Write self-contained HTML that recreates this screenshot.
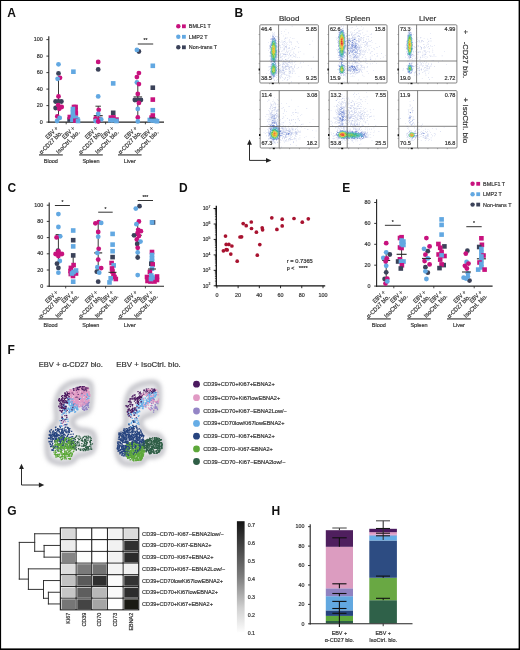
<!DOCTYPE html><html><head><meta charset="utf-8"><title>Figure</title><style>html,body{margin:0;padding:0;background:#fff;}svg{display:block;will-change:transform;} text{font-family:"Liberation Sans",sans-serif;stroke:#333;stroke-width:0.2px;} text.pl{stroke:none;}</style></head><body>
<svg width="520" height="650" viewBox="0 0 520 650" font-family="Liberation Sans, sans-serif">
<defs><filter id="blur4" x="-30%" y="-30%" width="160%" height="160%"><feGaussianBlur stdDeviation="3.6"/></filter><filter id="blur3" x="-30%" y="-30%" width="160%" height="160%"><feGaussianBlur stdDeviation="2.6"/></filter><filter id="blur2" x="-30%" y="-30%" width="160%" height="160%"><feGaussianBlur stdDeviation="2.1"/></filter></defs>
<rect x="0" y="0" width="520" height="650" fill="#ffffff"/>
<text x="7.3" y="16.9" font-size="12" font-weight="bold" fill="#111" class="pl">A</text>
<line x1="48.8" y1="36.3" x2="48.8" y2="122.7" stroke="#222" stroke-width="1.1"/>
<line x1="46.4" y1="122.1" x2="48.8" y2="122.1" stroke="#222" stroke-width="0.9"/>
<text x="42.8" y="123.6" font-size="5.4" text-anchor="end" fill="#3a3a3a">0</text>
<line x1="46.4" y1="105.6" x2="48.8" y2="105.6" stroke="#222" stroke-width="0.9"/>
<text x="42.8" y="107.1" font-size="5.4" text-anchor="end" fill="#3a3a3a">20</text>
<line x1="46.4" y1="89.1" x2="48.8" y2="89.1" stroke="#222" stroke-width="0.9"/>
<text x="42.8" y="90.6" font-size="5.4" text-anchor="end" fill="#3a3a3a">40</text>
<line x1="46.4" y1="72.6" x2="48.8" y2="72.6" stroke="#222" stroke-width="0.9"/>
<text x="42.8" y="74.1" font-size="5.4" text-anchor="end" fill="#3a3a3a">60</text>
<line x1="46.4" y1="56.1" x2="48.8" y2="56.1" stroke="#222" stroke-width="0.9"/>
<text x="42.8" y="57.6" font-size="5.4" text-anchor="end" fill="#3a3a3a">80</text>
<line x1="46.4" y1="39.6" x2="48.8" y2="39.6" stroke="#222" stroke-width="0.9"/>
<text x="42.8" y="41.1" font-size="5.4" text-anchor="end" fill="#3a3a3a">100</text>
<line x1="48.3" y1="122.1" x2="164" y2="122.1" stroke="#222" stroke-width="1.1"/>
<line x1="66.2" y1="122.1" x2="66.2" y2="124.3" stroke="#222" stroke-width="0.8"/>
<line x1="105.6" y1="122.1" x2="105.6" y2="124.3" stroke="#222" stroke-width="0.8"/>
<line x1="145.4" y1="122.1" x2="145.4" y2="124.3" stroke="#222" stroke-width="0.8"/>
<g transform="translate(58.3 128.8) rotate(-45)">
<text x="0" y="0" font-size="6" text-anchor="end" fill="#3a3a3a" textLength="15" lengthAdjust="spacingAndGlyphs">EBV +</text>
<text x="-0.2" y="6.3" font-size="6" text-anchor="end" fill="#3a3a3a" textLength="30" lengthAdjust="spacingAndGlyphs">α-CD27 blo.</text>
</g>
<g transform="translate(75.1 128.8) rotate(-45)">
<text x="0" y="0" font-size="6" text-anchor="end" fill="#3a3a3a" textLength="15" lengthAdjust="spacingAndGlyphs">EBV +</text>
<text x="0.8" y="6.3" font-size="6" text-anchor="end" fill="#3a3a3a" textLength="30.5" lengthAdjust="spacingAndGlyphs">IsoCtrl. blo.</text>
</g>
<g transform="translate(97.9 128.8) rotate(-45)">
<text x="0" y="0" font-size="6" text-anchor="end" fill="#3a3a3a" textLength="15" lengthAdjust="spacingAndGlyphs">EBV +</text>
<text x="-0.2" y="6.3" font-size="6" text-anchor="end" fill="#3a3a3a" textLength="30" lengthAdjust="spacingAndGlyphs">α-CD27 blo.</text>
</g>
<g transform="translate(114.1 128.8) rotate(-45)">
<text x="0" y="0" font-size="6" text-anchor="end" fill="#3a3a3a" textLength="15" lengthAdjust="spacingAndGlyphs">EBV +</text>
<text x="0.8" y="6.3" font-size="6" text-anchor="end" fill="#3a3a3a" textLength="30.5" lengthAdjust="spacingAndGlyphs">IsoCtrl. blo.</text>
</g>
<g transform="translate(137.4 128.8) rotate(-45)">
<text x="0" y="0" font-size="6" text-anchor="end" fill="#3a3a3a" textLength="15" lengthAdjust="spacingAndGlyphs">EBV +</text>
<text x="-0.2" y="6.3" font-size="6" text-anchor="end" fill="#3a3a3a" textLength="30" lengthAdjust="spacingAndGlyphs">α-CD27 blo.</text>
</g>
<g transform="translate(153.9 128.8) rotate(-45)">
<text x="0" y="0" font-size="6" text-anchor="end" fill="#3a3a3a" textLength="15" lengthAdjust="spacingAndGlyphs">EBV +</text>
<text x="0.8" y="6.3" font-size="6" text-anchor="end" fill="#3a3a3a" textLength="30.5" lengthAdjust="spacingAndGlyphs">IsoCtrl. blo.</text>
</g>
<line x1="39" y1="154.9" x2="62.8" y2="154.9" stroke="#5c5c5c" stroke-width="1.4"/>
<text x="50.9" y="162.9" font-size="5.5" text-anchor="middle" fill="#3a3a3a">Blood</text>
<line x1="79.2" y1="154.9" x2="102.8" y2="154.9" stroke="#5c5c5c" stroke-width="1.4"/>
<text x="91" y="162.9" font-size="5.5" text-anchor="middle" fill="#3a3a3a">Spleen</text>
<line x1="118" y1="154.9" x2="141.6" y2="154.9" stroke="#5c5c5c" stroke-width="1.4"/>
<text x="129.8" y="162.9" font-size="5.5" text-anchor="middle" fill="#3a3a3a">Liver</text>
<line x1="58.5" y1="79" x2="58.5" y2="116" stroke="#222" stroke-width="0.9"/>
<circle cx="58.5" cy="64.3" r="2.4" fill="#62a8e2"/>
<circle cx="58.5" cy="73.4" r="2.4" fill="#3b4259"/>
<circle cx="60" cy="77.8" r="2.4" fill="#c8127e"/>
<circle cx="57.6" cy="78.8" r="2.4" fill="#62a8e2"/>
<circle cx="58.5" cy="96.4" r="2.4" fill="#c8127e"/>
<circle cx="55.6" cy="101.5" r="2.4" fill="#3b4259"/>
<circle cx="58.5" cy="101.5" r="2.4" fill="#3b4259"/>
<circle cx="61.4" cy="101.5" r="2.4" fill="#3b4259"/>
<circle cx="55.6" cy="108" r="2.4" fill="#3b4259"/>
<circle cx="58.2" cy="105.2" r="2.4" fill="#c8127e"/>
<circle cx="61.7" cy="107" r="2.4" fill="#c8127e"/>
<circle cx="59.2" cy="108.8" r="2.4" fill="#c8127e"/>
<circle cx="57.3" cy="116.4" r="2.4" fill="#c8127e"/>
<circle cx="59.7" cy="117.9" r="2.4" fill="#62a8e2"/>
<circle cx="57.1" cy="121" r="2.4" fill="#62a8e2"/>
<rect x="71.1" y="69.4" width="4.6" height="4.6" fill="#62a8e2"/>
<rect x="71.7" y="104.7" width="4.6" height="4.6" fill="#c8127e"/>
<rect x="73.3" y="104.7" width="4.6" height="4.6" fill="#c8127e"/>
<rect x="73.3" y="107.7" width="4.6" height="4.6" fill="#c8127e"/>
<rect x="73.5" y="111.2" width="4.6" height="4.6" fill="#c8127e"/>
<rect x="70.6" y="106.7" width="4.6" height="4.6" fill="#62a8e2"/>
<rect x="70.6" y="110.5" width="4.6" height="4.6" fill="#62a8e2"/>
<rect x="67.3" y="117.3" width="4.6" height="4.6" fill="#3b4259"/>
<rect x="67.5" y="114.7" width="4.6" height="4.6" fill="#c8127e"/>
<rect x="73.6" y="115.6" width="4.6" height="4.6" fill="#62a8e2"/>
<rect x="75.1" y="117.1" width="4.6" height="4.6" fill="#62a8e2"/>
<rect x="70.1" y="117.5" width="4.6" height="4.6" fill="#62a8e2"/>
<rect x="73.1" y="118.3" width="4.6" height="4.6" fill="#c8127e"/>
<rect x="70.7" y="113.7" width="4.6" height="4.6" fill="#62a8e2"/>
<rect x="75.7" y="118.7" width="4.6" height="4.6" fill="#62a8e2"/>
<line x1="98.2" y1="106.2" x2="98.2" y2="121" stroke="#222" stroke-width="0.9"/>
<line x1="95.45" y1="106.2" x2="100.95" y2="106.2" stroke="#222" stroke-width="0.9"/>
<line x1="93.7" y1="115.7" x2="102.7" y2="115.7" stroke="#222" stroke-width="1.1"/>
<circle cx="98.2" cy="61.9" r="2.4" fill="#c8127e"/>
<circle cx="98.2" cy="69.4" r="2.4" fill="#3b4259"/>
<circle cx="98.2" cy="96.4" r="2.4" fill="#62a8e2"/>
<circle cx="98.7" cy="109.8" r="2.4" fill="#c8127e"/>
<circle cx="98.2" cy="113.8" r="2.4" fill="#62a8e2"/>
<circle cx="95.6" cy="118.4" r="2.4" fill="#c8127e"/>
<circle cx="99.7" cy="118.9" r="2.4" fill="#c8127e"/>
<circle cx="101.2" cy="119.4" r="2.4" fill="#62a8e2"/>
<circle cx="95.6" cy="121" r="2.4" fill="#62a8e2"/>
<circle cx="98.2" cy="121.5" r="2.4" fill="#c8127e"/>
<rect x="110.9" y="81.1" width="4.6" height="4.6" fill="#62a8e2"/>
<rect x="110.9" y="110.5" width="4.6" height="4.6" fill="#3b4259"/>
<rect x="108.6" y="115.3" width="4.6" height="4.6" fill="#c8127e"/>
<rect x="111.2" y="115.1" width="4.6" height="4.6" fill="#c8127e"/>
<rect x="114.2" y="117.3" width="4.6" height="4.6" fill="#c8127e"/>
<rect x="108.1" y="117.9" width="4.6" height="4.6" fill="#62a8e2"/>
<rect x="110.9" y="117.9" width="4.6" height="4.6" fill="#62a8e2"/>
<rect x="114.2" y="118.7" width="4.6" height="4.6" fill="#62a8e2"/>
<line x1="137.8" y1="84" x2="137.8" y2="117" stroke="#222" stroke-width="0.9"/>
<line x1="132.8" y1="98.9" x2="142.8" y2="98.9" stroke="#222" stroke-width="1.1"/>
<line x1="133.5" y1="96.9" x2="142.1" y2="96.9" stroke="#222" stroke-width="0.9"/>
<circle cx="138.9" cy="51.5" r="2.4" fill="#3b4259"/>
<circle cx="136.9" cy="49.9" r="2.4" fill="#62a8e2"/>
<circle cx="138.9" cy="73.1" r="2.4" fill="#c8127e"/>
<circle cx="136.9" cy="77.1" r="2.4" fill="#c8127e"/>
<circle cx="136.9" cy="82.4" r="2.4" fill="#62a8e2"/>
<circle cx="138.9" cy="84.1" r="2.4" fill="#c8127e"/>
<circle cx="137.8" cy="93.9" r="2.4" fill="#c8127e"/>
<circle cx="134.9" cy="100" r="2.4" fill="#3b4259"/>
<circle cx="137.8" cy="100" r="2.4" fill="#3b4259"/>
<circle cx="140.9" cy="100" r="2.4" fill="#3b4259"/>
<circle cx="138.9" cy="102.9" r="2.4" fill="#c8127e"/>
<circle cx="137.8" cy="108.9" r="2.4" fill="#62a8e2"/>
<circle cx="137.8" cy="117.5" r="2.4" fill="#c8127e"/>
<circle cx="137.8" cy="121.4" r="2.4" fill="#62a8e2"/>
<rect x="150.5" y="63.5" width="4.6" height="4.6" fill="#62a8e2"/>
<rect x="150.5" y="85.4" width="4.6" height="4.6" fill="#3b4259"/>
<rect x="150.5" y="97.3" width="4.6" height="4.6" fill="#c8127e"/>
<rect x="150.5" y="107.9" width="4.6" height="4.6" fill="#62a8e2"/>
<rect x="150.5" y="113.2" width="4.6" height="4.6" fill="#c8127e"/>
<rect x="149.3" y="115.3" width="4.6" height="4.6" fill="#c8127e"/>
<rect x="147.5" y="117.7" width="4.6" height="4.6" fill="#62a8e2"/>
<rect x="150.5" y="118.2" width="4.6" height="4.6" fill="#62a8e2"/>
<rect x="153.3" y="118.5" width="4.6" height="4.6" fill="#62a8e2"/>
<rect x="154.7" y="118.9" width="4.6" height="4.6" fill="#62a8e2"/>
<line x1="149.5" y1="118" x2="156.1" y2="118" stroke="#222" stroke-width="0.9"/>
<line x1="137.8" y1="44" x2="153.2" y2="44" stroke="#333" stroke-width="1"/>
<text x="145.5" y="42.4" font-size="5" text-anchor="middle" fill="#333">**</text>
<circle cx="178.3" cy="26.3" r="2.2" fill="#c8127e"/>
<rect x="182" y="24.4" width="3.8" height="3.8" fill="#c8127e"/>
<text x="188.8" y="28.2" font-size="5.4" fill="#3a3a3a">BMLF1 T</text>
<circle cx="178.3" cy="36.8" r="2.2" fill="#62a8e2"/>
<rect x="182" y="34.9" width="3.8" height="3.8" fill="#62a8e2"/>
<text x="188.8" y="38.7" font-size="5.4" fill="#3a3a3a">LMP2 T</text>
<circle cx="178.3" cy="47.3" r="2.2" fill="#3b4259"/>
<rect x="182" y="45.4" width="3.8" height="3.8" fill="#3b4259"/>
<text x="188.8" y="49.2" font-size="5.4" fill="#3a3a3a">Non-trans T</text>
<text x="234.5" y="16.9" font-size="12" font-weight="bold" fill="#111" class="pl">B</text>
<text x="289.2" y="20.9" font-size="8" text-anchor="middle" fill="#333">Blood</text>
<text x="357.8" y="20.9" font-size="8" text-anchor="middle" fill="#333">Spleen</text>
<text x="427.6" y="20.9" font-size="8" text-anchor="middle" fill="#333">Liver</text>
<rect x="259.8" y="24.8" width="58.6" height="58.2" fill="#ffffff"/>
<path d="M291.8 25.8h.62v.62h-.62zM285.6 28.9h.62v.62h-.62zM281.3 31.4h.62v.62h-.62zM284.4 31.4h.62v.62h-.62zM272.0 32.6h.62v.62h-.62zM274.4 32.6h.62v.62h-.62zM288.1 32.6h.62v.62h-.62zM273.2 33.2h.62v.62h-.62zM281.3 33.2h.62v.62h-.62zM273.2 33.9h.62v.62h-.62zM274.4 33.9h.62v.62h-.62zM285.6 33.9h.62v.62h-.62zM272.0 34.5h.62v.62h-.62zM278.8 34.5h.62v.62h-.62zM272.0 35.1h.62v.62h-.62zM273.8 35.1h.62v.62h-.62zM270.1 35.7h.62v.62h-.62zM272.0 35.7h.62v.62h-.62zM273.2 35.7h.62v.62h-.62zM283.1 35.7h.62v.62h-.62zM272.0 36.3h.62v.62h-.62zM275.1 36.3h.62v.62h-.62zM275.7 36.3h.62v.62h-.62zM276.9 36.3h.62v.62h-.62zM272.0 37.0h.62v.62h-.62zM279.4 37.0h.62v.62h-.62zM285.0 37.0h.62v.62h-.62zM289.9 37.0h.62v.62h-.62zM277.5 37.6h.62v.62h-.62zM286.8 37.6h.62v.62h-.62zM270.7 38.2h.62v.62h-.62zM285.0 38.2h.62v.62h-.62zM285.6 38.2h.62v.62h-.62zM292.4 38.2h.62v.62h-.62zM293.7 38.2h.62v.62h-.62zM270.7 38.8h.62v.62h-.62zM275.7 38.8h.62v.62h-.62zM279.4 38.8h.62v.62h-.62zM284.4 38.8h.62v.62h-.62zM270.1 39.4h.62v.62h-.62zM270.7 39.4h.62v.62h-.62zM279.4 39.4h.62v.62h-.62zM289.3 39.4h.62v.62h-.62zM281.3 40.7h.62v.62h-.62zM282.5 40.7h.62v.62h-.62zM285.0 40.7h.62v.62h-.62zM288.7 40.7h.62v.62h-.62zM289.3 40.7h.62v.62h-.62zM312.3 40.7h.62v.62h-.62zM276.9 41.3h.62v.62h-.62zM279.4 41.3h.62v.62h-.62zM283.7 41.3h.62v.62h-.62zM284.4 41.3h.62v.62h-.62zM290.6 41.3h.62v.62h-.62zM296.8 41.3h.62v.62h-.62zM280.6 41.9h.62v.62h-.62zM282.5 41.9h.62v.62h-.62zM285.0 41.9h.62v.62h-.62zM289.3 41.9h.62v.62h-.62zM290.6 41.9h.62v.62h-.62zM291.2 41.9h.62v.62h-.62zM268.2 42.5h.62v.62h-.62zM278.2 42.5h.62v.62h-.62zM283.1 42.5h.62v.62h-.62zM286.8 42.5h.62v.62h-.62zM297.4 42.5h.62v.62h-.62zM276.9 43.2h.62v.62h-.62zM284.4 43.2h.62v.62h-.62zM286.2 43.2h.62v.62h-.62zM298.0 43.2h.62v.62h-.62zM276.3 43.8h.62v.62h-.62zM277.5 43.8h.62v.62h-.62zM278.2 43.8h.62v.62h-.62zM281.9 43.8h.62v.62h-.62zM283.7 43.8h.62v.62h-.62zM291.2 43.8h.62v.62h-.62zM270.1 44.4h.62v.62h-.62zM278.8 44.4h.62v.62h-.62zM281.9 44.4h.62v.62h-.62zM285.6 44.4h.62v.62h-.62zM287.5 44.4h.62v.62h-.62zM309.2 44.4h.62v.62h-.62zM309.8 44.4h.62v.62h-.62zM269.5 45.0h.62v.62h-.62zM278.8 45.0h.62v.62h-.62zM286.2 45.0h.62v.62h-.62zM289.3 45.0h.62v.62h-.62zM269.5 45.6h.62v.62h-.62zM276.9 45.6h.62v.62h-.62zM279.4 45.6h.62v.62h-.62zM280.0 45.6h.62v.62h-.62zM283.1 45.6h.62v.62h-.62zM284.4 45.6h.62v.62h-.62zM269.5 46.3h.62v.62h-.62zM277.5 46.3h.62v.62h-.62zM278.2 46.3h.62v.62h-.62zM285.0 46.3h.62v.62h-.62zM285.6 46.3h.62v.62h-.62zM286.2 46.3h.62v.62h-.62zM295.5 46.3h.62v.62h-.62zM269.5 46.9h.62v.62h-.62zM276.9 46.9h.62v.62h-.62zM277.5 46.9h.62v.62h-.62zM278.2 46.9h.62v.62h-.62zM280.6 46.9h.62v.62h-.62zM282.5 46.9h.62v.62h-.62zM286.2 46.9h.62v.62h-.62zM288.7 46.9h.62v.62h-.62zM292.4 46.9h.62v.62h-.62zM298.0 46.9h.62v.62h-.62zM298.6 46.9h.62v.62h-.62zM280.0 47.5h.62v.62h-.62zM284.4 47.5h.62v.62h-.62zM285.0 47.5h.62v.62h-.62zM286.2 47.5h.62v.62h-.62zM289.3 47.5h.62v.62h-.62zM268.9 48.1h.62v.62h-.62zM278.2 48.1h.62v.62h-.62zM284.4 48.1h.62v.62h-.62zM288.1 48.1h.62v.62h-.62zM289.3 48.1h.62v.62h-.62zM294.3 48.1h.62v.62h-.62zM269.5 48.7h.62v.62h-.62zM276.9 48.7h.62v.62h-.62zM280.0 48.7h.62v.62h-.62zM283.1 48.7h.62v.62h-.62zM283.7 48.7h.62v.62h-.62zM286.2 48.7h.62v.62h-.62zM286.8 48.7h.62v.62h-.62zM291.8 48.7h.62v.62h-.62zM293.7 48.7h.62v.62h-.62zM277.5 49.4h.62v.62h-.62zM278.2 49.4h.62v.62h-.62zM278.8 49.4h.62v.62h-.62zM283.7 49.4h.62v.62h-.62zM284.4 49.4h.62v.62h-.62zM291.8 49.4h.62v.62h-.62zM268.2 50.0h.62v.62h-.62zM277.5 50.0h.62v.62h-.62zM286.2 50.0h.62v.62h-.62zM288.7 50.0h.62v.62h-.62zM276.9 50.6h.62v.62h-.62zM278.2 50.6h.62v.62h-.62zM278.8 50.6h.62v.62h-.62zM281.9 50.6h.62v.62h-.62zM283.7 50.6h.62v.62h-.62zM290.6 50.6h.62v.62h-.62zM276.9 51.2h.62v.62h-.62zM278.2 51.2h.62v.62h-.62zM278.8 51.2h.62v.62h-.62zM279.4 51.2h.62v.62h-.62zM281.3 51.2h.62v.62h-.62zM286.2 51.2h.62v.62h-.62zM286.8 51.2h.62v.62h-.62zM288.1 51.2h.62v.62h-.62zM299.9 51.2h.62v.62h-.62zM279.4 51.8h.62v.62h-.62zM293.0 51.8h.62v.62h-.62zM298.0 51.8h.62v.62h-.62zM269.5 52.5h.62v.62h-.62zM276.9 52.5h.62v.62h-.62zM277.5 52.5h.62v.62h-.62zM285.0 52.5h.62v.62h-.62zM286.8 52.5h.62v.62h-.62zM287.5 52.5h.62v.62h-.62zM289.9 52.5h.62v.62h-.62zM276.9 53.1h.62v.62h-.62zM280.6 53.1h.62v.62h-.62zM282.5 53.1h.62v.62h-.62zM283.7 53.1h.62v.62h-.62zM289.3 53.1h.62v.62h-.62zM293.7 53.1h.62v.62h-.62zM278.2 53.7h.62v.62h-.62zM285.6 53.7h.62v.62h-.62zM287.5 53.7h.62v.62h-.62zM303.6 53.7h.62v.62h-.62zM276.9 54.3h.62v.62h-.62zM277.5 54.3h.62v.62h-.62zM280.0 54.3h.62v.62h-.62zM283.1 54.3h.62v.62h-.62zM283.7 54.3h.62v.62h-.62zM284.4 54.3h.62v.62h-.62zM285.0 54.3h.62v.62h-.62zM285.6 54.3h.62v.62h-.62zM286.8 54.3h.62v.62h-.62zM289.3 54.3h.62v.62h-.62zM291.8 54.3h.62v.62h-.62zM295.5 54.3h.62v.62h-.62zM269.5 54.9h.62v.62h-.62zM276.9 54.9h.62v.62h-.62zM278.2 54.9h.62v.62h-.62zM278.8 54.9h.62v.62h-.62zM288.1 54.9h.62v.62h-.62zM290.6 54.9h.62v.62h-.62zM278.2 55.6h.62v.62h-.62zM280.0 55.6h.62v.62h-.62zM282.5 55.6h.62v.62h-.62zM285.6 55.6h.62v.62h-.62zM289.9 55.6h.62v.62h-.62zM290.6 55.6h.62v.62h-.62zM293.0 55.6h.62v.62h-.62zM295.5 55.6h.62v.62h-.62zM269.5 56.2h.62v.62h-.62zM270.1 56.2h.62v.62h-.62zM277.5 56.2h.62v.62h-.62zM281.3 56.2h.62v.62h-.62zM282.5 56.2h.62v.62h-.62zM285.6 56.2h.62v.62h-.62zM293.7 56.2h.62v.62h-.62zM294.3 56.2h.62v.62h-.62zM276.3 56.8h.62v.62h-.62zM276.9 56.8h.62v.62h-.62zM280.0 56.8h.62v.62h-.62zM284.4 56.8h.62v.62h-.62zM288.7 56.8h.62v.62h-.62zM295.5 56.8h.62v.62h-.62zM312.9 56.8h.62v.62h-.62zM276.3 57.4h.62v.62h-.62zM277.5 57.4h.62v.62h-.62zM278.2 57.4h.62v.62h-.62zM280.0 57.4h.62v.62h-.62zM281.3 57.4h.62v.62h-.62zM291.8 57.4h.62v.62h-.62zM297.4 57.4h.62v.62h-.62zM299.2 57.4h.62v.62h-.62zM276.3 58.0h.62v.62h-.62zM282.5 58.0h.62v.62h-.62zM288.1 58.0h.62v.62h-.62zM270.1 58.7h.62v.62h-.62zM280.6 58.7h.62v.62h-.62zM286.8 58.7h.62v.62h-.62zM277.5 59.3h.62v.62h-.62zM281.9 59.3h.62v.62h-.62zM285.0 59.3h.62v.62h-.62zM285.6 59.3h.62v.62h-.62zM290.6 59.3h.62v.62h-.62zM269.5 59.9h.62v.62h-.62zM270.1 59.9h.62v.62h-.62zM276.3 59.9h.62v.62h-.62zM279.4 59.9h.62v.62h-.62zM280.6 59.9h.62v.62h-.62zM291.8 59.9h.62v.62h-.62zM276.9 60.5h.62v.62h-.62zM278.8 60.5h.62v.62h-.62zM279.4 60.5h.62v.62h-.62zM280.6 60.5h.62v.62h-.62zM281.3 60.5h.62v.62h-.62zM283.1 60.5h.62v.62h-.62zM286.2 60.5h.62v.62h-.62zM287.5 60.5h.62v.62h-.62zM289.3 60.5h.62v.62h-.62zM278.2 61.1h.62v.62h-.62zM283.1 61.1h.62v.62h-.62zM284.4 61.1h.62v.62h-.62zM285.6 61.1h.62v.62h-.62zM289.3 61.1h.62v.62h-.62zM295.5 61.1h.62v.62h-.62zM270.1 61.8h.62v.62h-.62zM270.7 61.8h.62v.62h-.62zM286.8 61.8h.62v.62h-.62zM288.7 61.8h.62v.62h-.62zM291.2 61.8h.62v.62h-.62zM292.4 61.8h.62v.62h-.62zM294.3 61.8h.62v.62h-.62zM275.7 62.4h.62v.62h-.62zM276.9 62.4h.62v.62h-.62zM278.2 62.4h.62v.62h-.62zM282.5 62.4h.62v.62h-.62zM283.1 62.4h.62v.62h-.62zM284.4 62.4h.62v.62h-.62zM285.0 62.4h.62v.62h-.62zM285.6 62.4h.62v.62h-.62zM288.1 62.4h.62v.62h-.62zM288.7 62.4h.62v.62h-.62zM289.3 62.4h.62v.62h-.62zM289.9 62.4h.62v.62h-.62zM300.5 62.4h.62v.62h-.62zM303.0 62.4h.62v.62h-.62zM279.4 63.0h.62v.62h-.62zM281.9 63.0h.62v.62h-.62zM283.1 63.0h.62v.62h-.62zM285.0 63.0h.62v.62h-.62zM286.8 63.0h.62v.62h-.62zM289.9 63.0h.62v.62h-.62zM291.8 63.0h.62v.62h-.62zM299.9 63.0h.62v.62h-.62zM277.5 63.6h.62v.62h-.62zM278.2 63.6h.62v.62h-.62zM283.1 63.6h.62v.62h-.62zM283.7 63.6h.62v.62h-.62zM286.2 63.6h.62v.62h-.62zM286.8 63.6h.62v.62h-.62zM276.3 64.2h.62v.62h-.62zM280.0 64.2h.62v.62h-.62zM281.9 64.2h.62v.62h-.62zM282.5 64.2h.62v.62h-.62zM283.7 64.2h.62v.62h-.62zM284.4 64.2h.62v.62h-.62zM286.8 64.2h.62v.62h-.62zM287.5 64.2h.62v.62h-.62zM288.1 64.2h.62v.62h-.62zM291.8 64.2h.62v.62h-.62zM295.5 64.2h.62v.62h-.62zM278.8 64.9h.62v.62h-.62zM279.4 64.9h.62v.62h-.62zM282.5 64.9h.62v.62h-.62zM285.6 64.9h.62v.62h-.62zM288.7 64.9h.62v.62h-.62zM276.3 65.5h.62v.62h-.62zM278.2 65.5h.62v.62h-.62zM278.8 65.5h.62v.62h-.62zM280.0 65.5h.62v.62h-.62zM285.0 65.5h.62v.62h-.62zM286.8 65.5h.62v.62h-.62zM287.5 65.5h.62v.62h-.62zM294.3 65.5h.62v.62h-.62zM307.9 65.5h.62v.62h-.62zM268.9 66.1h.62v.62h-.62zM270.1 66.1h.62v.62h-.62zM276.9 66.1h.62v.62h-.62zM277.5 66.1h.62v.62h-.62zM281.9 66.1h.62v.62h-.62zM282.5 66.1h.62v.62h-.62zM283.7 66.1h.62v.62h-.62zM285.0 66.1h.62v.62h-.62zM285.6 66.1h.62v.62h-.62zM286.2 66.1h.62v.62h-.62zM286.8 66.1h.62v.62h-.62zM287.5 66.1h.62v.62h-.62zM288.1 66.1h.62v.62h-.62zM289.9 66.1h.62v.62h-.62zM291.2 66.1h.62v.62h-.62zM294.3 66.1h.62v.62h-.62zM268.2 66.7h.62v.62h-.62zM269.5 66.7h.62v.62h-.62zM280.6 66.7h.62v.62h-.62zM282.5 66.7h.62v.62h-.62zM285.6 66.7h.62v.62h-.62zM288.7 66.7h.62v.62h-.62zM291.2 66.7h.62v.62h-.62zM291.8 66.7h.62v.62h-.62zM301.1 66.7h.62v.62h-.62zM281.9 67.3h.62v.62h-.62zM283.1 67.3h.62v.62h-.62zM284.4 67.3h.62v.62h-.62zM285.0 67.3h.62v.62h-.62zM288.7 67.3h.62v.62h-.62zM289.3 67.3h.62v.62h-.62zM290.6 67.3h.62v.62h-.62zM294.3 67.3h.62v.62h-.62zM298.0 67.3h.62v.62h-.62zM277.5 68.0h.62v.62h-.62zM278.2 68.0h.62v.62h-.62zM281.9 68.0h.62v.62h-.62zM288.1 68.0h.62v.62h-.62zM288.7 68.0h.62v.62h-.62zM292.4 68.0h.62v.62h-.62zM293.0 68.0h.62v.62h-.62zM296.8 68.0h.62v.62h-.62zM270.1 68.6h.62v.62h-.62zM277.5 68.6h.62v.62h-.62zM280.0 68.6h.62v.62h-.62zM283.1 68.6h.62v.62h-.62zM285.0 68.6h.62v.62h-.62zM286.2 68.6h.62v.62h-.62zM289.3 68.6h.62v.62h-.62zM291.8 68.6h.62v.62h-.62zM311.0 68.6h.62v.62h-.62zM269.5 69.2h.62v.62h-.62zM276.9 69.2h.62v.62h-.62zM278.8 69.2h.62v.62h-.62zM279.4 69.2h.62v.62h-.62zM281.9 69.2h.62v.62h-.62zM285.0 69.2h.62v.62h-.62zM285.6 69.2h.62v.62h-.62zM286.2 69.2h.62v.62h-.62zM287.5 69.2h.62v.62h-.62zM289.3 69.2h.62v.62h-.62zM293.0 69.2h.62v.62h-.62zM278.2 69.8h.62v.62h-.62zM278.8 69.8h.62v.62h-.62zM279.4 69.8h.62v.62h-.62zM280.6 69.8h.62v.62h-.62zM281.9 69.8h.62v.62h-.62zM282.5 69.8h.62v.62h-.62zM288.7 69.8h.62v.62h-.62zM292.4 69.8h.62v.62h-.62zM268.2 70.4h.62v.62h-.62zM280.0 70.4h.62v.62h-.62zM280.6 70.4h.62v.62h-.62zM281.9 70.4h.62v.62h-.62zM283.1 70.4h.62v.62h-.62zM283.7 70.4h.62v.62h-.62zM290.6 70.4h.62v.62h-.62zM293.7 70.4h.62v.62h-.62zM270.1 71.1h.62v.62h-.62zM276.9 71.1h.62v.62h-.62zM278.8 71.1h.62v.62h-.62zM279.4 71.1h.62v.62h-.62zM280.0 71.1h.62v.62h-.62zM281.3 71.1h.62v.62h-.62zM285.6 71.1h.62v.62h-.62zM289.3 71.1h.62v.62h-.62zM289.9 71.1h.62v.62h-.62zM293.7 71.1h.62v.62h-.62zM282.5 71.7h.62v.62h-.62zM283.1 71.7h.62v.62h-.62zM283.7 71.7h.62v.62h-.62zM284.4 71.7h.62v.62h-.62zM288.1 71.7h.62v.62h-.62zM289.3 71.7h.62v.62h-.62zM289.9 71.7h.62v.62h-.62zM291.8 71.7h.62v.62h-.62zM292.4 71.7h.62v.62h-.62zM276.9 72.3h.62v.62h-.62zM279.4 72.3h.62v.62h-.62zM280.0 72.3h.62v.62h-.62zM281.3 72.3h.62v.62h-.62zM282.5 72.3h.62v.62h-.62zM284.4 72.3h.62v.62h-.62zM289.9 72.3h.62v.62h-.62zM269.5 72.9h.62v.62h-.62zM278.2 72.9h.62v.62h-.62zM278.8 72.9h.62v.62h-.62zM283.1 72.9h.62v.62h-.62zM284.4 72.9h.62v.62h-.62zM288.7 72.9h.62v.62h-.62zM266.4 73.5h.62v.62h-.62zM276.3 73.5h.62v.62h-.62zM276.9 73.5h.62v.62h-.62zM278.2 73.5h.62v.62h-.62zM280.6 73.5h.62v.62h-.62zM282.5 73.5h.62v.62h-.62zM283.7 73.5h.62v.62h-.62zM289.3 73.5h.62v.62h-.62zM289.9 73.5h.62v.62h-.62zM291.8 73.5h.62v.62h-.62zM292.4 73.5h.62v.62h-.62zM294.9 73.5h.62v.62h-.62zM278.2 74.2h.62v.62h-.62zM281.3 74.2h.62v.62h-.62zM281.9 74.2h.62v.62h-.62zM283.7 74.2h.62v.62h-.62zM284.4 74.2h.62v.62h-.62zM285.0 74.2h.62v.62h-.62zM270.7 74.8h.62v.62h-.62zM275.7 74.8h.62v.62h-.62zM276.3 74.8h.62v.62h-.62zM276.9 74.8h.62v.62h-.62zM281.3 74.8h.62v.62h-.62zM286.2 74.8h.62v.62h-.62zM286.8 74.8h.62v.62h-.62zM288.7 74.8h.62v.62h-.62zM270.7 75.4h.62v.62h-.62zM280.0 75.4h.62v.62h-.62zM288.7 75.4h.62v.62h-.62zM270.7 76.0h.62v.62h-.62zM275.1 76.0h.62v.62h-.62zM280.6 76.0h.62v.62h-.62zM281.3 76.0h.62v.62h-.62zM288.7 76.0h.62v.62h-.62zM298.6 76.0h.62v.62h-.62zM270.1 76.6h.62v.62h-.62zM274.4 76.6h.62v.62h-.62zM279.4 76.6h.62v.62h-.62zM289.3 76.6h.62v.62h-.62zM290.6 76.6h.62v.62h-.62zM270.7 77.3h.62v.62h-.62zM272.0 77.3h.62v.62h-.62zM273.2 77.3h.62v.62h-.62zM276.3 77.3h.62v.62h-.62zM280.0 77.3h.62v.62h-.62zM281.9 77.3h.62v.62h-.62zM285.0 77.3h.62v.62h-.62zM287.5 77.3h.62v.62h-.62zM267.0 77.9h.62v.62h-.62zM271.3 77.9h.62v.62h-.62zM272.6 77.9h.62v.62h-.62zM280.0 77.9h.62v.62h-.62zM283.7 77.9h.62v.62h-.62zM272.0 78.5h.62v.62h-.62zM273.2 78.5h.62v.62h-.62zM285.0 78.5h.62v.62h-.62zM289.3 78.5h.62v.62h-.62zM273.8 79.1h.62v.62h-.62zM277.5 79.1h.62v.62h-.62zM284.4 79.1h.62v.62h-.62zM287.5 79.1h.62v.62h-.62zM287.5 79.7h.62v.62h-.62zM273.8 80.4h.62v.62h-.62zM274.4 80.4h.62v.62h-.62zM276.3 80.4h.62v.62h-.62zM282.5 80.4h.62v.62h-.62zM286.8 80.4h.62v.62h-.62zM270.7 81.0h.62v.62h-.62zM291.2 81.6h.62v.62h-.62z" fill="#8090d0" fill-opacity="0.55"/>
<path d="M272.6 36.3h.62v.62h-.62zM273.2 36.3h.62v.62h-.62zM273.2 37.0h.62v.62h-.62zM272.6 37.6h.62v.62h-.62zM273.8 37.6h.62v.62h-.62zM274.4 37.6h.62v.62h-.62zM271.3 38.2h.62v.62h-.62zM272.0 38.2h.62v.62h-.62zM272.6 38.2h.62v.62h-.62zM273.2 38.2h.62v.62h-.62zM273.8 38.2h.62v.62h-.62zM274.4 38.2h.62v.62h-.62zM272.0 38.8h.62v.62h-.62zM273.8 38.8h.62v.62h-.62zM274.4 38.8h.62v.62h-.62zM275.1 38.8h.62v.62h-.62zM271.3 39.4h.62v.62h-.62zM272.0 39.4h.62v.62h-.62zM272.6 39.4h.62v.62h-.62zM275.1 39.4h.62v.62h-.62zM272.0 40.1h.62v.62h-.62zM274.4 40.1h.62v.62h-.62zM275.1 40.1h.62v.62h-.62zM275.7 40.1h.62v.62h-.62zM271.3 40.7h.62v.62h-.62zM275.1 40.7h.62v.62h-.62zM275.7 40.7h.62v.62h-.62zM270.7 41.3h.62v.62h-.62zM275.7 41.9h.62v.62h-.62zM270.7 42.5h.62v.62h-.62zM275.7 42.5h.62v.62h-.62zM270.7 43.2h.62v.62h-.62zM275.7 43.2h.62v.62h-.62zM276.3 43.2h.62v.62h-.62zM270.7 43.8h.62v.62h-.62zM275.7 43.8h.62v.62h-.62zM270.7 44.4h.62v.62h-.62zM275.7 45.0h.62v.62h-.62zM276.3 45.0h.62v.62h-.62zM270.1 45.6h.62v.62h-.62zM270.1 46.3h.62v.62h-.62zM270.7 46.3h.62v.62h-.62zM276.3 46.3h.62v.62h-.62zM270.1 46.9h.62v.62h-.62zM270.1 47.5h.62v.62h-.62zM276.3 47.5h.62v.62h-.62zM270.1 48.7h.62v.62h-.62zM276.3 48.7h.62v.62h-.62zM276.3 50.0h.62v.62h-.62zM276.3 50.6h.62v.62h-.62zM270.1 51.2h.62v.62h-.62zM276.3 51.2h.62v.62h-.62zM270.1 51.8h.62v.62h-.62zM276.3 51.8h.62v.62h-.62zM270.1 52.5h.62v.62h-.62zM276.3 52.5h.62v.62h-.62zM270.1 53.1h.62v.62h-.62zM276.3 53.1h.62v.62h-.62zM270.7 53.7h.62v.62h-.62zM270.7 54.3h.62v.62h-.62zM276.3 54.3h.62v.62h-.62zM270.7 54.9h.62v.62h-.62zM275.7 54.9h.62v.62h-.62zM270.1 55.6h.62v.62h-.62zM275.7 55.6h.62v.62h-.62zM276.3 55.6h.62v.62h-.62zM270.7 56.2h.62v.62h-.62zM275.7 56.8h.62v.62h-.62zM270.7 57.4h.62v.62h-.62zM275.7 57.4h.62v.62h-.62zM270.7 58.0h.62v.62h-.62zM275.1 58.0h.62v.62h-.62zM275.7 58.0h.62v.62h-.62zM270.7 58.7h.62v.62h-.62zM271.3 58.7h.62v.62h-.62zM275.7 58.7h.62v.62h-.62zM270.7 59.3h.62v.62h-.62zM275.7 59.3h.62v.62h-.62zM271.3 59.9h.62v.62h-.62zM272.0 59.9h.62v.62h-.62zM275.1 59.9h.62v.62h-.62zM271.3 60.5h.62v.62h-.62zM272.0 60.5h.62v.62h-.62zM274.4 60.5h.62v.62h-.62zM275.1 60.5h.62v.62h-.62zM275.7 60.5h.62v.62h-.62zM271.3 61.1h.62v.62h-.62zM275.1 61.1h.62v.62h-.62zM271.3 61.8h.62v.62h-.62zM274.4 62.4h.62v.62h-.62zM275.1 62.4h.62v.62h-.62zM275.1 63.0h.62v.62h-.62zM275.7 63.0h.62v.62h-.62zM271.3 63.6h.62v.62h-.62zM275.1 63.6h.62v.62h-.62zM270.7 64.2h.62v.62h-.62zM271.3 64.2h.62v.62h-.62zM276.3 64.9h.62v.62h-.62zM270.7 65.5h.62v.62h-.62zM275.1 65.5h.62v.62h-.62zM270.7 66.1h.62v.62h-.62zM275.7 66.1h.62v.62h-.62zM270.7 67.3h.62v.62h-.62zM275.7 67.3h.62v.62h-.62zM276.3 67.3h.62v.62h-.62zM283.7 68.0h.62v.62h-.62zM270.7 68.6h.62v.62h-.62zM275.7 69.8h.62v.62h-.62zM276.3 69.8h.62v.62h-.62zM283.1 69.8h.62v.62h-.62zM270.7 70.4h.62v.62h-.62zM276.3 70.4h.62v.62h-.62zM275.7 71.1h.62v.62h-.62zM270.1 71.7h.62v.62h-.62zM270.7 71.7h.62v.62h-.62zM275.7 71.7h.62v.62h-.62zM276.3 71.7h.62v.62h-.62zM270.7 72.3h.62v.62h-.62zM275.7 72.3h.62v.62h-.62zM270.7 72.9h.62v.62h-.62zM275.1 72.9h.62v.62h-.62zM275.7 72.9h.62v.62h-.62zM270.7 73.5h.62v.62h-.62zM271.3 73.5h.62v.62h-.62zM275.7 73.5h.62v.62h-.62zM270.7 74.2h.62v.62h-.62zM271.3 74.2h.62v.62h-.62zM275.1 74.2h.62v.62h-.62zM271.3 74.8h.62v.62h-.62zM272.0 74.8h.62v.62h-.62zM273.8 74.8h.62v.62h-.62zM272.6 75.4h.62v.62h-.62zM273.2 75.4h.62v.62h-.62zM273.8 75.4h.62v.62h-.62zM274.4 75.4h.62v.62h-.62zM272.6 76.0h.62v.62h-.62zM273.2 76.0h.62v.62h-.62zM273.8 76.0h.62v.62h-.62zM274.4 76.0h.62v.62h-.62zM273.2 76.6h.62v.62h-.62z" fill="#5570c8" fill-opacity="0.8"/>
<path d="M273.2 38.8h.7v.7h-.7zM273.2 39.4h.7v.7h-.7zM273.8 39.4h.7v.7h-.7zM273.8 40.1h.7v.7h-.7zM272.0 40.7h.7v.7h-.7zM272.6 40.7h.7v.7h-.7zM274.4 40.7h.7v.7h-.7zM272.0 41.3h.7v.7h-.7zM275.1 41.3h.7v.7h-.7zM271.3 41.9h.7v.7h-.7zM274.4 41.9h.7v.7h-.7zM275.1 41.9h.7v.7h-.7zM275.1 42.5h.7v.7h-.7zM271.3 43.2h.7v.7h-.7zM271.3 43.8h.7v.7h-.7zM271.3 44.4h.7v.7h-.7zM275.1 44.4h.7v.7h-.7zM270.7 45.0h.7v.7h-.7zM271.3 45.0h.7v.7h-.7zM275.1 45.0h.7v.7h-.7zM275.7 45.6h.7v.7h-.7zM275.7 46.3h.7v.7h-.7zM270.7 46.9h.7v.7h-.7zM270.7 47.5h.7v.7h-.7zM275.7 47.5h.7v.7h-.7zM270.7 48.1h.7v.7h-.7zM275.7 48.1h.7v.7h-.7zM270.7 48.7h.7v.7h-.7zM275.7 48.7h.7v.7h-.7zM275.7 49.4h.7v.7h-.7zM270.7 50.0h.7v.7h-.7zM275.7 50.0h.7v.7h-.7zM270.7 50.6h.7v.7h-.7zM270.7 51.2h.7v.7h-.7zM270.7 51.8h.7v.7h-.7zM275.7 51.8h.7v.7h-.7zM270.7 52.5h.7v.7h-.7zM275.7 52.5h.7v.7h-.7zM270.7 53.1h.7v.7h-.7zM275.7 53.7h.7v.7h-.7zM271.3 54.3h.7v.7h-.7zM275.7 54.3h.7v.7h-.7zM275.7 56.2h.7v.7h-.7zM271.3 56.8h.7v.7h-.7zM275.1 56.8h.7v.7h-.7zM271.3 57.4h.7v.7h-.7zM272.0 57.4h.7v.7h-.7zM275.1 57.4h.7v.7h-.7zM271.3 58.0h.7v.7h-.7zM272.0 58.7h.7v.7h-.7zM274.4 58.7h.7v.7h-.7zM271.3 59.3h.7v.7h-.7zM272.0 59.3h.7v.7h-.7zM275.1 59.3h.7v.7h-.7zM273.2 59.9h.7v.7h-.7zM274.4 59.9h.7v.7h-.7zM272.6 60.5h.7v.7h-.7zM272.6 61.1h.7v.7h-.7zM273.2 61.1h.7v.7h-.7zM273.8 61.1h.7v.7h-.7zM274.4 61.1h.7v.7h-.7zM272.6 61.8h.7v.7h-.7zM273.8 61.8h.7v.7h-.7zM274.4 61.8h.7v.7h-.7zM273.8 62.4h.7v.7h-.7zM272.0 63.0h.7v.7h-.7zM272.6 63.0h.7v.7h-.7zM273.2 63.0h.7v.7h-.7zM272.0 63.6h.7v.7h-.7zM273.8 63.6h.7v.7h-.7zM272.0 64.2h.7v.7h-.7zM273.8 64.2h.7v.7h-.7zM274.4 64.2h.7v.7h-.7zM275.1 64.2h.7v.7h-.7zM272.0 64.9h.7v.7h-.7zM274.4 64.9h.7v.7h-.7zM275.1 64.9h.7v.7h-.7zM271.3 65.5h.7v.7h-.7zM271.3 66.1h.7v.7h-.7zM275.1 66.7h.7v.7h-.7zM275.7 66.7h.7v.7h-.7zM270.7 68.0h.7v.7h-.7zM275.7 68.0h.7v.7h-.7zM275.7 68.6h.7v.7h-.7zM275.7 69.2h.7v.7h-.7zM270.7 69.8h.7v.7h-.7zM275.7 70.4h.7v.7h-.7zM270.7 71.1h.7v.7h-.7zM271.3 72.3h.7v.7h-.7zM275.1 72.3h.7v.7h-.7zM271.3 72.9h.7v.7h-.7zM272.0 72.9h.7v.7h-.7zM274.4 73.5h.7v.7h-.7zM272.0 74.2h.7v.7h-.7zM272.6 74.2h.7v.7h-.7zM273.2 74.2h.7v.7h-.7zM272.6 74.8h.7v.7h-.7zM273.2 74.8h.7v.7h-.7z" fill="#3f95c8" fill-opacity="0.9"/>
<path d="M272.6 40.1h.7v.7h-.7zM273.2 40.7h.7v.7h-.7zM273.8 40.7h.7v.7h-.7zM272.6 41.3h.7v.7h-.7zM273.2 41.3h.7v.7h-.7zM274.4 41.3h.7v.7h-.7zM272.0 41.9h.7v.7h-.7zM272.6 41.9h.7v.7h-.7zM273.8 41.9h.7v.7h-.7zM272.0 42.5h.7v.7h-.7zM272.6 42.5h.7v.7h-.7zM273.8 42.5h.7v.7h-.7zM274.4 42.5h.7v.7h-.7zM272.0 43.2h.7v.7h-.7zM273.8 43.2h.7v.7h-.7zM275.1 43.2h.7v.7h-.7zM272.0 43.8h.7v.7h-.7zM272.6 43.8h.7v.7h-.7zM274.4 43.8h.7v.7h-.7zM275.1 43.8h.7v.7h-.7zM272.0 44.4h.7v.7h-.7zM273.8 44.4h.7v.7h-.7zM274.4 44.4h.7v.7h-.7zM274.4 45.0h.7v.7h-.7zM271.3 45.6h.7v.7h-.7zM275.1 45.6h.7v.7h-.7zM275.1 46.3h.7v.7h-.7zM271.3 46.9h.7v.7h-.7zM275.7 46.9h.7v.7h-.7zM275.1 47.5h.7v.7h-.7zM271.3 48.1h.7v.7h-.7zM275.1 48.1h.7v.7h-.7zM275.1 48.7h.7v.7h-.7zM270.7 49.4h.7v.7h-.7zM275.1 49.4h.7v.7h-.7zM271.3 50.0h.7v.7h-.7zM275.1 50.0h.7v.7h-.7zM271.3 50.6h.7v.7h-.7zM275.1 50.6h.7v.7h-.7zM275.7 50.6h.7v.7h-.7zM275.7 51.2h.7v.7h-.7zM271.3 51.8h.7v.7h-.7zM275.1 51.8h.7v.7h-.7zM275.1 52.5h.7v.7h-.7zM271.3 53.1h.7v.7h-.7zM275.1 53.1h.7v.7h-.7zM271.3 53.7h.7v.7h-.7zM275.1 53.7h.7v.7h-.7zM274.4 54.3h.7v.7h-.7zM275.1 54.3h.7v.7h-.7zM271.3 54.9h.7v.7h-.7zM272.0 54.9h.7v.7h-.7zM275.1 54.9h.7v.7h-.7zM271.3 55.6h.7v.7h-.7zM272.0 55.6h.7v.7h-.7zM274.4 55.6h.7v.7h-.7zM275.1 55.6h.7v.7h-.7zM271.3 56.2h.7v.7h-.7zM272.0 56.2h.7v.7h-.7zM273.8 56.2h.7v.7h-.7zM275.1 56.2h.7v.7h-.7zM272.0 56.8h.7v.7h-.7zM274.4 56.8h.7v.7h-.7zM272.6 57.4h.7v.7h-.7zM274.4 57.4h.7v.7h-.7zM272.0 58.0h.7v.7h-.7zM272.6 58.0h.7v.7h-.7zM273.2 58.0h.7v.7h-.7zM273.8 58.0h.7v.7h-.7zM274.4 58.0h.7v.7h-.7zM272.6 58.7h.7v.7h-.7zM273.2 58.7h.7v.7h-.7zM273.8 58.7h.7v.7h-.7zM272.6 59.3h.7v.7h-.7zM273.2 59.3h.7v.7h-.7zM273.8 59.3h.7v.7h-.7zM274.4 59.3h.7v.7h-.7zM272.6 59.9h.7v.7h-.7zM273.8 59.9h.7v.7h-.7zM273.2 60.5h.7v.7h-.7zM273.8 60.5h.7v.7h-.7zM273.2 63.6h.7v.7h-.7zM272.6 64.2h.7v.7h-.7zM273.2 64.2h.7v.7h-.7zM272.6 64.9h.7v.7h-.7zM273.2 64.9h.7v.7h-.7zM273.8 64.9h.7v.7h-.7zM272.0 65.5h.7v.7h-.7zM272.6 65.5h.7v.7h-.7zM273.2 65.5h.7v.7h-.7zM274.4 65.5h.7v.7h-.7zM272.0 66.1h.7v.7h-.7zM273.8 66.1h.7v.7h-.7zM274.4 66.1h.7v.7h-.7zM275.1 66.1h.7v.7h-.7zM271.3 66.7h.7v.7h-.7zM272.6 66.7h.7v.7h-.7zM274.4 66.7h.7v.7h-.7zM271.3 67.3h.7v.7h-.7zM272.6 67.3h.7v.7h-.7zM275.1 67.3h.7v.7h-.7zM271.3 68.0h.7v.7h-.7zM272.0 68.0h.7v.7h-.7zM274.4 68.0h.7v.7h-.7zM275.1 68.0h.7v.7h-.7zM271.3 68.6h.7v.7h-.7zM272.0 68.6h.7v.7h-.7zM275.1 68.6h.7v.7h-.7zM271.3 69.2h.7v.7h-.7zM274.4 69.2h.7v.7h-.7zM275.1 69.2h.7v.7h-.7zM271.3 69.8h.7v.7h-.7zM275.1 69.8h.7v.7h-.7zM271.3 70.4h.7v.7h-.7zM272.0 70.4h.7v.7h-.7zM275.1 70.4h.7v.7h-.7zM271.3 71.1h.7v.7h-.7zM275.1 71.1h.7v.7h-.7zM271.3 71.7h.7v.7h-.7zM274.4 71.7h.7v.7h-.7zM275.1 71.7h.7v.7h-.7zM272.0 72.3h.7v.7h-.7zM272.6 72.3h.7v.7h-.7zM273.2 72.3h.7v.7h-.7zM273.8 72.3h.7v.7h-.7zM274.4 72.3h.7v.7h-.7zM272.6 72.9h.7v.7h-.7zM273.2 72.9h.7v.7h-.7zM274.4 72.9h.7v.7h-.7zM272.0 73.5h.7v.7h-.7zM272.6 73.5h.7v.7h-.7zM273.2 73.5h.7v.7h-.7zM273.8 73.5h.7v.7h-.7zM273.8 74.2h.7v.7h-.7z" fill="#3fb59a" fill-opacity="1"/>
<path d="M273.2 42.5h.7v.7h-.7zM272.6 43.2h.7v.7h-.7zM273.2 43.2h.7v.7h-.7zM274.4 43.2h.7v.7h-.7zM273.2 43.8h.7v.7h-.7zM273.8 43.8h.7v.7h-.7zM272.6 44.4h.7v.7h-.7zM273.2 44.4h.7v.7h-.7zM272.0 45.0h.7v.7h-.7zM273.8 45.0h.7v.7h-.7zM272.0 45.6h.7v.7h-.7zM272.6 45.6h.7v.7h-.7zM273.2 45.6h.7v.7h-.7zM274.4 45.6h.7v.7h-.7zM274.4 46.3h.7v.7h-.7zM272.0 46.9h.7v.7h-.7zM274.4 46.9h.7v.7h-.7zM275.1 46.9h.7v.7h-.7zM271.3 47.5h.7v.7h-.7zM272.0 47.5h.7v.7h-.7zM274.4 47.5h.7v.7h-.7zM272.0 48.1h.7v.7h-.7zM271.3 48.7h.7v.7h-.7zM272.0 48.7h.7v.7h-.7zM271.3 49.4h.7v.7h-.7zM272.0 49.4h.7v.7h-.7zM272.0 50.0h.7v.7h-.7zM274.4 50.6h.7v.7h-.7zM271.3 51.2h.7v.7h-.7zM275.1 51.2h.7v.7h-.7zM272.0 51.8h.7v.7h-.7zM271.3 52.5h.7v.7h-.7zM272.0 52.5h.7v.7h-.7zM274.4 52.5h.7v.7h-.7zM272.0 53.1h.7v.7h-.7zM273.8 53.1h.7v.7h-.7zM272.0 53.7h.7v.7h-.7zM272.6 53.7h.7v.7h-.7zM273.8 53.7h.7v.7h-.7zM274.4 53.7h.7v.7h-.7zM272.0 54.3h.7v.7h-.7zM272.6 54.3h.7v.7h-.7zM273.8 54.3h.7v.7h-.7zM272.6 54.9h.7v.7h-.7zM273.2 54.9h.7v.7h-.7zM274.4 54.9h.7v.7h-.7zM272.6 55.6h.7v.7h-.7zM273.2 55.6h.7v.7h-.7zM272.6 56.2h.7v.7h-.7zM273.2 56.2h.7v.7h-.7zM272.6 56.8h.7v.7h-.7zM273.2 56.8h.7v.7h-.7zM273.8 56.8h.7v.7h-.7zM273.2 57.4h.7v.7h-.7zM273.8 57.4h.7v.7h-.7zM273.8 65.5h.7v.7h-.7zM272.6 66.1h.7v.7h-.7zM273.2 66.1h.7v.7h-.7zM272.0 66.7h.7v.7h-.7zM273.2 66.7h.7v.7h-.7zM273.8 66.7h.7v.7h-.7zM272.0 67.3h.7v.7h-.7zM273.2 67.3h.7v.7h-.7zM273.8 67.3h.7v.7h-.7zM274.4 67.3h.7v.7h-.7zM272.6 68.0h.7v.7h-.7zM273.2 68.0h.7v.7h-.7zM273.8 68.6h.7v.7h-.7zM274.4 68.6h.7v.7h-.7zM272.0 69.2h.7v.7h-.7zM272.0 69.8h.7v.7h-.7zM273.8 69.8h.7v.7h-.7zM274.4 69.8h.7v.7h-.7zM272.6 70.4h.7v.7h-.7zM273.2 70.4h.7v.7h-.7zM274.4 70.4h.7v.7h-.7zM272.0 71.1h.7v.7h-.7zM272.6 71.1h.7v.7h-.7zM274.4 71.1h.7v.7h-.7zM272.0 71.7h.7v.7h-.7zM272.6 71.7h.7v.7h-.7zM273.2 71.7h.7v.7h-.7zM273.8 71.7h.7v.7h-.7zM273.8 72.9h.7v.7h-.7z" fill="#6cc040" fill-opacity="1"/>
<path d="M272.6 45.0h.7v.7h-.7zM273.2 45.0h.7v.7h-.7zM273.8 45.6h.7v.7h-.7zM272.0 46.3h.7v.7h-.7zM272.6 46.3h.7v.7h-.7zM273.2 46.3h.7v.7h-.7zM273.8 46.3h.7v.7h-.7zM272.6 46.9h.7v.7h-.7zM273.2 46.9h.7v.7h-.7zM273.8 46.9h.7v.7h-.7zM272.6 47.5h.7v.7h-.7zM273.8 47.5h.7v.7h-.7zM274.4 48.1h.7v.7h-.7zM274.4 48.7h.7v.7h-.7zM272.6 49.4h.7v.7h-.7zM273.8 49.4h.7v.7h-.7zM274.4 49.4h.7v.7h-.7zM273.2 50.0h.7v.7h-.7zM274.4 50.0h.7v.7h-.7zM272.0 50.6h.7v.7h-.7zM272.6 50.6h.7v.7h-.7zM272.0 51.2h.7v.7h-.7zM272.6 51.2h.7v.7h-.7zM273.8 51.2h.7v.7h-.7zM274.4 51.2h.7v.7h-.7zM272.6 51.8h.7v.7h-.7zM274.4 51.8h.7v.7h-.7zM272.6 53.1h.7v.7h-.7zM273.2 53.1h.7v.7h-.7zM274.4 53.1h.7v.7h-.7zM273.2 53.7h.7v.7h-.7zM273.2 54.3h.7v.7h-.7zM273.8 54.9h.7v.7h-.7zM273.8 55.6h.7v.7h-.7zM273.8 68.0h.7v.7h-.7zM272.6 68.6h.7v.7h-.7zM273.2 68.6h.7v.7h-.7zM272.6 69.2h.7v.7h-.7zM273.8 69.2h.7v.7h-.7zM272.6 69.8h.7v.7h-.7zM273.2 69.8h.7v.7h-.7zM273.8 70.4h.7v.7h-.7zM273.2 71.1h.7v.7h-.7zM273.8 71.1h.7v.7h-.7z" fill="#c0d028" fill-opacity="1"/>
<path d="M273.2 47.5h.7v.7h-.7zM272.6 48.1h.7v.7h-.7zM273.2 48.1h.7v.7h-.7zM273.8 48.1h.7v.7h-.7zM272.6 48.7h.7v.7h-.7zM273.2 48.7h.7v.7h-.7zM273.8 48.7h.7v.7h-.7zM273.2 49.4h.7v.7h-.7zM272.6 50.0h.7v.7h-.7zM273.8 50.0h.7v.7h-.7zM273.2 50.6h.7v.7h-.7zM273.8 50.6h.7v.7h-.7zM273.2 51.2h.7v.7h-.7zM273.2 51.8h.7v.7h-.7zM273.8 51.8h.7v.7h-.7zM272.6 52.5h.7v.7h-.7zM273.2 52.5h.7v.7h-.7zM273.8 52.5h.7v.7h-.7zM273.2 69.2h.7v.7h-.7z" fill="#f2b41e" fill-opacity="1"/>
<line x1="278.6" y1="24.8" x2="278.6" y2="83" stroke="#555" stroke-width="0.75"/>
<line x1="259.8" y1="61.2" x2="318.4" y2="61.2" stroke="#555" stroke-width="0.75"/>
<rect x="259.8" y="24.8" width="58.6" height="58.2" rx="1" fill="none" stroke="#666" stroke-width="0.8"/>
<line x1="258.6" y1="34.5" x2="259.8" y2="34.5" stroke="#666" stroke-width="0.5"/>
<line x1="269.57" y1="83" x2="269.57" y2="84.2" stroke="#666" stroke-width="0.5"/>
<line x1="258.6" y1="44.2" x2="259.8" y2="44.2" stroke="#666" stroke-width="0.5"/>
<line x1="279.33" y1="83" x2="279.33" y2="84.2" stroke="#666" stroke-width="0.5"/>
<line x1="258.6" y1="53.9" x2="259.8" y2="53.9" stroke="#666" stroke-width="0.5"/>
<line x1="289.1" y1="83" x2="289.1" y2="84.2" stroke="#666" stroke-width="0.5"/>
<line x1="258.6" y1="63.6" x2="259.8" y2="63.6" stroke="#666" stroke-width="0.5"/>
<line x1="298.87" y1="83" x2="298.87" y2="84.2" stroke="#666" stroke-width="0.5"/>
<line x1="258.6" y1="73.3" x2="259.8" y2="73.3" stroke="#666" stroke-width="0.5"/>
<line x1="308.63" y1="83" x2="308.63" y2="84.2" stroke="#666" stroke-width="0.5"/>
<rect x="258.6" y="68.5" width="1.4" height="2" fill="#111"/>
<rect x="271.8" y="82.8" width="2" height="1.4" fill="#111"/>
<text x="261.1" y="31.2" font-size="5.5" fill="#333">46.4</text>
<text x="316.8" y="31.2" font-size="5.5" text-anchor="end" fill="#333">5.85</text>
<text x="261.1" y="80.4" font-size="5.5" fill="#333">38.5</text>
<text x="316.8" y="80.4" font-size="5.5" text-anchor="end" fill="#333">9.25</text>
<rect x="328.6" y="24.8" width="58.4" height="58.2" fill="#ffffff"/>
<path d="M340.8 25.8h.62v.62h-.62zM343.2 25.8h.62v.62h-.62zM356.3 25.8h.62v.62h-.62zM341.4 26.4h.62v.62h-.62zM361.2 26.4h.62v.62h-.62zM351.9 27.0h.62v.62h-.62zM343.2 27.7h.62v.62h-.62zM345.7 27.7h.62v.62h-.62zM350.7 27.7h.62v.62h-.62zM363.1 27.7h.62v.62h-.62zM342.0 28.3h.62v.62h-.62zM342.6 28.3h.62v.62h-.62zM357.5 28.3h.62v.62h-.62zM348.2 28.9h.62v.62h-.62zM362.5 28.9h.62v.62h-.62zM339.5 29.5h.62v.62h-.62zM355.6 29.5h.62v.62h-.62zM339.5 30.1h.62v.62h-.62zM354.4 30.1h.62v.62h-.62zM358.7 30.1h.62v.62h-.62zM360.6 30.1h.62v.62h-.62zM338.3 30.8h.62v.62h-.62zM347.6 30.8h.62v.62h-.62zM359.4 30.8h.62v.62h-.62zM366.8 30.8h.62v.62h-.62zM347.0 31.4h.62v.62h-.62zM350.7 31.4h.62v.62h-.62zM358.1 31.4h.62v.62h-.62zM338.3 32.0h.62v.62h-.62zM350.1 32.0h.62v.62h-.62zM351.9 32.0h.62v.62h-.62zM353.8 32.0h.62v.62h-.62zM357.5 32.0h.62v.62h-.62zM356.3 32.6h.62v.62h-.62zM356.9 32.6h.62v.62h-.62zM362.5 32.6h.62v.62h-.62zM337.7 33.2h.62v.62h-.62zM345.1 33.2h.62v.62h-.62zM346.3 33.2h.62v.62h-.62zM351.3 33.2h.62v.62h-.62zM351.9 33.2h.62v.62h-.62zM355.6 33.2h.62v.62h-.62zM358.1 33.2h.62v.62h-.62zM359.4 33.2h.62v.62h-.62zM360.0 33.2h.62v.62h-.62zM371.1 33.2h.62v.62h-.62zM338.3 33.9h.62v.62h-.62zM348.8 33.9h.62v.62h-.62zM351.3 33.9h.62v.62h-.62zM353.8 33.9h.62v.62h-.62zM355.6 33.9h.62v.62h-.62zM351.3 34.5h.62v.62h-.62zM351.9 34.5h.62v.62h-.62zM354.4 34.5h.62v.62h-.62zM355.0 34.5h.62v.62h-.62zM360.0 34.5h.62v.62h-.62zM365.6 34.5h.62v.62h-.62zM369.9 34.5h.62v.62h-.62zM371.1 34.5h.62v.62h-.62zM344.5 35.1h.62v.62h-.62zM346.3 35.1h.62v.62h-.62zM348.2 35.1h.62v.62h-.62zM348.8 35.1h.62v.62h-.62zM349.4 35.1h.62v.62h-.62zM351.3 35.1h.62v.62h-.62zM353.2 35.1h.62v.62h-.62zM358.1 35.1h.62v.62h-.62zM363.7 35.1h.62v.62h-.62zM347.0 35.7h.62v.62h-.62zM351.9 35.7h.62v.62h-.62zM353.8 35.7h.62v.62h-.62zM354.4 35.7h.62v.62h-.62zM355.6 35.7h.62v.62h-.62zM356.9 35.7h.62v.62h-.62zM358.1 35.7h.62v.62h-.62zM359.4 35.7h.62v.62h-.62zM345.7 36.3h.62v.62h-.62zM346.3 36.3h.62v.62h-.62zM352.5 36.3h.62v.62h-.62zM357.5 36.3h.62v.62h-.62zM358.7 36.3h.62v.62h-.62zM359.4 36.3h.62v.62h-.62zM366.8 36.3h.62v.62h-.62zM368.0 36.3h.62v.62h-.62zM335.8 37.0h.62v.62h-.62zM348.8 37.0h.62v.62h-.62zM352.5 37.0h.62v.62h-.62zM353.2 37.0h.62v.62h-.62zM353.8 37.0h.62v.62h-.62zM355.0 37.0h.62v.62h-.62zM355.6 37.0h.62v.62h-.62zM361.2 37.0h.62v.62h-.62zM363.7 37.0h.62v.62h-.62zM371.1 37.0h.62v.62h-.62zM337.7 37.6h.62v.62h-.62zM345.1 37.6h.62v.62h-.62zM351.9 37.6h.62v.62h-.62zM352.5 37.6h.62v.62h-.62zM354.4 37.6h.62v.62h-.62zM360.0 37.6h.62v.62h-.62zM361.2 37.6h.62v.62h-.62zM363.1 37.6h.62v.62h-.62zM337.0 38.2h.62v.62h-.62zM346.3 38.2h.62v.62h-.62zM347.6 38.2h.62v.62h-.62zM348.2 38.2h.62v.62h-.62zM348.8 38.2h.62v.62h-.62zM350.7 38.2h.62v.62h-.62zM355.6 38.2h.62v.62h-.62zM358.1 38.2h.62v.62h-.62zM358.7 38.2h.62v.62h-.62zM362.5 38.2h.62v.62h-.62zM336.4 38.8h.62v.62h-.62zM345.1 38.8h.62v.62h-.62zM348.2 38.8h.62v.62h-.62zM349.4 38.8h.62v.62h-.62zM350.1 38.8h.62v.62h-.62zM353.2 38.8h.62v.62h-.62zM358.1 38.8h.62v.62h-.62zM359.4 38.8h.62v.62h-.62zM360.6 38.8h.62v.62h-.62zM366.2 38.8h.62v.62h-.62zM368.0 38.8h.62v.62h-.62zM347.6 39.4h.62v.62h-.62zM348.2 39.4h.62v.62h-.62zM348.8 39.4h.62v.62h-.62zM349.4 39.4h.62v.62h-.62zM355.0 39.4h.62v.62h-.62zM358.7 39.4h.62v.62h-.62zM360.6 39.4h.62v.62h-.62zM363.1 39.4h.62v.62h-.62zM337.7 40.1h.62v.62h-.62zM346.3 40.1h.62v.62h-.62zM347.0 40.1h.62v.62h-.62zM347.6 40.1h.62v.62h-.62zM350.7 40.1h.62v.62h-.62zM353.2 40.1h.62v.62h-.62zM357.5 40.1h.62v.62h-.62zM358.7 40.1h.62v.62h-.62zM360.0 40.1h.62v.62h-.62zM363.1 40.1h.62v.62h-.62zM371.1 40.1h.62v.62h-.62zM337.0 40.7h.62v.62h-.62zM347.6 40.7h.62v.62h-.62zM348.2 40.7h.62v.62h-.62zM348.8 40.7h.62v.62h-.62zM352.5 40.7h.62v.62h-.62zM358.1 40.7h.62v.62h-.62zM361.2 40.7h.62v.62h-.62zM368.7 40.7h.62v.62h-.62zM346.3 41.3h.62v.62h-.62zM351.9 41.3h.62v.62h-.62zM356.3 41.3h.62v.62h-.62zM358.1 41.3h.62v.62h-.62zM358.7 41.3h.62v.62h-.62zM359.4 41.3h.62v.62h-.62zM364.9 41.3h.62v.62h-.62zM365.6 41.3h.62v.62h-.62zM368.7 41.3h.62v.62h-.62zM369.9 41.3h.62v.62h-.62zM337.0 41.9h.62v.62h-.62zM337.7 41.9h.62v.62h-.62zM345.1 41.9h.62v.62h-.62zM355.6 41.9h.62v.62h-.62zM358.7 41.9h.62v.62h-.62zM361.8 41.9h.62v.62h-.62zM363.1 41.9h.62v.62h-.62zM365.6 41.9h.62v.62h-.62zM366.8 41.9h.62v.62h-.62zM367.4 41.9h.62v.62h-.62zM348.2 42.5h.62v.62h-.62zM358.7 42.5h.62v.62h-.62zM363.1 42.5h.62v.62h-.62zM364.3 42.5h.62v.62h-.62zM371.8 42.5h.62v.62h-.62zM345.1 43.2h.62v.62h-.62zM348.2 43.2h.62v.62h-.62zM357.5 43.2h.62v.62h-.62zM366.2 43.2h.62v.62h-.62zM366.8 43.2h.62v.62h-.62zM375.5 43.2h.62v.62h-.62zM345.7 43.8h.62v.62h-.62zM347.0 43.8h.62v.62h-.62zM348.8 43.8h.62v.62h-.62zM349.4 43.8h.62v.62h-.62zM350.1 43.8h.62v.62h-.62zM356.3 43.8h.62v.62h-.62zM360.6 43.8h.62v.62h-.62zM366.2 43.8h.62v.62h-.62zM367.4 43.8h.62v.62h-.62zM347.0 44.4h.62v.62h-.62zM348.2 44.4h.62v.62h-.62zM358.1 44.4h.62v.62h-.62zM361.8 44.4h.62v.62h-.62zM364.3 44.4h.62v.62h-.62zM365.6 44.4h.62v.62h-.62zM347.6 45.0h.62v.62h-.62zM360.0 45.0h.62v.62h-.62zM364.9 45.0h.62v.62h-.62zM365.6 45.0h.62v.62h-.62zM366.8 45.0h.62v.62h-.62zM370.5 45.0h.62v.62h-.62zM347.6 45.6h.62v.62h-.62zM359.4 45.6h.62v.62h-.62zM368.7 45.6h.62v.62h-.62zM345.1 46.3h.62v.62h-.62zM347.6 46.3h.62v.62h-.62zM348.8 46.3h.62v.62h-.62zM358.7 46.3h.62v.62h-.62zM360.6 46.3h.62v.62h-.62zM364.3 46.3h.62v.62h-.62zM367.4 46.3h.62v.62h-.62zM379.2 46.3h.62v.62h-.62zM346.3 46.9h.62v.62h-.62zM358.7 46.9h.62v.62h-.62zM359.4 46.9h.62v.62h-.62zM360.0 46.9h.62v.62h-.62zM361.2 46.9h.62v.62h-.62zM377.3 46.9h.62v.62h-.62zM358.1 47.5h.62v.62h-.62zM361.2 47.5h.62v.62h-.62zM365.6 47.5h.62v.62h-.62zM371.1 47.5h.62v.62h-.62zM376.1 47.5h.62v.62h-.62zM345.7 48.1h.62v.62h-.62zM347.0 48.1h.62v.62h-.62zM373.6 48.1h.62v.62h-.62zM337.7 48.7h.62v.62h-.62zM346.3 48.7h.62v.62h-.62zM347.6 48.7h.62v.62h-.62zM358.7 48.7h.62v.62h-.62zM359.4 48.7h.62v.62h-.62zM360.0 48.7h.62v.62h-.62zM363.7 48.7h.62v.62h-.62zM366.2 48.7h.62v.62h-.62zM368.0 48.7h.62v.62h-.62zM336.4 49.4h.62v.62h-.62zM337.7 49.4h.62v.62h-.62zM345.7 49.4h.62v.62h-.62zM358.1 49.4h.62v.62h-.62zM358.7 49.4h.62v.62h-.62zM361.2 49.4h.62v.62h-.62zM369.3 49.4h.62v.62h-.62zM374.2 49.4h.62v.62h-.62zM360.6 50.0h.62v.62h-.62zM364.9 50.0h.62v.62h-.62zM368.7 50.0h.62v.62h-.62zM337.0 50.6h.62v.62h-.62zM337.7 50.6h.62v.62h-.62zM360.0 50.6h.62v.62h-.62zM360.6 50.6h.62v.62h-.62zM362.5 50.6h.62v.62h-.62zM363.1 50.6h.62v.62h-.62zM365.6 50.6h.62v.62h-.62zM356.9 51.2h.62v.62h-.62zM361.8 51.2h.62v.62h-.62zM364.3 51.2h.62v.62h-.62zM371.1 51.2h.62v.62h-.62zM372.4 51.2h.62v.62h-.62zM338.3 51.8h.62v.62h-.62zM360.0 51.8h.62v.62h-.62zM363.7 51.8h.62v.62h-.62zM364.9 51.8h.62v.62h-.62zM337.7 52.5h.62v.62h-.62zM338.3 52.5h.62v.62h-.62zM345.1 52.5h.62v.62h-.62zM346.3 52.5h.62v.62h-.62zM360.0 52.5h.62v.62h-.62zM361.8 52.5h.62v.62h-.62zM367.4 52.5h.62v.62h-.62zM370.5 52.5h.62v.62h-.62zM346.3 53.1h.62v.62h-.62zM356.9 53.1h.62v.62h-.62zM358.7 53.1h.62v.62h-.62zM359.4 53.1h.62v.62h-.62zM360.6 53.1h.62v.62h-.62zM369.9 53.1h.62v.62h-.62zM376.7 53.1h.62v.62h-.62zM381.1 53.1h.62v.62h-.62zM337.0 53.7h.62v.62h-.62zM345.1 53.7h.62v.62h-.62zM345.7 53.7h.62v.62h-.62zM350.1 53.7h.62v.62h-.62zM351.3 53.7h.62v.62h-.62zM358.7 53.7h.62v.62h-.62zM360.6 53.7h.62v.62h-.62zM364.3 53.7h.62v.62h-.62zM346.3 54.3h.62v.62h-.62zM348.2 54.3h.62v.62h-.62zM351.9 54.3h.62v.62h-.62zM356.3 54.3h.62v.62h-.62zM359.4 54.3h.62v.62h-.62zM360.6 54.3h.62v.62h-.62zM362.5 54.3h.62v.62h-.62zM363.7 54.3h.62v.62h-.62zM374.2 54.3h.62v.62h-.62zM338.3 54.9h.62v.62h-.62zM353.2 54.9h.62v.62h-.62zM355.0 54.9h.62v.62h-.62zM355.6 54.9h.62v.62h-.62zM360.0 54.9h.62v.62h-.62zM363.1 54.9h.62v.62h-.62zM385.4 54.9h.62v.62h-.62zM338.3 55.6h.62v.62h-.62zM346.3 55.6h.62v.62h-.62zM347.0 55.6h.62v.62h-.62zM350.7 55.6h.62v.62h-.62zM352.5 55.6h.62v.62h-.62zM354.4 55.6h.62v.62h-.62zM356.9 55.6h.62v.62h-.62zM357.5 55.6h.62v.62h-.62zM358.7 55.6h.62v.62h-.62zM359.4 55.6h.62v.62h-.62zM371.8 55.6h.62v.62h-.62zM377.3 55.6h.62v.62h-.62zM345.1 56.2h.62v.62h-.62zM347.0 56.2h.62v.62h-.62zM348.8 56.2h.62v.62h-.62zM351.3 56.2h.62v.62h-.62zM355.6 56.2h.62v.62h-.62zM357.5 56.2h.62v.62h-.62zM358.1 56.2h.62v.62h-.62zM364.9 56.2h.62v.62h-.62zM376.7 56.2h.62v.62h-.62zM349.4 56.8h.62v.62h-.62zM356.9 56.8h.62v.62h-.62zM361.8 56.8h.62v.62h-.62zM362.5 56.8h.62v.62h-.62zM369.9 56.8h.62v.62h-.62zM382.9 56.8h.62v.62h-.62zM337.7 57.4h.62v.62h-.62zM338.3 57.4h.62v.62h-.62zM338.9 57.4h.62v.62h-.62zM343.9 57.4h.62v.62h-.62zM347.6 57.4h.62v.62h-.62zM350.1 57.4h.62v.62h-.62zM350.7 57.4h.62v.62h-.62zM352.5 57.4h.62v.62h-.62zM353.2 57.4h.62v.62h-.62zM355.6 57.4h.62v.62h-.62zM356.3 57.4h.62v.62h-.62zM356.9 57.4h.62v.62h-.62zM357.5 57.4h.62v.62h-.62zM358.1 57.4h.62v.62h-.62zM358.7 57.4h.62v.62h-.62zM345.7 58.0h.62v.62h-.62zM350.7 58.0h.62v.62h-.62zM351.3 58.0h.62v.62h-.62zM353.2 58.0h.62v.62h-.62zM353.8 58.0h.62v.62h-.62zM355.0 58.0h.62v.62h-.62zM356.3 58.0h.62v.62h-.62zM356.9 58.0h.62v.62h-.62zM358.7 58.0h.62v.62h-.62zM360.6 58.0h.62v.62h-.62zM364.9 58.0h.62v.62h-.62zM370.5 58.0h.62v.62h-.62zM380.4 58.0h.62v.62h-.62zM339.5 58.7h.62v.62h-.62zM347.0 58.7h.62v.62h-.62zM352.5 58.7h.62v.62h-.62zM353.8 58.7h.62v.62h-.62zM356.9 58.7h.62v.62h-.62zM364.9 58.7h.62v.62h-.62zM366.2 58.7h.62v.62h-.62zM375.5 58.7h.62v.62h-.62zM338.9 59.3h.62v.62h-.62zM346.3 59.3h.62v.62h-.62zM349.4 59.3h.62v.62h-.62zM350.7 59.3h.62v.62h-.62zM353.2 59.3h.62v.62h-.62zM356.3 59.3h.62v.62h-.62zM358.1 59.3h.62v.62h-.62zM358.7 59.3h.62v.62h-.62zM369.9 59.3h.62v.62h-.62zM370.5 59.3h.62v.62h-.62zM349.4 59.9h.62v.62h-.62zM350.7 59.9h.62v.62h-.62zM351.3 59.9h.62v.62h-.62zM353.2 59.9h.62v.62h-.62zM353.8 59.9h.62v.62h-.62zM355.6 59.9h.62v.62h-.62zM359.4 59.9h.62v.62h-.62zM366.2 59.9h.62v.62h-.62zM343.9 60.5h.62v.62h-.62zM344.5 60.5h.62v.62h-.62zM348.8 60.5h.62v.62h-.62zM350.1 60.5h.62v.62h-.62zM351.3 60.5h.62v.62h-.62zM352.5 60.5h.62v.62h-.62zM353.8 60.5h.62v.62h-.62zM354.4 60.5h.62v.62h-.62zM355.0 60.5h.62v.62h-.62zM358.1 60.5h.62v.62h-.62zM359.4 60.5h.62v.62h-.62zM363.1 60.5h.62v.62h-.62zM364.9 60.5h.62v.62h-.62zM340.1 61.1h.62v.62h-.62zM340.8 61.1h.62v.62h-.62zM346.3 61.1h.62v.62h-.62zM353.2 61.1h.62v.62h-.62zM354.4 61.1h.62v.62h-.62zM355.0 61.1h.62v.62h-.62zM360.6 61.1h.62v.62h-.62zM374.2 61.1h.62v.62h-.62zM342.0 61.8h.62v.62h-.62zM348.2 61.8h.62v.62h-.62zM355.0 61.8h.62v.62h-.62zM355.6 61.8h.62v.62h-.62zM356.3 61.8h.62v.62h-.62zM364.9 61.8h.62v.62h-.62zM338.9 62.4h.62v.62h-.62zM339.5 62.4h.62v.62h-.62zM342.6 62.4h.62v.62h-.62zM347.0 62.4h.62v.62h-.62zM348.8 62.4h.62v.62h-.62zM349.4 62.4h.62v.62h-.62zM352.5 62.4h.62v.62h-.62zM354.4 62.4h.62v.62h-.62zM355.0 62.4h.62v.62h-.62zM356.9 62.4h.62v.62h-.62zM357.5 62.4h.62v.62h-.62zM360.6 62.4h.62v.62h-.62zM345.7 63.0h.62v.62h-.62zM347.6 63.0h.62v.62h-.62zM349.4 63.0h.62v.62h-.62zM350.7 63.0h.62v.62h-.62zM354.4 63.0h.62v.62h-.62zM358.7 63.0h.62v.62h-.62zM366.2 63.0h.62v.62h-.62zM367.4 63.0h.62v.62h-.62zM372.4 63.0h.62v.62h-.62zM376.1 63.0h.62v.62h-.62zM339.5 63.6h.62v.62h-.62zM343.2 63.6h.62v.62h-.62zM343.9 63.6h.62v.62h-.62zM345.7 63.6h.62v.62h-.62zM348.8 63.6h.62v.62h-.62zM351.9 63.6h.62v.62h-.62zM352.5 63.6h.62v.62h-.62zM355.0 63.6h.62v.62h-.62zM356.3 63.6h.62v.62h-.62zM357.5 63.6h.62v.62h-.62zM358.7 63.6h.62v.62h-.62zM369.9 63.6h.62v.62h-.62zM338.3 64.2h.62v.62h-.62zM345.7 64.2h.62v.62h-.62zM353.2 64.2h.62v.62h-.62zM360.6 64.2h.62v.62h-.62zM337.7 64.9h.62v.62h-.62zM338.3 64.9h.62v.62h-.62zM347.6 64.9h.62v.62h-.62zM348.2 64.9h.62v.62h-.62zM350.7 64.9h.62v.62h-.62zM354.4 64.9h.62v.62h-.62zM356.9 64.9h.62v.62h-.62zM357.5 64.9h.62v.62h-.62zM360.6 64.9h.62v.62h-.62zM362.5 64.9h.62v.62h-.62zM344.5 65.5h.62v.62h-.62zM349.4 65.5h.62v.62h-.62zM350.7 65.5h.62v.62h-.62zM357.5 65.5h.62v.62h-.62zM358.1 65.5h.62v.62h-.62zM360.6 65.5h.62v.62h-.62zM361.2 65.5h.62v.62h-.62zM345.7 66.1h.62v.62h-.62zM348.8 66.1h.62v.62h-.62zM356.9 66.1h.62v.62h-.62zM361.2 66.1h.62v.62h-.62zM367.4 66.1h.62v.62h-.62zM345.1 66.7h.62v.62h-.62zM345.7 66.7h.62v.62h-.62zM347.0 66.7h.62v.62h-.62zM348.8 66.7h.62v.62h-.62zM355.6 66.7h.62v.62h-.62zM357.5 66.7h.62v.62h-.62zM361.2 66.7h.62v.62h-.62zM363.7 66.7h.62v.62h-.62zM364.3 66.7h.62v.62h-.62zM347.6 67.3h.62v.62h-.62zM360.6 67.3h.62v.62h-.62zM362.5 67.3h.62v.62h-.62zM363.7 67.3h.62v.62h-.62zM366.8 67.3h.62v.62h-.62zM348.2 68.0h.62v.62h-.62zM358.1 68.0h.62v.62h-.62zM345.7 68.6h.62v.62h-.62zM359.4 68.6h.62v.62h-.62zM360.6 68.6h.62v.62h-.62zM364.3 68.6h.62v.62h-.62zM337.0 69.2h.62v.62h-.62zM337.7 69.2h.62v.62h-.62zM338.3 69.2h.62v.62h-.62zM345.1 69.2h.62v.62h-.62zM357.5 69.2h.62v.62h-.62zM359.4 69.2h.62v.62h-.62zM360.0 69.2h.62v.62h-.62zM362.5 69.2h.62v.62h-.62zM346.3 69.8h.62v.62h-.62zM359.4 69.8h.62v.62h-.62zM360.0 69.8h.62v.62h-.62zM361.2 69.8h.62v.62h-.62zM347.0 70.4h.62v.62h-.62zM348.8 70.4h.62v.62h-.62zM356.3 70.4h.62v.62h-.62zM357.5 70.4h.62v.62h-.62zM358.7 70.4h.62v.62h-.62zM373.0 70.4h.62v.62h-.62zM348.8 71.1h.62v.62h-.62zM354.4 71.1h.62v.62h-.62zM358.7 71.1h.62v.62h-.62zM359.4 71.1h.62v.62h-.62zM361.2 71.1h.62v.62h-.62zM366.8 71.1h.62v.62h-.62zM344.5 71.7h.62v.62h-.62zM345.1 71.7h.62v.62h-.62zM355.0 71.7h.62v.62h-.62zM358.1 71.7h.62v.62h-.62zM358.7 71.7h.62v.62h-.62zM338.9 72.3h.62v.62h-.62zM351.9 72.3h.62v.62h-.62zM353.8 72.3h.62v.62h-.62zM354.4 72.3h.62v.62h-.62zM356.3 72.3h.62v.62h-.62zM356.9 72.3h.62v.62h-.62zM357.5 72.3h.62v.62h-.62zM358.7 72.3h.62v.62h-.62zM361.8 72.3h.62v.62h-.62zM346.3 72.9h.62v.62h-.62zM347.0 72.9h.62v.62h-.62zM348.2 72.9h.62v.62h-.62zM348.8 72.9h.62v.62h-.62zM351.9 72.9h.62v.62h-.62zM353.2 72.9h.62v.62h-.62zM353.8 72.9h.62v.62h-.62zM355.6 72.9h.62v.62h-.62zM356.3 72.9h.62v.62h-.62zM368.0 72.9h.62v.62h-.62zM338.3 73.5h.62v.62h-.62zM345.1 73.5h.62v.62h-.62zM345.7 73.5h.62v.62h-.62zM350.1 73.5h.62v.62h-.62zM350.7 73.5h.62v.62h-.62zM351.3 73.5h.62v.62h-.62zM353.2 73.5h.62v.62h-.62zM357.5 73.5h.62v.62h-.62zM339.5 74.2h.62v.62h-.62zM343.2 74.2h.62v.62h-.62zM343.9 74.2h.62v.62h-.62zM344.5 74.2h.62v.62h-.62zM350.1 74.2h.62v.62h-.62zM355.0 74.2h.62v.62h-.62zM340.1 74.8h.62v.62h-.62zM343.2 74.8h.62v.62h-.62zM345.1 74.8h.62v.62h-.62zM362.5 74.8h.62v.62h-.62zM343.2 75.4h.62v.62h-.62zM343.9 75.4h.62v.62h-.62zM352.5 75.4h.62v.62h-.62zM338.9 76.0h.62v.62h-.62zM350.7 76.0h.62v.62h-.62zM352.5 76.0h.62v.62h-.62zM353.8 76.0h.62v.62h-.62zM363.7 76.0h.62v.62h-.62zM345.7 76.6h.62v.62h-.62zM343.2 78.5h.62v.62h-.62zM347.0 78.5h.62v.62h-.62zM358.1 79.7h.62v.62h-.62zM342.6 81.0h.62v.62h-.62zM344.5 81.0h.62v.62h-.62zM348.8 81.0h.62v.62h-.62z" fill="#8090d0" fill-opacity="0.55"/>
<path d="M340.8 28.9h.62v.62h-.62zM340.8 29.5h.62v.62h-.62zM341.4 29.5h.62v.62h-.62zM342.6 29.5h.62v.62h-.62zM341.4 30.1h.62v.62h-.62zM342.0 30.1h.62v.62h-.62zM342.6 30.1h.62v.62h-.62zM343.2 30.1h.62v.62h-.62zM340.1 30.8h.62v.62h-.62zM342.6 30.8h.62v.62h-.62zM339.5 31.4h.62v.62h-.62zM340.1 31.4h.62v.62h-.62zM343.2 31.4h.62v.62h-.62zM339.5 32.0h.62v.62h-.62zM343.2 32.0h.62v.62h-.62zM343.9 32.0h.62v.62h-.62zM338.9 32.6h.62v.62h-.62zM339.5 32.6h.62v.62h-.62zM343.2 32.6h.62v.62h-.62zM343.2 33.2h.62v.62h-.62zM343.9 33.2h.62v.62h-.62zM338.9 33.9h.62v.62h-.62zM343.9 33.9h.62v.62h-.62zM338.9 34.5h.62v.62h-.62zM343.9 34.5h.62v.62h-.62zM338.9 35.1h.62v.62h-.62zM343.9 35.1h.62v.62h-.62zM338.3 35.7h.62v.62h-.62zM344.5 35.7h.62v.62h-.62zM338.3 36.3h.62v.62h-.62zM338.3 37.0h.62v.62h-.62zM344.5 37.0h.62v.62h-.62zM338.3 37.6h.62v.62h-.62zM344.5 37.6h.62v.62h-.62zM349.4 38.2h.62v.62h-.62zM351.3 38.2h.62v.62h-.62zM344.5 38.8h.62v.62h-.62zM352.5 38.8h.62v.62h-.62zM353.8 38.8h.62v.62h-.62zM354.4 38.8h.62v.62h-.62zM355.0 38.8h.62v.62h-.62zM338.3 39.4h.62v.62h-.62zM353.8 39.4h.62v.62h-.62zM354.4 39.4h.62v.62h-.62zM344.5 40.1h.62v.62h-.62zM348.2 40.1h.62v.62h-.62zM348.8 40.1h.62v.62h-.62zM349.4 40.1h.62v.62h-.62zM351.9 40.1h.62v.62h-.62zM352.5 40.1h.62v.62h-.62zM356.3 40.1h.62v.62h-.62zM338.3 40.7h.62v.62h-.62zM344.5 40.7h.62v.62h-.62zM345.1 40.7h.62v.62h-.62zM349.4 40.7h.62v.62h-.62zM350.1 40.7h.62v.62h-.62zM350.7 40.7h.62v.62h-.62zM353.2 40.7h.62v.62h-.62zM355.0 40.7h.62v.62h-.62zM338.3 41.3h.62v.62h-.62zM344.5 41.3h.62v.62h-.62zM345.1 41.3h.62v.62h-.62zM348.2 41.3h.62v.62h-.62zM350.1 41.3h.62v.62h-.62zM353.8 41.3h.62v.62h-.62zM338.3 41.9h.62v.62h-.62zM344.5 41.9h.62v.62h-.62zM348.2 41.9h.62v.62h-.62zM348.8 41.9h.62v.62h-.62zM351.9 41.9h.62v.62h-.62zM352.5 41.9h.62v.62h-.62zM347.0 42.5h.62v.62h-.62zM347.6 42.5h.62v.62h-.62zM348.8 42.5h.62v.62h-.62zM351.3 42.5h.62v.62h-.62zM351.9 42.5h.62v.62h-.62zM352.5 42.5h.62v.62h-.62zM354.4 42.5h.62v.62h-.62zM355.0 42.5h.62v.62h-.62zM338.3 43.2h.62v.62h-.62zM344.5 43.2h.62v.62h-.62zM348.8 43.2h.62v.62h-.62zM349.4 43.2h.62v.62h-.62zM351.9 43.2h.62v.62h-.62zM353.2 43.2h.62v.62h-.62zM353.8 43.2h.62v.62h-.62zM355.0 43.2h.62v.62h-.62zM355.6 43.2h.62v.62h-.62zM356.3 43.2h.62v.62h-.62zM338.3 43.8h.62v.62h-.62zM345.1 43.8h.62v.62h-.62zM351.3 43.8h.62v.62h-.62zM351.9 43.8h.62v.62h-.62zM353.2 43.8h.62v.62h-.62zM355.0 43.8h.62v.62h-.62zM357.5 43.8h.62v.62h-.62zM349.4 44.4h.62v.62h-.62zM350.7 44.4h.62v.62h-.62zM351.9 44.4h.62v.62h-.62zM352.5 44.4h.62v.62h-.62zM354.4 44.4h.62v.62h-.62zM355.6 44.4h.62v.62h-.62zM338.3 45.0h.62v.62h-.62zM345.1 45.0h.62v.62h-.62zM346.3 45.0h.62v.62h-.62zM348.2 45.0h.62v.62h-.62zM348.8 45.0h.62v.62h-.62zM349.4 45.0h.62v.62h-.62zM351.3 45.0h.62v.62h-.62zM351.9 45.0h.62v.62h-.62zM352.5 45.0h.62v.62h-.62zM353.2 45.0h.62v.62h-.62zM353.8 45.0h.62v.62h-.62zM355.0 45.0h.62v.62h-.62zM356.3 45.0h.62v.62h-.62zM358.1 45.0h.62v.62h-.62zM338.3 45.6h.62v.62h-.62zM344.5 45.6h.62v.62h-.62zM345.1 45.6h.62v.62h-.62zM348.2 45.6h.62v.62h-.62zM351.3 45.6h.62v.62h-.62zM351.9 45.6h.62v.62h-.62zM353.2 45.6h.62v.62h-.62zM354.4 45.6h.62v.62h-.62zM355.0 45.6h.62v.62h-.62zM355.6 45.6h.62v.62h-.62zM356.3 45.6h.62v.62h-.62zM338.3 46.3h.62v.62h-.62zM344.5 46.3h.62v.62h-.62zM345.7 46.3h.62v.62h-.62zM350.7 46.3h.62v.62h-.62zM351.9 46.3h.62v.62h-.62zM352.5 46.3h.62v.62h-.62zM354.4 46.3h.62v.62h-.62zM355.0 46.3h.62v.62h-.62zM355.6 46.3h.62v.62h-.62zM357.5 46.3h.62v.62h-.62zM344.5 46.9h.62v.62h-.62zM345.1 46.9h.62v.62h-.62zM348.2 46.9h.62v.62h-.62zM351.3 46.9h.62v.62h-.62zM353.8 46.9h.62v.62h-.62zM354.4 46.9h.62v.62h-.62zM355.0 46.9h.62v.62h-.62zM355.6 46.9h.62v.62h-.62zM356.3 46.9h.62v.62h-.62zM357.5 46.9h.62v.62h-.62zM338.9 47.5h.62v.62h-.62zM344.5 47.5h.62v.62h-.62zM347.0 47.5h.62v.62h-.62zM348.8 47.5h.62v.62h-.62zM350.1 47.5h.62v.62h-.62zM350.7 47.5h.62v.62h-.62zM351.9 47.5h.62v.62h-.62zM352.5 47.5h.62v.62h-.62zM353.2 47.5h.62v.62h-.62zM354.4 47.5h.62v.62h-.62zM355.6 47.5h.62v.62h-.62zM357.5 47.5h.62v.62h-.62zM359.4 47.5h.62v.62h-.62zM344.5 48.1h.62v.62h-.62zM348.2 48.1h.62v.62h-.62zM348.8 48.1h.62v.62h-.62zM350.1 48.1h.62v.62h-.62zM351.3 48.1h.62v.62h-.62zM351.9 48.1h.62v.62h-.62zM353.8 48.1h.62v.62h-.62zM355.0 48.1h.62v.62h-.62zM356.3 48.1h.62v.62h-.62zM358.7 48.1h.62v.62h-.62zM338.3 48.7h.62v.62h-.62zM344.5 48.7h.62v.62h-.62zM347.0 48.7h.62v.62h-.62zM348.8 48.7h.62v.62h-.62zM349.4 48.7h.62v.62h-.62zM351.3 48.7h.62v.62h-.62zM351.9 48.7h.62v.62h-.62zM355.0 48.7h.62v.62h-.62zM356.3 48.7h.62v.62h-.62zM357.5 48.7h.62v.62h-.62zM338.3 49.4h.62v.62h-.62zM344.5 49.4h.62v.62h-.62zM347.0 49.4h.62v.62h-.62zM347.6 49.4h.62v.62h-.62zM350.1 49.4h.62v.62h-.62zM352.5 49.4h.62v.62h-.62zM353.2 49.4h.62v.62h-.62zM353.8 49.4h.62v.62h-.62zM354.4 49.4h.62v.62h-.62zM356.3 49.4h.62v.62h-.62zM357.5 49.4h.62v.62h-.62zM343.9 50.0h.62v.62h-.62zM344.5 50.0h.62v.62h-.62zM348.2 50.0h.62v.62h-.62zM350.1 50.0h.62v.62h-.62zM350.7 50.0h.62v.62h-.62zM351.9 50.0h.62v.62h-.62zM353.2 50.0h.62v.62h-.62zM354.4 50.0h.62v.62h-.62zM356.9 50.0h.62v.62h-.62zM359.4 50.0h.62v.62h-.62zM347.0 50.6h.62v.62h-.62zM348.2 50.6h.62v.62h-.62zM348.8 50.6h.62v.62h-.62zM350.7 50.6h.62v.62h-.62zM351.9 50.6h.62v.62h-.62zM353.2 50.6h.62v.62h-.62zM353.8 50.6h.62v.62h-.62zM355.0 50.6h.62v.62h-.62zM357.5 50.6h.62v.62h-.62zM338.9 51.2h.62v.62h-.62zM343.9 51.2h.62v.62h-.62zM344.5 51.2h.62v.62h-.62zM350.1 51.2h.62v.62h-.62zM350.7 51.2h.62v.62h-.62zM351.9 51.2h.62v.62h-.62zM352.5 51.2h.62v.62h-.62zM355.0 51.2h.62v.62h-.62zM356.3 51.2h.62v.62h-.62zM359.4 51.2h.62v.62h-.62zM338.9 51.8h.62v.62h-.62zM344.5 51.8h.62v.62h-.62zM345.1 51.8h.62v.62h-.62zM348.2 51.8h.62v.62h-.62zM349.4 51.8h.62v.62h-.62zM350.7 51.8h.62v.62h-.62zM351.9 51.8h.62v.62h-.62zM355.6 51.8h.62v.62h-.62zM356.9 51.8h.62v.62h-.62zM338.9 52.5h.62v.62h-.62zM339.5 52.5h.62v.62h-.62zM343.9 52.5h.62v.62h-.62zM344.5 52.5h.62v.62h-.62zM349.4 52.5h.62v.62h-.62zM351.3 52.5h.62v.62h-.62zM352.5 52.5h.62v.62h-.62zM353.8 52.5h.62v.62h-.62zM354.4 52.5h.62v.62h-.62zM355.0 52.5h.62v.62h-.62zM355.6 52.5h.62v.62h-.62zM356.3 52.5h.62v.62h-.62zM344.5 53.1h.62v.62h-.62zM348.8 53.1h.62v.62h-.62zM349.4 53.1h.62v.62h-.62zM353.2 53.1h.62v.62h-.62zM357.5 53.1h.62v.62h-.62zM338.9 53.7h.62v.62h-.62zM343.2 53.7h.62v.62h-.62zM348.2 53.7h.62v.62h-.62zM351.9 53.7h.62v.62h-.62zM355.0 53.7h.62v.62h-.62zM356.3 53.7h.62v.62h-.62zM339.5 54.3h.62v.62h-.62zM343.2 54.3h.62v.62h-.62zM353.2 54.3h.62v.62h-.62zM354.4 54.3h.62v.62h-.62zM338.9 54.9h.62v.62h-.62zM343.9 54.9h.62v.62h-.62zM349.4 54.9h.62v.62h-.62zM338.9 55.6h.62v.62h-.62zM339.5 55.6h.62v.62h-.62zM343.9 55.6h.62v.62h-.62zM350.1 55.6h.62v.62h-.62zM355.0 55.6h.62v.62h-.62zM355.6 55.6h.62v.62h-.62zM340.1 56.2h.62v.62h-.62zM342.6 56.2h.62v.62h-.62zM343.9 56.2h.62v.62h-.62zM354.4 56.2h.62v.62h-.62zM340.1 56.8h.62v.62h-.62zM342.6 56.8h.62v.62h-.62zM343.2 56.8h.62v.62h-.62zM353.2 56.8h.62v.62h-.62zM353.8 56.8h.62v.62h-.62zM354.4 56.8h.62v.62h-.62zM355.6 56.8h.62v.62h-.62zM356.3 56.8h.62v.62h-.62zM339.5 57.4h.62v.62h-.62zM340.8 57.4h.62v.62h-.62zM342.6 57.4h.62v.62h-.62zM340.1 58.0h.62v.62h-.62zM340.8 58.0h.62v.62h-.62zM343.9 58.0h.62v.62h-.62zM340.1 58.7h.62v.62h-.62zM340.8 58.7h.62v.62h-.62zM342.0 58.7h.62v.62h-.62zM342.6 58.7h.62v.62h-.62zM339.5 59.3h.62v.62h-.62zM340.8 59.3h.62v.62h-.62zM341.4 59.3h.62v.62h-.62zM342.0 59.3h.62v.62h-.62zM341.4 59.9h.62v.62h-.62zM342.0 59.9h.62v.62h-.62zM342.6 59.9h.62v.62h-.62zM341.4 61.8h.62v.62h-.62zM340.8 62.4h.62v.62h-.62zM341.4 62.4h.62v.62h-.62zM342.0 62.4h.62v.62h-.62zM341.4 63.0h.62v.62h-.62zM340.8 63.6h.62v.62h-.62zM341.4 63.6h.62v.62h-.62zM340.8 64.2h.62v.62h-.62zM342.6 64.2h.62v.62h-.62zM340.8 64.9h.62v.62h-.62zM342.6 64.9h.62v.62h-.62zM343.2 64.9h.62v.62h-.62zM343.9 64.9h.62v.62h-.62zM351.3 64.9h.62v.62h-.62zM352.5 64.9h.62v.62h-.62zM338.9 65.5h.62v.62h-.62zM339.5 65.5h.62v.62h-.62zM342.6 65.5h.62v.62h-.62zM343.2 65.5h.62v.62h-.62zM343.9 65.5h.62v.62h-.62zM348.2 65.5h.62v.62h-.62zM351.9 65.5h.62v.62h-.62zM356.3 65.5h.62v.62h-.62zM338.9 66.1h.62v.62h-.62zM339.5 66.1h.62v.62h-.62zM344.5 66.1h.62v.62h-.62zM350.7 66.1h.62v.62h-.62zM351.3 66.1h.62v.62h-.62zM351.9 66.1h.62v.62h-.62zM352.5 66.1h.62v.62h-.62zM353.2 66.1h.62v.62h-.62zM353.8 66.1h.62v.62h-.62zM354.4 66.1h.62v.62h-.62zM356.3 66.1h.62v.62h-.62zM338.9 66.7h.62v.62h-.62zM339.5 66.7h.62v.62h-.62zM343.2 66.7h.62v.62h-.62zM343.9 66.7h.62v.62h-.62zM347.6 66.7h.62v.62h-.62zM349.4 66.7h.62v.62h-.62zM350.1 66.7h.62v.62h-.62zM350.7 66.7h.62v.62h-.62zM351.3 66.7h.62v.62h-.62zM351.9 66.7h.62v.62h-.62zM352.5 66.7h.62v.62h-.62zM354.4 66.7h.62v.62h-.62zM355.0 66.7h.62v.62h-.62zM343.9 67.3h.62v.62h-.62zM348.8 67.3h.62v.62h-.62zM349.4 67.3h.62v.62h-.62zM350.1 67.3h.62v.62h-.62zM351.9 67.3h.62v.62h-.62zM352.5 67.3h.62v.62h-.62zM353.8 67.3h.62v.62h-.62zM354.4 67.3h.62v.62h-.62zM355.6 67.3h.62v.62h-.62zM357.5 67.3h.62v.62h-.62zM345.1 68.0h.62v.62h-.62zM348.8 68.0h.62v.62h-.62zM351.3 68.0h.62v.62h-.62zM352.5 68.0h.62v.62h-.62zM353.2 68.0h.62v.62h-.62zM355.0 68.0h.62v.62h-.62zM355.6 68.0h.62v.62h-.62zM356.9 68.0h.62v.62h-.62zM338.9 68.6h.62v.62h-.62zM347.0 68.6h.62v.62h-.62zM347.6 68.6h.62v.62h-.62zM350.1 68.6h.62v.62h-.62zM350.7 68.6h.62v.62h-.62zM353.2 68.6h.62v.62h-.62zM354.4 68.6h.62v.62h-.62zM355.0 68.6h.62v.62h-.62zM355.6 68.6h.62v.62h-.62zM338.9 69.2h.62v.62h-.62zM344.5 69.2h.62v.62h-.62zM348.8 69.2h.62v.62h-.62zM349.4 69.2h.62v.62h-.62zM350.7 69.2h.62v.62h-.62zM351.9 69.2h.62v.62h-.62zM352.5 69.2h.62v.62h-.62zM353.2 69.2h.62v.62h-.62zM353.8 69.2h.62v.62h-.62zM354.4 69.2h.62v.62h-.62zM355.6 69.2h.62v.62h-.62zM356.3 69.2h.62v.62h-.62zM358.1 69.2h.62v.62h-.62zM343.9 69.8h.62v.62h-.62zM344.5 69.8h.62v.62h-.62zM347.6 69.8h.62v.62h-.62zM348.2 69.8h.62v.62h-.62zM348.8 69.8h.62v.62h-.62zM350.7 69.8h.62v.62h-.62zM353.2 69.8h.62v.62h-.62zM353.8 69.8h.62v.62h-.62zM354.4 69.8h.62v.62h-.62zM355.6 69.8h.62v.62h-.62zM356.3 69.8h.62v.62h-.62zM356.9 69.8h.62v.62h-.62zM338.9 70.4h.62v.62h-.62zM343.9 70.4h.62v.62h-.62zM347.6 70.4h.62v.62h-.62zM349.4 70.4h.62v.62h-.62zM350.1 70.4h.62v.62h-.62zM350.7 70.4h.62v.62h-.62zM353.2 70.4h.62v.62h-.62zM355.6 70.4h.62v.62h-.62zM356.9 70.4h.62v.62h-.62zM350.1 71.1h.62v.62h-.62zM351.9 71.1h.62v.62h-.62zM353.8 71.1h.62v.62h-.62zM343.2 71.7h.62v.62h-.62zM343.9 71.7h.62v.62h-.62zM355.6 71.7h.62v.62h-.62zM339.5 72.3h.62v.62h-.62zM343.9 72.3h.62v.62h-.62zM340.1 72.9h.62v.62h-.62zM340.1 73.5h.62v.62h-.62zM340.8 73.5h.62v.62h-.62zM341.4 73.5h.62v.62h-.62zM342.6 73.5h.62v.62h-.62zM343.2 73.5h.62v.62h-.62zM341.4 74.8h.62v.62h-.62z" fill="#5570c8" fill-opacity="0.8"/>
<path d="M340.8 30.8h.7v.7h-.7zM341.4 30.8h.7v.7h-.7zM342.0 30.8h.7v.7h-.7zM340.8 31.4h.7v.7h-.7zM341.4 31.4h.7v.7h-.7zM342.0 31.4h.7v.7h-.7zM342.6 31.4h.7v.7h-.7zM340.1 32.0h.7v.7h-.7zM340.8 32.0h.7v.7h-.7zM342.6 32.0h.7v.7h-.7zM340.1 32.6h.7v.7h-.7zM342.6 32.6h.7v.7h-.7zM339.5 33.2h.7v.7h-.7zM340.1 33.2h.7v.7h-.7zM339.5 33.9h.7v.7h-.7zM343.2 33.9h.7v.7h-.7zM339.5 34.5h.7v.7h-.7zM343.2 34.5h.7v.7h-.7zM343.9 35.7h.7v.7h-.7zM338.9 36.3h.7v.7h-.7zM343.9 36.3h.7v.7h-.7zM338.9 37.0h.7v.7h-.7zM338.9 37.6h.7v.7h-.7zM338.9 38.2h.7v.7h-.7zM338.9 39.4h.7v.7h-.7zM343.9 40.7h.7v.7h-.7zM343.9 41.9h.7v.7h-.7zM344.5 42.5h.7v.7h-.7zM344.5 43.8h.7v.7h-.7zM343.9 44.4h.7v.7h-.7zM338.9 45.0h.7v.7h-.7zM344.5 45.0h.7v.7h-.7zM338.9 48.1h.7v.7h-.7zM343.9 48.1h.7v.7h-.7zM338.9 49.4h.7v.7h-.7zM343.9 49.4h.7v.7h-.7zM343.2 50.0h.7v.7h-.7zM343.2 50.6h.7v.7h-.7zM339.5 51.8h.7v.7h-.7zM343.2 51.8h.7v.7h-.7zM343.2 52.5h.7v.7h-.7zM339.5 53.1h.7v.7h-.7zM342.6 53.1h.7v.7h-.7zM343.2 53.1h.7v.7h-.7zM339.5 53.7h.7v.7h-.7zM340.1 53.7h.7v.7h-.7zM342.6 53.7h.7v.7h-.7zM340.1 54.3h.7v.7h-.7zM340.1 54.9h.7v.7h-.7zM340.8 54.9h.7v.7h-.7zM341.4 54.9h.7v.7h-.7zM342.0 54.9h.7v.7h-.7zM342.6 54.9h.7v.7h-.7zM343.2 54.9h.7v.7h-.7zM340.1 55.6h.7v.7h-.7zM340.8 55.6h.7v.7h-.7zM340.8 56.2h.7v.7h-.7zM341.4 56.2h.7v.7h-.7zM342.0 56.2h.7v.7h-.7zM341.4 57.4h.7v.7h-.7zM342.0 57.4h.7v.7h-.7zM341.4 58.0h.7v.7h-.7zM341.4 64.2h.7v.7h-.7zM342.0 64.2h.7v.7h-.7zM341.4 64.9h.7v.7h-.7zM342.0 64.9h.7v.7h-.7zM340.8 65.5h.7v.7h-.7zM342.0 65.5h.7v.7h-.7zM340.1 66.1h.7v.7h-.7zM339.5 68.0h.7v.7h-.7zM343.2 68.0h.7v.7h-.7zM343.9 68.6h.7v.7h-.7zM339.5 69.2h.7v.7h-.7zM339.5 70.4h.7v.7h-.7zM339.5 71.1h.7v.7h-.7zM343.2 71.1h.7v.7h-.7zM339.5 71.7h.7v.7h-.7zM342.0 72.9h.7v.7h-.7z" fill="#3f95c8" fill-opacity="0.9"/>
<path d="M341.4 32.0h.7v.7h-.7zM342.0 32.0h.7v.7h-.7zM340.8 32.6h.7v.7h-.7zM341.4 32.6h.7v.7h-.7zM342.0 32.6h.7v.7h-.7zM340.8 33.2h.7v.7h-.7zM342.6 33.2h.7v.7h-.7zM340.8 33.9h.7v.7h-.7zM341.4 33.9h.7v.7h-.7zM342.0 33.9h.7v.7h-.7zM342.6 33.9h.7v.7h-.7zM340.1 34.5h.7v.7h-.7zM342.6 34.5h.7v.7h-.7zM339.5 35.1h.7v.7h-.7zM342.6 35.1h.7v.7h-.7zM343.2 35.1h.7v.7h-.7zM339.5 35.7h.7v.7h-.7zM340.1 35.7h.7v.7h-.7zM343.2 35.7h.7v.7h-.7zM339.5 36.3h.7v.7h-.7zM343.2 36.3h.7v.7h-.7zM343.9 37.0h.7v.7h-.7zM343.9 37.6h.7v.7h-.7zM339.5 38.2h.7v.7h-.7zM343.9 38.2h.7v.7h-.7zM339.5 38.8h.7v.7h-.7zM343.9 38.8h.7v.7h-.7zM343.9 39.4h.7v.7h-.7zM338.9 40.1h.7v.7h-.7zM343.2 40.1h.7v.7h-.7zM343.9 40.1h.7v.7h-.7zM338.9 40.7h.7v.7h-.7zM338.9 41.3h.7v.7h-.7zM343.9 41.3h.7v.7h-.7zM338.9 41.9h.7v.7h-.7zM338.9 42.5h.7v.7h-.7zM343.9 42.5h.7v.7h-.7zM338.9 43.2h.7v.7h-.7zM343.9 43.2h.7v.7h-.7zM338.9 43.8h.7v.7h-.7zM343.9 45.6h.7v.7h-.7zM343.2 46.3h.7v.7h-.7zM343.9 46.3h.7v.7h-.7zM339.5 46.9h.7v.7h-.7zM343.2 46.9h.7v.7h-.7zM343.9 46.9h.7v.7h-.7zM339.5 47.5h.7v.7h-.7zM343.2 47.5h.7v.7h-.7zM343.9 47.5h.7v.7h-.7zM339.5 48.1h.7v.7h-.7zM340.1 48.1h.7v.7h-.7zM339.5 48.7h.7v.7h-.7zM340.1 48.7h.7v.7h-.7zM343.2 48.7h.7v.7h-.7zM343.2 49.4h.7v.7h-.7zM339.5 50.0h.7v.7h-.7zM340.1 50.0h.7v.7h-.7zM339.5 50.6h.7v.7h-.7zM340.8 50.6h.7v.7h-.7zM342.0 50.6h.7v.7h-.7zM339.5 51.2h.7v.7h-.7zM340.1 51.2h.7v.7h-.7zM340.8 51.2h.7v.7h-.7zM342.0 51.2h.7v.7h-.7zM342.6 51.2h.7v.7h-.7zM343.2 51.2h.7v.7h-.7zM340.1 51.8h.7v.7h-.7zM342.6 51.8h.7v.7h-.7zM340.1 52.5h.7v.7h-.7zM340.8 52.5h.7v.7h-.7zM341.4 52.5h.7v.7h-.7zM342.6 52.5h.7v.7h-.7zM340.1 53.1h.7v.7h-.7zM341.4 53.1h.7v.7h-.7zM342.0 53.1h.7v.7h-.7zM340.8 53.7h.7v.7h-.7zM341.4 53.7h.7v.7h-.7zM342.0 53.7h.7v.7h-.7zM340.8 54.3h.7v.7h-.7zM341.4 54.3h.7v.7h-.7zM342.0 54.3h.7v.7h-.7zM342.6 54.3h.7v.7h-.7zM341.4 55.6h.7v.7h-.7zM342.0 55.6h.7v.7h-.7zM341.4 65.5h.7v.7h-.7zM340.8 66.1h.7v.7h-.7zM341.4 66.1h.7v.7h-.7zM342.6 66.1h.7v.7h-.7zM340.1 66.7h.7v.7h-.7zM340.8 66.7h.7v.7h-.7zM342.0 66.7h.7v.7h-.7zM342.6 66.7h.7v.7h-.7zM340.1 67.3h.7v.7h-.7zM342.6 67.3h.7v.7h-.7zM340.1 68.0h.7v.7h-.7zM339.5 68.6h.7v.7h-.7zM340.1 68.6h.7v.7h-.7zM343.2 68.6h.7v.7h-.7zM343.2 69.2h.7v.7h-.7zM339.5 69.8h.7v.7h-.7zM343.2 69.8h.7v.7h-.7zM340.1 70.4h.7v.7h-.7zM342.6 70.4h.7v.7h-.7zM343.2 70.4h.7v.7h-.7zM340.1 71.1h.7v.7h-.7zM340.8 71.1h.7v.7h-.7zM342.6 71.1h.7v.7h-.7zM340.1 71.7h.7v.7h-.7zM340.8 71.7h.7v.7h-.7zM342.0 71.7h.7v.7h-.7zM342.6 71.7h.7v.7h-.7zM340.8 72.3h.7v.7h-.7zM341.4 72.3h.7v.7h-.7zM342.0 72.3h.7v.7h-.7zM342.6 72.3h.7v.7h-.7z" fill="#3fb59a" fill-opacity="1"/>
<path d="M342.0 33.2h.7v.7h-.7zM340.8 34.5h.7v.7h-.7zM342.0 34.5h.7v.7h-.7zM340.1 35.1h.7v.7h-.7zM342.0 35.1h.7v.7h-.7zM340.8 35.7h.7v.7h-.7zM342.6 35.7h.7v.7h-.7zM340.1 36.3h.7v.7h-.7zM342.6 36.3h.7v.7h-.7zM339.5 37.0h.7v.7h-.7zM340.1 37.0h.7v.7h-.7zM343.2 37.0h.7v.7h-.7zM339.5 37.6h.7v.7h-.7zM343.2 37.6h.7v.7h-.7zM343.2 38.2h.7v.7h-.7zM343.2 38.8h.7v.7h-.7zM339.5 39.4h.7v.7h-.7zM339.5 41.9h.7v.7h-.7zM343.2 41.9h.7v.7h-.7zM343.2 42.5h.7v.7h-.7zM339.5 43.2h.7v.7h-.7zM343.2 43.2h.7v.7h-.7zM339.5 43.8h.7v.7h-.7zM339.5 44.4h.7v.7h-.7zM343.2 44.4h.7v.7h-.7zM339.5 45.0h.7v.7h-.7zM339.5 45.6h.7v.7h-.7zM340.1 45.6h.7v.7h-.7zM343.2 45.6h.7v.7h-.7zM339.5 46.3h.7v.7h-.7zM340.1 47.5h.7v.7h-.7zM342.6 47.5h.7v.7h-.7zM340.8 48.1h.7v.7h-.7zM342.6 48.1h.7v.7h-.7zM343.2 48.1h.7v.7h-.7zM341.4 48.7h.7v.7h-.7zM340.1 49.4h.7v.7h-.7zM342.6 49.4h.7v.7h-.7zM340.8 50.0h.7v.7h-.7zM341.4 50.0h.7v.7h-.7zM342.0 50.0h.7v.7h-.7zM342.6 50.0h.7v.7h-.7zM340.1 50.6h.7v.7h-.7zM342.6 50.6h.7v.7h-.7zM341.4 51.2h.7v.7h-.7zM340.8 51.8h.7v.7h-.7zM341.4 51.8h.7v.7h-.7zM342.0 51.8h.7v.7h-.7zM342.0 52.5h.7v.7h-.7zM342.0 66.1h.7v.7h-.7zM341.4 66.7h.7v.7h-.7zM340.8 67.3h.7v.7h-.7zM342.0 67.3h.7v.7h-.7zM340.8 68.0h.7v.7h-.7zM341.4 68.0h.7v.7h-.7zM342.0 68.0h.7v.7h-.7zM342.6 68.0h.7v.7h-.7zM342.0 68.6h.7v.7h-.7zM342.6 68.6h.7v.7h-.7zM340.1 69.2h.7v.7h-.7zM340.8 69.2h.7v.7h-.7zM342.6 69.2h.7v.7h-.7zM340.1 69.8h.7v.7h-.7zM340.8 69.8h.7v.7h-.7zM342.6 69.8h.7v.7h-.7zM342.0 70.4h.7v.7h-.7zM341.4 71.1h.7v.7h-.7zM342.0 71.1h.7v.7h-.7zM341.4 71.7h.7v.7h-.7z" fill="#6cc040" fill-opacity="1"/>
<path d="M341.4 34.5h.7v.7h-.7zM340.8 35.1h.7v.7h-.7zM341.4 35.1h.7v.7h-.7zM341.4 35.7h.7v.7h-.7zM342.0 35.7h.7v.7h-.7zM341.4 36.3h.7v.7h-.7zM342.0 36.3h.7v.7h-.7zM341.4 37.0h.7v.7h-.7zM342.0 37.0h.7v.7h-.7zM342.6 37.0h.7v.7h-.7zM340.1 37.6h.7v.7h-.7zM342.6 39.4h.7v.7h-.7zM343.2 39.4h.7v.7h-.7zM339.5 40.1h.7v.7h-.7zM342.6 40.1h.7v.7h-.7zM339.5 40.7h.7v.7h-.7zM340.1 40.7h.7v.7h-.7zM342.6 40.7h.7v.7h-.7zM343.2 40.7h.7v.7h-.7zM339.5 41.3h.7v.7h-.7zM340.1 41.3h.7v.7h-.7zM342.6 41.3h.7v.7h-.7zM343.2 41.3h.7v.7h-.7zM339.5 42.5h.7v.7h-.7zM342.6 43.2h.7v.7h-.7zM343.2 43.8h.7v.7h-.7zM340.1 44.4h.7v.7h-.7zM342.6 44.4h.7v.7h-.7zM340.1 45.0h.7v.7h-.7zM340.1 46.3h.7v.7h-.7zM340.8 46.3h.7v.7h-.7zM342.6 46.3h.7v.7h-.7zM340.1 46.9h.7v.7h-.7zM340.8 46.9h.7v.7h-.7zM342.6 46.9h.7v.7h-.7zM341.4 48.1h.7v.7h-.7zM342.0 48.1h.7v.7h-.7zM340.8 48.7h.7v.7h-.7zM342.0 48.7h.7v.7h-.7zM342.6 48.7h.7v.7h-.7zM340.8 49.4h.7v.7h-.7zM341.4 49.4h.7v.7h-.7zM342.0 49.4h.7v.7h-.7zM341.4 50.6h.7v.7h-.7zM341.4 67.3h.7v.7h-.7zM340.8 68.6h.7v.7h-.7zM342.0 69.2h.7v.7h-.7zM342.0 69.8h.7v.7h-.7zM340.8 70.4h.7v.7h-.7zM341.4 70.4h.7v.7h-.7z" fill="#c0d028" fill-opacity="1"/>
<path d="M340.8 36.3h.7v.7h-.7zM340.8 37.0h.7v.7h-.7zM340.8 37.6h.7v.7h-.7zM341.4 37.6h.7v.7h-.7zM342.6 37.6h.7v.7h-.7zM340.1 38.2h.7v.7h-.7zM341.4 38.2h.7v.7h-.7zM342.0 38.2h.7v.7h-.7zM342.6 38.2h.7v.7h-.7zM340.1 38.8h.7v.7h-.7zM342.6 38.8h.7v.7h-.7zM340.1 39.4h.7v.7h-.7zM340.1 40.1h.7v.7h-.7zM340.8 40.1h.7v.7h-.7zM342.0 40.1h.7v.7h-.7zM340.8 40.7h.7v.7h-.7zM340.1 41.9h.7v.7h-.7zM342.0 41.9h.7v.7h-.7zM342.6 41.9h.7v.7h-.7zM340.1 42.5h.7v.7h-.7zM340.1 43.2h.7v.7h-.7zM340.1 43.8h.7v.7h-.7zM340.8 45.0h.7v.7h-.7zM342.0 45.0h.7v.7h-.7zM342.6 45.0h.7v.7h-.7zM340.8 45.6h.7v.7h-.7zM342.6 45.6h.7v.7h-.7zM341.4 46.3h.7v.7h-.7zM342.0 46.3h.7v.7h-.7zM341.4 46.9h.7v.7h-.7zM342.0 46.9h.7v.7h-.7zM340.8 47.5h.7v.7h-.7zM341.4 47.5h.7v.7h-.7zM342.0 47.5h.7v.7h-.7zM341.4 68.6h.7v.7h-.7zM341.4 69.2h.7v.7h-.7zM341.4 69.8h.7v.7h-.7z" fill="#f2b41e" fill-opacity="1"/>
<path d="M342.0 37.6h.7v.7h-.7zM340.8 38.2h.7v.7h-.7zM340.8 38.8h.7v.7h-.7zM341.4 38.8h.7v.7h-.7zM342.0 38.8h.7v.7h-.7zM340.8 39.4h.7v.7h-.7zM341.4 39.4h.7v.7h-.7zM342.0 40.7h.7v.7h-.7zM342.0 41.3h.7v.7h-.7zM340.8 41.9h.7v.7h-.7zM340.8 42.5h.7v.7h-.7zM342.6 42.5h.7v.7h-.7zM341.4 43.8h.7v.7h-.7zM342.0 43.8h.7v.7h-.7zM342.6 43.8h.7v.7h-.7zM340.8 44.4h.7v.7h-.7zM341.4 44.4h.7v.7h-.7zM342.0 44.4h.7v.7h-.7zM341.4 45.0h.7v.7h-.7zM341.4 45.6h.7v.7h-.7zM342.0 45.6h.7v.7h-.7z" fill="#ee5a1c" fill-opacity="1"/>
<path d="M342.0 39.4h.7v.7h-.7zM341.4 40.1h.7v.7h-.7zM341.4 40.7h.7v.7h-.7zM340.8 41.3h.7v.7h-.7zM341.4 41.3h.7v.7h-.7zM341.4 41.9h.7v.7h-.7zM341.4 42.5h.7v.7h-.7zM342.0 42.5h.7v.7h-.7zM340.8 43.2h.7v.7h-.7zM341.4 43.2h.7v.7h-.7zM342.0 43.2h.7v.7h-.7zM340.8 43.8h.7v.7h-.7z" fill="#e0201c" fill-opacity="1"/>
<line x1="347.4" y1="24.8" x2="347.4" y2="83" stroke="#555" stroke-width="0.75"/>
<line x1="328.6" y1="61.2" x2="387" y2="61.2" stroke="#555" stroke-width="0.75"/>
<rect x="328.6" y="24.8" width="58.4" height="58.2" rx="1" fill="none" stroke="#666" stroke-width="0.8"/>
<line x1="327.4" y1="34.5" x2="328.6" y2="34.5" stroke="#666" stroke-width="0.5"/>
<line x1="338.33" y1="83" x2="338.33" y2="84.2" stroke="#666" stroke-width="0.5"/>
<line x1="327.4" y1="44.2" x2="328.6" y2="44.2" stroke="#666" stroke-width="0.5"/>
<line x1="348.07" y1="83" x2="348.07" y2="84.2" stroke="#666" stroke-width="0.5"/>
<line x1="327.4" y1="53.9" x2="328.6" y2="53.9" stroke="#666" stroke-width="0.5"/>
<line x1="357.8" y1="83" x2="357.8" y2="84.2" stroke="#666" stroke-width="0.5"/>
<line x1="327.4" y1="63.6" x2="328.6" y2="63.6" stroke="#666" stroke-width="0.5"/>
<line x1="367.53" y1="83" x2="367.53" y2="84.2" stroke="#666" stroke-width="0.5"/>
<line x1="327.4" y1="73.3" x2="328.6" y2="73.3" stroke="#666" stroke-width="0.5"/>
<line x1="377.27" y1="83" x2="377.27" y2="84.2" stroke="#666" stroke-width="0.5"/>
<rect x="327.4" y="68.5" width="1.4" height="2" fill="#111"/>
<rect x="340.8" y="82.8" width="2" height="1.4" fill="#111"/>
<text x="329.9" y="31.2" font-size="5.5" fill="#333">62.6</text>
<text x="385.4" y="31.2" font-size="5.5" text-anchor="end" fill="#333">15.8</text>
<text x="329.9" y="80.4" font-size="5.5" fill="#333">15.9</text>
<text x="385.4" y="80.4" font-size="5.5" text-anchor="end" fill="#333">5.63</text>
<rect x="398.6" y="24.8" width="58.3" height="58.2" fill="#ffffff"/>
<path d="M411.4 28.3h.62v.62h-.62zM416.3 28.3h.62v.62h-.62zM408.9 30.1h.62v.62h-.62zM408.3 31.4h.62v.62h-.62zM407.7 32.0h.62v.62h-.62zM410.1 32.0h.62v.62h-.62zM407.7 33.2h.62v.62h-.62zM411.4 33.2h.62v.62h-.62zM430.0 33.2h.62v.62h-.62zM413.2 34.5h.62v.62h-.62zM417.6 37.0h.62v.62h-.62zM420.7 37.0h.62v.62h-.62zM420.1 37.6h.62v.62h-.62zM423.8 38.2h.62v.62h-.62zM430.0 38.2h.62v.62h-.62zM430.6 38.2h.62v.62h-.62zM417.0 38.8h.62v.62h-.62zM427.5 38.8h.62v.62h-.62zM412.6 39.4h.62v.62h-.62zM418.8 40.1h.62v.62h-.62zM421.3 40.1h.62v.62h-.62zM421.9 40.1h.62v.62h-.62zM406.4 40.7h.62v.62h-.62zM418.2 40.7h.62v.62h-.62zM422.5 40.7h.62v.62h-.62zM428.7 40.7h.62v.62h-.62zM430.0 40.7h.62v.62h-.62zM431.2 40.7h.62v.62h-.62zM406.4 41.3h.62v.62h-.62zM417.0 41.3h.62v.62h-.62zM419.4 41.3h.62v.62h-.62zM421.3 41.3h.62v.62h-.62zM423.2 41.3h.62v.62h-.62zM428.1 41.3h.62v.62h-.62zM406.4 41.9h.62v.62h-.62zM412.6 41.9h.62v.62h-.62zM415.1 41.9h.62v.62h-.62zM418.8 42.5h.62v.62h-.62zM420.7 42.5h.62v.62h-.62zM426.9 42.5h.62v.62h-.62zM406.4 43.2h.62v.62h-.62zM412.6 43.2h.62v.62h-.62zM406.4 43.8h.62v.62h-.62zM426.9 43.8h.62v.62h-.62zM428.1 43.8h.62v.62h-.62zM423.2 44.4h.62v.62h-.62zM423.8 44.4h.62v.62h-.62zM418.2 45.0h.62v.62h-.62zM434.3 45.0h.62v.62h-.62zM405.8 45.6h.62v.62h-.62zM417.6 45.6h.62v.62h-.62zM426.3 45.6h.62v.62h-.62zM430.0 45.6h.62v.62h-.62zM412.6 46.3h.62v.62h-.62zM413.9 46.3h.62v.62h-.62zM416.3 46.3h.62v.62h-.62zM418.2 46.3h.62v.62h-.62zM420.1 46.3h.62v.62h-.62zM424.4 46.3h.62v.62h-.62zM428.1 46.3h.62v.62h-.62zM431.8 46.3h.62v.62h-.62zM406.4 46.9h.62v.62h-.62zM415.1 46.9h.62v.62h-.62zM420.7 46.9h.62v.62h-.62zM421.3 46.9h.62v.62h-.62zM424.4 46.9h.62v.62h-.62zM425.0 46.9h.62v.62h-.62zM404.6 47.5h.62v.62h-.62zM406.4 47.5h.62v.62h-.62zM414.5 47.5h.62v.62h-.62zM421.3 47.5h.62v.62h-.62zM423.2 47.5h.62v.62h-.62zM427.5 47.5h.62v.62h-.62zM412.6 48.1h.62v.62h-.62zM421.3 48.1h.62v.62h-.62zM423.8 48.1h.62v.62h-.62zM429.4 48.1h.62v.62h-.62zM406.4 48.7h.62v.62h-.62zM413.9 48.7h.62v.62h-.62zM421.3 48.7h.62v.62h-.62zM428.7 48.7h.62v.62h-.62zM432.5 48.7h.62v.62h-.62zM405.8 49.4h.62v.62h-.62zM417.0 49.4h.62v.62h-.62zM420.7 49.4h.62v.62h-.62zM412.6 50.0h.62v.62h-.62zM416.3 50.0h.62v.62h-.62zM423.8 50.0h.62v.62h-.62zM425.0 50.0h.62v.62h-.62zM423.8 50.6h.62v.62h-.62zM432.5 50.6h.62v.62h-.62zM406.4 51.2h.62v.62h-.62zM413.2 51.2h.62v.62h-.62zM415.1 51.2h.62v.62h-.62zM418.8 51.2h.62v.62h-.62zM420.1 51.2h.62v.62h-.62zM424.4 51.2h.62v.62h-.62zM425.0 51.2h.62v.62h-.62zM426.9 51.2h.62v.62h-.62zM428.7 51.2h.62v.62h-.62zM444.2 51.2h.62v.62h-.62zM406.4 51.8h.62v.62h-.62zM413.2 51.8h.62v.62h-.62zM417.0 51.8h.62v.62h-.62zM418.2 51.8h.62v.62h-.62zM418.8 51.8h.62v.62h-.62zM422.5 51.8h.62v.62h-.62zM429.4 51.8h.62v.62h-.62zM416.3 52.5h.62v.62h-.62zM418.2 52.5h.62v.62h-.62zM420.1 52.5h.62v.62h-.62zM425.0 52.5h.62v.62h-.62zM426.3 52.5h.62v.62h-.62zM432.5 52.5h.62v.62h-.62zM407.0 53.1h.62v.62h-.62zM405.2 53.7h.62v.62h-.62zM412.6 53.7h.62v.62h-.62zM416.3 53.7h.62v.62h-.62zM417.6 53.7h.62v.62h-.62zM422.5 53.7h.62v.62h-.62zM423.8 53.7h.62v.62h-.62zM425.0 53.7h.62v.62h-.62zM425.6 53.7h.62v.62h-.62zM412.0 54.3h.62v.62h-.62zM412.6 54.3h.62v.62h-.62zM417.6 54.3h.62v.62h-.62zM423.8 54.3h.62v.62h-.62zM425.0 54.3h.62v.62h-.62zM433.7 54.3h.62v.62h-.62zM407.0 54.9h.62v.62h-.62zM412.6 54.9h.62v.62h-.62zM421.9 54.9h.62v.62h-.62zM423.8 54.9h.62v.62h-.62zM429.4 54.9h.62v.62h-.62zM433.7 54.9h.62v.62h-.62zM413.2 55.6h.62v.62h-.62zM414.5 55.6h.62v.62h-.62zM422.5 55.6h.62v.62h-.62zM430.6 55.6h.62v.62h-.62zM441.8 55.6h.62v.62h-.62zM412.0 56.2h.62v.62h-.62zM416.3 56.2h.62v.62h-.62zM425.6 56.2h.62v.62h-.62zM430.0 56.2h.62v.62h-.62zM431.8 56.2h.62v.62h-.62zM433.7 56.2h.62v.62h-.62zM435.6 56.2h.62v.62h-.62zM405.2 56.8h.62v.62h-.62zM408.3 56.8h.62v.62h-.62zM417.6 56.8h.62v.62h-.62zM420.1 56.8h.62v.62h-.62zM421.9 56.8h.62v.62h-.62zM423.8 56.8h.62v.62h-.62zM426.9 56.8h.62v.62h-.62zM407.7 57.4h.62v.62h-.62zM415.7 57.4h.62v.62h-.62zM420.1 57.4h.62v.62h-.62zM407.7 58.0h.62v.62h-.62zM408.9 58.0h.62v.62h-.62zM412.0 58.0h.62v.62h-.62zM415.1 58.0h.62v.62h-.62zM417.0 58.0h.62v.62h-.62zM425.6 58.0h.62v.62h-.62zM412.0 58.7h.62v.62h-.62zM414.5 58.7h.62v.62h-.62zM420.1 58.7h.62v.62h-.62zM409.5 59.3h.62v.62h-.62zM410.8 59.3h.62v.62h-.62zM419.4 59.3h.62v.62h-.62zM412.6 59.9h.62v.62h-.62zM431.8 59.9h.62v.62h-.62zM407.7 60.5h.62v.62h-.62zM433.1 60.5h.62v.62h-.62zM442.4 60.5h.62v.62h-.62zM407.7 61.1h.62v.62h-.62zM424.4 61.1h.62v.62h-.62zM409.5 61.8h.62v.62h-.62zM412.6 61.8h.62v.62h-.62zM420.1 61.8h.62v.62h-.62zM426.3 61.8h.62v.62h-.62zM438.0 61.8h.62v.62h-.62zM411.4 62.4h.62v.62h-.62zM418.8 62.4h.62v.62h-.62zM422.5 62.4h.62v.62h-.62zM409.5 63.0h.62v.62h-.62zM410.8 63.0h.62v.62h-.62zM411.4 63.0h.62v.62h-.62zM412.0 63.0h.62v.62h-.62zM423.2 63.0h.62v.62h-.62zM428.1 63.0h.62v.62h-.62zM417.6 63.6h.62v.62h-.62zM420.7 63.6h.62v.62h-.62zM421.3 63.6h.62v.62h-.62zM425.6 63.6h.62v.62h-.62zM431.2 63.6h.62v.62h-.62zM407.7 64.2h.62v.62h-.62zM417.0 64.2h.62v.62h-.62zM417.6 64.2h.62v.62h-.62zM420.7 64.2h.62v.62h-.62zM428.1 64.2h.62v.62h-.62zM431.2 64.2h.62v.62h-.62zM446.1 64.2h.62v.62h-.62zM406.4 64.9h.62v.62h-.62zM412.0 64.9h.62v.62h-.62zM415.1 64.9h.62v.62h-.62zM419.4 64.9h.62v.62h-.62zM423.2 64.9h.62v.62h-.62zM425.0 64.9h.62v.62h-.62zM426.9 64.9h.62v.62h-.62zM430.6 64.9h.62v.62h-.62zM407.0 65.5h.62v.62h-.62zM412.0 65.5h.62v.62h-.62zM412.6 65.5h.62v.62h-.62zM415.7 65.5h.62v.62h-.62zM420.7 65.5h.62v.62h-.62zM421.9 65.5h.62v.62h-.62zM426.3 65.5h.62v.62h-.62zM426.9 65.5h.62v.62h-.62zM412.6 66.1h.62v.62h-.62zM413.2 66.1h.62v.62h-.62zM413.9 66.1h.62v.62h-.62zM417.0 66.1h.62v.62h-.62zM422.5 66.1h.62v.62h-.62zM426.9 66.1h.62v.62h-.62zM428.7 66.1h.62v.62h-.62zM430.6 66.1h.62v.62h-.62zM434.3 66.1h.62v.62h-.62zM413.2 66.7h.62v.62h-.62zM415.1 66.7h.62v.62h-.62zM418.2 66.7h.62v.62h-.62zM419.4 66.7h.62v.62h-.62zM426.3 66.7h.62v.62h-.62zM426.9 66.7h.62v.62h-.62zM419.4 67.3h.62v.62h-.62zM424.4 67.3h.62v.62h-.62zM425.0 67.3h.62v.62h-.62zM429.4 67.3h.62v.62h-.62zM406.4 68.0h.62v.62h-.62zM413.2 68.0h.62v.62h-.62zM417.0 68.0h.62v.62h-.62zM417.6 68.0h.62v.62h-.62zM418.2 68.0h.62v.62h-.62zM423.8 68.0h.62v.62h-.62zM427.5 68.0h.62v.62h-.62zM429.4 68.0h.62v.62h-.62zM403.3 68.6h.62v.62h-.62zM406.4 68.6h.62v.62h-.62zM417.6 68.6h.62v.62h-.62zM419.4 68.6h.62v.62h-.62zM421.3 68.6h.62v.62h-.62zM426.3 68.6h.62v.62h-.62zM427.5 68.6h.62v.62h-.62zM428.7 68.6h.62v.62h-.62zM416.3 69.2h.62v.62h-.62zM420.7 69.2h.62v.62h-.62zM421.3 69.2h.62v.62h-.62zM423.2 69.2h.62v.62h-.62zM402.7 69.8h.62v.62h-.62zM418.8 69.8h.62v.62h-.62zM421.3 69.8h.62v.62h-.62zM425.0 69.8h.62v.62h-.62zM412.0 70.4h.62v.62h-.62zM417.6 70.4h.62v.62h-.62zM418.8 70.4h.62v.62h-.62zM419.4 70.4h.62v.62h-.62zM424.4 70.4h.62v.62h-.62zM426.3 70.4h.62v.62h-.62zM427.5 70.4h.62v.62h-.62zM412.0 71.1h.62v.62h-.62zM415.1 71.1h.62v.62h-.62zM423.8 71.1h.62v.62h-.62zM407.0 71.7h.62v.62h-.62zM418.8 71.7h.62v.62h-.62zM425.0 71.7h.62v.62h-.62zM428.7 71.7h.62v.62h-.62zM407.7 72.3h.62v.62h-.62zM411.4 72.3h.62v.62h-.62zM413.9 72.3h.62v.62h-.62zM415.1 72.3h.62v.62h-.62zM422.5 72.3h.62v.62h-.62zM405.8 72.9h.62v.62h-.62zM416.3 72.9h.62v.62h-.62zM418.8 72.9h.62v.62h-.62zM419.4 72.9h.62v.62h-.62zM409.5 73.5h.62v.62h-.62zM410.1 73.5h.62v.62h-.62zM410.8 73.5h.62v.62h-.62zM411.4 73.5h.62v.62h-.62zM414.5 73.5h.62v.62h-.62zM418.8 73.5h.62v.62h-.62zM425.0 73.5h.62v.62h-.62zM428.1 73.5h.62v.62h-.62zM408.9 74.2h.62v.62h-.62zM417.0 74.2h.62v.62h-.62zM419.4 74.2h.62v.62h-.62zM414.5 74.8h.62v.62h-.62zM417.6 74.8h.62v.62h-.62zM425.6 74.8h.62v.62h-.62zM428.1 77.3h.62v.62h-.62zM431.8 77.3h.62v.62h-.62zM421.9 77.9h.62v.62h-.62zM429.4 79.1h.62v.62h-.62z" fill="#8090d0" fill-opacity="0.55"/>
<path d="M408.9 31.4h.62v.62h-.62zM409.5 31.4h.62v.62h-.62zM408.3 32.6h.62v.62h-.62zM408.9 32.6h.62v.62h-.62zM409.5 32.6h.62v.62h-.62zM410.1 32.6h.62v.62h-.62zM410.8 32.6h.62v.62h-.62zM408.9 33.2h.62v.62h-.62zM409.5 33.2h.62v.62h-.62zM408.3 33.9h.62v.62h-.62zM410.1 33.9h.62v.62h-.62zM410.8 33.9h.62v.62h-.62zM407.7 34.5h.62v.62h-.62zM410.1 34.5h.62v.62h-.62zM410.8 34.5h.62v.62h-.62zM411.4 34.5h.62v.62h-.62zM407.7 35.1h.62v.62h-.62zM408.3 35.1h.62v.62h-.62zM407.0 35.7h.62v.62h-.62zM407.7 35.7h.62v.62h-.62zM411.4 35.7h.62v.62h-.62zM407.7 36.3h.62v.62h-.62zM407.7 37.0h.62v.62h-.62zM411.4 37.0h.62v.62h-.62zM407.0 37.6h.62v.62h-.62zM411.4 37.6h.62v.62h-.62zM407.0 38.2h.62v.62h-.62zM412.0 38.2h.62v.62h-.62zM407.0 39.4h.62v.62h-.62zM407.0 40.1h.62v.62h-.62zM407.0 40.7h.62v.62h-.62zM412.0 40.7h.62v.62h-.62zM407.0 41.3h.62v.62h-.62zM407.0 41.9h.62v.62h-.62zM412.0 41.9h.62v.62h-.62zM412.0 42.5h.62v.62h-.62zM412.0 43.8h.62v.62h-.62zM406.4 44.4h.62v.62h-.62zM412.0 44.4h.62v.62h-.62zM412.0 45.0h.62v.62h-.62zM406.4 45.6h.62v.62h-.62zM407.0 45.6h.62v.62h-.62zM412.0 45.6h.62v.62h-.62zM407.0 46.9h.62v.62h-.62zM407.0 47.5h.62v.62h-.62zM412.0 47.5h.62v.62h-.62zM406.4 48.1h.62v.62h-.62zM407.0 48.1h.62v.62h-.62zM412.0 48.1h.62v.62h-.62zM407.0 48.7h.62v.62h-.62zM412.0 48.7h.62v.62h-.62zM407.0 49.4h.62v.62h-.62zM412.0 49.4h.62v.62h-.62zM411.4 50.6h.62v.62h-.62zM411.4 52.5h.62v.62h-.62zM407.7 53.1h.62v.62h-.62zM407.0 53.7h.62v.62h-.62zM407.7 53.7h.62v.62h-.62zM407.7 54.3h.62v.62h-.62zM411.4 54.3h.62v.62h-.62zM407.7 54.9h.62v.62h-.62zM411.4 54.9h.62v.62h-.62zM408.9 55.6h.62v.62h-.62zM409.5 55.6h.62v.62h-.62zM410.1 55.6h.62v.62h-.62zM410.8 55.6h.62v.62h-.62zM408.3 56.2h.62v.62h-.62zM410.1 56.2h.62v.62h-.62zM409.5 56.8h.62v.62h-.62zM410.1 56.8h.62v.62h-.62zM409.5 57.4h.62v.62h-.62zM410.1 57.4h.62v.62h-.62zM410.8 57.4h.62v.62h-.62zM409.5 58.0h.62v.62h-.62zM408.9 63.0h.62v.62h-.62zM408.9 63.6h.62v.62h-.62zM409.5 63.6h.62v.62h-.62zM410.8 63.6h.62v.62h-.62zM410.8 64.2h.62v.62h-.62zM410.8 64.9h.62v.62h-.62zM410.8 65.5h.62v.62h-.62zM411.4 65.5h.62v.62h-.62zM407.7 66.1h.62v.62h-.62zM411.4 66.1h.62v.62h-.62zM412.0 66.1h.62v.62h-.62zM407.7 67.3h.62v.62h-.62zM407.0 68.0h.62v.62h-.62zM407.0 68.6h.62v.62h-.62zM412.0 68.6h.62v.62h-.62zM407.0 69.2h.62v.62h-.62zM407.7 69.2h.62v.62h-.62zM412.0 69.2h.62v.62h-.62zM407.7 69.8h.62v.62h-.62zM411.4 69.8h.62v.62h-.62zM412.0 69.8h.62v.62h-.62zM407.7 70.4h.62v.62h-.62zM411.4 70.4h.62v.62h-.62zM407.7 71.1h.62v.62h-.62zM408.3 71.1h.62v.62h-.62zM408.3 71.7h.62v.62h-.62zM410.8 71.7h.62v.62h-.62zM411.4 71.7h.62v.62h-.62zM408.3 72.3h.62v.62h-.62zM409.5 72.3h.62v.62h-.62zM410.8 72.3h.62v.62h-.62zM408.9 72.9h.62v.62h-.62zM410.1 72.9h.62v.62h-.62z" fill="#5570c8" fill-opacity="0.8"/>
<path d="M409.5 33.9h.7v.7h-.7zM408.9 34.5h.7v.7h-.7zM410.1 35.1h.7v.7h-.7zM410.8 35.1h.7v.7h-.7zM408.3 35.7h.7v.7h-.7zM410.8 35.7h.7v.7h-.7zM408.3 36.3h.7v.7h-.7zM410.8 37.0h.7v.7h-.7zM411.4 38.2h.7v.7h-.7zM411.4 38.8h.7v.7h-.7zM411.4 39.4h.7v.7h-.7zM411.4 40.1h.7v.7h-.7zM411.4 40.7h.7v.7h-.7zM411.4 41.3h.7v.7h-.7zM411.4 41.9h.7v.7h-.7zM407.0 42.5h.7v.7h-.7zM407.0 43.2h.7v.7h-.7zM407.0 43.8h.7v.7h-.7zM407.0 45.0h.7v.7h-.7zM407.0 46.3h.7v.7h-.7zM411.4 46.9h.7v.7h-.7zM411.4 47.5h.7v.7h-.7zM411.4 50.0h.7v.7h-.7zM407.7 50.6h.7v.7h-.7zM407.7 51.2h.7v.7h-.7zM411.4 51.2h.7v.7h-.7zM407.7 51.8h.7v.7h-.7zM410.8 53.1h.7v.7h-.7zM408.3 53.7h.7v.7h-.7zM410.1 53.7h.7v.7h-.7zM408.3 54.3h.7v.7h-.7zM410.1 54.3h.7v.7h-.7zM409.5 54.9h.7v.7h-.7zM410.1 54.9h.7v.7h-.7zM409.5 64.2h.7v.7h-.7zM408.3 64.9h.7v.7h-.7zM408.9 64.9h.7v.7h-.7zM409.5 64.9h.7v.7h-.7zM410.1 64.9h.7v.7h-.7zM408.3 65.5h.7v.7h-.7zM410.1 65.5h.7v.7h-.7zM408.3 66.1h.7v.7h-.7zM410.8 66.1h.7v.7h-.7zM410.8 66.7h.7v.7h-.7zM410.8 67.3h.7v.7h-.7zM411.4 67.3h.7v.7h-.7zM411.4 68.0h.7v.7h-.7zM407.7 68.6h.7v.7h-.7zM411.4 68.6h.7v.7h-.7zM411.4 69.2h.7v.7h-.7zM410.1 70.4h.7v.7h-.7zM408.9 71.1h.7v.7h-.7zM409.5 71.1h.7v.7h-.7zM408.9 71.7h.7v.7h-.7zM409.5 71.7h.7v.7h-.7z" fill="#3f95c8" fill-opacity="0.9"/>
<path d="M409.5 34.5h.7v.7h-.7zM408.9 35.1h.7v.7h-.7zM408.9 35.7h.7v.7h-.7zM409.5 35.7h.7v.7h-.7zM410.1 35.7h.7v.7h-.7zM408.9 36.3h.7v.7h-.7zM410.1 36.3h.7v.7h-.7zM408.3 37.0h.7v.7h-.7zM410.1 37.0h.7v.7h-.7zM408.3 37.6h.7v.7h-.7zM410.8 37.6h.7v.7h-.7zM408.3 38.2h.7v.7h-.7zM410.8 38.2h.7v.7h-.7zM407.7 38.8h.7v.7h-.7zM410.8 38.8h.7v.7h-.7zM407.7 39.4h.7v.7h-.7zM410.8 39.4h.7v.7h-.7zM407.7 40.1h.7v.7h-.7zM408.3 40.1h.7v.7h-.7zM407.7 40.7h.7v.7h-.7zM410.8 40.7h.7v.7h-.7zM407.7 41.3h.7v.7h-.7zM407.7 41.9h.7v.7h-.7zM410.8 41.9h.7v.7h-.7zM407.7 42.5h.7v.7h-.7zM410.8 42.5h.7v.7h-.7zM411.4 42.5h.7v.7h-.7zM407.7 43.2h.7v.7h-.7zM411.4 43.2h.7v.7h-.7zM407.7 43.8h.7v.7h-.7zM411.4 43.8h.7v.7h-.7zM407.7 44.4h.7v.7h-.7zM411.4 44.4h.7v.7h-.7zM407.7 45.0h.7v.7h-.7zM411.4 45.0h.7v.7h-.7zM407.7 45.6h.7v.7h-.7zM411.4 45.6h.7v.7h-.7zM407.7 46.3h.7v.7h-.7zM411.4 46.3h.7v.7h-.7zM407.7 46.9h.7v.7h-.7zM410.8 46.9h.7v.7h-.7zM407.7 47.5h.7v.7h-.7zM407.7 48.1h.7v.7h-.7zM410.8 48.1h.7v.7h-.7zM411.4 48.1h.7v.7h-.7zM407.7 48.7h.7v.7h-.7zM410.8 48.7h.7v.7h-.7zM411.4 48.7h.7v.7h-.7zM407.7 49.4h.7v.7h-.7zM408.3 49.4h.7v.7h-.7zM410.8 49.4h.7v.7h-.7zM411.4 49.4h.7v.7h-.7zM407.7 50.0h.7v.7h-.7zM408.3 50.0h.7v.7h-.7zM410.8 50.0h.7v.7h-.7zM408.3 50.6h.7v.7h-.7zM410.8 50.6h.7v.7h-.7zM410.8 51.2h.7v.7h-.7zM408.3 51.8h.7v.7h-.7zM408.9 51.8h.7v.7h-.7zM410.1 51.8h.7v.7h-.7zM410.8 51.8h.7v.7h-.7zM408.3 52.5h.7v.7h-.7zM408.9 52.5h.7v.7h-.7zM409.5 52.5h.7v.7h-.7zM410.1 52.5h.7v.7h-.7zM408.3 53.1h.7v.7h-.7zM408.9 53.1h.7v.7h-.7zM409.5 53.1h.7v.7h-.7zM410.1 53.1h.7v.7h-.7zM408.9 53.7h.7v.7h-.7zM409.5 53.7h.7v.7h-.7zM408.9 54.3h.7v.7h-.7zM409.5 54.3h.7v.7h-.7zM408.9 65.5h.7v.7h-.7zM409.5 65.5h.7v.7h-.7zM408.9 66.1h.7v.7h-.7zM409.5 66.1h.7v.7h-.7zM410.1 66.1h.7v.7h-.7zM408.3 66.7h.7v.7h-.7zM409.5 66.7h.7v.7h-.7zM410.1 66.7h.7v.7h-.7zM408.3 67.3h.7v.7h-.7zM408.3 68.0h.7v.7h-.7zM410.8 68.0h.7v.7h-.7zM408.3 68.6h.7v.7h-.7zM410.8 68.6h.7v.7h-.7zM408.3 69.2h.7v.7h-.7zM408.9 69.2h.7v.7h-.7zM410.8 69.2h.7v.7h-.7zM408.3 69.8h.7v.7h-.7zM408.9 69.8h.7v.7h-.7zM409.5 69.8h.7v.7h-.7zM410.1 69.8h.7v.7h-.7zM410.8 69.8h.7v.7h-.7zM409.5 70.4h.7v.7h-.7z" fill="#3fb59a" fill-opacity="1"/>
<path d="M409.5 36.3h.7v.7h-.7zM408.9 37.0h.7v.7h-.7zM409.5 37.0h.7v.7h-.7zM408.9 37.6h.7v.7h-.7zM409.5 37.6h.7v.7h-.7zM410.1 37.6h.7v.7h-.7zM408.9 38.2h.7v.7h-.7zM409.5 38.2h.7v.7h-.7zM410.1 38.2h.7v.7h-.7zM408.3 38.8h.7v.7h-.7zM409.5 38.8h.7v.7h-.7zM410.1 38.8h.7v.7h-.7zM408.3 39.4h.7v.7h-.7zM408.9 39.4h.7v.7h-.7zM410.1 39.4h.7v.7h-.7zM410.8 40.1h.7v.7h-.7zM408.3 40.7h.7v.7h-.7zM410.1 41.3h.7v.7h-.7zM408.3 41.9h.7v.7h-.7zM408.3 42.5h.7v.7h-.7zM410.8 43.2h.7v.7h-.7zM408.3 43.8h.7v.7h-.7zM410.8 44.4h.7v.7h-.7zM410.8 45.0h.7v.7h-.7zM408.3 46.3h.7v.7h-.7zM410.8 46.3h.7v.7h-.7zM408.3 46.9h.7v.7h-.7zM408.3 47.5h.7v.7h-.7zM410.8 47.5h.7v.7h-.7zM410.1 48.1h.7v.7h-.7zM408.3 48.7h.7v.7h-.7zM408.9 49.4h.7v.7h-.7zM410.1 49.4h.7v.7h-.7zM408.9 50.6h.7v.7h-.7zM410.1 50.6h.7v.7h-.7zM408.3 51.2h.7v.7h-.7zM408.9 51.2h.7v.7h-.7zM410.1 51.2h.7v.7h-.7zM409.5 51.8h.7v.7h-.7zM408.9 66.7h.7v.7h-.7zM408.9 67.3h.7v.7h-.7zM410.1 67.3h.7v.7h-.7zM408.9 68.0h.7v.7h-.7zM409.5 68.0h.7v.7h-.7zM410.1 68.0h.7v.7h-.7zM408.9 68.6h.7v.7h-.7zM409.5 68.6h.7v.7h-.7zM410.1 68.6h.7v.7h-.7zM409.5 69.2h.7v.7h-.7zM410.1 69.2h.7v.7h-.7z" fill="#6cc040" fill-opacity="1"/>
<path d="M408.9 38.8h.7v.7h-.7zM409.5 39.4h.7v.7h-.7zM408.9 40.1h.7v.7h-.7zM410.1 40.1h.7v.7h-.7zM408.9 40.7h.7v.7h-.7zM410.1 40.7h.7v.7h-.7zM408.3 41.3h.7v.7h-.7zM408.9 41.3h.7v.7h-.7zM409.5 41.3h.7v.7h-.7zM409.5 41.9h.7v.7h-.7zM410.1 41.9h.7v.7h-.7zM409.5 42.5h.7v.7h-.7zM408.3 43.2h.7v.7h-.7zM410.8 43.8h.7v.7h-.7zM408.3 44.4h.7v.7h-.7zM410.1 44.4h.7v.7h-.7zM408.3 45.0h.7v.7h-.7zM408.3 45.6h.7v.7h-.7zM410.8 45.6h.7v.7h-.7zM409.5 46.3h.7v.7h-.7zM410.1 46.3h.7v.7h-.7zM409.5 46.9h.7v.7h-.7zM410.1 46.9h.7v.7h-.7zM410.1 47.5h.7v.7h-.7zM408.3 48.1h.7v.7h-.7zM408.9 48.1h.7v.7h-.7zM409.5 48.1h.7v.7h-.7zM408.9 48.7h.7v.7h-.7zM409.5 48.7h.7v.7h-.7zM408.9 50.0h.7v.7h-.7zM410.1 50.0h.7v.7h-.7zM409.5 50.6h.7v.7h-.7zM409.5 51.2h.7v.7h-.7zM409.5 67.3h.7v.7h-.7z" fill="#c0d028" fill-opacity="1"/>
<path d="M409.5 40.1h.7v.7h-.7zM409.5 40.7h.7v.7h-.7zM408.9 41.9h.7v.7h-.7zM408.9 42.5h.7v.7h-.7zM410.1 42.5h.7v.7h-.7zM408.9 43.2h.7v.7h-.7zM409.5 43.2h.7v.7h-.7zM410.1 43.2h.7v.7h-.7zM409.5 43.8h.7v.7h-.7zM410.1 43.8h.7v.7h-.7zM408.9 45.0h.7v.7h-.7zM409.5 45.0h.7v.7h-.7zM410.1 45.0h.7v.7h-.7zM408.9 45.6h.7v.7h-.7zM409.5 45.6h.7v.7h-.7zM410.1 45.6h.7v.7h-.7zM408.9 46.3h.7v.7h-.7zM408.9 47.5h.7v.7h-.7zM409.5 47.5h.7v.7h-.7zM410.1 48.7h.7v.7h-.7zM409.5 49.4h.7v.7h-.7zM409.5 50.0h.7v.7h-.7z" fill="#f2b41e" fill-opacity="1"/>
<path d="M408.9 43.8h.7v.7h-.7zM408.9 44.4h.7v.7h-.7zM409.5 44.4h.7v.7h-.7zM408.9 46.9h.7v.7h-.7z" fill="#ee5a1c" fill-opacity="1"/>
<line x1="416.6" y1="24.8" x2="416.6" y2="83" stroke="#555" stroke-width="0.75"/>
<line x1="398.6" y1="61" x2="456.9" y2="61" stroke="#555" stroke-width="0.75"/>
<rect x="398.6" y="24.8" width="58.3" height="58.2" rx="1" fill="none" stroke="#666" stroke-width="0.8"/>
<line x1="397.4" y1="34.5" x2="398.6" y2="34.5" stroke="#666" stroke-width="0.5"/>
<line x1="408.32" y1="83" x2="408.32" y2="84.2" stroke="#666" stroke-width="0.5"/>
<line x1="397.4" y1="44.2" x2="398.6" y2="44.2" stroke="#666" stroke-width="0.5"/>
<line x1="418.03" y1="83" x2="418.03" y2="84.2" stroke="#666" stroke-width="0.5"/>
<line x1="397.4" y1="53.9" x2="398.6" y2="53.9" stroke="#666" stroke-width="0.5"/>
<line x1="427.75" y1="83" x2="427.75" y2="84.2" stroke="#666" stroke-width="0.5"/>
<line x1="397.4" y1="63.6" x2="398.6" y2="63.6" stroke="#666" stroke-width="0.5"/>
<line x1="437.47" y1="83" x2="437.47" y2="84.2" stroke="#666" stroke-width="0.5"/>
<line x1="397.4" y1="73.3" x2="398.6" y2="73.3" stroke="#666" stroke-width="0.5"/>
<line x1="447.18" y1="83" x2="447.18" y2="84.2" stroke="#666" stroke-width="0.5"/>
<rect x="397.4" y="68.5" width="1.4" height="2" fill="#111"/>
<rect x="410.5" y="82.8" width="2" height="1.4" fill="#111"/>
<text x="399.9" y="31.2" font-size="5.5" fill="#333">73.3</text>
<text x="455.3" y="31.2" font-size="5.5" text-anchor="end" fill="#333">4.99</text>
<text x="399.9" y="80.4" font-size="5.5" fill="#333">19.0</text>
<text x="455.3" y="80.4" font-size="5.5" text-anchor="end" fill="#333">2.72</text>
<rect x="260.2" y="90.6" width="58.8" height="57.4" fill="#ffffff"/>
<path d="M271.1 93.5h.62v.62h-.62zM274.2 97.2h.62v.62h-.62zM268.6 99.0h.62v.62h-.62zM277.3 99.0h.62v.62h-.62zM273.0 99.7h.62v.62h-.62zM291.0 99.7h.62v.62h-.62zM268.6 100.3h.62v.62h-.62zM277.9 100.3h.62v.62h-.62zM267.4 100.9h.62v.62h-.62zM272.4 101.5h.62v.62h-.62zM273.6 101.5h.62v.62h-.62zM274.2 102.1h.62v.62h-.62zM270.5 102.8h.62v.62h-.62zM275.5 102.8h.62v.62h-.62zM273.6 103.4h.62v.62h-.62zM274.8 103.4h.62v.62h-.62zM281.0 103.4h.62v.62h-.62zM286.0 103.4h.62v.62h-.62zM275.5 104.0h.62v.62h-.62zM277.3 104.0h.62v.62h-.62zM278.6 104.0h.62v.62h-.62zM270.5 104.6h.62v.62h-.62zM271.1 104.6h.62v.62h-.62zM271.7 104.6h.62v.62h-.62zM273.0 104.6h.62v.62h-.62zM274.8 104.6h.62v.62h-.62zM271.1 105.2h.62v.62h-.62zM270.5 105.9h.62v.62h-.62zM275.5 105.9h.62v.62h-.62zM289.1 105.9h.62v.62h-.62zM270.5 106.5h.62v.62h-.62zM272.4 106.5h.62v.62h-.62zM278.6 106.5h.62v.62h-.62zM279.2 106.5h.62v.62h-.62zM288.5 106.5h.62v.62h-.62zM297.8 106.5h.62v.62h-.62zM270.5 107.1h.62v.62h-.62zM273.0 107.1h.62v.62h-.62zM274.2 107.1h.62v.62h-.62zM274.8 107.1h.62v.62h-.62zM275.5 107.1h.62v.62h-.62zM282.9 107.1h.62v.62h-.62zM272.4 107.7h.62v.62h-.62zM274.8 107.7h.62v.62h-.62zM269.3 108.3h.62v.62h-.62zM270.5 108.3h.62v.62h-.62zM272.4 108.3h.62v.62h-.62zM274.8 108.3h.62v.62h-.62zM281.7 108.3h.62v.62h-.62zM306.5 108.3h.62v.62h-.62zM270.5 109.0h.62v.62h-.62zM273.6 109.0h.62v.62h-.62zM274.2 109.0h.62v.62h-.62zM274.8 109.0h.62v.62h-.62zM277.3 109.0h.62v.62h-.62zM278.6 109.0h.62v.62h-.62zM274.8 109.6h.62v.62h-.62zM277.9 109.6h.62v.62h-.62zM284.1 109.6h.62v.62h-.62zM295.3 109.6h.62v.62h-.62zM268.0 110.2h.62v.62h-.62zM271.7 110.2h.62v.62h-.62zM272.4 110.2h.62v.62h-.62zM273.0 110.2h.62v.62h-.62zM274.2 110.2h.62v.62h-.62zM276.1 110.2h.62v.62h-.62zM277.3 110.2h.62v.62h-.62zM269.3 110.8h.62v.62h-.62zM271.1 110.8h.62v.62h-.62zM272.4 110.8h.62v.62h-.62zM276.1 110.8h.62v.62h-.62zM277.3 110.8h.62v.62h-.62zM277.9 110.8h.62v.62h-.62zM284.1 110.8h.62v.62h-.62zM274.8 111.4h.62v.62h-.62zM276.1 111.4h.62v.62h-.62zM286.0 111.4h.62v.62h-.62zM271.1 112.1h.62v.62h-.62zM271.7 112.1h.62v.62h-.62zM292.8 112.1h.62v.62h-.62zM295.3 112.1h.62v.62h-.62zM295.9 112.1h.62v.62h-.62zM269.3 112.7h.62v.62h-.62zM269.9 112.7h.62v.62h-.62zM270.5 112.7h.62v.62h-.62zM273.6 112.7h.62v.62h-.62zM274.2 112.7h.62v.62h-.62zM276.1 112.7h.62v.62h-.62zM292.2 112.7h.62v.62h-.62zM297.2 112.7h.62v.62h-.62zM298.4 112.7h.62v.62h-.62zM269.9 113.3h.62v.62h-.62zM271.1 113.3h.62v.62h-.62zM276.1 113.3h.62v.62h-.62zM276.7 113.3h.62v.62h-.62zM282.9 113.3h.62v.62h-.62zM266.2 113.9h.62v.62h-.62zM269.9 113.9h.62v.62h-.62zM272.4 113.9h.62v.62h-.62zM275.5 113.9h.62v.62h-.62zM278.6 113.9h.62v.62h-.62zM301.5 113.9h.62v.62h-.62zM267.4 114.5h.62v.62h-.62zM268.6 114.5h.62v.62h-.62zM269.9 114.5h.62v.62h-.62zM271.1 114.5h.62v.62h-.62zM272.4 114.5h.62v.62h-.62zM275.5 114.5h.62v.62h-.62zM277.3 114.5h.62v.62h-.62zM293.4 114.5h.62v.62h-.62zM270.5 115.2h.62v.62h-.62zM271.1 115.2h.62v.62h-.62zM272.4 115.2h.62v.62h-.62zM273.0 115.2h.62v.62h-.62zM276.1 115.2h.62v.62h-.62zM276.7 115.2h.62v.62h-.62zM285.4 115.2h.62v.62h-.62zM291.0 115.2h.62v.62h-.62zM300.3 115.2h.62v.62h-.62zM268.6 115.8h.62v.62h-.62zM269.9 115.8h.62v.62h-.62zM271.1 115.8h.62v.62h-.62zM276.1 115.8h.62v.62h-.62zM276.7 115.8h.62v.62h-.62zM277.3 115.8h.62v.62h-.62zM277.9 115.8h.62v.62h-.62zM278.6 115.8h.62v.62h-.62zM279.2 115.8h.62v.62h-.62zM265.5 116.4h.62v.62h-.62zM271.1 116.4h.62v.62h-.62zM282.9 116.4h.62v.62h-.62zM297.2 116.4h.62v.62h-.62zM269.3 117.0h.62v.62h-.62zM270.5 117.0h.62v.62h-.62zM271.1 117.0h.62v.62h-.62zM271.7 117.0h.62v.62h-.62zM272.4 117.0h.62v.62h-.62zM276.1 117.0h.62v.62h-.62zM270.5 117.6h.62v.62h-.62zM271.1 117.6h.62v.62h-.62zM273.6 117.6h.62v.62h-.62zM274.2 117.6h.62v.62h-.62zM276.1 117.6h.62v.62h-.62zM277.9 117.6h.62v.62h-.62zM278.6 117.6h.62v.62h-.62zM283.5 117.6h.62v.62h-.62zM268.6 118.3h.62v.62h-.62zM273.0 118.3h.62v.62h-.62zM282.3 118.3h.62v.62h-.62zM287.2 118.3h.62v.62h-.62zM297.8 118.3h.62v.62h-.62zM268.0 118.9h.62v.62h-.62zM268.6 118.9h.62v.62h-.62zM269.3 118.9h.62v.62h-.62zM269.9 118.9h.62v.62h-.62zM272.4 118.9h.62v.62h-.62zM274.8 118.9h.62v.62h-.62zM277.3 118.9h.62v.62h-.62zM280.4 118.9h.62v.62h-.62zM289.1 118.9h.62v.62h-.62zM293.4 118.9h.62v.62h-.62zM297.8 118.9h.62v.62h-.62zM312.7 118.9h.62v.62h-.62zM266.8 119.5h.62v.62h-.62zM269.9 119.5h.62v.62h-.62zM271.1 119.5h.62v.62h-.62zM274.8 119.5h.62v.62h-.62zM277.3 119.5h.62v.62h-.62zM291.0 119.5h.62v.62h-.62zM292.8 119.5h.62v.62h-.62zM295.3 119.5h.62v.62h-.62zM271.7 120.1h.62v.62h-.62zM274.2 120.1h.62v.62h-.62zM274.8 120.1h.62v.62h-.62zM276.7 120.1h.62v.62h-.62zM279.2 120.1h.62v.62h-.62zM289.1 120.1h.62v.62h-.62zM291.0 120.1h.62v.62h-.62zM299.0 120.1h.62v.62h-.62zM267.4 120.7h.62v.62h-.62zM268.6 120.7h.62v.62h-.62zM269.9 120.7h.62v.62h-.62zM271.7 120.7h.62v.62h-.62zM275.5 120.7h.62v.62h-.62zM277.9 120.7h.62v.62h-.62zM280.4 120.7h.62v.62h-.62zM284.8 120.7h.62v.62h-.62zM267.4 121.4h.62v.62h-.62zM269.3 121.4h.62v.62h-.62zM271.1 121.4h.62v.62h-.62zM273.0 121.4h.62v.62h-.62zM276.7 121.4h.62v.62h-.62zM277.3 121.4h.62v.62h-.62zM268.6 122.0h.62v.62h-.62zM279.2 122.0h.62v.62h-.62zM282.9 122.0h.62v.62h-.62zM289.1 122.0h.62v.62h-.62zM295.3 122.0h.62v.62h-.62zM309.6 122.0h.62v.62h-.62zM271.1 122.6h.62v.62h-.62zM276.7 122.6h.62v.62h-.62zM278.6 122.6h.62v.62h-.62zM281.7 122.6h.62v.62h-.62zM283.5 122.6h.62v.62h-.62zM295.3 122.6h.62v.62h-.62zM278.6 123.2h.62v.62h-.62zM279.8 123.2h.62v.62h-.62zM290.3 123.2h.62v.62h-.62zM268.6 123.8h.62v.62h-.62zM270.5 123.8h.62v.62h-.62zM277.3 123.8h.62v.62h-.62zM302.7 123.8h.62v.62h-.62zM268.6 124.5h.62v.62h-.62zM269.3 124.5h.62v.62h-.62zM270.5 124.5h.62v.62h-.62zM280.4 124.5h.62v.62h-.62zM281.7 124.5h.62v.62h-.62zM289.7 124.5h.62v.62h-.62zM300.9 124.5h.62v.62h-.62zM301.5 124.5h.62v.62h-.62zM266.8 125.1h.62v.62h-.62zM277.3 125.1h.62v.62h-.62zM279.2 125.1h.62v.62h-.62zM282.9 125.1h.62v.62h-.62zM292.8 125.1h.62v.62h-.62zM269.3 125.7h.62v.62h-.62zM278.6 125.7h.62v.62h-.62zM279.2 125.7h.62v.62h-.62zM279.8 125.7h.62v.62h-.62zM280.4 125.7h.62v.62h-.62zM285.4 125.7h.62v.62h-.62zM287.9 125.7h.62v.62h-.62zM294.7 125.7h.62v.62h-.62zM296.5 125.7h.62v.62h-.62zM297.8 125.7h.62v.62h-.62zM300.3 125.7h.62v.62h-.62zM269.9 126.3h.62v.62h-.62zM279.2 126.3h.62v.62h-.62zM282.3 126.3h.62v.62h-.62zM284.8 126.3h.62v.62h-.62zM288.5 126.3h.62v.62h-.62zM297.2 126.3h.62v.62h-.62zM306.5 126.3h.62v.62h-.62zM310.8 126.3h.62v.62h-.62zM269.9 126.9h.62v.62h-.62zM278.6 126.9h.62v.62h-.62zM281.0 126.9h.62v.62h-.62zM284.8 126.9h.62v.62h-.62zM287.9 126.9h.62v.62h-.62zM291.6 126.9h.62v.62h-.62zM297.2 126.9h.62v.62h-.62zM300.9 126.9h.62v.62h-.62zM268.6 127.6h.62v.62h-.62zM269.3 127.6h.62v.62h-.62zM269.9 127.6h.62v.62h-.62zM279.2 127.6h.62v.62h-.62zM281.7 127.6h.62v.62h-.62zM282.3 127.6h.62v.62h-.62zM282.9 127.6h.62v.62h-.62zM284.8 127.6h.62v.62h-.62zM280.4 128.2h.62v.62h-.62zM281.0 128.2h.62v.62h-.62zM281.7 128.2h.62v.62h-.62zM282.3 128.2h.62v.62h-.62zM283.5 128.2h.62v.62h-.62zM285.4 128.2h.62v.62h-.62zM286.6 128.2h.62v.62h-.62zM289.1 128.2h.62v.62h-.62zM291.6 128.2h.62v.62h-.62zM292.8 128.2h.62v.62h-.62zM295.9 128.2h.62v.62h-.62zM304.6 128.2h.62v.62h-.62zM268.0 128.8h.62v.62h-.62zM282.3 128.8h.62v.62h-.62zM282.9 128.8h.62v.62h-.62zM284.1 128.8h.62v.62h-.62zM286.0 128.8h.62v.62h-.62zM288.5 128.8h.62v.62h-.62zM289.7 128.8h.62v.62h-.62zM291.6 128.8h.62v.62h-.62zM292.2 128.8h.62v.62h-.62zM295.3 128.8h.62v.62h-.62zM267.4 129.4h.62v.62h-.62zM282.9 129.4h.62v.62h-.62zM285.4 129.4h.62v.62h-.62zM286.0 129.4h.62v.62h-.62zM289.1 129.4h.62v.62h-.62zM292.2 129.4h.62v.62h-.62zM293.4 129.4h.62v.62h-.62zM295.3 129.4h.62v.62h-.62zM297.2 129.4h.62v.62h-.62zM307.1 129.4h.62v.62h-.62zM307.7 129.4h.62v.62h-.62zM268.0 130.0h.62v.62h-.62zM268.6 130.0h.62v.62h-.62zM282.3 130.0h.62v.62h-.62zM282.9 130.0h.62v.62h-.62zM283.5 130.0h.62v.62h-.62zM285.4 130.0h.62v.62h-.62zM286.0 130.0h.62v.62h-.62zM286.6 130.0h.62v.62h-.62zM287.2 130.0h.62v.62h-.62zM287.9 130.0h.62v.62h-.62zM288.5 130.0h.62v.62h-.62zM289.7 130.0h.62v.62h-.62zM290.3 130.0h.62v.62h-.62zM292.8 130.0h.62v.62h-.62zM297.8 130.0h.62v.62h-.62zM312.0 130.0h.62v.62h-.62zM265.5 130.7h.62v.62h-.62zM284.1 130.7h.62v.62h-.62zM284.8 130.7h.62v.62h-.62zM286.0 130.7h.62v.62h-.62zM287.2 130.7h.62v.62h-.62zM289.1 130.7h.62v.62h-.62zM289.7 130.7h.62v.62h-.62zM291.6 130.7h.62v.62h-.62zM292.2 130.7h.62v.62h-.62zM294.7 130.7h.62v.62h-.62zM297.2 130.7h.62v.62h-.62zM300.3 130.7h.62v.62h-.62zM315.8 130.7h.62v.62h-.62zM284.8 131.3h.62v.62h-.62zM288.5 131.3h.62v.62h-.62zM290.3 131.3h.62v.62h-.62zM295.3 131.3h.62v.62h-.62zM295.9 131.3h.62v.62h-.62zM298.4 131.3h.62v.62h-.62zM299.6 131.3h.62v.62h-.62zM263.7 131.9h.62v.62h-.62zM268.0 131.9h.62v.62h-.62zM268.6 131.9h.62v.62h-.62zM282.3 131.9h.62v.62h-.62zM288.5 131.9h.62v.62h-.62zM289.7 131.9h.62v.62h-.62zM291.0 131.9h.62v.62h-.62zM291.6 131.9h.62v.62h-.62zM292.2 131.9h.62v.62h-.62zM293.4 131.9h.62v.62h-.62zM294.7 131.9h.62v.62h-.62zM295.3 131.9h.62v.62h-.62zM295.9 131.9h.62v.62h-.62zM296.5 131.9h.62v.62h-.62zM297.2 131.9h.62v.62h-.62zM300.3 131.9h.62v.62h-.62zM266.2 132.5h.62v.62h-.62zM267.4 132.5h.62v.62h-.62zM268.0 132.5h.62v.62h-.62zM282.9 132.5h.62v.62h-.62zM286.6 132.5h.62v.62h-.62zM287.2 132.5h.62v.62h-.62zM290.3 132.5h.62v.62h-.62zM291.6 132.5h.62v.62h-.62zM294.7 132.5h.62v.62h-.62zM295.9 132.5h.62v.62h-.62zM297.8 132.5h.62v.62h-.62zM299.0 132.5h.62v.62h-.62zM264.9 133.1h.62v.62h-.62zM281.7 133.1h.62v.62h-.62zM286.0 133.1h.62v.62h-.62zM289.7 133.1h.62v.62h-.62zM292.2 133.1h.62v.62h-.62zM294.7 133.1h.62v.62h-.62zM295.9 133.1h.62v.62h-.62zM296.5 133.1h.62v.62h-.62zM287.2 133.8h.62v.62h-.62zM291.6 133.8h.62v.62h-.62zM293.4 133.8h.62v.62h-.62zM295.3 133.8h.62v.62h-.62zM295.9 133.8h.62v.62h-.62zM297.2 133.8h.62v.62h-.62zM282.9 134.4h.62v.62h-.62zM284.1 134.4h.62v.62h-.62zM288.5 134.4h.62v.62h-.62zM289.1 134.4h.62v.62h-.62zM295.9 134.4h.62v.62h-.62zM288.5 135.0h.62v.62h-.62zM289.7 135.0h.62v.62h-.62zM291.0 135.0h.62v.62h-.62zM294.7 135.0h.62v.62h-.62zM295.3 135.0h.62v.62h-.62zM299.6 135.0h.62v.62h-.62zM266.2 135.6h.62v.62h-.62zM268.0 135.6h.62v.62h-.62zM268.6 135.6h.62v.62h-.62zM285.4 135.6h.62v.62h-.62zM286.0 135.6h.62v.62h-.62zM290.3 135.6h.62v.62h-.62zM268.6 136.2h.62v.62h-.62zM283.5 136.2h.62v.62h-.62zM284.8 136.2h.62v.62h-.62zM286.6 136.2h.62v.62h-.62zM287.9 136.2h.62v.62h-.62zM289.7 136.2h.62v.62h-.62zM292.2 136.2h.62v.62h-.62zM295.3 136.2h.62v.62h-.62zM295.9 136.2h.62v.62h-.62zM305.8 136.2h.62v.62h-.62zM280.4 136.9h.62v.62h-.62zM282.3 136.9h.62v.62h-.62zM282.9 136.9h.62v.62h-.62zM284.1 136.9h.62v.62h-.62zM284.8 136.9h.62v.62h-.62zM286.0 136.9h.62v.62h-.62zM291.0 136.9h.62v.62h-.62zM299.6 136.9h.62v.62h-.62zM313.9 136.9h.62v.62h-.62zM269.3 137.5h.62v.62h-.62zM284.8 137.5h.62v.62h-.62zM285.4 137.5h.62v.62h-.62zM286.6 137.5h.62v.62h-.62zM290.3 137.5h.62v.62h-.62zM294.1 137.5h.62v.62h-.62zM304.0 137.5h.62v.62h-.62zM268.0 138.1h.62v.62h-.62zM269.3 138.1h.62v.62h-.62zM282.3 138.1h.62v.62h-.62zM284.1 138.1h.62v.62h-.62zM289.1 138.1h.62v.62h-.62zM289.7 138.1h.62v.62h-.62zM294.7 138.1h.62v.62h-.62zM269.9 138.7h.62v.62h-.62zM271.1 138.7h.62v.62h-.62zM279.2 138.7h.62v.62h-.62zM282.3 138.7h.62v.62h-.62zM284.1 138.7h.62v.62h-.62zM287.9 138.7h.62v.62h-.62zM289.1 138.7h.62v.62h-.62zM290.3 138.7h.62v.62h-.62zM293.4 138.7h.62v.62h-.62zM294.1 138.7h.62v.62h-.62zM294.7 138.7h.62v.62h-.62zM295.9 138.7h.62v.62h-.62zM298.4 138.7h.62v.62h-.62zM299.6 138.7h.62v.62h-.62zM268.6 139.3h.62v.62h-.62zM271.7 139.3h.62v.62h-.62zM278.6 139.3h.62v.62h-.62zM280.4 139.3h.62v.62h-.62zM286.0 139.3h.62v.62h-.62zM288.5 139.3h.62v.62h-.62zM290.3 139.3h.62v.62h-.62zM291.0 139.3h.62v.62h-.62zM292.2 139.3h.62v.62h-.62zM270.5 140.0h.62v.62h-.62zM271.1 140.0h.62v.62h-.62zM271.7 140.0h.62v.62h-.62zM280.4 140.0h.62v.62h-.62zM281.0 140.0h.62v.62h-.62zM286.0 140.0h.62v.62h-.62zM289.7 140.0h.62v.62h-.62zM267.4 140.6h.62v.62h-.62zM272.4 140.6h.62v.62h-.62zM273.0 140.6h.62v.62h-.62zM273.6 140.6h.62v.62h-.62zM282.9 140.6h.62v.62h-.62zM284.8 140.6h.62v.62h-.62zM285.4 140.6h.62v.62h-.62zM287.9 140.6h.62v.62h-.62zM295.9 140.6h.62v.62h-.62zM272.4 141.2h.62v.62h-.62zM273.6 141.2h.62v.62h-.62zM286.6 141.2h.62v.62h-.62zM293.4 141.2h.62v.62h-.62zM270.5 141.8h.62v.62h-.62zM273.6 141.8h.62v.62h-.62zM274.2 141.8h.62v.62h-.62zM275.5 141.8h.62v.62h-.62zM277.3 141.8h.62v.62h-.62zM284.1 141.8h.62v.62h-.62zM293.4 141.8h.62v.62h-.62zM272.4 142.4h.62v.62h-.62zM274.2 142.4h.62v.62h-.62zM277.3 142.4h.62v.62h-.62zM279.8 142.4h.62v.62h-.62zM293.4 142.4h.62v.62h-.62zM272.4 143.1h.62v.62h-.62zM274.8 143.1h.62v.62h-.62zM273.0 143.7h.62v.62h-.62zM290.3 144.3h.62v.62h-.62zM295.9 144.9h.62v.62h-.62zM306.5 144.9h.62v.62h-.62zM271.7 146.2h.62v.62h-.62zM274.8 146.8h.62v.62h-.62zM281.0 146.8h.62v.62h-.62z" fill="#8090d0" fill-opacity="0.55"/>
<path d="M274.8 113.9h.62v.62h-.62zM271.7 114.5h.62v.62h-.62zM273.6 114.5h.62v.62h-.62zM273.6 115.2h.62v.62h-.62zM274.2 115.2h.62v.62h-.62zM274.8 115.2h.62v.62h-.62zM272.4 115.8h.62v.62h-.62zM273.6 115.8h.62v.62h-.62zM272.4 116.4h.62v.62h-.62zM273.6 116.4h.62v.62h-.62zM274.2 116.4h.62v.62h-.62zM273.6 117.0h.62v.62h-.62zM271.7 117.6h.62v.62h-.62zM274.8 117.6h.62v.62h-.62zM271.7 118.3h.62v.62h-.62zM273.6 118.3h.62v.62h-.62zM274.2 118.3h.62v.62h-.62zM275.5 118.3h.62v.62h-.62zM273.0 119.5h.62v.62h-.62zM274.2 119.5h.62v.62h-.62zM272.4 120.1h.62v.62h-.62zM273.0 120.1h.62v.62h-.62zM272.4 120.7h.62v.62h-.62zM274.8 120.7h.62v.62h-.62zM273.6 121.4h.62v.62h-.62zM274.2 121.4h.62v.62h-.62zM275.5 121.4h.62v.62h-.62zM271.7 122.0h.62v.62h-.62zM272.4 122.0h.62v.62h-.62zM273.0 122.0h.62v.62h-.62zM273.6 122.0h.62v.62h-.62zM274.2 122.0h.62v.62h-.62zM275.5 122.0h.62v.62h-.62zM276.1 122.0h.62v.62h-.62zM272.4 122.6h.62v.62h-.62zM273.6 122.6h.62v.62h-.62zM274.2 122.6h.62v.62h-.62zM275.5 122.6h.62v.62h-.62zM271.7 123.2h.62v.62h-.62zM272.4 123.2h.62v.62h-.62zM273.6 123.2h.62v.62h-.62zM274.2 123.2h.62v.62h-.62zM274.8 123.2h.62v.62h-.62zM276.1 123.2h.62v.62h-.62zM276.1 123.8h.62v.62h-.62zM271.1 124.5h.62v.62h-.62zM271.7 124.5h.62v.62h-.62zM273.0 124.5h.62v.62h-.62zM276.1 124.5h.62v.62h-.62zM269.9 125.1h.62v.62h-.62zM270.5 125.1h.62v.62h-.62zM271.7 125.1h.62v.62h-.62zM272.4 125.1h.62v.62h-.62zM273.0 125.1h.62v.62h-.62zM273.6 125.1h.62v.62h-.62zM274.2 125.1h.62v.62h-.62zM276.7 125.1h.62v.62h-.62zM277.9 125.1h.62v.62h-.62zM271.7 125.7h.62v.62h-.62zM272.4 125.7h.62v.62h-.62zM273.0 125.7h.62v.62h-.62zM273.6 125.7h.62v.62h-.62zM276.1 125.7h.62v.62h-.62zM276.7 125.7h.62v.62h-.62zM271.1 126.3h.62v.62h-.62zM271.7 126.3h.62v.62h-.62zM272.4 126.3h.62v.62h-.62zM273.0 126.3h.62v.62h-.62zM273.6 126.3h.62v.62h-.62zM274.2 126.3h.62v.62h-.62zM274.8 126.3h.62v.62h-.62zM276.1 126.3h.62v.62h-.62zM276.7 126.3h.62v.62h-.62zM272.4 126.9h.62v.62h-.62zM273.6 126.9h.62v.62h-.62zM274.2 126.9h.62v.62h-.62zM276.1 126.9h.62v.62h-.62zM276.7 126.9h.62v.62h-.62zM277.9 126.9h.62v.62h-.62zM270.5 127.6h.62v.62h-.62zM271.1 127.6h.62v.62h-.62zM273.0 127.6h.62v.62h-.62zM273.6 127.6h.62v.62h-.62zM275.5 127.6h.62v.62h-.62zM277.3 127.6h.62v.62h-.62zM277.9 127.6h.62v.62h-.62zM269.3 128.2h.62v.62h-.62zM270.5 128.2h.62v.62h-.62zM271.1 128.2h.62v.62h-.62zM275.5 128.2h.62v.62h-.62zM277.9 128.2h.62v.62h-.62zM278.6 128.2h.62v.62h-.62zM279.2 128.2h.62v.62h-.62zM269.9 128.8h.62v.62h-.62zM270.5 128.8h.62v.62h-.62zM277.9 128.8h.62v.62h-.62zM278.6 128.8h.62v.62h-.62zM279.2 128.8h.62v.62h-.62zM269.9 129.4h.62v.62h-.62zM270.5 129.4h.62v.62h-.62zM271.1 129.4h.62v.62h-.62zM278.6 129.4h.62v.62h-.62zM279.2 130.0h.62v.62h-.62zM280.4 130.0h.62v.62h-.62zM281.0 130.0h.62v.62h-.62zM269.9 130.7h.62v.62h-.62zM270.5 130.7h.62v.62h-.62zM279.2 130.7h.62v.62h-.62zM279.8 130.7h.62v.62h-.62zM280.4 130.7h.62v.62h-.62zM288.5 130.7h.62v.62h-.62zM268.6 131.3h.62v.62h-.62zM269.9 131.3h.62v.62h-.62zM279.8 131.3h.62v.62h-.62zM280.4 131.3h.62v.62h-.62zM281.7 131.3h.62v.62h-.62zM283.5 131.3h.62v.62h-.62zM289.1 131.3h.62v.62h-.62zM279.2 131.9h.62v.62h-.62zM279.8 131.9h.62v.62h-.62zM283.5 131.9h.62v.62h-.62zM284.1 131.9h.62v.62h-.62zM284.8 131.9h.62v.62h-.62zM286.6 131.9h.62v.62h-.62zM269.3 132.5h.62v.62h-.62zM281.0 132.5h.62v.62h-.62zM282.3 132.5h.62v.62h-.62zM285.4 132.5h.62v.62h-.62zM289.7 132.5h.62v.62h-.62zM268.6 133.1h.62v.62h-.62zM269.3 133.1h.62v.62h-.62zM279.8 133.1h.62v.62h-.62zM281.0 133.1h.62v.62h-.62zM282.3 133.1h.62v.62h-.62zM286.6 133.1h.62v.62h-.62zM287.9 133.1h.62v.62h-.62zM288.5 133.1h.62v.62h-.62zM289.1 133.1h.62v.62h-.62zM291.0 133.1h.62v.62h-.62zM268.6 133.8h.62v.62h-.62zM269.3 133.8h.62v.62h-.62zM269.9 133.8h.62v.62h-.62zM279.8 133.8h.62v.62h-.62zM281.7 133.8h.62v.62h-.62zM283.5 133.8h.62v.62h-.62zM284.8 133.8h.62v.62h-.62zM286.6 133.8h.62v.62h-.62zM287.9 133.8h.62v.62h-.62zM288.5 133.8h.62v.62h-.62zM269.3 134.4h.62v.62h-.62zM279.2 134.4h.62v.62h-.62zM286.0 134.4h.62v.62h-.62zM286.6 134.4h.62v.62h-.62zM287.9 134.4h.62v.62h-.62zM290.3 134.4h.62v.62h-.62zM291.0 134.4h.62v.62h-.62zM268.6 135.0h.62v.62h-.62zM269.3 135.0h.62v.62h-.62zM280.4 135.0h.62v.62h-.62zM281.0 135.0h.62v.62h-.62zM281.7 135.0h.62v.62h-.62zM285.4 135.0h.62v.62h-.62zM279.2 135.6h.62v.62h-.62zM279.8 135.6h.62v.62h-.62zM280.4 135.6h.62v.62h-.62zM281.7 135.6h.62v.62h-.62zM269.9 136.2h.62v.62h-.62zM270.5 136.2h.62v.62h-.62zM278.6 136.2h.62v.62h-.62zM279.2 136.2h.62v.62h-.62zM282.9 136.2h.62v.62h-.62zM285.4 136.2h.62v.62h-.62zM269.9 136.9h.62v.62h-.62zM270.5 136.9h.62v.62h-.62zM277.9 136.9h.62v.62h-.62zM270.5 137.5h.62v.62h-.62zM279.2 137.5h.62v.62h-.62zM269.9 138.1h.62v.62h-.62zM270.5 138.1h.62v.62h-.62zM271.1 138.1h.62v.62h-.62zM277.9 138.1h.62v.62h-.62zM278.6 138.1h.62v.62h-.62zM271.7 138.7h.62v.62h-.62zM272.4 138.7h.62v.62h-.62zM273.0 138.7h.62v.62h-.62zM274.8 138.7h.62v.62h-.62zM275.5 138.7h.62v.62h-.62zM276.1 138.7h.62v.62h-.62zM276.7 138.7h.62v.62h-.62zM277.3 138.7h.62v.62h-.62zM277.9 138.7h.62v.62h-.62zM272.4 139.3h.62v.62h-.62zM273.0 139.3h.62v.62h-.62zM273.6 139.3h.62v.62h-.62zM274.2 139.3h.62v.62h-.62zM274.8 139.3h.62v.62h-.62zM276.1 139.3h.62v.62h-.62zM276.7 139.3h.62v.62h-.62zM273.0 140.0h.62v.62h-.62zM276.1 140.0h.62v.62h-.62z" fill="#5570c8" fill-opacity="0.8"/>
<path d="M275.5 126.3h.7v.7h-.7zM273.0 126.9h.7v.7h-.7zM274.8 126.9h.7v.7h-.7zM275.5 126.9h.7v.7h-.7zM271.7 127.6h.7v.7h-.7zM274.2 127.6h.7v.7h-.7zM274.8 127.6h.7v.7h-.7zM276.1 127.6h.7v.7h-.7zM276.7 127.6h.7v.7h-.7zM271.7 128.2h.7v.7h-.7zM273.0 128.2h.7v.7h-.7zM273.6 128.2h.7v.7h-.7zM274.8 128.2h.7v.7h-.7zM276.1 128.2h.7v.7h-.7zM276.7 128.2h.7v.7h-.7zM271.7 128.8h.7v.7h-.7zM273.0 128.8h.7v.7h-.7zM277.3 128.8h.7v.7h-.7zM271.7 129.4h.7v.7h-.7zM277.3 129.4h.7v.7h-.7zM277.9 129.4h.7v.7h-.7zM270.5 130.0h.7v.7h-.7zM271.1 130.0h.7v.7h-.7zM277.3 130.0h.7v.7h-.7zM277.9 130.0h.7v.7h-.7zM277.9 130.7h.7v.7h-.7zM278.6 130.7h.7v.7h-.7zM270.5 131.3h.7v.7h-.7zM278.6 131.3h.7v.7h-.7zM279.2 131.3h.7v.7h-.7zM269.9 131.9h.7v.7h-.7zM278.6 131.9h.7v.7h-.7zM269.9 132.5h.7v.7h-.7zM278.6 132.5h.7v.7h-.7zM269.9 133.1h.7v.7h-.7zM278.6 133.1h.7v.7h-.7zM279.2 133.1h.7v.7h-.7zM279.2 133.8h.7v.7h-.7zM269.9 134.4h.7v.7h-.7zM278.6 134.4h.7v.7h-.7zM270.5 135.0h.7v.7h-.7zM277.9 135.0h.7v.7h-.7zM278.6 135.0h.7v.7h-.7zM277.9 135.6h.7v.7h-.7zM278.6 135.6h.7v.7h-.7zM271.1 136.9h.7v.7h-.7zM271.7 136.9h.7v.7h-.7zM277.3 136.9h.7v.7h-.7zM276.7 137.5h.7v.7h-.7zM277.3 137.5h.7v.7h-.7zM271.7 138.1h.7v.7h-.7zM273.0 138.1h.7v.7h-.7zM276.1 138.1h.7v.7h-.7zM277.3 138.1h.7v.7h-.7zM273.6 138.7h.7v.7h-.7z" fill="#3f95c8" fill-opacity="0.9"/>
<path d="M272.4 128.8h.7v.7h-.7zM273.6 128.8h.7v.7h-.7zM274.2 128.8h.7v.7h-.7zM274.8 128.8h.7v.7h-.7zM275.5 128.8h.7v.7h-.7zM272.4 129.4h.7v.7h-.7zM273.0 129.4h.7v.7h-.7zM273.6 129.4h.7v.7h-.7zM274.2 129.4h.7v.7h-.7zM274.8 129.4h.7v.7h-.7zM275.5 129.4h.7v.7h-.7zM276.1 129.4h.7v.7h-.7zM271.7 130.0h.7v.7h-.7zM272.4 130.0h.7v.7h-.7zM274.2 130.0h.7v.7h-.7zM274.8 130.0h.7v.7h-.7zM275.5 130.0h.7v.7h-.7zM276.1 130.0h.7v.7h-.7zM276.7 130.0h.7v.7h-.7zM271.7 130.7h.7v.7h-.7zM272.4 130.7h.7v.7h-.7zM275.5 130.7h.7v.7h-.7zM276.1 130.7h.7v.7h-.7zM276.7 130.7h.7v.7h-.7zM277.3 130.7h.7v.7h-.7zM271.7 131.3h.7v.7h-.7zM276.7 131.3h.7v.7h-.7zM277.3 131.3h.7v.7h-.7zM277.9 131.3h.7v.7h-.7zM270.5 131.9h.7v.7h-.7zM271.1 131.9h.7v.7h-.7zM276.7 131.9h.7v.7h-.7zM277.3 131.9h.7v.7h-.7zM277.9 131.9h.7v.7h-.7zM270.5 132.5h.7v.7h-.7zM277.9 132.5h.7v.7h-.7zM270.5 133.1h.7v.7h-.7zM271.1 133.1h.7v.7h-.7zM277.3 133.1h.7v.7h-.7zM277.9 133.1h.7v.7h-.7zM270.5 133.8h.7v.7h-.7zM277.9 133.8h.7v.7h-.7zM278.6 133.8h.7v.7h-.7zM270.5 134.4h.7v.7h-.7zM277.3 134.4h.7v.7h-.7zM277.9 134.4h.7v.7h-.7zM271.1 135.0h.7v.7h-.7zM277.3 135.0h.7v.7h-.7zM270.5 135.6h.7v.7h-.7zM271.1 135.6h.7v.7h-.7zM271.7 135.6h.7v.7h-.7zM277.3 135.6h.7v.7h-.7zM271.1 136.2h.7v.7h-.7zM277.3 136.2h.7v.7h-.7zM272.4 136.9h.7v.7h-.7zM273.0 136.9h.7v.7h-.7zM276.1 136.9h.7v.7h-.7zM276.7 136.9h.7v.7h-.7zM271.7 137.5h.7v.7h-.7zM272.4 137.5h.7v.7h-.7zM273.0 137.5h.7v.7h-.7zM273.6 137.5h.7v.7h-.7zM274.2 137.5h.7v.7h-.7zM275.5 137.5h.7v.7h-.7zM273.6 138.1h.7v.7h-.7zM274.2 138.1h.7v.7h-.7zM274.8 138.1h.7v.7h-.7zM275.5 138.1h.7v.7h-.7z" fill="#3fb59a" fill-opacity="1"/>
<path d="M273.0 130.0h.7v.7h-.7zM273.6 130.0h.7v.7h-.7zM273.0 130.7h.7v.7h-.7zM273.6 130.7h.7v.7h-.7zM274.2 130.7h.7v.7h-.7zM274.8 130.7h.7v.7h-.7zM276.1 131.3h.7v.7h-.7zM271.7 131.9h.7v.7h-.7zM272.4 131.9h.7v.7h-.7zM276.1 131.9h.7v.7h-.7zM271.1 132.5h.7v.7h-.7zM271.7 132.5h.7v.7h-.7zM272.4 132.5h.7v.7h-.7zM277.3 132.5h.7v.7h-.7zM271.7 133.1h.7v.7h-.7zM271.1 133.8h.7v.7h-.7zM277.3 133.8h.7v.7h-.7zM271.1 134.4h.7v.7h-.7zM276.7 134.4h.7v.7h-.7zM271.7 135.0h.7v.7h-.7zM276.7 135.0h.7v.7h-.7zM276.7 135.6h.7v.7h-.7zM271.7 136.2h.7v.7h-.7zM272.4 136.2h.7v.7h-.7zM274.8 136.2h.7v.7h-.7zM276.1 136.2h.7v.7h-.7zM276.7 136.2h.7v.7h-.7zM273.6 136.9h.7v.7h-.7zM274.8 136.9h.7v.7h-.7zM275.5 136.9h.7v.7h-.7zM274.8 137.5h.7v.7h-.7z" fill="#6cc040" fill-opacity="1"/>
<path d="M272.4 131.3h.7v.7h-.7zM273.0 131.3h.7v.7h-.7zM273.6 131.3h.7v.7h-.7zM275.5 131.3h.7v.7h-.7zM275.5 131.9h.7v.7h-.7zM273.0 132.5h.7v.7h-.7zM276.1 132.5h.7v.7h-.7zM276.7 132.5h.7v.7h-.7zM272.4 133.1h.7v.7h-.7zM273.0 133.1h.7v.7h-.7zM276.7 133.1h.7v.7h-.7zM271.7 133.8h.7v.7h-.7zM272.4 133.8h.7v.7h-.7zM276.7 133.8h.7v.7h-.7zM271.7 134.4h.7v.7h-.7zM272.4 134.4h.7v.7h-.7zM275.5 134.4h.7v.7h-.7zM273.0 135.0h.7v.7h-.7zM273.6 135.0h.7v.7h-.7zM275.5 135.0h.7v.7h-.7zM272.4 135.6h.7v.7h-.7zM273.0 135.6h.7v.7h-.7zM273.6 135.6h.7v.7h-.7zM275.5 135.6h.7v.7h-.7zM276.1 135.6h.7v.7h-.7zM273.0 136.2h.7v.7h-.7zM273.6 136.2h.7v.7h-.7zM274.2 136.2h.7v.7h-.7zM275.5 136.2h.7v.7h-.7zM274.2 136.9h.7v.7h-.7z" fill="#c0d028" fill-opacity="1"/>
<path d="M274.2 131.3h.7v.7h-.7zM274.8 131.3h.7v.7h-.7zM273.0 131.9h.7v.7h-.7zM273.6 131.9h.7v.7h-.7zM274.2 131.9h.7v.7h-.7zM274.8 131.9h.7v.7h-.7zM273.6 132.5h.7v.7h-.7zM274.8 132.5h.7v.7h-.7zM274.8 133.1h.7v.7h-.7zM275.5 133.1h.7v.7h-.7zM276.1 133.1h.7v.7h-.7zM273.0 133.8h.7v.7h-.7zM274.2 133.8h.7v.7h-.7zM275.5 133.8h.7v.7h-.7zM276.1 133.8h.7v.7h-.7zM273.0 134.4h.7v.7h-.7zM273.6 134.4h.7v.7h-.7zM274.2 134.4h.7v.7h-.7zM274.8 134.4h.7v.7h-.7zM276.1 134.4h.7v.7h-.7zM272.4 135.0h.7v.7h-.7zM276.1 135.0h.7v.7h-.7zM274.2 135.6h.7v.7h-.7zM274.8 135.6h.7v.7h-.7z" fill="#f2b41e" fill-opacity="1"/>
<path d="M274.2 132.5h.7v.7h-.7zM275.5 132.5h.7v.7h-.7zM273.6 133.1h.7v.7h-.7zM274.2 133.1h.7v.7h-.7zM273.6 133.8h.7v.7h-.7zM274.8 133.8h.7v.7h-.7zM274.2 135.0h.7v.7h-.7zM274.8 135.0h.7v.7h-.7z" fill="#ee5a1c" fill-opacity="1"/>
<line x1="279.2" y1="90.6" x2="279.2" y2="148" stroke="#555" stroke-width="0.75"/>
<line x1="260.2" y1="126.5" x2="319" y2="126.5" stroke="#555" stroke-width="0.75"/>
<rect x="260.2" y="90.6" width="58.8" height="57.4" rx="1" fill="none" stroke="#666" stroke-width="0.8"/>
<line x1="259" y1="100.17" x2="260.2" y2="100.17" stroke="#666" stroke-width="0.5"/>
<line x1="270" y1="148" x2="270" y2="149.2" stroke="#666" stroke-width="0.5"/>
<line x1="259" y1="109.73" x2="260.2" y2="109.73" stroke="#666" stroke-width="0.5"/>
<line x1="279.8" y1="148" x2="279.8" y2="149.2" stroke="#666" stroke-width="0.5"/>
<line x1="259" y1="119.3" x2="260.2" y2="119.3" stroke="#666" stroke-width="0.5"/>
<line x1="289.6" y1="148" x2="289.6" y2="149.2" stroke="#666" stroke-width="0.5"/>
<line x1="259" y1="128.87" x2="260.2" y2="128.87" stroke="#666" stroke-width="0.5"/>
<line x1="299.4" y1="148" x2="299.4" y2="149.2" stroke="#666" stroke-width="0.5"/>
<line x1="259" y1="138.43" x2="260.2" y2="138.43" stroke="#666" stroke-width="0.5"/>
<line x1="309.2" y1="148" x2="309.2" y2="149.2" stroke="#666" stroke-width="0.5"/>
<rect x="259" y="134" width="1.4" height="2" fill="#111"/>
<rect x="272.8" y="147.8" width="2" height="1.4" fill="#111"/>
<text x="261.5" y="97" font-size="5.5" fill="#333">11.4</text>
<text x="317.4" y="97" font-size="5.5" text-anchor="end" fill="#333">3.08</text>
<text x="261.5" y="145.4" font-size="5.5" fill="#333">67.3</text>
<text x="317.4" y="145.4" font-size="5.5" text-anchor="end" fill="#333">18.2</text>
<rect x="329.2" y="90.6" width="58.4" height="57.4" fill="#ffffff"/>
<path d="M366.2 92.2h.62v.62h-.62zM338.3 92.8h.62v.62h-.62zM354.4 92.8h.62v.62h-.62zM358.1 93.5h.62v.62h-.62zM341.4 94.1h.62v.62h-.62zM353.1 94.1h.62v.62h-.62zM356.2 94.1h.62v.62h-.62zM342.0 94.7h.62v.62h-.62zM343.8 95.9h.62v.62h-.62zM359.3 95.9h.62v.62h-.62zM354.4 96.6h.62v.62h-.62zM366.8 96.6h.62v.62h-.62zM338.9 97.2h.62v.62h-.62zM363.7 97.2h.62v.62h-.62zM337.6 97.8h.62v.62h-.62zM342.6 97.8h.62v.62h-.62zM346.3 97.8h.62v.62h-.62zM348.2 97.8h.62v.62h-.62zM358.7 97.8h.62v.62h-.62zM342.0 98.4h.62v.62h-.62zM342.6 98.4h.62v.62h-.62zM344.5 98.4h.62v.62h-.62zM337.0 99.0h.62v.62h-.62zM339.5 99.0h.62v.62h-.62zM341.4 99.0h.62v.62h-.62zM347.6 99.0h.62v.62h-.62zM356.9 99.0h.62v.62h-.62zM360.0 99.0h.62v.62h-.62zM361.2 99.0h.62v.62h-.62zM365.5 99.0h.62v.62h-.62zM344.5 99.7h.62v.62h-.62zM346.9 99.7h.62v.62h-.62zM349.4 99.7h.62v.62h-.62zM360.6 99.7h.62v.62h-.62zM335.8 100.3h.62v.62h-.62zM336.4 100.3h.62v.62h-.62zM344.5 100.3h.62v.62h-.62zM351.9 100.3h.62v.62h-.62zM341.4 100.9h.62v.62h-.62zM342.0 100.9h.62v.62h-.62zM342.6 100.9h.62v.62h-.62zM351.9 100.9h.62v.62h-.62zM355.6 100.9h.62v.62h-.62zM364.9 100.9h.62v.62h-.62zM338.9 101.5h.62v.62h-.62zM346.3 101.5h.62v.62h-.62zM348.8 101.5h.62v.62h-.62zM353.1 101.5h.62v.62h-.62zM362.4 101.5h.62v.62h-.62zM338.3 102.1h.62v.62h-.62zM342.0 102.1h.62v.62h-.62zM343.8 102.1h.62v.62h-.62zM345.7 102.1h.62v.62h-.62zM350.7 102.1h.62v.62h-.62zM351.3 102.1h.62v.62h-.62zM358.7 102.1h.62v.62h-.62zM339.5 102.8h.62v.62h-.62zM340.7 102.8h.62v.62h-.62zM341.4 102.8h.62v.62h-.62zM343.2 102.8h.62v.62h-.62zM345.1 102.8h.62v.62h-.62zM347.6 102.8h.62v.62h-.62zM348.2 102.8h.62v.62h-.62zM353.8 102.8h.62v.62h-.62zM356.9 102.8h.62v.62h-.62zM360.0 102.8h.62v.62h-.62zM340.7 103.4h.62v.62h-.62zM345.7 103.4h.62v.62h-.62zM349.4 103.4h.62v.62h-.62zM354.4 103.4h.62v.62h-.62zM356.2 103.4h.62v.62h-.62zM367.4 103.4h.62v.62h-.62zM337.0 104.0h.62v.62h-.62zM340.1 104.0h.62v.62h-.62zM341.4 104.0h.62v.62h-.62zM342.0 104.0h.62v.62h-.62zM354.4 104.0h.62v.62h-.62zM359.3 104.0h.62v.62h-.62zM361.2 104.0h.62v.62h-.62zM337.6 104.6h.62v.62h-.62zM340.7 104.6h.62v.62h-.62zM345.1 104.6h.62v.62h-.62zM346.3 104.6h.62v.62h-.62zM348.2 104.6h.62v.62h-.62zM354.4 104.6h.62v.62h-.62zM358.1 104.6h.62v.62h-.62zM336.4 105.2h.62v.62h-.62zM338.3 105.2h.62v.62h-.62zM339.5 105.2h.62v.62h-.62zM341.4 105.2h.62v.62h-.62zM345.1 105.2h.62v.62h-.62zM350.0 105.2h.62v.62h-.62zM350.7 105.2h.62v.62h-.62zM351.3 105.2h.62v.62h-.62zM351.9 105.2h.62v.62h-.62zM352.5 105.2h.62v.62h-.62zM353.8 105.2h.62v.62h-.62zM357.5 105.2h.62v.62h-.62zM333.9 105.9h.62v.62h-.62zM336.4 105.9h.62v.62h-.62zM337.0 105.9h.62v.62h-.62zM339.5 105.9h.62v.62h-.62zM341.4 105.9h.62v.62h-.62zM342.0 105.9h.62v.62h-.62zM345.1 105.9h.62v.62h-.62zM345.7 105.9h.62v.62h-.62zM351.3 105.9h.62v.62h-.62zM361.2 105.9h.62v.62h-.62zM336.4 106.5h.62v.62h-.62zM340.7 106.5h.62v.62h-.62zM343.2 106.5h.62v.62h-.62zM343.8 106.5h.62v.62h-.62zM351.9 106.5h.62v.62h-.62zM356.9 106.5h.62v.62h-.62zM357.5 106.5h.62v.62h-.62zM358.1 106.5h.62v.62h-.62zM360.0 106.5h.62v.62h-.62zM340.7 107.1h.62v.62h-.62zM341.4 107.1h.62v.62h-.62zM343.2 107.1h.62v.62h-.62zM344.5 107.1h.62v.62h-.62zM348.2 107.1h.62v.62h-.62zM348.8 107.1h.62v.62h-.62zM350.0 107.1h.62v.62h-.62zM353.1 107.1h.62v.62h-.62zM337.0 107.7h.62v.62h-.62zM337.6 107.7h.62v.62h-.62zM338.3 107.7h.62v.62h-.62zM342.6 107.7h.62v.62h-.62zM343.2 107.7h.62v.62h-.62zM343.8 107.7h.62v.62h-.62zM344.5 107.7h.62v.62h-.62zM345.7 107.7h.62v.62h-.62zM349.4 107.7h.62v.62h-.62zM350.7 107.7h.62v.62h-.62zM351.3 107.7h.62v.62h-.62zM353.1 107.7h.62v.62h-.62zM354.4 107.7h.62v.62h-.62zM355.0 107.7h.62v.62h-.62zM356.2 107.7h.62v.62h-.62zM363.1 107.7h.62v.62h-.62zM338.9 108.3h.62v.62h-.62zM339.5 108.3h.62v.62h-.62zM342.6 108.3h.62v.62h-.62zM350.0 108.3h.62v.62h-.62zM350.7 108.3h.62v.62h-.62zM354.4 108.3h.62v.62h-.62zM355.6 108.3h.62v.62h-.62zM357.5 108.3h.62v.62h-.62zM358.7 108.3h.62v.62h-.62zM359.3 108.3h.62v.62h-.62zM360.6 108.3h.62v.62h-.62zM365.5 108.3h.62v.62h-.62zM337.6 109.0h.62v.62h-.62zM338.9 109.0h.62v.62h-.62zM340.7 109.0h.62v.62h-.62zM343.2 109.0h.62v.62h-.62zM343.8 109.0h.62v.62h-.62zM348.2 109.0h.62v.62h-.62zM353.1 109.0h.62v.62h-.62zM356.9 109.0h.62v.62h-.62zM364.3 109.0h.62v.62h-.62zM373.0 109.0h.62v.62h-.62zM335.8 109.6h.62v.62h-.62zM337.6 109.6h.62v.62h-.62zM340.1 109.6h.62v.62h-.62zM343.8 109.6h.62v.62h-.62zM347.6 109.6h.62v.62h-.62zM354.4 109.6h.62v.62h-.62zM356.2 109.6h.62v.62h-.62zM369.9 109.6h.62v.62h-.62zM330.8 110.2h.62v.62h-.62zM337.0 110.2h.62v.62h-.62zM344.5 110.2h.62v.62h-.62zM345.1 110.2h.62v.62h-.62zM346.3 110.2h.62v.62h-.62zM348.2 110.2h.62v.62h-.62zM348.8 110.2h.62v.62h-.62zM351.3 110.2h.62v.62h-.62zM351.9 110.2h.62v.62h-.62zM355.0 110.2h.62v.62h-.62zM360.6 110.2h.62v.62h-.62zM363.1 110.2h.62v.62h-.62zM335.2 110.8h.62v.62h-.62zM337.0 110.8h.62v.62h-.62zM338.3 110.8h.62v.62h-.62zM344.5 110.8h.62v.62h-.62zM346.9 110.8h.62v.62h-.62zM348.2 110.8h.62v.62h-.62zM351.3 110.8h.62v.62h-.62zM354.4 110.8h.62v.62h-.62zM360.6 110.8h.62v.62h-.62zM361.8 110.8h.62v.62h-.62zM366.8 110.8h.62v.62h-.62zM338.3 111.4h.62v.62h-.62zM342.0 111.4h.62v.62h-.62zM345.7 111.4h.62v.62h-.62zM346.3 111.4h.62v.62h-.62zM349.4 111.4h.62v.62h-.62zM350.0 111.4h.62v.62h-.62zM351.3 111.4h.62v.62h-.62zM352.5 111.4h.62v.62h-.62zM354.4 111.4h.62v.62h-.62zM356.2 111.4h.62v.62h-.62zM358.1 111.4h.62v.62h-.62zM363.7 111.4h.62v.62h-.62zM336.4 112.1h.62v.62h-.62zM338.3 112.1h.62v.62h-.62zM343.8 112.1h.62v.62h-.62zM344.5 112.1h.62v.62h-.62zM348.8 112.1h.62v.62h-.62zM349.4 112.1h.62v.62h-.62zM352.5 112.1h.62v.62h-.62zM354.4 112.1h.62v.62h-.62zM355.0 112.1h.62v.62h-.62zM356.2 112.1h.62v.62h-.62zM358.7 112.1h.62v.62h-.62zM360.0 112.1h.62v.62h-.62zM363.7 112.1h.62v.62h-.62zM364.9 112.1h.62v.62h-.62zM370.5 112.1h.62v.62h-.62zM335.8 112.7h.62v.62h-.62zM337.0 112.7h.62v.62h-.62zM338.9 112.7h.62v.62h-.62zM345.7 112.7h.62v.62h-.62zM346.3 112.7h.62v.62h-.62zM346.9 112.7h.62v.62h-.62zM348.2 112.7h.62v.62h-.62zM354.4 112.7h.62v.62h-.62zM355.0 112.7h.62v.62h-.62zM358.7 112.7h.62v.62h-.62zM359.3 112.7h.62v.62h-.62zM360.0 112.7h.62v.62h-.62zM364.3 112.7h.62v.62h-.62zM337.6 113.3h.62v.62h-.62zM338.3 113.3h.62v.62h-.62zM343.8 113.3h.62v.62h-.62zM345.7 113.3h.62v.62h-.62zM349.4 113.3h.62v.62h-.62zM353.8 113.3h.62v.62h-.62zM357.5 113.3h.62v.62h-.62zM361.8 113.3h.62v.62h-.62zM362.4 113.3h.62v.62h-.62zM348.2 113.9h.62v.62h-.62zM350.7 113.9h.62v.62h-.62zM351.9 113.9h.62v.62h-.62zM353.1 113.9h.62v.62h-.62zM356.2 113.9h.62v.62h-.62zM357.5 113.9h.62v.62h-.62zM361.2 113.9h.62v.62h-.62zM361.8 113.9h.62v.62h-.62zM363.7 113.9h.62v.62h-.62zM366.2 113.9h.62v.62h-.62zM366.8 113.9h.62v.62h-.62zM368.0 113.9h.62v.62h-.62zM336.4 114.5h.62v.62h-.62zM337.6 114.5h.62v.62h-.62zM343.2 114.5h.62v.62h-.62zM344.5 114.5h.62v.62h-.62zM347.6 114.5h.62v.62h-.62zM348.2 114.5h.62v.62h-.62zM348.8 114.5h.62v.62h-.62zM350.0 114.5h.62v.62h-.62zM351.3 114.5h.62v.62h-.62zM352.5 114.5h.62v.62h-.62zM353.1 114.5h.62v.62h-.62zM358.1 114.5h.62v.62h-.62zM360.0 114.5h.62v.62h-.62zM361.2 114.5h.62v.62h-.62zM364.3 114.5h.62v.62h-.62zM345.7 115.2h.62v.62h-.62zM346.9 115.2h.62v.62h-.62zM347.6 115.2h.62v.62h-.62zM348.2 115.2h.62v.62h-.62zM351.3 115.2h.62v.62h-.62zM354.4 115.2h.62v.62h-.62zM355.0 115.2h.62v.62h-.62zM357.5 115.2h.62v.62h-.62zM358.1 115.2h.62v.62h-.62zM360.6 115.2h.62v.62h-.62zM361.8 115.2h.62v.62h-.62zM363.1 115.2h.62v.62h-.62zM367.4 115.2h.62v.62h-.62zM337.0 115.8h.62v.62h-.62zM343.8 115.8h.62v.62h-.62zM345.1 115.8h.62v.62h-.62zM346.3 115.8h.62v.62h-.62zM347.6 115.8h.62v.62h-.62zM348.2 115.8h.62v.62h-.62zM349.4 115.8h.62v.62h-.62zM350.0 115.8h.62v.62h-.62zM350.7 115.8h.62v.62h-.62zM351.3 115.8h.62v.62h-.62zM351.9 115.8h.62v.62h-.62zM352.5 115.8h.62v.62h-.62zM353.8 115.8h.62v.62h-.62zM355.0 115.8h.62v.62h-.62zM356.9 115.8h.62v.62h-.62zM358.7 115.8h.62v.62h-.62zM359.3 115.8h.62v.62h-.62zM360.6 115.8h.62v.62h-.62zM363.1 115.8h.62v.62h-.62zM371.1 115.8h.62v.62h-.62zM373.6 115.8h.62v.62h-.62zM337.6 116.4h.62v.62h-.62zM345.7 116.4h.62v.62h-.62zM346.3 116.4h.62v.62h-.62zM347.6 116.4h.62v.62h-.62zM350.7 116.4h.62v.62h-.62zM353.1 116.4h.62v.62h-.62zM354.4 116.4h.62v.62h-.62zM360.0 116.4h.62v.62h-.62zM360.6 116.4h.62v.62h-.62zM361.2 116.4h.62v.62h-.62zM363.7 116.4h.62v.62h-.62zM365.5 116.4h.62v.62h-.62zM366.8 116.4h.62v.62h-.62zM369.3 116.4h.62v.62h-.62zM369.9 116.4h.62v.62h-.62zM370.5 116.4h.62v.62h-.62zM335.2 117.0h.62v.62h-.62zM336.4 117.0h.62v.62h-.62zM337.6 117.0h.62v.62h-.62zM345.7 117.0h.62v.62h-.62zM347.6 117.0h.62v.62h-.62zM349.4 117.0h.62v.62h-.62zM350.0 117.0h.62v.62h-.62zM350.7 117.0h.62v.62h-.62zM351.3 117.0h.62v.62h-.62zM355.0 117.0h.62v.62h-.62zM357.5 117.0h.62v.62h-.62zM360.6 117.0h.62v.62h-.62zM369.3 117.0h.62v.62h-.62zM333.3 117.6h.62v.62h-.62zM334.5 117.6h.62v.62h-.62zM337.0 117.6h.62v.62h-.62zM338.3 117.6h.62v.62h-.62zM346.3 117.6h.62v.62h-.62zM346.9 117.6h.62v.62h-.62zM347.6 117.6h.62v.62h-.62zM348.2 117.6h.62v.62h-.62zM348.8 117.6h.62v.62h-.62zM349.4 117.6h.62v.62h-.62zM350.0 117.6h.62v.62h-.62zM350.7 117.6h.62v.62h-.62zM355.6 117.6h.62v.62h-.62zM356.2 117.6h.62v.62h-.62zM360.0 117.6h.62v.62h-.62zM361.2 117.6h.62v.62h-.62zM363.7 117.6h.62v.62h-.62zM334.5 118.3h.62v.62h-.62zM335.8 118.3h.62v.62h-.62zM344.5 118.3h.62v.62h-.62zM346.9 118.3h.62v.62h-.62zM348.8 118.3h.62v.62h-.62zM349.4 118.3h.62v.62h-.62zM350.0 118.3h.62v.62h-.62zM352.5 118.3h.62v.62h-.62zM353.1 118.3h.62v.62h-.62zM353.8 118.3h.62v.62h-.62zM356.9 118.3h.62v.62h-.62zM359.3 118.3h.62v.62h-.62zM360.0 118.3h.62v.62h-.62zM361.2 118.3h.62v.62h-.62zM361.8 118.3h.62v.62h-.62zM363.7 118.3h.62v.62h-.62zM367.4 118.3h.62v.62h-.62zM335.2 118.9h.62v.62h-.62zM336.4 118.9h.62v.62h-.62zM337.6 118.9h.62v.62h-.62zM345.7 118.9h.62v.62h-.62zM354.4 118.9h.62v.62h-.62zM355.6 118.9h.62v.62h-.62zM356.9 118.9h.62v.62h-.62zM357.5 118.9h.62v.62h-.62zM358.1 118.9h.62v.62h-.62zM362.4 118.9h.62v.62h-.62zM364.3 118.9h.62v.62h-.62zM337.6 119.5h.62v.62h-.62zM338.9 119.5h.62v.62h-.62zM344.5 119.5h.62v.62h-.62zM345.1 119.5h.62v.62h-.62zM345.7 119.5h.62v.62h-.62zM348.2 119.5h.62v.62h-.62zM348.8 119.5h.62v.62h-.62zM356.9 119.5h.62v.62h-.62zM360.0 119.5h.62v.62h-.62zM361.8 119.5h.62v.62h-.62zM374.2 119.5h.62v.62h-.62zM337.6 120.1h.62v.62h-.62zM338.3 120.1h.62v.62h-.62zM344.5 120.1h.62v.62h-.62zM345.7 120.1h.62v.62h-.62zM346.9 120.1h.62v.62h-.62zM348.2 120.1h.62v.62h-.62zM350.7 120.1h.62v.62h-.62zM351.9 120.1h.62v.62h-.62zM352.5 120.1h.62v.62h-.62zM355.6 120.1h.62v.62h-.62zM358.7 120.1h.62v.62h-.62zM366.8 120.1h.62v.62h-.62zM330.8 120.7h.62v.62h-.62zM337.6 120.7h.62v.62h-.62zM339.5 120.7h.62v.62h-.62zM345.7 120.7h.62v.62h-.62zM346.3 120.7h.62v.62h-.62zM346.9 120.7h.62v.62h-.62zM348.8 120.7h.62v.62h-.62zM349.4 120.7h.62v.62h-.62zM351.9 120.7h.62v.62h-.62zM353.8 120.7h.62v.62h-.62zM354.4 120.7h.62v.62h-.62zM355.6 120.7h.62v.62h-.62zM356.2 120.7h.62v.62h-.62zM357.5 120.7h.62v.62h-.62zM363.1 120.7h.62v.62h-.62zM363.7 120.7h.62v.62h-.62zM330.8 121.4h.62v.62h-.62zM335.2 121.4h.62v.62h-.62zM336.4 121.4h.62v.62h-.62zM338.9 121.4h.62v.62h-.62zM340.1 121.4h.62v.62h-.62zM342.6 121.4h.62v.62h-.62zM349.4 121.4h.62v.62h-.62zM351.3 121.4h.62v.62h-.62zM353.8 121.4h.62v.62h-.62zM355.6 121.4h.62v.62h-.62zM360.0 121.4h.62v.62h-.62zM364.9 121.4h.62v.62h-.62zM337.6 122.0h.62v.62h-.62zM338.3 122.0h.62v.62h-.62zM338.9 122.0h.62v.62h-.62zM348.2 122.0h.62v.62h-.62zM354.4 122.0h.62v.62h-.62zM357.5 122.0h.62v.62h-.62zM365.5 122.0h.62v.62h-.62zM332.1 122.6h.62v.62h-.62zM334.5 122.6h.62v.62h-.62zM335.2 122.6h.62v.62h-.62zM337.6 122.6h.62v.62h-.62zM339.5 122.6h.62v.62h-.62zM345.1 122.6h.62v.62h-.62zM348.8 122.6h.62v.62h-.62zM350.7 122.6h.62v.62h-.62zM351.3 122.6h.62v.62h-.62zM355.0 122.6h.62v.62h-.62zM359.3 122.6h.62v.62h-.62zM364.9 122.6h.62v.62h-.62zM336.4 123.2h.62v.62h-.62zM338.3 123.2h.62v.62h-.62zM339.5 123.2h.62v.62h-.62zM340.1 123.2h.62v.62h-.62zM342.0 123.2h.62v.62h-.62zM343.2 123.2h.62v.62h-.62zM345.7 123.2h.62v.62h-.62zM346.3 123.2h.62v.62h-.62zM346.9 123.2h.62v.62h-.62zM350.7 123.2h.62v.62h-.62zM351.3 123.2h.62v.62h-.62zM354.4 123.2h.62v.62h-.62zM356.9 123.2h.62v.62h-.62zM330.8 123.8h.62v.62h-.62zM342.0 123.8h.62v.62h-.62zM342.6 123.8h.62v.62h-.62zM347.6 123.8h.62v.62h-.62zM350.0 123.8h.62v.62h-.62zM351.9 123.8h.62v.62h-.62zM353.1 123.8h.62v.62h-.62zM353.8 123.8h.62v.62h-.62zM354.4 123.8h.62v.62h-.62zM356.2 123.8h.62v.62h-.62zM356.9 123.8h.62v.62h-.62zM357.5 123.8h.62v.62h-.62zM359.3 123.8h.62v.62h-.62zM361.8 123.8h.62v.62h-.62zM368.0 123.8h.62v.62h-.62zM340.1 124.5h.62v.62h-.62zM346.9 124.5h.62v.62h-.62zM347.6 124.5h.62v.62h-.62zM350.7 124.5h.62v.62h-.62zM351.3 124.5h.62v.62h-.62zM351.9 124.5h.62v.62h-.62zM354.4 124.5h.62v.62h-.62zM356.2 124.5h.62v.62h-.62zM356.9 124.5h.62v.62h-.62zM358.7 124.5h.62v.62h-.62zM332.1 125.1h.62v.62h-.62zM338.3 125.1h.62v.62h-.62zM338.9 125.1h.62v.62h-.62zM339.5 125.1h.62v.62h-.62zM340.1 125.1h.62v.62h-.62zM343.8 125.1h.62v.62h-.62zM345.7 125.1h.62v.62h-.62zM350.0 125.1h.62v.62h-.62zM352.5 125.1h.62v.62h-.62zM353.8 125.1h.62v.62h-.62zM354.4 125.1h.62v.62h-.62zM355.0 125.1h.62v.62h-.62zM355.6 125.1h.62v.62h-.62zM356.9 125.1h.62v.62h-.62zM358.7 125.1h.62v.62h-.62zM362.4 125.1h.62v.62h-.62zM363.1 125.1h.62v.62h-.62zM375.5 125.1h.62v.62h-.62zM338.9 125.7h.62v.62h-.62zM339.5 125.7h.62v.62h-.62zM340.7 125.7h.62v.62h-.62zM341.4 125.7h.62v.62h-.62zM344.5 125.7h.62v.62h-.62zM345.7 125.7h.62v.62h-.62zM346.9 125.7h.62v.62h-.62zM348.2 125.7h.62v.62h-.62zM350.7 125.7h.62v.62h-.62zM352.5 125.7h.62v.62h-.62zM353.1 125.7h.62v.62h-.62zM358.7 125.7h.62v.62h-.62zM361.2 125.7h.62v.62h-.62zM332.7 126.3h.62v.62h-.62zM335.8 126.3h.62v.62h-.62zM337.6 126.3h.62v.62h-.62zM340.1 126.3h.62v.62h-.62zM341.4 126.3h.62v.62h-.62zM342.0 126.3h.62v.62h-.62zM343.8 126.3h.62v.62h-.62zM348.8 126.3h.62v.62h-.62zM349.4 126.3h.62v.62h-.62zM351.3 126.3h.62v.62h-.62zM355.0 126.3h.62v.62h-.62zM355.6 126.3h.62v.62h-.62zM357.5 126.3h.62v.62h-.62zM361.8 126.3h.62v.62h-.62zM368.0 126.3h.62v.62h-.62zM381.0 126.3h.62v.62h-.62zM335.8 126.9h.62v.62h-.62zM340.7 126.9h.62v.62h-.62zM343.2 126.9h.62v.62h-.62zM344.5 126.9h.62v.62h-.62zM346.3 126.9h.62v.62h-.62zM351.9 126.9h.62v.62h-.62zM353.1 126.9h.62v.62h-.62zM358.7 126.9h.62v.62h-.62zM360.0 126.9h.62v.62h-.62zM360.6 126.9h.62v.62h-.62zM335.2 127.6h.62v.62h-.62zM337.6 127.6h.62v.62h-.62zM338.3 127.6h.62v.62h-.62zM340.7 127.6h.62v.62h-.62zM343.2 127.6h.62v.62h-.62zM343.8 127.6h.62v.62h-.62zM345.7 127.6h.62v.62h-.62zM353.8 127.6h.62v.62h-.62zM355.6 127.6h.62v.62h-.62zM364.9 127.6h.62v.62h-.62zM366.8 127.6h.62v.62h-.62zM373.6 127.6h.62v.62h-.62zM338.9 128.2h.62v.62h-.62zM341.4 128.2h.62v.62h-.62zM342.6 128.2h.62v.62h-.62zM343.8 128.2h.62v.62h-.62zM353.1 128.2h.62v.62h-.62zM353.8 128.2h.62v.62h-.62zM355.0 128.2h.62v.62h-.62zM357.5 128.2h.62v.62h-.62zM359.3 128.2h.62v.62h-.62zM338.9 128.8h.62v.62h-.62zM343.2 128.8h.62v.62h-.62zM346.3 128.8h.62v.62h-.62zM348.8 128.8h.62v.62h-.62zM350.0 128.8h.62v.62h-.62zM353.8 128.8h.62v.62h-.62zM355.6 128.8h.62v.62h-.62zM356.2 128.8h.62v.62h-.62zM358.7 128.8h.62v.62h-.62zM359.3 128.8h.62v.62h-.62zM369.3 128.8h.62v.62h-.62zM371.1 128.8h.62v.62h-.62zM337.0 129.4h.62v.62h-.62zM340.1 129.4h.62v.62h-.62zM343.8 129.4h.62v.62h-.62zM344.5 129.4h.62v.62h-.62zM346.9 129.4h.62v.62h-.62zM353.1 129.4h.62v.62h-.62zM355.0 129.4h.62v.62h-.62zM355.6 129.4h.62v.62h-.62zM357.5 129.4h.62v.62h-.62zM358.7 129.4h.62v.62h-.62zM361.2 129.4h.62v.62h-.62zM364.9 129.4h.62v.62h-.62zM367.4 129.4h.62v.62h-.62zM337.0 130.0h.62v.62h-.62zM337.6 130.0h.62v.62h-.62zM345.7 130.0h.62v.62h-.62zM346.9 130.0h.62v.62h-.62zM348.8 130.0h.62v.62h-.62zM350.0 130.0h.62v.62h-.62zM350.7 130.0h.62v.62h-.62zM355.6 130.0h.62v.62h-.62zM356.9 130.0h.62v.62h-.62zM358.1 130.0h.62v.62h-.62zM360.0 130.0h.62v.62h-.62zM346.3 130.7h.62v.62h-.62zM356.9 130.7h.62v.62h-.62zM358.7 130.7h.62v.62h-.62zM361.8 130.7h.62v.62h-.62zM367.4 130.7h.62v.62h-.62zM374.2 130.7h.62v.62h-.62zM336.4 131.3h.62v.62h-.62zM337.0 131.3h.62v.62h-.62zM361.2 131.3h.62v.62h-.62zM362.4 131.3h.62v.62h-.62zM363.7 131.3h.62v.62h-.62zM364.9 131.3h.62v.62h-.62zM378.6 131.3h.62v.62h-.62zM330.8 131.9h.62v.62h-.62zM361.8 131.9h.62v.62h-.62zM365.5 131.9h.62v.62h-.62zM367.4 131.9h.62v.62h-.62zM373.6 131.9h.62v.62h-.62zM363.7 132.5h.62v.62h-.62zM364.3 132.5h.62v.62h-.62zM364.9 132.5h.62v.62h-.62zM365.5 132.5h.62v.62h-.62zM367.4 132.5h.62v.62h-.62zM370.5 132.5h.62v.62h-.62zM333.3 133.1h.62v.62h-.62zM366.2 133.1h.62v.62h-.62zM366.8 133.1h.62v.62h-.62zM331.4 133.8h.62v.62h-.62zM335.8 133.8h.62v.62h-.62zM365.5 133.8h.62v.62h-.62zM367.4 134.4h.62v.62h-.62zM368.6 134.4h.62v.62h-.62zM369.9 134.4h.62v.62h-.62zM334.5 135.0h.62v.62h-.62zM335.2 135.0h.62v.62h-.62zM335.8 135.0h.62v.62h-.62zM373.0 135.0h.62v.62h-.62zM332.7 135.6h.62v.62h-.62zM334.5 135.6h.62v.62h-.62zM366.8 135.6h.62v.62h-.62zM368.0 135.6h.62v.62h-.62zM333.3 136.2h.62v.62h-.62zM337.0 136.2h.62v.62h-.62zM367.4 136.2h.62v.62h-.62zM335.8 136.9h.62v.62h-.62zM336.4 136.9h.62v.62h-.62zM365.5 136.9h.62v.62h-.62zM366.2 136.9h.62v.62h-.62zM366.8 136.9h.62v.62h-.62zM368.6 136.9h.62v.62h-.62zM338.3 137.5h.62v.62h-.62zM365.5 137.5h.62v.62h-.62zM366.2 137.5h.62v.62h-.62zM367.4 137.5h.62v.62h-.62zM370.5 137.5h.62v.62h-.62zM332.7 138.1h.62v.62h-.62zM333.9 138.1h.62v.62h-.62zM337.6 138.1h.62v.62h-.62zM338.3 138.1h.62v.62h-.62zM338.9 138.1h.62v.62h-.62zM339.5 138.1h.62v.62h-.62zM363.1 138.1h.62v.62h-.62zM363.7 138.1h.62v.62h-.62zM333.3 138.7h.62v.62h-.62zM335.8 138.7h.62v.62h-.62zM342.0 138.7h.62v.62h-.62zM342.6 138.7h.62v.62h-.62zM343.8 138.7h.62v.62h-.62zM345.7 138.7h.62v.62h-.62zM348.2 138.7h.62v.62h-.62zM350.0 138.7h.62v.62h-.62zM350.7 138.7h.62v.62h-.62zM351.3 138.7h.62v.62h-.62zM354.4 138.7h.62v.62h-.62zM355.6 138.7h.62v.62h-.62zM357.5 138.7h.62v.62h-.62zM361.8 138.7h.62v.62h-.62zM337.6 139.3h.62v.62h-.62zM343.8 139.3h.62v.62h-.62zM360.0 139.3h.62v.62h-.62zM361.2 139.3h.62v.62h-.62zM341.4 140.0h.62v.62h-.62zM342.0 140.0h.62v.62h-.62zM344.5 140.0h.62v.62h-.62zM345.1 140.0h.62v.62h-.62zM348.2 140.0h.62v.62h-.62zM351.3 140.0h.62v.62h-.62zM351.9 140.0h.62v.62h-.62zM352.5 140.0h.62v.62h-.62zM360.0 140.0h.62v.62h-.62zM371.7 140.0h.62v.62h-.62zM355.6 140.6h.62v.62h-.62zM357.5 140.6h.62v.62h-.62zM351.9 141.2h.62v.62h-.62zM339.5 141.8h.62v.62h-.62zM342.6 141.8h.62v.62h-.62zM353.1 142.4h.62v.62h-.62zM338.3 143.1h.62v.62h-.62zM347.6 143.1h.62v.62h-.62zM338.9 143.7h.62v.62h-.62zM348.8 143.7h.62v.62h-.62zM360.6 143.7h.62v.62h-.62zM359.3 144.3h.62v.62h-.62zM348.8 146.8h.62v.62h-.62z" fill="#8090d0" fill-opacity="0.55"/>
<path d="M340.1 107.1h.62v.62h-.62zM341.4 107.7h.62v.62h-.62zM342.0 107.7h.62v.62h-.62zM341.4 108.3h.62v.62h-.62zM342.0 108.3h.62v.62h-.62zM340.1 109.0h.62v.62h-.62zM341.4 109.0h.62v.62h-.62zM339.5 109.6h.62v.62h-.62zM340.7 109.6h.62v.62h-.62zM339.5 110.2h.62v.62h-.62zM343.2 110.2h.62v.62h-.62zM340.7 110.8h.62v.62h-.62zM342.6 110.8h.62v.62h-.62zM343.2 110.8h.62v.62h-.62zM338.9 111.4h.62v.62h-.62zM340.1 111.4h.62v.62h-.62zM340.7 111.4h.62v.62h-.62zM341.4 111.4h.62v.62h-.62zM342.6 111.4h.62v.62h-.62zM343.8 111.4h.62v.62h-.62zM338.9 112.1h.62v.62h-.62zM341.4 112.1h.62v.62h-.62zM342.0 112.1h.62v.62h-.62zM342.6 112.1h.62v.62h-.62zM343.2 112.1h.62v.62h-.62zM340.7 112.7h.62v.62h-.62zM341.4 112.7h.62v.62h-.62zM342.0 112.7h.62v.62h-.62zM342.6 112.7h.62v.62h-.62zM343.8 112.7h.62v.62h-.62zM339.5 113.3h.62v.62h-.62zM340.1 113.3h.62v.62h-.62zM340.7 113.3h.62v.62h-.62zM343.2 113.3h.62v.62h-.62zM344.5 113.3h.62v.62h-.62zM338.3 113.9h.62v.62h-.62zM338.9 113.9h.62v.62h-.62zM339.5 113.9h.62v.62h-.62zM340.7 113.9h.62v.62h-.62zM343.8 113.9h.62v.62h-.62zM338.9 114.5h.62v.62h-.62zM340.7 114.5h.62v.62h-.62zM341.4 114.5h.62v.62h-.62zM342.0 114.5h.62v.62h-.62zM342.6 114.5h.62v.62h-.62zM343.8 114.5h.62v.62h-.62zM339.5 115.2h.62v.62h-.62zM340.7 115.2h.62v.62h-.62zM341.4 115.2h.62v.62h-.62zM343.2 115.2h.62v.62h-.62zM343.8 115.2h.62v.62h-.62zM338.3 115.8h.62v.62h-.62zM341.4 115.8h.62v.62h-.62zM342.0 115.8h.62v.62h-.62zM342.6 115.8h.62v.62h-.62zM341.4 116.4h.62v.62h-.62zM342.0 116.4h.62v.62h-.62zM342.6 116.4h.62v.62h-.62zM343.2 116.4h.62v.62h-.62zM343.8 116.4h.62v.62h-.62zM344.5 116.4h.62v.62h-.62zM342.6 117.0h.62v.62h-.62zM343.2 117.0h.62v.62h-.62zM345.1 117.0h.62v.62h-.62zM338.9 117.6h.62v.62h-.62zM339.5 117.6h.62v.62h-.62zM340.1 117.6h.62v.62h-.62zM340.7 117.6h.62v.62h-.62zM342.0 117.6h.62v.62h-.62zM342.6 117.6h.62v.62h-.62zM343.2 117.6h.62v.62h-.62zM339.5 118.3h.62v.62h-.62zM340.1 118.3h.62v.62h-.62zM340.7 118.3h.62v.62h-.62zM342.0 118.3h.62v.62h-.62zM339.5 118.9h.62v.62h-.62zM340.1 118.9h.62v.62h-.62zM340.7 118.9h.62v.62h-.62zM341.4 118.9h.62v.62h-.62zM342.0 118.9h.62v.62h-.62zM342.6 118.9h.62v.62h-.62zM343.2 118.9h.62v.62h-.62zM345.1 118.9h.62v.62h-.62zM340.7 119.5h.62v.62h-.62zM342.0 119.5h.62v.62h-.62zM342.6 119.5h.62v.62h-.62zM343.2 119.5h.62v.62h-.62zM339.5 120.1h.62v.62h-.62zM341.4 120.1h.62v.62h-.62zM342.0 120.1h.62v.62h-.62zM342.6 120.1h.62v.62h-.62zM343.8 120.1h.62v.62h-.62zM340.1 120.7h.62v.62h-.62zM340.7 120.7h.62v.62h-.62zM341.4 120.7h.62v.62h-.62zM342.0 120.7h.62v.62h-.62zM342.6 120.7h.62v.62h-.62zM341.4 121.4h.62v.62h-.62zM339.5 122.0h.62v.62h-.62zM341.4 122.0h.62v.62h-.62zM342.0 122.6h.62v.62h-.62zM341.4 123.2h.62v.62h-.62zM342.6 123.2h.62v.62h-.62zM340.7 123.8h.62v.62h-.62zM341.4 124.5h.62v.62h-.62zM342.0 124.5h.62v.62h-.62zM342.6 124.5h.62v.62h-.62zM340.7 125.1h.62v.62h-.62zM342.0 125.1h.62v.62h-.62zM343.2 125.7h.62v.62h-.62zM340.1 130.0h.62v.62h-.62zM340.7 130.0h.62v.62h-.62zM341.4 130.0h.62v.62h-.62zM342.0 130.0h.62v.62h-.62zM342.6 130.0h.62v.62h-.62zM343.8 130.0h.62v.62h-.62zM339.5 130.7h.62v.62h-.62zM340.1 130.7h.62v.62h-.62zM342.0 130.7h.62v.62h-.62zM342.6 130.7h.62v.62h-.62zM344.5 130.7h.62v.62h-.62zM345.1 130.7h.62v.62h-.62zM345.7 130.7h.62v.62h-.62zM346.9 130.7h.62v.62h-.62zM347.6 130.7h.62v.62h-.62zM349.4 130.7h.62v.62h-.62zM352.5 130.7h.62v.62h-.62zM355.6 130.7h.62v.62h-.62zM356.2 130.7h.62v.62h-.62zM339.5 131.3h.62v.62h-.62zM345.7 131.3h.62v.62h-.62zM346.9 131.3h.62v.62h-.62zM347.6 131.3h.62v.62h-.62zM348.8 131.3h.62v.62h-.62zM350.0 131.3h.62v.62h-.62zM351.3 131.3h.62v.62h-.62zM351.9 131.3h.62v.62h-.62zM352.5 131.3h.62v.62h-.62zM353.8 131.3h.62v.62h-.62zM355.0 131.3h.62v.62h-.62zM355.6 131.3h.62v.62h-.62zM356.2 131.3h.62v.62h-.62zM356.9 131.3h.62v.62h-.62zM337.0 131.9h.62v.62h-.62zM337.6 131.9h.62v.62h-.62zM338.3 131.9h.62v.62h-.62zM347.6 131.9h.62v.62h-.62zM351.3 131.9h.62v.62h-.62zM353.1 131.9h.62v.62h-.62zM353.8 131.9h.62v.62h-.62zM354.4 131.9h.62v.62h-.62zM355.0 131.9h.62v.62h-.62zM358.1 131.9h.62v.62h-.62zM361.2 131.9h.62v.62h-.62zM337.0 132.5h.62v.62h-.62zM337.6 132.5h.62v.62h-.62zM355.0 132.5h.62v.62h-.62zM355.6 132.5h.62v.62h-.62zM356.9 132.5h.62v.62h-.62zM358.1 132.5h.62v.62h-.62zM358.7 132.5h.62v.62h-.62zM360.0 132.5h.62v.62h-.62zM360.6 132.5h.62v.62h-.62zM361.2 132.5h.62v.62h-.62zM361.8 132.5h.62v.62h-.62zM363.1 132.5h.62v.62h-.62zM336.4 133.1h.62v.62h-.62zM358.7 133.1h.62v.62h-.62zM360.6 133.1h.62v.62h-.62zM361.2 133.1h.62v.62h-.62zM362.4 133.1h.62v.62h-.62zM364.3 133.1h.62v.62h-.62zM364.9 133.1h.62v.62h-.62zM336.4 133.8h.62v.62h-.62zM362.4 133.8h.62v.62h-.62zM363.1 133.8h.62v.62h-.62zM363.7 133.8h.62v.62h-.62zM364.3 133.8h.62v.62h-.62zM335.8 134.4h.62v.62h-.62zM336.4 134.4h.62v.62h-.62zM337.0 134.4h.62v.62h-.62zM363.1 134.4h.62v.62h-.62zM363.7 134.4h.62v.62h-.62zM364.3 134.4h.62v.62h-.62zM366.2 134.4h.62v.62h-.62zM336.4 135.0h.62v.62h-.62zM337.0 135.0h.62v.62h-.62zM361.2 135.0h.62v.62h-.62zM361.8 135.0h.62v.62h-.62zM362.4 135.0h.62v.62h-.62zM363.7 135.0h.62v.62h-.62zM364.3 135.0h.62v.62h-.62zM364.9 135.0h.62v.62h-.62zM337.0 135.6h.62v.62h-.62zM337.6 135.6h.62v.62h-.62zM362.4 135.6h.62v.62h-.62zM363.1 135.6h.62v.62h-.62zM363.7 135.6h.62v.62h-.62zM365.5 135.6h.62v.62h-.62zM363.1 136.2h.62v.62h-.62zM363.7 136.2h.62v.62h-.62zM364.9 136.2h.62v.62h-.62zM365.5 136.2h.62v.62h-.62zM366.2 136.2h.62v.62h-.62zM337.6 136.9h.62v.62h-.62zM338.3 136.9h.62v.62h-.62zM338.9 136.9h.62v.62h-.62zM359.3 136.9h.62v.62h-.62zM361.2 136.9h.62v.62h-.62zM363.1 136.9h.62v.62h-.62zM364.9 136.9h.62v.62h-.62zM338.9 137.5h.62v.62h-.62zM346.3 137.5h.62v.62h-.62zM348.8 137.5h.62v.62h-.62zM355.6 137.5h.62v.62h-.62zM356.2 137.5h.62v.62h-.62zM360.6 137.5h.62v.62h-.62zM361.2 137.5h.62v.62h-.62zM363.1 137.5h.62v.62h-.62zM363.7 137.5h.62v.62h-.62zM340.7 138.1h.62v.62h-.62zM341.4 138.1h.62v.62h-.62zM342.6 138.1h.62v.62h-.62zM343.2 138.1h.62v.62h-.62zM343.8 138.1h.62v.62h-.62zM344.5 138.1h.62v.62h-.62zM345.7 138.1h.62v.62h-.62zM346.3 138.1h.62v.62h-.62zM348.2 138.1h.62v.62h-.62zM348.8 138.1h.62v.62h-.62zM349.4 138.1h.62v.62h-.62zM351.3 138.1h.62v.62h-.62zM352.5 138.1h.62v.62h-.62zM353.1 138.1h.62v.62h-.62zM353.8 138.1h.62v.62h-.62zM354.4 138.1h.62v.62h-.62zM356.9 138.1h.62v.62h-.62zM357.5 138.1h.62v.62h-.62zM358.7 138.1h.62v.62h-.62zM359.3 138.1h.62v.62h-.62zM360.0 138.1h.62v.62h-.62zM361.8 138.1h.62v.62h-.62zM362.4 138.1h.62v.62h-.62zM346.3 138.7h.62v.62h-.62zM346.9 138.7h.62v.62h-.62zM347.6 138.7h.62v.62h-.62zM352.5 138.7h.62v.62h-.62zM353.8 138.7h.62v.62h-.62zM355.0 138.7h.62v.62h-.62zM356.2 138.7h.62v.62h-.62z" fill="#5570c8" fill-opacity="0.8"/>
<path d="M340.7 130.7h.7v.7h-.7zM341.4 130.7h.7v.7h-.7zM343.2 130.7h.7v.7h-.7zM340.1 131.3h.7v.7h-.7zM340.7 131.3h.7v.7h-.7zM343.8 131.3h.7v.7h-.7zM344.5 131.3h.7v.7h-.7zM345.1 131.3h.7v.7h-.7zM338.9 131.9h.7v.7h-.7zM345.7 131.9h.7v.7h-.7zM346.3 131.9h.7v.7h-.7zM346.9 131.9h.7v.7h-.7zM348.2 131.9h.7v.7h-.7zM348.8 131.9h.7v.7h-.7zM349.4 131.9h.7v.7h-.7zM350.0 131.9h.7v.7h-.7zM350.7 131.9h.7v.7h-.7zM351.9 131.9h.7v.7h-.7zM352.5 131.9h.7v.7h-.7zM355.6 131.9h.7v.7h-.7zM338.3 132.5h.7v.7h-.7zM347.6 132.5h.7v.7h-.7zM348.2 132.5h.7v.7h-.7zM351.3 132.5h.7v.7h-.7zM351.9 132.5h.7v.7h-.7zM352.5 132.5h.7v.7h-.7zM353.8 132.5h.7v.7h-.7zM356.2 132.5h.7v.7h-.7zM354.4 133.1h.7v.7h-.7zM356.9 133.1h.7v.7h-.7zM357.5 133.1h.7v.7h-.7zM358.1 133.1h.7v.7h-.7zM359.3 133.1h.7v.7h-.7zM360.0 133.1h.7v.7h-.7zM337.6 133.8h.7v.7h-.7zM356.9 133.8h.7v.7h-.7zM359.3 133.8h.7v.7h-.7zM360.0 133.8h.7v.7h-.7zM360.6 133.8h.7v.7h-.7zM361.2 133.8h.7v.7h-.7zM361.8 133.8h.7v.7h-.7zM356.9 134.4h.7v.7h-.7zM358.1 134.4h.7v.7h-.7zM359.3 134.4h.7v.7h-.7zM360.0 134.4h.7v.7h-.7zM361.2 134.4h.7v.7h-.7zM361.8 134.4h.7v.7h-.7zM337.6 135.0h.7v.7h-.7zM360.0 135.0h.7v.7h-.7zM360.6 135.0h.7v.7h-.7zM358.1 135.6h.7v.7h-.7zM358.7 135.6h.7v.7h-.7zM360.6 135.6h.7v.7h-.7zM361.2 135.6h.7v.7h-.7zM361.8 135.6h.7v.7h-.7zM338.3 136.2h.7v.7h-.7zM355.6 136.2h.7v.7h-.7zM356.2 136.2h.7v.7h-.7zM356.9 136.2h.7v.7h-.7zM358.7 136.2h.7v.7h-.7zM359.3 136.2h.7v.7h-.7zM360.6 136.2h.7v.7h-.7zM361.2 136.2h.7v.7h-.7zM361.8 136.2h.7v.7h-.7zM362.4 136.2h.7v.7h-.7zM344.5 136.9h.7v.7h-.7zM345.7 136.9h.7v.7h-.7zM346.3 136.9h.7v.7h-.7zM346.9 136.9h.7v.7h-.7zM348.2 136.9h.7v.7h-.7zM350.7 136.9h.7v.7h-.7zM351.9 136.9h.7v.7h-.7zM352.5 136.9h.7v.7h-.7zM354.4 136.9h.7v.7h-.7zM355.0 136.9h.7v.7h-.7zM356.2 136.9h.7v.7h-.7zM357.5 136.9h.7v.7h-.7zM358.1 136.9h.7v.7h-.7zM358.7 136.9h.7v.7h-.7zM340.7 137.5h.7v.7h-.7zM343.8 137.5h.7v.7h-.7zM344.5 137.5h.7v.7h-.7zM345.1 137.5h.7v.7h-.7zM346.9 137.5h.7v.7h-.7zM347.6 137.5h.7v.7h-.7zM348.2 137.5h.7v.7h-.7zM349.4 137.5h.7v.7h-.7zM350.7 137.5h.7v.7h-.7zM351.3 137.5h.7v.7h-.7zM351.9 137.5h.7v.7h-.7zM352.5 137.5h.7v.7h-.7zM353.1 137.5h.7v.7h-.7zM353.8 137.5h.7v.7h-.7zM354.4 137.5h.7v.7h-.7zM355.0 137.5h.7v.7h-.7zM356.9 137.5h.7v.7h-.7z" fill="#3f95c8" fill-opacity="0.9"/>
<path d="M341.4 131.3h.7v.7h-.7zM342.0 131.3h.7v.7h-.7zM342.6 131.3h.7v.7h-.7zM343.2 131.3h.7v.7h-.7zM339.5 131.9h.7v.7h-.7zM340.1 131.9h.7v.7h-.7zM340.7 131.9h.7v.7h-.7zM344.5 131.9h.7v.7h-.7zM345.1 131.9h.7v.7h-.7zM338.9 132.5h.7v.7h-.7zM345.7 132.5h.7v.7h-.7zM346.3 132.5h.7v.7h-.7zM348.8 132.5h.7v.7h-.7zM350.0 132.5h.7v.7h-.7zM350.7 132.5h.7v.7h-.7zM353.1 132.5h.7v.7h-.7zM338.9 133.1h.7v.7h-.7zM346.3 133.1h.7v.7h-.7zM346.9 133.1h.7v.7h-.7zM347.6 133.1h.7v.7h-.7zM348.2 133.1h.7v.7h-.7zM348.8 133.1h.7v.7h-.7zM349.4 133.1h.7v.7h-.7zM350.0 133.1h.7v.7h-.7zM350.7 133.1h.7v.7h-.7zM351.3 133.1h.7v.7h-.7zM351.9 133.1h.7v.7h-.7zM352.5 133.1h.7v.7h-.7zM353.1 133.1h.7v.7h-.7zM353.8 133.1h.7v.7h-.7zM355.0 133.1h.7v.7h-.7zM355.6 133.1h.7v.7h-.7zM356.2 133.1h.7v.7h-.7zM338.3 133.8h.7v.7h-.7zM347.6 133.8h.7v.7h-.7zM348.8 133.8h.7v.7h-.7zM350.0 133.8h.7v.7h-.7zM352.5 133.8h.7v.7h-.7zM353.1 133.8h.7v.7h-.7zM353.8 133.8h.7v.7h-.7zM354.4 133.8h.7v.7h-.7zM355.0 133.8h.7v.7h-.7zM355.6 133.8h.7v.7h-.7zM356.2 133.8h.7v.7h-.7zM357.5 133.8h.7v.7h-.7zM358.1 133.8h.7v.7h-.7zM358.7 133.8h.7v.7h-.7zM337.6 134.4h.7v.7h-.7zM338.3 134.4h.7v.7h-.7zM348.2 134.4h.7v.7h-.7zM348.8 134.4h.7v.7h-.7zM351.3 134.4h.7v.7h-.7zM353.1 134.4h.7v.7h-.7zM353.8 134.4h.7v.7h-.7zM354.4 134.4h.7v.7h-.7zM355.0 134.4h.7v.7h-.7zM355.6 134.4h.7v.7h-.7zM356.2 134.4h.7v.7h-.7zM357.5 134.4h.7v.7h-.7zM358.7 134.4h.7v.7h-.7zM338.3 135.0h.7v.7h-.7zM346.9 135.0h.7v.7h-.7zM348.2 135.0h.7v.7h-.7zM348.8 135.0h.7v.7h-.7zM350.0 135.0h.7v.7h-.7zM350.7 135.0h.7v.7h-.7zM352.5 135.0h.7v.7h-.7zM353.8 135.0h.7v.7h-.7zM354.4 135.0h.7v.7h-.7zM355.6 135.0h.7v.7h-.7zM356.2 135.0h.7v.7h-.7zM356.9 135.0h.7v.7h-.7zM357.5 135.0h.7v.7h-.7zM358.1 135.0h.7v.7h-.7zM358.7 135.0h.7v.7h-.7zM359.3 135.0h.7v.7h-.7zM338.3 135.6h.7v.7h-.7zM338.9 135.6h.7v.7h-.7zM345.7 135.6h.7v.7h-.7zM346.3 135.6h.7v.7h-.7zM347.6 135.6h.7v.7h-.7zM349.4 135.6h.7v.7h-.7zM350.0 135.6h.7v.7h-.7zM351.9 135.6h.7v.7h-.7zM352.5 135.6h.7v.7h-.7zM353.1 135.6h.7v.7h-.7zM354.4 135.6h.7v.7h-.7zM355.6 135.6h.7v.7h-.7zM356.2 135.6h.7v.7h-.7zM356.9 135.6h.7v.7h-.7zM357.5 135.6h.7v.7h-.7zM338.9 136.2h.7v.7h-.7zM345.1 136.2h.7v.7h-.7zM345.7 136.2h.7v.7h-.7zM346.3 136.2h.7v.7h-.7zM346.9 136.2h.7v.7h-.7zM347.6 136.2h.7v.7h-.7zM348.2 136.2h.7v.7h-.7zM348.8 136.2h.7v.7h-.7zM350.0 136.2h.7v.7h-.7zM350.7 136.2h.7v.7h-.7zM351.3 136.2h.7v.7h-.7zM351.9 136.2h.7v.7h-.7zM352.5 136.2h.7v.7h-.7zM353.1 136.2h.7v.7h-.7zM353.8 136.2h.7v.7h-.7zM354.4 136.2h.7v.7h-.7zM355.0 136.2h.7v.7h-.7zM357.5 136.2h.7v.7h-.7zM358.1 136.2h.7v.7h-.7zM339.5 136.9h.7v.7h-.7zM340.1 136.9h.7v.7h-.7zM340.7 136.9h.7v.7h-.7zM342.0 136.9h.7v.7h-.7zM343.2 136.9h.7v.7h-.7zM345.1 136.9h.7v.7h-.7zM347.6 136.9h.7v.7h-.7zM348.8 136.9h.7v.7h-.7zM349.4 136.9h.7v.7h-.7zM350.0 136.9h.7v.7h-.7zM351.3 136.9h.7v.7h-.7zM353.8 136.9h.7v.7h-.7zM355.6 136.9h.7v.7h-.7zM356.9 136.9h.7v.7h-.7zM341.4 137.5h.7v.7h-.7zM342.0 137.5h.7v.7h-.7zM342.6 137.5h.7v.7h-.7zM343.2 137.5h.7v.7h-.7z" fill="#3fb59a" fill-opacity="1"/>
<path d="M341.4 131.9h.7v.7h-.7zM343.2 131.9h.7v.7h-.7zM343.8 131.9h.7v.7h-.7zM339.5 132.5h.7v.7h-.7zM344.5 132.5h.7v.7h-.7zM345.1 132.5h.7v.7h-.7zM345.1 133.1h.7v.7h-.7zM345.7 133.1h.7v.7h-.7zM338.9 133.8h.7v.7h-.7zM345.1 133.8h.7v.7h-.7zM345.7 133.8h.7v.7h-.7zM346.3 133.8h.7v.7h-.7zM346.9 133.8h.7v.7h-.7zM348.2 133.8h.7v.7h-.7zM349.4 133.8h.7v.7h-.7zM350.7 133.8h.7v.7h-.7zM351.3 133.8h.7v.7h-.7zM351.9 133.8h.7v.7h-.7zM338.9 134.4h.7v.7h-.7zM345.7 134.4h.7v.7h-.7zM346.3 134.4h.7v.7h-.7zM346.9 134.4h.7v.7h-.7zM347.6 134.4h.7v.7h-.7zM349.4 134.4h.7v.7h-.7zM350.0 134.4h.7v.7h-.7zM350.7 134.4h.7v.7h-.7zM351.9 134.4h.7v.7h-.7zM352.5 134.4h.7v.7h-.7zM338.9 135.0h.7v.7h-.7zM346.3 135.0h.7v.7h-.7zM347.6 135.0h.7v.7h-.7zM349.4 135.0h.7v.7h-.7zM351.3 135.0h.7v.7h-.7zM351.9 135.0h.7v.7h-.7zM353.1 135.0h.7v.7h-.7zM355.0 135.0h.7v.7h-.7zM339.5 135.6h.7v.7h-.7zM344.5 135.6h.7v.7h-.7zM345.1 135.6h.7v.7h-.7zM346.9 135.6h.7v.7h-.7zM348.2 135.6h.7v.7h-.7zM348.8 135.6h.7v.7h-.7zM350.7 135.6h.7v.7h-.7zM351.3 135.6h.7v.7h-.7zM353.8 135.6h.7v.7h-.7zM355.0 135.6h.7v.7h-.7zM339.5 136.2h.7v.7h-.7zM340.1 136.2h.7v.7h-.7zM340.7 136.2h.7v.7h-.7zM342.6 136.2h.7v.7h-.7zM343.8 136.2h.7v.7h-.7zM344.5 136.2h.7v.7h-.7zM349.4 136.2h.7v.7h-.7zM341.4 136.9h.7v.7h-.7zM342.6 136.9h.7v.7h-.7zM343.8 136.9h.7v.7h-.7z" fill="#6cc040" fill-opacity="1"/>
<path d="M342.0 131.9h.7v.7h-.7zM342.6 131.9h.7v.7h-.7zM340.1 132.5h.7v.7h-.7zM340.7 132.5h.7v.7h-.7zM341.4 132.5h.7v.7h-.7zM342.0 132.5h.7v.7h-.7zM343.2 132.5h.7v.7h-.7zM343.8 132.5h.7v.7h-.7zM339.5 133.1h.7v.7h-.7zM340.1 133.1h.7v.7h-.7zM343.8 133.1h.7v.7h-.7zM344.5 133.1h.7v.7h-.7zM344.5 133.8h.7v.7h-.7zM339.5 134.4h.7v.7h-.7zM345.1 134.4h.7v.7h-.7zM339.5 135.0h.7v.7h-.7zM340.1 135.0h.7v.7h-.7zM345.1 135.0h.7v.7h-.7zM345.7 135.0h.7v.7h-.7zM340.1 135.6h.7v.7h-.7zM343.8 135.6h.7v.7h-.7z" fill="#c0d028" fill-opacity="1"/>
<path d="M342.6 132.5h.7v.7h-.7zM340.7 133.1h.7v.7h-.7zM342.0 133.1h.7v.7h-.7zM343.2 133.1h.7v.7h-.7zM339.5 133.8h.7v.7h-.7zM344.5 134.4h.7v.7h-.7zM344.5 135.0h.7v.7h-.7zM340.7 135.6h.7v.7h-.7zM341.4 135.6h.7v.7h-.7zM342.0 135.6h.7v.7h-.7zM343.2 135.6h.7v.7h-.7zM341.4 136.2h.7v.7h-.7zM342.0 136.2h.7v.7h-.7zM343.2 136.2h.7v.7h-.7z" fill="#f2b41e" fill-opacity="1"/>
<path d="M342.6 133.1h.7v.7h-.7zM340.1 133.8h.7v.7h-.7zM340.7 133.8h.7v.7h-.7zM341.4 133.8h.7v.7h-.7zM342.0 133.8h.7v.7h-.7zM343.2 133.8h.7v.7h-.7zM343.8 133.8h.7v.7h-.7zM340.1 134.4h.7v.7h-.7zM340.7 134.4h.7v.7h-.7zM343.8 134.4h.7v.7h-.7zM340.7 135.0h.7v.7h-.7zM342.0 135.0h.7v.7h-.7zM343.8 135.0h.7v.7h-.7zM342.6 135.6h.7v.7h-.7z" fill="#ee5a1c" fill-opacity="1"/>
<path d="M341.4 133.1h.7v.7h-.7zM342.6 133.8h.7v.7h-.7zM341.4 134.4h.7v.7h-.7zM342.0 134.4h.7v.7h-.7zM342.6 134.4h.7v.7h-.7zM343.2 134.4h.7v.7h-.7zM341.4 135.0h.7v.7h-.7zM342.6 135.0h.7v.7h-.7zM343.2 135.0h.7v.7h-.7z" fill="#e0201c" fill-opacity="1"/>
<line x1="347.2" y1="90.6" x2="347.2" y2="148" stroke="#555" stroke-width="0.75"/>
<line x1="329.2" y1="126.5" x2="387.6" y2="126.5" stroke="#555" stroke-width="0.75"/>
<rect x="329.2" y="90.6" width="58.4" height="57.4" rx="1" fill="none" stroke="#666" stroke-width="0.8"/>
<line x1="328" y1="100.17" x2="329.2" y2="100.17" stroke="#666" stroke-width="0.5"/>
<line x1="338.93" y1="148" x2="338.93" y2="149.2" stroke="#666" stroke-width="0.5"/>
<line x1="328" y1="109.73" x2="329.2" y2="109.73" stroke="#666" stroke-width="0.5"/>
<line x1="348.67" y1="148" x2="348.67" y2="149.2" stroke="#666" stroke-width="0.5"/>
<line x1="328" y1="119.3" x2="329.2" y2="119.3" stroke="#666" stroke-width="0.5"/>
<line x1="358.4" y1="148" x2="358.4" y2="149.2" stroke="#666" stroke-width="0.5"/>
<line x1="328" y1="128.87" x2="329.2" y2="128.87" stroke="#666" stroke-width="0.5"/>
<line x1="368.13" y1="148" x2="368.13" y2="149.2" stroke="#666" stroke-width="0.5"/>
<line x1="328" y1="138.43" x2="329.2" y2="138.43" stroke="#666" stroke-width="0.5"/>
<line x1="377.87" y1="148" x2="377.87" y2="149.2" stroke="#666" stroke-width="0.5"/>
<rect x="328" y="134" width="1.4" height="2" fill="#111"/>
<rect x="341.2" y="147.8" width="2" height="1.4" fill="#111"/>
<text x="330.5" y="97" font-size="5.5" fill="#333">13.2</text>
<text x="386" y="97" font-size="5.5" text-anchor="end" fill="#333">7.55</text>
<text x="330.5" y="145.4" font-size="5.5" fill="#333">53.8</text>
<text x="386" y="145.4" font-size="5.5" text-anchor="end" fill="#333">25.5</text>
<rect x="398.8" y="90.6" width="58.2" height="57.4" fill="#ffffff"/>
<path d="M413.4 100.3h.62v.62h-.62zM409.7 101.5h.62v.62h-.62zM409.7 104.6h.62v.62h-.62zM410.3 105.2h.62v.62h-.62zM409.7 105.9h.62v.62h-.62zM412.2 107.1h.62v.62h-.62zM411.6 108.3h.62v.62h-.62zM409.7 109.0h.62v.62h-.62zM407.9 109.6h.62v.62h-.62zM411.6 109.6h.62v.62h-.62zM412.2 110.2h.62v.62h-.62zM413.4 110.2h.62v.62h-.62zM408.5 110.8h.62v.62h-.62zM412.2 110.8h.62v.62h-.62zM412.2 112.1h.62v.62h-.62zM407.9 112.7h.62v.62h-.62zM407.9 114.5h.62v.62h-.62zM412.8 116.4h.62v.62h-.62zM408.5 117.0h.62v.62h-.62zM412.8 117.6h.62v.62h-.62zM400.4 118.3h.62v.62h-.62zM408.5 118.3h.62v.62h-.62zM412.8 119.5h.62v.62h-.62zM414.1 119.5h.62v.62h-.62zM408.5 120.7h.62v.62h-.62zM412.2 120.7h.62v.62h-.62zM408.5 121.4h.62v.62h-.62zM417.8 122.0h.62v.62h-.62zM409.1 122.6h.62v.62h-.62zM412.8 122.6h.62v.62h-.62zM413.4 122.6h.62v.62h-.62zM405.4 123.2h.62v.62h-.62zM410.3 123.8h.62v.62h-.62zM414.1 123.8h.62v.62h-.62zM422.1 123.8h.62v.62h-.62zM411.6 124.5h.62v.62h-.62zM412.2 124.5h.62v.62h-.62zM411.0 125.1h.62v.62h-.62zM420.9 125.1h.62v.62h-.62zM412.8 125.7h.62v.62h-.62zM406.6 126.3h.62v.62h-.62zM407.2 126.3h.62v.62h-.62zM420.9 126.9h.62v.62h-.62zM443.8 126.9h.62v.62h-.62zM407.9 127.6h.62v.62h-.62zM414.1 127.6h.62v.62h-.62zM407.2 128.2h.62v.62h-.62zM432.0 128.2h.62v.62h-.62zM435.8 128.2h.62v.62h-.62zM416.5 128.8h.62v.62h-.62zM425.2 128.8h.62v.62h-.62zM408.5 129.4h.62v.62h-.62zM418.4 129.4h.62v.62h-.62zM419.0 129.4h.62v.62h-.62zM427.7 129.4h.62v.62h-.62zM436.4 129.4h.62v.62h-.62zM409.7 130.0h.62v.62h-.62zM415.3 130.0h.62v.62h-.62zM423.4 130.0h.62v.62h-.62zM415.3 130.7h.62v.62h-.62zM428.9 130.7h.62v.62h-.62zM420.9 131.3h.62v.62h-.62zM425.2 131.3h.62v.62h-.62zM427.1 131.3h.62v.62h-.62zM440.1 131.3h.62v.62h-.62zM420.3 131.9h.62v.62h-.62zM422.1 131.9h.62v.62h-.62zM426.5 131.9h.62v.62h-.62zM418.4 132.5h.62v.62h-.62zM425.8 132.5h.62v.62h-.62zM430.2 132.5h.62v.62h-.62zM406.6 133.1h.62v.62h-.62zM407.2 133.1h.62v.62h-.62zM433.9 133.1h.62v.62h-.62zM428.3 133.8h.62v.62h-.62zM435.1 133.8h.62v.62h-.62zM406.0 134.4h.62v.62h-.62zM431.4 134.4h.62v.62h-.62zM406.0 135.0h.62v.62h-.62zM423.4 135.0h.62v.62h-.62zM418.4 135.6h.62v.62h-.62zM423.4 135.6h.62v.62h-.62zM428.3 135.6h.62v.62h-.62zM432.0 135.6h.62v.62h-.62zM434.5 135.6h.62v.62h-.62zM420.3 136.2h.62v.62h-.62zM421.5 136.2h.62v.62h-.62zM424.6 136.2h.62v.62h-.62zM425.2 136.2h.62v.62h-.62zM427.7 136.2h.62v.62h-.62zM417.8 136.9h.62v.62h-.62zM423.4 136.9h.62v.62h-.62zM424.6 136.9h.62v.62h-.62zM426.5 136.9h.62v.62h-.62zM430.8 136.9h.62v.62h-.62zM406.6 137.5h.62v.62h-.62zM407.2 137.5h.62v.62h-.62zM408.5 137.5h.62v.62h-.62zM415.9 137.5h.62v.62h-.62zM419.0 137.5h.62v.62h-.62zM422.7 137.5h.62v.62h-.62zM425.2 137.5h.62v.62h-.62zM425.8 137.5h.62v.62h-.62zM409.1 138.1h.62v.62h-.62zM415.3 138.1h.62v.62h-.62zM424.6 138.1h.62v.62h-.62zM425.2 138.1h.62v.62h-.62zM425.8 138.1h.62v.62h-.62zM427.7 138.1h.62v.62h-.62zM410.3 138.7h.62v.62h-.62zM411.6 138.7h.62v.62h-.62zM426.5 138.7h.62v.62h-.62zM430.8 138.7h.62v.62h-.62zM407.2 139.3h.62v.62h-.62zM411.6 139.3h.62v.62h-.62zM414.1 139.3h.62v.62h-.62zM417.8 139.3h.62v.62h-.62zM428.9 139.3h.62v.62h-.62zM411.0 140.0h.62v.62h-.62zM412.2 140.0h.62v.62h-.62zM413.4 140.0h.62v.62h-.62zM420.9 140.0h.62v.62h-.62zM425.2 140.0h.62v.62h-.62zM428.3 140.0h.62v.62h-.62zM431.4 140.0h.62v.62h-.62zM409.7 140.6h.62v.62h-.62zM409.1 143.7h.62v.62h-.62z" fill="#8090d0" fill-opacity="0.55"/>
<path d="M409.7 112.1h.62v.62h-.62zM410.3 112.1h.62v.62h-.62zM410.3 112.7h.62v.62h-.62zM409.7 115.2h.62v.62h-.62zM409.7 115.8h.62v.62h-.62zM409.7 116.4h.62v.62h-.62zM411.0 116.4h.62v.62h-.62zM409.7 117.0h.62v.62h-.62zM410.3 117.0h.62v.62h-.62zM409.1 117.6h.62v.62h-.62zM409.7 117.6h.62v.62h-.62zM409.7 118.3h.62v.62h-.62zM412.8 118.9h.62v.62h-.62zM409.7 119.5h.62v.62h-.62zM409.1 120.1h.62v.62h-.62zM412.2 120.1h.62v.62h-.62zM410.3 121.4h.62v.62h-.62zM411.0 121.4h.62v.62h-.62zM409.7 122.0h.62v.62h-.62zM409.7 122.6h.62v.62h-.62zM412.2 123.2h.62v.62h-.62zM411.0 124.5h.62v.62h-.62zM409.7 130.7h.62v.62h-.62zM411.0 130.7h.62v.62h-.62zM409.1 131.3h.62v.62h-.62zM414.7 131.3h.62v.62h-.62zM407.9 132.5h.62v.62h-.62zM413.4 132.5h.62v.62h-.62zM414.7 132.5h.62v.62h-.62zM417.2 132.5h.62v.62h-.62zM422.7 132.5h.62v.62h-.62zM414.7 133.1h.62v.62h-.62zM415.3 133.1h.62v.62h-.62zM415.9 133.1h.62v.62h-.62zM417.2 133.1h.62v.62h-.62zM421.5 133.1h.62v.62h-.62zM422.7 133.1h.62v.62h-.62zM423.4 133.1h.62v.62h-.62zM424.0 133.1h.62v.62h-.62zM427.1 133.8h.62v.62h-.62zM407.9 134.4h.62v.62h-.62zM417.2 134.4h.62v.62h-.62zM419.6 134.4h.62v.62h-.62zM420.9 134.4h.62v.62h-.62zM407.9 135.0h.62v.62h-.62zM416.5 135.0h.62v.62h-.62zM417.2 135.0h.62v.62h-.62zM422.7 135.0h.62v.62h-.62zM415.3 135.6h.62v.62h-.62zM415.9 135.6h.62v.62h-.62zM416.5 135.6h.62v.62h-.62zM417.2 135.6h.62v.62h-.62zM425.8 135.6h.62v.62h-.62zM427.1 135.6h.62v.62h-.62zM407.2 136.2h.62v.62h-.62zM414.1 136.2h.62v.62h-.62zM415.9 136.2h.62v.62h-.62zM412.2 137.5h.62v.62h-.62zM412.8 137.5h.62v.62h-.62zM413.4 137.5h.62v.62h-.62zM414.7 137.5h.62v.62h-.62zM415.3 137.5h.62v.62h-.62zM412.2 138.1h.62v.62h-.62z" fill="#5570c8" fill-opacity="0.8"/>
<path d="M410.3 131.9h.7v.7h-.7zM411.6 131.9h.7v.7h-.7zM409.7 132.5h.7v.7h-.7zM414.1 133.1h.7v.7h-.7zM408.5 134.4h.7v.7h-.7zM408.5 135.6h.7v.7h-.7zM414.1 135.6h.7v.7h-.7zM414.7 135.6h.7v.7h-.7zM411.0 137.5h.7v.7h-.7z" fill="#3f95c8" fill-opacity="0.9"/>
<path d="M411.6 132.5h.7v.7h-.7zM412.2 132.5h.7v.7h-.7zM409.7 133.1h.7v.7h-.7zM413.4 133.1h.7v.7h-.7zM409.7 133.8h.7v.7h-.7zM414.1 133.8h.7v.7h-.7zM413.4 134.4h.7v.7h-.7zM414.1 135.0h.7v.7h-.7zM409.1 135.6h.7v.7h-.7zM413.4 135.6h.7v.7h-.7zM409.1 136.2h.7v.7h-.7zM410.3 136.2h.7v.7h-.7zM412.8 136.2h.7v.7h-.7zM413.4 136.2h.7v.7h-.7zM410.3 136.9h.7v.7h-.7zM412.2 136.9h.7v.7h-.7z" fill="#3fb59a" fill-opacity="1"/>
<path d="M411.0 132.5h.7v.7h-.7zM410.3 133.1h.7v.7h-.7zM411.0 133.1h.7v.7h-.7zM412.2 133.1h.7v.7h-.7zM412.8 133.1h.7v.7h-.7zM413.4 133.8h.7v.7h-.7zM409.1 134.4h.7v.7h-.7zM409.7 134.4h.7v.7h-.7zM409.7 135.0h.7v.7h-.7zM413.4 135.0h.7v.7h-.7zM410.3 135.6h.7v.7h-.7zM412.2 136.2h.7v.7h-.7z" fill="#6cc040" fill-opacity="1"/>
<path d="M411.6 133.1h.7v.7h-.7zM410.3 133.8h.7v.7h-.7zM411.0 133.8h.7v.7h-.7zM411.6 133.8h.7v.7h-.7zM412.2 133.8h.7v.7h-.7zM412.8 133.8h.7v.7h-.7zM412.8 134.4h.7v.7h-.7zM409.7 135.6h.7v.7h-.7zM411.0 135.6h.7v.7h-.7zM412.2 135.6h.7v.7h-.7zM412.8 135.6h.7v.7h-.7zM411.0 136.2h.7v.7h-.7zM411.6 136.2h.7v.7h-.7z" fill="#c0d028" fill-opacity="1"/>
<path d="M411.6 134.4h.7v.7h-.7zM410.3 135.0h.7v.7h-.7zM411.0 135.0h.7v.7h-.7zM412.2 135.0h.7v.7h-.7zM412.8 135.0h.7v.7h-.7z" fill="#f2b41e" fill-opacity="1"/>
<path d="M410.3 134.4h.7v.7h-.7zM411.0 134.4h.7v.7h-.7zM412.2 134.4h.7v.7h-.7zM411.6 135.0h.7v.7h-.7zM411.6 135.6h.7v.7h-.7z" fill="#ee5a1c" fill-opacity="1"/>
<line x1="417.6" y1="90.6" x2="417.6" y2="148" stroke="#555" stroke-width="0.75"/>
<line x1="398.8" y1="126.3" x2="457" y2="126.3" stroke="#555" stroke-width="0.75"/>
<rect x="398.8" y="90.6" width="58.2" height="57.4" rx="1" fill="none" stroke="#666" stroke-width="0.8"/>
<line x1="397.6" y1="100.17" x2="398.8" y2="100.17" stroke="#666" stroke-width="0.5"/>
<line x1="408.5" y1="148" x2="408.5" y2="149.2" stroke="#666" stroke-width="0.5"/>
<line x1="397.6" y1="109.73" x2="398.8" y2="109.73" stroke="#666" stroke-width="0.5"/>
<line x1="418.2" y1="148" x2="418.2" y2="149.2" stroke="#666" stroke-width="0.5"/>
<line x1="397.6" y1="119.3" x2="398.8" y2="119.3" stroke="#666" stroke-width="0.5"/>
<line x1="427.9" y1="148" x2="427.9" y2="149.2" stroke="#666" stroke-width="0.5"/>
<line x1="397.6" y1="128.87" x2="398.8" y2="128.87" stroke="#666" stroke-width="0.5"/>
<line x1="437.6" y1="148" x2="437.6" y2="149.2" stroke="#666" stroke-width="0.5"/>
<line x1="397.6" y1="138.43" x2="398.8" y2="138.43" stroke="#666" stroke-width="0.5"/>
<line x1="447.3" y1="148" x2="447.3" y2="149.2" stroke="#666" stroke-width="0.5"/>
<rect x="397.6" y="134.2" width="1.4" height="2" fill="#111"/>
<rect x="410.8" y="147.8" width="2" height="1.4" fill="#111"/>
<text x="400.1" y="97" font-size="5.5" fill="#333">11.9</text>
<text x="455.4" y="97" font-size="5.5" text-anchor="end" fill="#333">0.78</text>
<text x="400.1" y="145.4" font-size="5.5" fill="#333">70.5</text>
<text x="455.4" y="145.4" font-size="5.5" text-anchor="end" fill="#333">16.8</text>
<g transform="translate(462.6 29.8) rotate(90)">
<text x="0" y="0" font-size="7.6" fill="#333">+</text>
<text x="12" y="0" font-size="7.6" fill="#333" textLength="36.4" lengthAdjust="spacingAndGlyphs">-CD27 blo.</text>
</g>
<g transform="translate(462.6 97.5) rotate(90)">
<text x="0" y="0" font-size="7.6" fill="#333" textLength="45.8" lengthAdjust="spacingAndGlyphs">+ IsoCtrl. blo</text>
</g>
<path d="M249.5 143.4 V160.4 H267.4" fill="none" stroke="#222" stroke-width="0.95"/>
<path d="M249.5 139.4 L247.1 144.8 L251.9 144.8 Z" fill="#222"/>
<path d="M271.4 160.4 L266 158 L266 162.8 Z" fill="#222"/>
<text x="7.4" y="192.2" font-size="12" font-weight="bold" fill="#111" class="pl">C</text>
<line x1="49.2" y1="202.4" x2="49.2" y2="286.8" stroke="#222" stroke-width="1.1"/>
<line x1="46.8" y1="286.2" x2="49.2" y2="286.2" stroke="#222" stroke-width="0.9"/>
<text x="43.2" y="287.7" font-size="5.4" text-anchor="end" fill="#3a3a3a">0</text>
<line x1="46.8" y1="270" x2="49.2" y2="270" stroke="#222" stroke-width="0.9"/>
<text x="43.2" y="271.5" font-size="5.4" text-anchor="end" fill="#3a3a3a">20</text>
<line x1="46.8" y1="253.8" x2="49.2" y2="253.8" stroke="#222" stroke-width="0.9"/>
<text x="43.2" y="255.3" font-size="5.4" text-anchor="end" fill="#3a3a3a">40</text>
<line x1="46.8" y1="237.6" x2="49.2" y2="237.6" stroke="#222" stroke-width="0.9"/>
<text x="43.2" y="239.1" font-size="5.4" text-anchor="end" fill="#3a3a3a">60</text>
<line x1="46.8" y1="221.4" x2="49.2" y2="221.4" stroke="#222" stroke-width="0.9"/>
<text x="43.2" y="222.9" font-size="5.4" text-anchor="end" fill="#3a3a3a">80</text>
<line x1="46.8" y1="205.2" x2="49.2" y2="205.2" stroke="#222" stroke-width="0.9"/>
<text x="43.2" y="206.7" font-size="5.4" text-anchor="end" fill="#3a3a3a">100</text>
<line x1="48.7" y1="286.2" x2="164" y2="286.2" stroke="#222" stroke-width="1.1"/>
<line x1="65.7" y1="286.2" x2="65.7" y2="288.4" stroke="#222" stroke-width="0.8"/>
<line x1="105.6" y1="286.2" x2="105.6" y2="288.4" stroke="#222" stroke-width="0.8"/>
<line x1="145.4" y1="286.2" x2="145.4" y2="288.4" stroke="#222" stroke-width="0.8"/>
<g transform="translate(58.1 292.9) rotate(-45)">
<text x="0" y="0" font-size="6" text-anchor="end" fill="#3a3a3a" textLength="15" lengthAdjust="spacingAndGlyphs">EBV +</text>
<text x="-0.2" y="6.3" font-size="6" text-anchor="end" fill="#3a3a3a" textLength="30" lengthAdjust="spacingAndGlyphs">α-CD27 blo.</text>
</g>
<g transform="translate(74.3 292.9) rotate(-45)">
<text x="0" y="0" font-size="6" text-anchor="end" fill="#3a3a3a" textLength="15" lengthAdjust="spacingAndGlyphs">EBV +</text>
<text x="0.8" y="6.3" font-size="6" text-anchor="end" fill="#3a3a3a" textLength="30.5" lengthAdjust="spacingAndGlyphs">IsoCtrl. blo.</text>
</g>
<g transform="translate(97.9 292.9) rotate(-45)">
<text x="0" y="0" font-size="6" text-anchor="end" fill="#3a3a3a" textLength="15" lengthAdjust="spacingAndGlyphs">EBV +</text>
<text x="-0.2" y="6.3" font-size="6" text-anchor="end" fill="#3a3a3a" textLength="30" lengthAdjust="spacingAndGlyphs">α-CD27 blo.</text>
</g>
<g transform="translate(113.7 292.9) rotate(-45)">
<text x="0" y="0" font-size="6" text-anchor="end" fill="#3a3a3a" textLength="15" lengthAdjust="spacingAndGlyphs">EBV +</text>
<text x="0.8" y="6.3" font-size="6" text-anchor="end" fill="#3a3a3a" textLength="30.5" lengthAdjust="spacingAndGlyphs">IsoCtrl. blo.</text>
</g>
<g transform="translate(137.4 292.9) rotate(-45)">
<text x="0" y="0" font-size="6" text-anchor="end" fill="#3a3a3a" textLength="15" lengthAdjust="spacingAndGlyphs">EBV +</text>
<text x="-0.2" y="6.3" font-size="6" text-anchor="end" fill="#3a3a3a" textLength="30" lengthAdjust="spacingAndGlyphs">α-CD27 blo.</text>
</g>
<g transform="translate(153.1 292.9) rotate(-45)">
<text x="0" y="0" font-size="6" text-anchor="end" fill="#3a3a3a" textLength="15" lengthAdjust="spacingAndGlyphs">EBV +</text>
<text x="0.8" y="6.3" font-size="6" text-anchor="end" fill="#3a3a3a" textLength="30.5" lengthAdjust="spacingAndGlyphs">IsoCtrl. blo.</text>
</g>
<line x1="38.6" y1="318.9" x2="62.6" y2="318.9" stroke="#5c5c5c" stroke-width="1.4"/>
<text x="50.6" y="326.9" font-size="5.5" text-anchor="middle" fill="#3a3a3a">Blood</text>
<line x1="79" y1="318.9" x2="102.6" y2="318.9" stroke="#5c5c5c" stroke-width="1.4"/>
<text x="90.8" y="326.9" font-size="5.5" text-anchor="middle" fill="#3a3a3a">Spleen</text>
<line x1="118" y1="318.9" x2="141.6" y2="318.9" stroke="#5c5c5c" stroke-width="1.4"/>
<text x="129.8" y="326.9" font-size="5.5" text-anchor="middle" fill="#3a3a3a">Liver</text>
<line x1="58.4" y1="234.6" x2="58.4" y2="262" stroke="#222" stroke-width="0.9"/>
<line x1="55.65" y1="234.6" x2="61.15" y2="234.6" stroke="#222" stroke-width="0.9"/>
<circle cx="58.4" cy="214.1" r="2.4" fill="#62a8e2"/>
<circle cx="58.4" cy="227" r="2.4" fill="#62a8e2"/>
<circle cx="60.2" cy="236.3" r="2.4" fill="#62a8e2"/>
<circle cx="56.6" cy="237.4" r="2.4" fill="#c8127e"/>
<circle cx="58" cy="250.6" r="2.4" fill="#3b4259"/>
<circle cx="58.4" cy="251.2" r="2.4" fill="#c8127e"/>
<circle cx="55.6" cy="254" r="2.4" fill="#c8127e"/>
<circle cx="58.4" cy="254" r="2.4" fill="#c8127e"/>
<circle cx="61.9" cy="254" r="2.4" fill="#c8127e"/>
<circle cx="58.4" cy="256" r="2.4" fill="#c8127e"/>
<circle cx="59.8" cy="261" r="2.4" fill="#62a8e2"/>
<circle cx="57" cy="263.7" r="2.4" fill="#3b4259"/>
<circle cx="58.4" cy="267.9" r="2.4" fill="#3b4259"/>
<circle cx="58.4" cy="272.7" r="2.4" fill="#62a8e2"/>
<line x1="73.2" y1="255.4" x2="73.2" y2="268" stroke="#222" stroke-width="0.9"/>
<rect x="70.9" y="228.2" width="4.6" height="4.6" fill="#62a8e2"/>
<rect x="70.9" y="237.9" width="4.6" height="4.6" fill="#3b4259"/>
<rect x="70.9" y="244.1" width="4.6" height="4.6" fill="#62a8e2"/>
<rect x="70.9" y="253.1" width="4.6" height="4.6" fill="#3b4259"/>
<rect x="71.3" y="262.8" width="4.6" height="4.6" fill="#c8127e"/>
<rect x="68.6" y="265.6" width="4.6" height="4.6" fill="#c8127e"/>
<rect x="68.2" y="268.7" width="4.6" height="4.6" fill="#c8127e"/>
<rect x="68.5" y="271.7" width="4.6" height="4.6" fill="#c8127e"/>
<rect x="70.7" y="273.7" width="4.6" height="4.6" fill="#c8127e"/>
<rect x="73.7" y="271.2" width="4.6" height="4.6" fill="#c8127e"/>
<rect x="73.7" y="268.2" width="4.6" height="4.6" fill="#62a8e2"/>
<rect x="71.2" y="269.7" width="4.6" height="4.6" fill="#62a8e2"/>
<rect x="69.7" y="271.2" width="4.6" height="4.6" fill="#62a8e2"/>
<rect x="70.9" y="279.4" width="4.6" height="4.6" fill="#62a8e2"/>
<line x1="98.2" y1="222.5" x2="98.2" y2="272" stroke="#222" stroke-width="0.9"/>
<line x1="94.2" y1="252.9" x2="102.2" y2="252.9" stroke="#222" stroke-width="1.1"/>
<circle cx="95.4" cy="223.3" r="2.4" fill="#c8127e"/>
<circle cx="98.7" cy="222.2" r="2.4" fill="#c8127e"/>
<circle cx="101.2" cy="222.9" r="2.4" fill="#62a8e2"/>
<circle cx="98.2" cy="231.9" r="2.4" fill="#c8127e"/>
<circle cx="98.2" cy="236.7" r="2.4" fill="#62a8e2"/>
<circle cx="98.7" cy="248.8" r="2.4" fill="#c8127e"/>
<circle cx="97.4" cy="252.9" r="2.4" fill="#62a8e2"/>
<circle cx="98.2" cy="259.6" r="2.4" fill="#c8127e"/>
<circle cx="97.4" cy="267.2" r="2.4" fill="#62a8e2"/>
<circle cx="101.2" cy="268.1" r="2.4" fill="#c8127e"/>
<circle cx="96.8" cy="271.7" r="2.4" fill="#3b4259"/>
<circle cx="99.2" cy="272.7" r="2.4" fill="#62a8e2"/>
<circle cx="98.2" cy="281.7" r="2.4" fill="#3b4259"/>
<rect x="110.3" y="231.6" width="4.6" height="4.6" fill="#62a8e2"/>
<rect x="110.3" y="242.3" width="4.6" height="4.6" fill="#62a8e2"/>
<rect x="110.3" y="248.9" width="4.6" height="4.6" fill="#62a8e2"/>
<rect x="110.3" y="254.8" width="4.6" height="4.6" fill="#3b4259"/>
<rect x="109.3" y="260.7" width="4.6" height="4.6" fill="#c8127e"/>
<rect x="111.4" y="263.1" width="4.6" height="4.6" fill="#62a8e2"/>
<rect x="109.7" y="266.2" width="4.6" height="4.6" fill="#c8127e"/>
<rect x="110.2" y="269.2" width="4.6" height="4.6" fill="#c8127e"/>
<rect x="111.2" y="272.2" width="4.6" height="4.6" fill="#c8127e"/>
<rect x="112.2" y="274.7" width="4.6" height="4.6" fill="#c8127e"/>
<rect x="113.5" y="276.7" width="4.6" height="4.6" fill="#c8127e"/>
<rect x="108.4" y="276" width="4.6" height="4.6" fill="#62a8e2"/>
<rect x="107.2" y="280.1" width="4.6" height="4.6" fill="#62a8e2"/>
<line x1="108.5" y1="272.3" x2="116.5" y2="272.3" stroke="#222" stroke-width="1"/>
<line x1="137.7" y1="221" x2="137.7" y2="257.5" stroke="#222" stroke-width="0.9"/>
<line x1="133.7" y1="235.3" x2="141.7" y2="235.3" stroke="#222" stroke-width="1.1"/>
<circle cx="139.5" cy="206.2" r="2.4" fill="#3b4259"/>
<circle cx="135.8" cy="208.6" r="2.4" fill="#62a8e2"/>
<circle cx="138.9" cy="221.5" r="2.4" fill="#c8127e"/>
<circle cx="136.4" cy="224.2" r="2.4" fill="#62a8e2"/>
<circle cx="138.2" cy="229.8" r="2.4" fill="#c8127e"/>
<circle cx="140.9" cy="231.2" r="2.4" fill="#c8127e"/>
<circle cx="137.5" cy="233.2" r="2.4" fill="#c8127e"/>
<circle cx="134" cy="235.3" r="2.4" fill="#3b4259"/>
<circle cx="138.9" cy="236" r="2.4" fill="#c8127e"/>
<circle cx="136.8" cy="239.5" r="2.4" fill="#c8127e"/>
<circle cx="140.5" cy="241.6" r="2.4" fill="#62a8e2"/>
<circle cx="137.2" cy="244" r="2.4" fill="#3b4259"/>
<circle cx="137.7" cy="247.8" r="2.4" fill="#c8127e"/>
<circle cx="137.7" cy="252.4" r="2.4" fill="#62a8e2"/>
<circle cx="137.7" cy="257.5" r="2.4" fill="#3b4259"/>
<circle cx="137.7" cy="275.1" r="2.4" fill="#62a8e2"/>
<rect x="150.7" y="220.1" width="4.6" height="4.6" fill="#3b4259"/>
<rect x="149.7" y="220.1" width="4.6" height="4.6" fill="#62a8e2"/>
<rect x="149.7" y="249.7" width="4.6" height="4.6" fill="#c8127e"/>
<rect x="149.7" y="252.7" width="4.6" height="4.6" fill="#62a8e2"/>
<rect x="149.7" y="256.2" width="4.6" height="4.6" fill="#62a8e2"/>
<rect x="149.7" y="258.7" width="4.6" height="4.6" fill="#62a8e2"/>
<rect x="149" y="261.4" width="4.6" height="4.6" fill="#3b4259"/>
<rect x="150.4" y="262.1" width="4.6" height="4.6" fill="#c8127e"/>
<rect x="149.7" y="266.3" width="4.6" height="4.6" fill="#62a8e2"/>
<rect x="147.6" y="269.7" width="4.6" height="4.6" fill="#c8127e"/>
<rect x="144.7" y="274.7" width="4.6" height="4.6" fill="#c8127e"/>
<rect x="154.7" y="274.2" width="4.6" height="4.6" fill="#c8127e"/>
<rect x="145.2" y="278.7" width="4.6" height="4.6" fill="#c8127e"/>
<rect x="148.2" y="279.2" width="4.6" height="4.6" fill="#c8127e"/>
<rect x="152.2" y="279.2" width="4.6" height="4.6" fill="#c8127e"/>
<rect x="154.7" y="277.7" width="4.6" height="4.6" fill="#c8127e"/>
<rect x="149" y="273.2" width="4.6" height="4.6" fill="#62a8e2"/>
<rect x="146.2" y="276.7" width="4.6" height="4.6" fill="#c8127e"/>
<rect x="153.2" y="276.7" width="4.6" height="4.6" fill="#c8127e"/>
<rect x="150.2" y="275.2" width="4.6" height="4.6" fill="#62a8e2"/>
<rect x="148.7" y="276.7" width="4.6" height="4.6" fill="#62a8e2"/>
<line x1="148" y1="269" x2="156" y2="269" stroke="#222" stroke-width="1"/>
<line x1="54.9" y1="205.5" x2="69.9" y2="205.5" stroke="#333" stroke-width="1"/>
<text x="62.4" y="203.9" font-size="5" text-anchor="middle" fill="#333">*</text>
<line x1="98.2" y1="212.2" x2="112.7" y2="212.2" stroke="#333" stroke-width="1"/>
<text x="105.45" y="210.6" font-size="5" text-anchor="middle" fill="#333">*</text>
<line x1="137.7" y1="200.5" x2="153" y2="200.5" stroke="#333" stroke-width="1"/>
<text x="145.35" y="198.9" font-size="5" text-anchor="middle" fill="#333">***</text>
<text x="178.9" y="192.1" font-size="12" font-weight="bold" fill="#111" class="pl">D</text>
<line x1="216.3" y1="205.8" x2="216.3" y2="286.3" stroke="#111" stroke-width="1.3"/>
<line x1="213.7" y1="285.8" x2="216.3" y2="285.8" stroke="#111" stroke-width="0.9"/>
<line x1="214.9" y1="281.15" x2="216.3" y2="281.15" stroke="#111" stroke-width="0.6"/>
<line x1="214.9" y1="278.43" x2="216.3" y2="278.43" stroke="#111" stroke-width="0.6"/>
<line x1="214.9" y1="276.5" x2="216.3" y2="276.5" stroke="#111" stroke-width="0.6"/>
<line x1="214.9" y1="275" x2="216.3" y2="275" stroke="#111" stroke-width="0.6"/>
<line x1="214.9" y1="273.78" x2="216.3" y2="273.78" stroke="#111" stroke-width="0.6"/>
<line x1="214.9" y1="272.74" x2="216.3" y2="272.74" stroke="#111" stroke-width="0.6"/>
<line x1="214.9" y1="271.85" x2="216.3" y2="271.85" stroke="#111" stroke-width="0.6"/>
<line x1="214.9" y1="271.06" x2="216.3" y2="271.06" stroke="#111" stroke-width="0.6"/>
<text x="210.4" y="287.6" font-size="5.2" text-anchor="end" fill="#3a3a3a" font-family="Liberation Sans, sans-serif">10<tspan font-size="3.4" dy="-2.2">2</tspan></text>
<line x1="213.7" y1="270.35" x2="216.3" y2="270.35" stroke="#111" stroke-width="0.9"/>
<line x1="214.9" y1="265.7" x2="216.3" y2="265.7" stroke="#111" stroke-width="0.6"/>
<line x1="214.9" y1="262.98" x2="216.3" y2="262.98" stroke="#111" stroke-width="0.6"/>
<line x1="214.9" y1="261.05" x2="216.3" y2="261.05" stroke="#111" stroke-width="0.6"/>
<line x1="214.9" y1="259.55" x2="216.3" y2="259.55" stroke="#111" stroke-width="0.6"/>
<line x1="214.9" y1="258.33" x2="216.3" y2="258.33" stroke="#111" stroke-width="0.6"/>
<line x1="214.9" y1="257.29" x2="216.3" y2="257.29" stroke="#111" stroke-width="0.6"/>
<line x1="214.9" y1="256.4" x2="216.3" y2="256.4" stroke="#111" stroke-width="0.6"/>
<line x1="214.9" y1="255.61" x2="216.3" y2="255.61" stroke="#111" stroke-width="0.6"/>
<text x="210.4" y="272.15" font-size="5.2" text-anchor="end" fill="#3a3a3a" font-family="Liberation Sans, sans-serif">10<tspan font-size="3.4" dy="-2.2">3</tspan></text>
<line x1="213.7" y1="254.9" x2="216.3" y2="254.9" stroke="#111" stroke-width="0.9"/>
<line x1="214.9" y1="250.25" x2="216.3" y2="250.25" stroke="#111" stroke-width="0.6"/>
<line x1="214.9" y1="247.53" x2="216.3" y2="247.53" stroke="#111" stroke-width="0.6"/>
<line x1="214.9" y1="245.6" x2="216.3" y2="245.6" stroke="#111" stroke-width="0.6"/>
<line x1="214.9" y1="244.1" x2="216.3" y2="244.1" stroke="#111" stroke-width="0.6"/>
<line x1="214.9" y1="242.88" x2="216.3" y2="242.88" stroke="#111" stroke-width="0.6"/>
<line x1="214.9" y1="241.84" x2="216.3" y2="241.84" stroke="#111" stroke-width="0.6"/>
<line x1="214.9" y1="240.95" x2="216.3" y2="240.95" stroke="#111" stroke-width="0.6"/>
<line x1="214.9" y1="240.16" x2="216.3" y2="240.16" stroke="#111" stroke-width="0.6"/>
<text x="210.4" y="256.7" font-size="5.2" text-anchor="end" fill="#3a3a3a" font-family="Liberation Sans, sans-serif">10<tspan font-size="3.4" dy="-2.2">4</tspan></text>
<line x1="213.7" y1="239.45" x2="216.3" y2="239.45" stroke="#111" stroke-width="0.9"/>
<line x1="214.9" y1="234.8" x2="216.3" y2="234.8" stroke="#111" stroke-width="0.6"/>
<line x1="214.9" y1="232.08" x2="216.3" y2="232.08" stroke="#111" stroke-width="0.6"/>
<line x1="214.9" y1="230.15" x2="216.3" y2="230.15" stroke="#111" stroke-width="0.6"/>
<line x1="214.9" y1="228.65" x2="216.3" y2="228.65" stroke="#111" stroke-width="0.6"/>
<line x1="214.9" y1="227.43" x2="216.3" y2="227.43" stroke="#111" stroke-width="0.6"/>
<line x1="214.9" y1="226.39" x2="216.3" y2="226.39" stroke="#111" stroke-width="0.6"/>
<line x1="214.9" y1="225.5" x2="216.3" y2="225.5" stroke="#111" stroke-width="0.6"/>
<line x1="214.9" y1="224.71" x2="216.3" y2="224.71" stroke="#111" stroke-width="0.6"/>
<text x="210.4" y="241.25" font-size="5.2" text-anchor="end" fill="#3a3a3a" font-family="Liberation Sans, sans-serif">10<tspan font-size="3.4" dy="-2.2">5</tspan></text>
<line x1="213.7" y1="224" x2="216.3" y2="224" stroke="#111" stroke-width="0.9"/>
<line x1="214.9" y1="219.35" x2="216.3" y2="219.35" stroke="#111" stroke-width="0.6"/>
<line x1="214.9" y1="216.63" x2="216.3" y2="216.63" stroke="#111" stroke-width="0.6"/>
<line x1="214.9" y1="214.7" x2="216.3" y2="214.7" stroke="#111" stroke-width="0.6"/>
<line x1="214.9" y1="213.2" x2="216.3" y2="213.2" stroke="#111" stroke-width="0.6"/>
<line x1="214.9" y1="211.98" x2="216.3" y2="211.98" stroke="#111" stroke-width="0.6"/>
<line x1="214.9" y1="210.94" x2="216.3" y2="210.94" stroke="#111" stroke-width="0.6"/>
<line x1="214.9" y1="210.05" x2="216.3" y2="210.05" stroke="#111" stroke-width="0.6"/>
<line x1="214.9" y1="209.26" x2="216.3" y2="209.26" stroke="#111" stroke-width="0.6"/>
<text x="210.4" y="225.8" font-size="5.2" text-anchor="end" fill="#3a3a3a" font-family="Liberation Sans, sans-serif">10<tspan font-size="3.4" dy="-2.2">6</tspan></text>
<line x1="213.7" y1="208.55" x2="216.3" y2="208.55" stroke="#111" stroke-width="0.9"/>
<text x="210.4" y="210.35" font-size="5.2" text-anchor="end" fill="#3a3a3a" font-family="Liberation Sans, sans-serif">10<tspan font-size="3.4" dy="-2.2">7</tspan></text>
<line x1="213.7" y1="208.55" x2="216.3" y2="208.55" stroke="#111" stroke-width="0.9"/>
<line x1="215.7" y1="285.8" x2="325.2" y2="285.8" stroke="#111" stroke-width="1.3"/>
<line x1="216.9" y1="285.8" x2="216.9" y2="288.2" stroke="#111" stroke-width="0.9"/>
<text x="216.9" y="296.9" font-size="5.4" text-anchor="middle" fill="#3a3a3a">0</text>
<line x1="238.12" y1="285.8" x2="238.12" y2="288.2" stroke="#111" stroke-width="0.9"/>
<text x="238.12" y="296.9" font-size="5.4" text-anchor="middle" fill="#3a3a3a">20</text>
<line x1="259.34" y1="285.8" x2="259.34" y2="288.2" stroke="#111" stroke-width="0.9"/>
<text x="259.34" y="296.9" font-size="5.4" text-anchor="middle" fill="#3a3a3a">40</text>
<line x1="280.56" y1="285.8" x2="280.56" y2="288.2" stroke="#111" stroke-width="0.9"/>
<text x="280.56" y="296.9" font-size="5.4" text-anchor="middle" fill="#3a3a3a">60</text>
<line x1="301.78" y1="285.8" x2="301.78" y2="288.2" stroke="#111" stroke-width="0.9"/>
<text x="301.78" y="296.9" font-size="5.4" text-anchor="middle" fill="#3a3a3a">80</text>
<line x1="323" y1="285.8" x2="323" y2="288.2" stroke="#111" stroke-width="0.9"/>
<text x="323" y="296.9" font-size="5.4" text-anchor="middle" fill="#3a3a3a">100</text>
<circle cx="223.4" cy="250.8" r="1.85" fill="#a8122f"/>
<circle cx="226.2" cy="249.7" r="1.85" fill="#a8122f"/>
<circle cx="227.2" cy="249.9" r="1.85" fill="#a8122f"/>
<circle cx="225.5" cy="236.1" r="1.85" fill="#a8122f"/>
<circle cx="226.2" cy="244.4" r="1.85" fill="#a8122f"/>
<circle cx="228.9" cy="244.4" r="1.85" fill="#a8122f"/>
<circle cx="231.9" cy="246" r="1.85" fill="#a8122f"/>
<circle cx="230.8" cy="254.1" r="1.85" fill="#a8122f"/>
<circle cx="237.2" cy="261.2" r="1.85" fill="#a8122f"/>
<circle cx="240" cy="237" r="1.85" fill="#a8122f"/>
<circle cx="241.6" cy="236.8" r="1.85" fill="#a8122f"/>
<circle cx="243.2" cy="223.6" r="1.85" fill="#a8122f"/>
<circle cx="246.2" cy="225.7" r="1.85" fill="#a8122f"/>
<circle cx="251.3" cy="222" r="1.85" fill="#a8122f"/>
<circle cx="251.5" cy="228.5" r="1.85" fill="#a8122f"/>
<circle cx="256.4" cy="232.2" r="1.85" fill="#a8122f"/>
<circle cx="257.3" cy="255.2" r="1.85" fill="#a8122f"/>
<circle cx="259.8" cy="244.6" r="1.85" fill="#a8122f"/>
<circle cx="262.2" cy="227.8" r="1.85" fill="#a8122f"/>
<circle cx="262.6" cy="229.8" r="1.85" fill="#a8122f"/>
<circle cx="271.8" cy="217.8" r="1.85" fill="#a8122f"/>
<circle cx="276.9" cy="229.4" r="1.85" fill="#a8122f"/>
<circle cx="282.2" cy="219.2" r="1.85" fill="#a8122f"/>
<circle cx="282.2" cy="225.9" r="1.85" fill="#a8122f"/>
<circle cx="294" cy="218.5" r="1.85" fill="#a8122f"/>
<circle cx="302.3" cy="222.2" r="1.85" fill="#a8122f"/>
<circle cx="308.3" cy="218.8" r="1.85" fill="#a8122f"/>
<text x="286.8" y="263" font-size="5.3" fill="#3a3a3a" textLength="26" lengthAdjust="spacingAndGlyphs">r = 0.7365</text>
<text x="286.8" y="270.2" font-size="5.3" fill="#3a3a3a">p &lt;</text>
<text x="298.8" y="270" font-size="5.3" fill="#3a3a3a" textLength="9" lengthAdjust="spacingAndGlyphs">****</text>
<text x="342.3" y="192.2" font-size="12" font-weight="bold" fill="#111" class="pl">E</text>
<line x1="376.6" y1="199.3" x2="376.6" y2="286.7" stroke="#222" stroke-width="1.1"/>
<line x1="374.2" y1="286.1" x2="376.6" y2="286.1" stroke="#222" stroke-width="0.9"/>
<text x="370.6" y="287.6" font-size="5.4" text-anchor="end" fill="#3a3a3a">0</text>
<line x1="374.2" y1="265.2" x2="376.6" y2="265.2" stroke="#222" stroke-width="0.9"/>
<text x="370.6" y="266.7" font-size="5.4" text-anchor="end" fill="#3a3a3a">20</text>
<line x1="374.2" y1="244.3" x2="376.6" y2="244.3" stroke="#222" stroke-width="0.9"/>
<text x="370.6" y="245.8" font-size="5.4" text-anchor="end" fill="#3a3a3a">40</text>
<line x1="374.2" y1="223.4" x2="376.6" y2="223.4" stroke="#222" stroke-width="0.9"/>
<text x="370.6" y="224.9" font-size="5.4" text-anchor="end" fill="#3a3a3a">60</text>
<line x1="374.2" y1="202.5" x2="376.6" y2="202.5" stroke="#222" stroke-width="0.9"/>
<text x="370.6" y="204" font-size="5.4" text-anchor="end" fill="#3a3a3a">80</text>
<line x1="376.1" y1="286.1" x2="492.6" y2="286.1" stroke="#222" stroke-width="1.1"/>
<line x1="393.8" y1="286.1" x2="393.8" y2="288.3" stroke="#222" stroke-width="0.8"/>
<line x1="433.8" y1="286.1" x2="433.8" y2="288.3" stroke="#222" stroke-width="0.8"/>
<line x1="474.2" y1="286.1" x2="474.2" y2="288.3" stroke="#222" stroke-width="0.8"/>
<g transform="translate(385.7 292.8) rotate(-45)">
<text x="0" y="0" font-size="6" text-anchor="end" fill="#3a3a3a" textLength="15" lengthAdjust="spacingAndGlyphs">EBV +</text>
<text x="-0.2" y="6.3" font-size="6" text-anchor="end" fill="#3a3a3a" textLength="30" lengthAdjust="spacingAndGlyphs">α-CD27 blo.</text>
</g>
<g transform="translate(403.1 292.8) rotate(-45)">
<text x="0" y="0" font-size="6" text-anchor="end" fill="#3a3a3a" textLength="15" lengthAdjust="spacingAndGlyphs">EBV +</text>
<text x="0.8" y="6.3" font-size="6" text-anchor="end" fill="#3a3a3a" textLength="30.5" lengthAdjust="spacingAndGlyphs">IsoCtrl. blo.</text>
</g>
<g transform="translate(426.1 292.8) rotate(-45)">
<text x="0" y="0" font-size="6" text-anchor="end" fill="#3a3a3a" textLength="15" lengthAdjust="spacingAndGlyphs">EBV +</text>
<text x="-0.2" y="6.3" font-size="6" text-anchor="end" fill="#3a3a3a" textLength="30" lengthAdjust="spacingAndGlyphs">α-CD27 blo.</text>
</g>
<g transform="translate(442.7 292.8) rotate(-45)">
<text x="0" y="0" font-size="6" text-anchor="end" fill="#3a3a3a" textLength="15" lengthAdjust="spacingAndGlyphs">EBV +</text>
<text x="0.8" y="6.3" font-size="6" text-anchor="end" fill="#3a3a3a" textLength="30.5" lengthAdjust="spacingAndGlyphs">IsoCtrl. blo.</text>
</g>
<g transform="translate(466.3 292.8) rotate(-45)">
<text x="0" y="0" font-size="6" text-anchor="end" fill="#3a3a3a" textLength="15" lengthAdjust="spacingAndGlyphs">EBV +</text>
<text x="-0.2" y="6.3" font-size="6" text-anchor="end" fill="#3a3a3a" textLength="30" lengthAdjust="spacingAndGlyphs">α-CD27 blo.</text>
</g>
<g transform="translate(482.5 292.8) rotate(-45)">
<text x="0" y="0" font-size="6" text-anchor="end" fill="#3a3a3a" textLength="15" lengthAdjust="spacingAndGlyphs">EBV +</text>
<text x="0.8" y="6.3" font-size="6" text-anchor="end" fill="#3a3a3a" textLength="30.5" lengthAdjust="spacingAndGlyphs">IsoCtrl. blo.</text>
</g>
<line x1="367" y1="318.9" x2="390.8" y2="318.9" stroke="#5c5c5c" stroke-width="1.4"/>
<text x="378.9" y="326.9" font-size="5.5" text-anchor="middle" fill="#3a3a3a">Blood</text>
<line x1="407.2" y1="318.9" x2="430.8" y2="318.9" stroke="#5c5c5c" stroke-width="1.4"/>
<text x="419" y="326.9" font-size="5.5" text-anchor="middle" fill="#3a3a3a">Spleen</text>
<line x1="447" y1="318.9" x2="470.8" y2="318.9" stroke="#5c5c5c" stroke-width="1.4"/>
<text x="458.9" y="326.9" font-size="5.5" text-anchor="middle" fill="#3a3a3a">Liver</text>
<line x1="386.2" y1="254" x2="386.2" y2="280" stroke="#222" stroke-width="0.9"/>
<line x1="382.2" y1="260.4" x2="390.2" y2="260.4" stroke="#222" stroke-width="1.1"/>
<circle cx="386.2" cy="243.2" r="2.4" fill="#c8127e"/>
<circle cx="386.2" cy="252.3" r="2.4" fill="#62a8e2"/>
<circle cx="389.8" cy="254.5" r="2.4" fill="#3b4259"/>
<circle cx="383.3" cy="257.9" r="2.4" fill="#62a8e2"/>
<circle cx="386.8" cy="258.3" r="2.4" fill="#c8127e"/>
<circle cx="385.7" cy="261.5" r="2.4" fill="#c8127e"/>
<circle cx="386.2" cy="265.8" r="2.4" fill="#62a8e2"/>
<circle cx="386.2" cy="272.3" r="2.4" fill="#3b4259"/>
<circle cx="384.6" cy="279" r="2.4" fill="#3b4259"/>
<circle cx="387.3" cy="278.7" r="2.4" fill="#c8127e"/>
<circle cx="385.5" cy="283.6" r="2.4" fill="#c8127e"/>
<circle cx="387.3" cy="281.4" r="2.4" fill="#62a8e2"/>
<line x1="401.6" y1="248" x2="401.6" y2="266" stroke="#222" stroke-width="0.9"/>
<line x1="396.6" y1="254.3" x2="406.6" y2="254.3" stroke="#222" stroke-width="1.1"/>
<rect x="397.7" y="235.7" width="4.6" height="4.6" fill="#c8127e"/>
<rect x="397.7" y="245.2" width="4.6" height="4.6" fill="#c8127e"/>
<rect x="399.3" y="234.9" width="4.6" height="4.6" fill="#c8127e"/>
<rect x="399.3" y="245.7" width="4.6" height="4.6" fill="#c8127e"/>
<rect x="399.3" y="238.2" width="4.6" height="4.6" fill="#62a8e2"/>
<rect x="401.1" y="239.2" width="4.6" height="4.6" fill="#62a8e2"/>
<rect x="399.3" y="241.9" width="4.6" height="4.6" fill="#62a8e2"/>
<rect x="401.1" y="242.7" width="4.6" height="4.6" fill="#62a8e2"/>
<rect x="397.6" y="257" width="4.6" height="4.6" fill="#c8127e"/>
<rect x="395.8" y="259.2" width="4.6" height="4.6" fill="#3b4259"/>
<rect x="401.2" y="259.2" width="4.6" height="4.6" fill="#62a8e2"/>
<rect x="398.7" y="259.2" width="4.6" height="4.6" fill="#62a8e2"/>
<rect x="399.6" y="263" width="4.6" height="4.6" fill="#c8127e"/>
<rect x="398.5" y="266.2" width="4.6" height="4.6" fill="#3b4259"/>
<circle cx="426.4" cy="238.1" r="2.4" fill="#c8127e"/>
<circle cx="429.6" cy="246.4" r="2.4" fill="#c8127e"/>
<circle cx="427.8" cy="251.2" r="2.4" fill="#3b4259"/>
<circle cx="424" cy="248.8" r="2.4" fill="#62a8e2"/>
<circle cx="425.4" cy="254.7" r="2.4" fill="#c8127e"/>
<circle cx="424.6" cy="261" r="2.4" fill="#c8127e"/>
<circle cx="429.6" cy="264.4" r="2.4" fill="#c8127e"/>
<circle cx="427.8" cy="258.4" r="2.4" fill="#62a8e2"/>
<circle cx="425.4" cy="267.2" r="2.4" fill="#3b4259"/>
<circle cx="427.8" cy="272.7" r="2.4" fill="#3b4259"/>
<circle cx="425.4" cy="271.3" r="2.4" fill="#62a8e2"/>
<circle cx="426.4" cy="279" r="2.4" fill="#62a8e2"/>
<line x1="422" y1="258.4" x2="431" y2="258.4" stroke="#222" stroke-width="1"/>
<rect x="439.3" y="217.1" width="4.6" height="4.6" fill="#62a8e2"/>
<rect x="439.3" y="222.6" width="4.6" height="4.6" fill="#62a8e2"/>
<rect x="439.3" y="232.3" width="4.6" height="4.6" fill="#62a8e2"/>
<rect x="436.1" y="241.7" width="4.6" height="4.6" fill="#c8127e"/>
<rect x="442.1" y="244.1" width="4.6" height="4.6" fill="#3b4259"/>
<rect x="437.9" y="245.5" width="4.6" height="4.6" fill="#c8127e"/>
<rect x="439.3" y="249.7" width="4.6" height="4.6" fill="#c8127e"/>
<rect x="436.3" y="252.2" width="4.6" height="4.6" fill="#c8127e"/>
<rect x="442.2" y="253.7" width="4.6" height="4.6" fill="#c8127e"/>
<rect x="439.3" y="253.1" width="4.6" height="4.6" fill="#62a8e2"/>
<rect x="437.9" y="257.3" width="4.6" height="4.6" fill="#c8127e"/>
<rect x="441.4" y="262.8" width="4.6" height="4.6" fill="#3b4259"/>
<rect x="439.3" y="262.1" width="4.6" height="4.6" fill="#c8127e"/>
<rect x="437.2" y="265.8" width="4.6" height="4.6" fill="#3b4259"/>
<circle cx="467.4" cy="250.7" r="2.4" fill="#3b4259"/>
<circle cx="465.8" cy="253.6" r="2.4" fill="#c8127e"/>
<circle cx="466.6" cy="262" r="2.4" fill="#62a8e2"/>
<circle cx="468.5" cy="263.6" r="2.4" fill="#c8127e"/>
<circle cx="464.9" cy="265.8" r="2.4" fill="#c8127e"/>
<circle cx="466.9" cy="268.5" r="2.4" fill="#c8127e"/>
<circle cx="469.5" cy="280.6" r="2.4" fill="#3b4259"/>
<circle cx="467.9" cy="273.3" r="2.4" fill="#62a8e2"/>
<circle cx="463.6" cy="277.7" r="2.4" fill="#62a8e2"/>
<circle cx="467.9" cy="276.6" r="2.4" fill="#62a8e2"/>
<circle cx="466" cy="278.5" r="2.4" fill="#62a8e2"/>
<line x1="462" y1="272" x2="471" y2="272" stroke="#222" stroke-width="1"/>
<line x1="481.4" y1="246" x2="481.4" y2="268" stroke="#222" stroke-width="0.9"/>
<line x1="476.9" y1="258.8" x2="485.9" y2="258.8" stroke="#222" stroke-width="1.1"/>
<rect x="479.1" y="236" width="4.6" height="4.6" fill="#c8127e"/>
<rect x="479.6" y="242.5" width="4.6" height="4.6" fill="#c8127e"/>
<rect x="476.9" y="244.7" width="4.6" height="4.6" fill="#3b4259"/>
<rect x="479.1" y="246.7" width="4.6" height="4.6" fill="#62a8e2"/>
<rect x="479.1" y="250.2" width="4.6" height="4.6" fill="#62a8e2"/>
<rect x="481.2" y="253.2" width="4.6" height="4.6" fill="#c8127e"/>
<rect x="479.1" y="254.2" width="4.6" height="4.6" fill="#62a8e2"/>
<rect x="479.1" y="257.7" width="4.6" height="4.6" fill="#62a8e2"/>
<rect x="477.2" y="260.2" width="4.6" height="4.6" fill="#c8127e"/>
<rect x="479.1" y="261.7" width="4.6" height="4.6" fill="#62a8e2"/>
<rect x="479.1" y="265.1" width="4.6" height="4.6" fill="#62a8e2"/>
<rect x="475.9" y="267.3" width="4.6" height="4.6" fill="#62a8e2"/>
<rect x="482.3" y="267.3" width="4.6" height="4.6" fill="#c8127e"/>
<line x1="384.9" y1="225.3" x2="400.8" y2="225.3" stroke="#333" stroke-width="1"/>
<text x="392.85" y="223.7" font-size="5" text-anchor="middle" fill="#333">*</text>
<line x1="466.3" y1="226.7" x2="481.7" y2="226.7" stroke="#333" stroke-width="1"/>
<text x="474" y="225.1" font-size="5" text-anchor="middle" fill="#333">*</text>
<circle cx="472.6" cy="183.8" r="2.2" fill="#c8127e"/>
<rect x="476.3" y="181.9" width="3.8" height="3.8" fill="#c8127e"/>
<text x="483.1" y="185.7" font-size="5.4" fill="#3a3a3a">BMLF1 T</text>
<circle cx="472.6" cy="194.2" r="2.2" fill="#62a8e2"/>
<rect x="476.3" y="192.3" width="3.8" height="3.8" fill="#62a8e2"/>
<text x="483.1" y="196.1" font-size="5.4" fill="#3a3a3a">LMP2 T</text>
<circle cx="472.6" cy="204.6" r="2.2" fill="#3b4259"/>
<rect x="476.3" y="202.7" width="3.8" height="3.8" fill="#3b4259"/>
<text x="483.1" y="206.5" font-size="5.4" fill="#3a3a3a">Non-trans T</text>
<text x="7.5" y="353.8" font-size="12" font-weight="bold" fill="#111" class="pl">F</text>
<text x="38.8" y="366.6" font-size="7.5" fill="#333" textLength="64" lengthAdjust="spacingAndGlyphs">EBV + α-CD27 blo.</text>
<text x="116.3" y="366.6" font-size="7.5" fill="#333" textLength="64.5" lengthAdjust="spacingAndGlyphs">EBV + IsoCtrl. blo.</text>
<g filter="url(#blur2)"><path d="M63.33 387.49C65.16 385.97 67.92 383.92 70.72 382.87C73.52 381.82 77.36 381.43 80.13 381.2C82.89 380.96 85.54 381.01 87.32 381.48C89.09 381.95 90.06 382.23 90.76 383.99C91.46 385.75 91.46 389.1 91.5 392.06C91.54 395.02 91.31 398.93 91.01 401.77C90.72 404.6 90.58 407.23 89.73 409.07C88.88 410.91 87.69 411.79 85.93 412.81C84.17 413.83 81.26 414.16 79.15 415.19C77.03 416.23 74.25 417.39 73.26 419.01C72.27 420.64 72.22 423.2 73.23 424.92C74.23 426.65 76.9 428.45 79.28 429.37C81.66 430.28 85.28 429.93 87.49 430.43C89.7 430.93 91.38 431.07 92.55 432.38C93.72 433.69 94.27 435.92 94.52 438.29C94.77 440.65 94.46 444.33 94.05 446.55C93.64 448.78 93.5 450.28 92.06 451.62C90.61 452.96 87.91 453.81 85.39 454.6C82.87 455.38 78.88 455.33 76.94 456.3C75.01 457.27 75.32 459.3 73.76 460.43C72.21 461.55 70.17 462.61 67.6 463.04C65.03 463.47 61.08 463.47 58.36 463.03C55.63 462.6 52.99 461.72 51.24 460.43C49.5 459.15 48.59 457.73 47.88 455.33C47.18 452.92 46.99 449.45 47 445.98C47.01 442.52 47.15 437.68 47.93 434.54C48.7 431.4 50.25 429.26 51.65 427.13C53.06 424.99 55.56 423.91 56.37 421.72C57.17 419.52 56.56 416.55 56.5 413.94C56.44 411.33 55.93 408.63 56 406.06C56.07 403.49 56.31 400.86 56.93 398.52C57.55 396.18 58.65 393.87 59.72 392.03C60.78 390.19 61.5 389.02 63.33 387.49Z" fill="#ebebee" stroke="#c0c0c6" stroke-width="4.6" stroke-linejoin="round"/></g>
<path d="M63.4 403.7h1.3v1.3h-1.3zM73.3 408.2h1.3v1.3h-1.3zM66.5 409.8h1.3v1.3h-1.3zM72.1 407.3h1.3v1.3h-1.3zM62.9 404.7h1.3v1.3h-1.3z" fill="#4b1a5f"/>
<path d="M68.2 429.7h1.3v1.3h-1.3zM65.9 437.5h1.3v1.3h-1.3zM67.5 441.2h1.3v1.3h-1.3zM59.0 442.9h1.3v1.3h-1.3zM57.1 439.6h1.3v1.3h-1.3zM53.1 446.4h1.3v1.3h-1.3zM68.2 439.9h1.3v1.3h-1.3zM62.5 444.0h1.3v1.3h-1.3zM57.2 446.0h1.3v1.3h-1.3zM61.7 429.2h1.3v1.3h-1.3zM49.5 433.9h1.3v1.3h-1.3zM56.3 435.7h1.3v1.3h-1.3zM49.3 430.3h1.3v1.3h-1.3zM51.6 438.5h1.3v1.3h-1.3zM70.3 433.7h1.3v1.3h-1.3zM66.3 432.3h1.3v1.3h-1.3zM66.9 426.7h1.3v1.3h-1.3zM49.6 435.1h1.3v1.3h-1.3zM67.7 438.2h1.3v1.3h-1.3zM70.0 442.3h1.3v1.3h-1.3zM50.2 436.6h1.3v1.3h-1.3zM56.2 437.4h1.3v1.3h-1.3zM60.5 439.3h1.3v1.3h-1.3zM55.2 426.6h1.3v1.3h-1.3zM68.6 446.5h1.3v1.3h-1.3zM54.9 426.7h1.3v1.3h-1.3zM54.6 445.5h1.3v1.3h-1.3zM59.0 440.5h1.3v1.3h-1.3zM58.7 443.9h1.3v1.3h-1.3zM68.2 429.9h1.3v1.3h-1.3zM59.6 432.4h1.3v1.3h-1.3zM53.5 435.5h1.3v1.3h-1.3zM68.7 431.6h1.3v1.3h-1.3zM66.3 431.6h1.3v1.3h-1.3zM55.0 428.7h1.3v1.3h-1.3zM54.4 432.0h1.3v1.3h-1.3zM51.3 449.3h1.3v1.3h-1.3zM70.8 440.8h1.3v1.3h-1.3zM65.3 431.5h1.3v1.3h-1.3zM60.1 448.9h1.3v1.3h-1.3zM68.1 428.7h1.3v1.3h-1.3zM68.6 439.4h1.3v1.3h-1.3zM49.0 434.7h1.3v1.3h-1.3zM55.9 434.7h1.3v1.3h-1.3zM65.5 429.2h1.3v1.3h-1.3zM55.8 438.1h1.3v1.3h-1.3zM60.1 433.5h1.3v1.3h-1.3zM62.6 444.8h1.3v1.3h-1.3zM70.5 440.9h1.3v1.3h-1.3zM69.6 444.9h1.3v1.3h-1.3zM60.6 440.6h1.3v1.3h-1.3zM55.3 446.3h1.3v1.3h-1.3zM61.5 430.2h1.3v1.3h-1.3zM57.1 445.3h1.3v1.3h-1.3zM53.0 445.4h1.3v1.3h-1.3zM64.1 438.2h1.3v1.3h-1.3zM64.9 429.4h1.3v1.3h-1.3zM57.0 428.5h1.3v1.3h-1.3zM66.6 435.7h1.3v1.3h-1.3zM61.2 449.5h1.3v1.3h-1.3zM66.0 436.5h1.3v1.3h-1.3zM67.0 434.4h1.3v1.3h-1.3zM68.8 445.4h1.3v1.3h-1.3zM67.9 446.8h1.3v1.3h-1.3zM50.5 445.4h1.3v1.3h-1.3zM66.5 443.8h1.3v1.3h-1.3zM60.9 425.8h1.3v1.3h-1.3zM53.9 432.6h1.3v1.3h-1.3zM57.7 434.2h1.3v1.3h-1.3zM54.2 441.3h1.3v1.3h-1.3zM59.3 448.3h1.3v1.3h-1.3zM67.3 426.9h1.3v1.3h-1.3zM53.7 433.2h1.3v1.3h-1.3zM57.5 444.8h1.3v1.3h-1.3zM68.3 441.0h1.3v1.3h-1.3zM70.6 442.7h1.3v1.3h-1.3z" fill="#27447f"/>
<path d="M75.3 387.6h1.3v1.3h-1.3zM79.3 386.3h1.3v1.3h-1.3zM85.0 388.6h1.3v1.3h-1.3zM73.4 389.9h1.3v1.3h-1.3zM81.6 387.8h1.3v1.3h-1.3zM85.9 388.3h1.3v1.3h-1.3zM81.2 388.3h1.3v1.3h-1.3zM74.7 389.0h1.3v1.3h-1.3zM86.8 388.6h1.3v1.3h-1.3zM78.7 387.7h1.3v1.3h-1.3zM77.6 387.0h1.3v1.3h-1.3zM80.9 389.4h1.3v1.3h-1.3zM78.3 386.5h1.3v1.3h-1.3zM83.4 387.2h1.3v1.3h-1.3zM78.6 389.9h1.3v1.3h-1.3z" fill="#4b1a5f"/>
<path d="M62.9 424.8h1.3v1.3h-1.3z" fill="#e19ac4"/>
<path d="M76.7 406.0h1.3v1.3h-1.3zM69.6 401.3h1.3v1.3h-1.3zM63.9 406.5h1.3v1.3h-1.3zM65.3 406.9h1.3v1.3h-1.3zM71.5 409.3h1.3v1.3h-1.3zM67.2 408.5h1.3v1.3h-1.3zM63.7 405.6h1.3v1.3h-1.3zM63.8 405.9h1.3v1.3h-1.3zM69.5 401.1h1.3v1.3h-1.3zM67.6 407.4h1.3v1.3h-1.3zM71.3 403.0h1.3v1.3h-1.3zM71.6 410.5h1.3v1.3h-1.3zM74.9 411.0h1.3v1.3h-1.3zM67.7 408.1h1.3v1.3h-1.3zM76.0 408.0h1.3v1.3h-1.3zM76.6 407.7h1.3v1.3h-1.3zM70.4 404.7h1.3v1.3h-1.3zM69.0 410.0h1.3v1.3h-1.3zM68.5 410.9h1.3v1.3h-1.3zM71.6 404.5h1.3v1.3h-1.3zM71.3 399.0h1.3v1.3h-1.3zM62.9 405.4h1.3v1.3h-1.3zM74.2 402.7h1.3v1.3h-1.3zM77.7 405.5h1.3v1.3h-1.3zM68.5 402.3h1.3v1.3h-1.3zM69.4 410.7h1.3v1.3h-1.3zM69.8 407.4h1.3v1.3h-1.3zM74.4 407.2h1.3v1.3h-1.3zM68.5 412.1h1.3v1.3h-1.3zM68.7 398.4h1.3v1.3h-1.3zM76.1 403.1h1.3v1.3h-1.3zM72.4 402.2h1.3v1.3h-1.3zM65.5 401.7h1.3v1.3h-1.3zM76.8 405.3h1.3v1.3h-1.3zM63.7 412.4h1.3v1.3h-1.3zM70.5 410.7h1.3v1.3h-1.3zM74.1 405.7h1.3v1.3h-1.3z" fill="#66ade6"/>
<path d="M68.8 411.2h1.3v1.3h-1.3zM65.3 410.9h1.3v1.3h-1.3zM66.8 402.5h1.3v1.3h-1.3zM72.4 406.9h1.3v1.3h-1.3z" fill="#4b1a5f"/>
<path d="M87.0 395.1h1.3v1.3h-1.3zM87.0 397.8h1.3v1.3h-1.3zM87.1 393.2h1.3v1.3h-1.3z" fill="#66ade6"/>
<path d="M84.6 392.9h1.3v1.3h-1.3zM82.3 397.8h1.3v1.3h-1.3zM80.4 394.7h1.3v1.3h-1.3zM79.3 398.2h1.3v1.3h-1.3z" fill="#66ade6"/>
<path d="M87.8 402.7h1.3v1.3h-1.3zM81.6 404.0h1.3v1.3h-1.3zM84.1 403.6h1.3v1.3h-1.3zM83.3 408.7h1.3v1.3h-1.3zM84.0 409.2h1.3v1.3h-1.3zM81.5 405.5h1.3v1.3h-1.3zM85.9 404.9h1.3v1.3h-1.3zM86.0 408.2h1.3v1.3h-1.3zM87.3 402.5h1.3v1.3h-1.3zM82.2 404.8h1.3v1.3h-1.3zM84.9 405.0h1.3v1.3h-1.3zM86.3 400.7h1.3v1.3h-1.3zM86.0 409.0h1.3v1.3h-1.3zM85.9 403.5h1.3v1.3h-1.3zM83.9 409.7h1.3v1.3h-1.3zM82.2 402.2h1.3v1.3h-1.3zM81.5 401.2h1.3v1.3h-1.3zM82.1 401.5h1.3v1.3h-1.3zM85.4 408.4h1.3v1.3h-1.3zM82.4 408.7h1.3v1.3h-1.3z" fill="#9485c6"/>
<path d="M52.6 434.8h1.3v1.3h-1.3zM53.9 434.7h1.3v1.3h-1.3zM64.6 438.1h1.3v1.3h-1.3zM63.0 439.0h1.3v1.3h-1.3zM52.1 431.3h1.3v1.3h-1.3zM53.6 433.1h1.3v1.3h-1.3zM58.5 429.0h1.3v1.3h-1.3zM58.3 438.3h1.3v1.3h-1.3zM56.3 431.1h1.3v1.3h-1.3zM62.5 435.4h1.3v1.3h-1.3zM63.5 439.7h1.3v1.3h-1.3zM51.7 439.4h1.3v1.3h-1.3zM55.1 429.0h1.3v1.3h-1.3zM61.4 438.9h1.3v1.3h-1.3zM64.5 434.8h1.3v1.3h-1.3zM63.8 429.9h1.3v1.3h-1.3zM54.3 435.6h1.3v1.3h-1.3zM58.6 440.1h1.3v1.3h-1.3zM53.6 434.6h1.3v1.3h-1.3zM56.1 434.0h1.3v1.3h-1.3zM63.9 429.4h1.3v1.3h-1.3zM61.4 432.6h1.3v1.3h-1.3zM62.0 435.0h1.3v1.3h-1.3zM62.1 433.0h1.3v1.3h-1.3zM63.3 430.5h1.3v1.3h-1.3zM52.6 438.6h1.3v1.3h-1.3z" fill="#27447f"/>
<path d="M52.8 447.7h1.3v1.3h-1.3zM48.8 434.5h1.3v1.3h-1.3zM51.4 445.6h1.3v1.3h-1.3zM53.6 447.3h1.3v1.3h-1.3zM48.4 441.3h1.3v1.3h-1.3zM68.4 437.1h1.3v1.3h-1.3zM52.7 449.4h1.3v1.3h-1.3zM52.2 435.7h1.3v1.3h-1.3zM58.4 438.1h1.3v1.3h-1.3zM53.6 433.6h1.3v1.3h-1.3zM66.0 438.6h1.3v1.3h-1.3zM50.0 446.0h1.3v1.3h-1.3zM62.7 431.8h1.3v1.3h-1.3zM47.9 437.6h1.3v1.3h-1.3zM54.9 444.1h1.3v1.3h-1.3zM51.5 444.1h1.3v1.3h-1.3zM69.5 443.4h1.3v1.3h-1.3zM65.0 443.4h1.3v1.3h-1.3zM58.6 434.9h1.3v1.3h-1.3zM58.2 438.8h1.3v1.3h-1.3zM54.1 439.5h1.3v1.3h-1.3zM72.4 442.9h1.3v1.3h-1.3zM50.6 441.1h1.3v1.3h-1.3zM50.4 446.0h1.3v1.3h-1.3zM68.2 446.8h1.3v1.3h-1.3zM66.4 440.8h1.3v1.3h-1.3zM66.4 441.6h1.3v1.3h-1.3zM68.0 433.6h1.3v1.3h-1.3zM72.6 433.4h1.3v1.3h-1.3zM65.0 439.0h1.3v1.3h-1.3zM60.1 439.2h1.3v1.3h-1.3zM54.7 435.9h1.3v1.3h-1.3zM63.2 442.7h1.3v1.3h-1.3zM72.6 442.9h1.3v1.3h-1.3zM65.0 438.8h1.3v1.3h-1.3zM62.0 443.3h1.3v1.3h-1.3zM49.1 437.6h1.3v1.3h-1.3zM54.7 439.8h1.3v1.3h-1.3zM56.4 449.2h1.3v1.3h-1.3zM60.9 445.6h1.3v1.3h-1.3zM57.2 450.2h1.3v1.3h-1.3zM71.8 440.2h1.3v1.3h-1.3zM62.0 435.8h1.3v1.3h-1.3zM63.8 446.9h1.3v1.3h-1.3zM59.7 426.8h1.3v1.3h-1.3zM54.9 429.5h1.3v1.3h-1.3zM67.4 440.8h1.3v1.3h-1.3zM54.1 440.1h1.3v1.3h-1.3zM60.5 446.1h1.3v1.3h-1.3zM63.6 428.2h1.3v1.3h-1.3zM58.5 431.2h1.3v1.3h-1.3zM51.3 436.8h1.3v1.3h-1.3zM54.8 432.1h1.3v1.3h-1.3zM48.8 441.1h1.3v1.3h-1.3zM64.0 433.7h1.3v1.3h-1.3zM71.4 437.7h1.3v1.3h-1.3zM60.7 437.3h1.3v1.3h-1.3zM50.8 434.5h1.3v1.3h-1.3zM51.2 441.3h1.3v1.3h-1.3zM50.3 437.4h1.3v1.3h-1.3zM63.7 436.6h1.3v1.3h-1.3zM67.2 427.7h1.3v1.3h-1.3zM48.4 440.7h1.3v1.3h-1.3zM69.2 428.0h1.3v1.3h-1.3zM69.2 444.4h1.3v1.3h-1.3zM58.4 444.2h1.3v1.3h-1.3zM52.2 431.4h1.3v1.3h-1.3zM66.5 444.2h1.3v1.3h-1.3zM50.2 440.9h1.3v1.3h-1.3zM49.7 444.0h1.3v1.3h-1.3zM64.8 445.9h1.3v1.3h-1.3zM57.9 443.5h1.3v1.3h-1.3zM67.9 427.4h1.3v1.3h-1.3zM54.3 440.5h1.3v1.3h-1.3zM55.8 438.6h1.3v1.3h-1.3zM62.1 441.9h1.3v1.3h-1.3zM72.4 443.1h1.3v1.3h-1.3z" fill="#27447f"/>
<path d="M64.7 406.1h1.3v1.3h-1.3zM59.2 407.3h1.3v1.3h-1.3zM61.1 399.4h1.3v1.3h-1.3zM66.0 395.2h1.3v1.3h-1.3zM62.0 400.3h1.3v1.3h-1.3zM61.2 403.6h1.3v1.3h-1.3zM60.5 399.2h1.3v1.3h-1.3zM64.5 401.5h1.3v1.3h-1.3zM65.3 399.9h1.3v1.3h-1.3zM65.5 406.1h1.3v1.3h-1.3zM67.1 393.8h1.3v1.3h-1.3zM68.1 393.1h1.3v1.3h-1.3zM67.2 399.5h1.3v1.3h-1.3zM59.1 400.9h1.3v1.3h-1.3zM67.1 401.5h1.3v1.3h-1.3zM63.4 405.9h1.3v1.3h-1.3zM61.4 398.3h1.3v1.3h-1.3zM64.5 397.8h1.3v1.3h-1.3zM67.4 394.4h1.3v1.3h-1.3zM62.0 406.9h1.3v1.3h-1.3zM62.1 401.5h1.3v1.3h-1.3zM62.6 400.4h1.3v1.3h-1.3zM66.5 394.6h1.3v1.3h-1.3zM61.4 404.2h1.3v1.3h-1.3zM64.2 409.8h1.3v1.3h-1.3zM61.2 397.7h1.3v1.3h-1.3zM60.2 403.3h1.3v1.3h-1.3zM68.0 394.6h1.3v1.3h-1.3zM65.1 406.8h1.3v1.3h-1.3zM68.3 391.8h1.3v1.3h-1.3zM62.5 408.4h1.3v1.3h-1.3zM62.6 402.2h1.3v1.3h-1.3zM61.2 411.7h1.3v1.3h-1.3zM58.3 398.7h1.3v1.3h-1.3zM66.7 400.9h1.3v1.3h-1.3zM60.3 405.0h1.3v1.3h-1.3zM60.1 399.8h1.3v1.3h-1.3zM60.6 406.1h1.3v1.3h-1.3zM62.5 406.0h1.3v1.3h-1.3zM69.1 391.9h1.3v1.3h-1.3z" fill="#4b1a5f"/>
<path d="M79.0 445.0h1.3v1.3h-1.3zM69.6 446.7h1.3v1.3h-1.3zM77.4 437.7h1.3v1.3h-1.3zM84.4 445.0h1.3v1.3h-1.3zM77.5 445.1h1.3v1.3h-1.3zM85.6 440.2h1.3v1.3h-1.3zM75.1 448.3h1.3v1.3h-1.3zM91.0 448.4h1.3v1.3h-1.3zM87.6 447.0h1.3v1.3h-1.3zM89.6 436.6h1.3v1.3h-1.3zM76.1 435.3h1.3v1.3h-1.3zM89.9 439.5h1.3v1.3h-1.3zM78.8 443.5h1.3v1.3h-1.3zM81.2 442.9h1.3v1.3h-1.3zM89.7 440.8h1.3v1.3h-1.3zM84.0 445.2h1.3v1.3h-1.3zM70.5 443.1h1.3v1.3h-1.3zM78.2 441.6h1.3v1.3h-1.3zM85.1 449.6h1.3v1.3h-1.3zM78.7 438.7h1.3v1.3h-1.3zM68.9 445.4h1.3v1.3h-1.3zM87.3 439.8h1.3v1.3h-1.3zM74.0 438.2h1.3v1.3h-1.3zM84.0 448.8h1.3v1.3h-1.3zM80.1 438.0h1.3v1.3h-1.3zM89.9 443.6h1.3v1.3h-1.3zM74.6 442.8h1.3v1.3h-1.3zM71.1 448.0h1.3v1.3h-1.3zM89.8 441.9h1.3v1.3h-1.3zM86.3 446.4h1.3v1.3h-1.3zM70.6 443.8h1.3v1.3h-1.3zM87.2 449.4h1.3v1.3h-1.3zM83.9 440.3h1.3v1.3h-1.3zM87.2 446.0h1.3v1.3h-1.3zM86.3 442.6h1.3v1.3h-1.3zM68.5 442.8h1.3v1.3h-1.3zM78.4 435.4h1.3v1.3h-1.3zM89.5 441.6h1.3v1.3h-1.3zM88.7 445.8h1.3v1.3h-1.3zM85.9 443.7h1.3v1.3h-1.3zM81.5 448.4h1.3v1.3h-1.3zM70.9 443.3h1.3v1.3h-1.3zM75.0 436.6h1.3v1.3h-1.3zM87.5 435.5h1.3v1.3h-1.3zM89.5 436.9h1.3v1.3h-1.3zM75.4 446.7h1.3v1.3h-1.3zM75.3 443.5h1.3v1.3h-1.3zM89.5 448.3h1.3v1.3h-1.3zM70.0 441.0h1.3v1.3h-1.3zM90.4 444.2h1.3v1.3h-1.3z" fill="#2f5e46"/>
<path d="M64.2 423.9h1.3v1.3h-1.3zM66.0 423.9h1.3v1.3h-1.3zM64.5 426.7h1.3v1.3h-1.3zM63.7 419.7h1.3v1.3h-1.3z" fill="#27447f"/>
<path d="M76.8 389.0h1.3v1.3h-1.3zM82.6 388.8h1.3v1.3h-1.3zM76.2 391.6h1.3v1.3h-1.3zM81.2 388.4h1.3v1.3h-1.3zM81.1 391.6h1.3v1.3h-1.3zM85.9 396.5h1.3v1.3h-1.3zM72.4 393.5h1.3v1.3h-1.3z" fill="#4b1a5f"/>
<path d="M81.9 437.5h1.3v1.3h-1.3zM74.6 445.4h1.3v1.3h-1.3zM75.5 444.5h1.3v1.3h-1.3zM70.1 447.5h1.3v1.3h-1.3zM76.8 441.1h1.3v1.3h-1.3zM71.1 445.3h1.3v1.3h-1.3zM79.8 448.4h1.3v1.3h-1.3zM68.1 439.9h1.3v1.3h-1.3zM85.0 446.7h1.3v1.3h-1.3zM89.7 441.5h1.3v1.3h-1.3zM81.1 445.4h1.3v1.3h-1.3zM73.6 437.6h1.3v1.3h-1.3zM83.2 448.1h1.3v1.3h-1.3zM74.2 444.9h1.3v1.3h-1.3zM74.6 445.2h1.3v1.3h-1.3zM76.6 441.5h1.3v1.3h-1.3zM83.9 443.1h1.3v1.3h-1.3zM85.7 438.2h1.3v1.3h-1.3zM84.0 438.7h1.3v1.3h-1.3zM68.8 440.9h1.3v1.3h-1.3zM86.0 448.1h1.3v1.3h-1.3zM84.6 450.0h1.3v1.3h-1.3zM85.2 441.0h1.3v1.3h-1.3zM85.6 443.7h1.3v1.3h-1.3zM85.2 449.0h1.3v1.3h-1.3zM75.7 449.2h1.3v1.3h-1.3zM82.6 445.8h1.3v1.3h-1.3zM77.1 443.3h1.3v1.3h-1.3zM90.7 439.7h1.3v1.3h-1.3zM90.5 448.5h1.3v1.3h-1.3zM73.0 442.8h1.3v1.3h-1.3zM84.4 440.3h1.3v1.3h-1.3zM84.1 435.8h1.3v1.3h-1.3zM72.0 445.4h1.3v1.3h-1.3zM74.5 440.7h1.3v1.3h-1.3zM77.9 448.1h1.3v1.3h-1.3zM83.0 444.3h1.3v1.3h-1.3zM69.8 443.0h1.3v1.3h-1.3zM87.0 448.2h1.3v1.3h-1.3zM85.8 446.6h1.3v1.3h-1.3zM81.4 438.9h1.3v1.3h-1.3zM85.6 435.7h1.3v1.3h-1.3zM71.0 442.3h1.3v1.3h-1.3zM87.2 437.1h1.3v1.3h-1.3zM71.2 438.0h1.3v1.3h-1.3zM73.5 448.2h1.3v1.3h-1.3zM89.5 445.5h1.3v1.3h-1.3zM70.1 441.3h1.3v1.3h-1.3zM90.5 437.7h1.3v1.3h-1.3zM82.2 440.8h1.3v1.3h-1.3z" fill="#2f5e46"/>
<path d="M64.3 419.0h1.3v1.3h-1.3zM65.2 426.4h1.3v1.3h-1.3zM65.6 418.5h1.3v1.3h-1.3z" fill="#27447f"/>
<path d="M65.3 447.8h1.3v1.3h-1.3zM66.2 452.7h1.3v1.3h-1.3zM60.5 446.1h1.3v1.3h-1.3zM65.4 454.2h1.3v1.3h-1.3zM65.7 454.3h1.3v1.3h-1.3zM64.0 450.9h1.3v1.3h-1.3zM63.2 443.6h1.3v1.3h-1.3zM67.5 446.8h1.3v1.3h-1.3zM64.8 444.5h1.3v1.3h-1.3zM66.2 447.2h1.3v1.3h-1.3zM68.1 446.8h1.3v1.3h-1.3zM67.2 444.8h1.3v1.3h-1.3zM60.1 447.5h1.3v1.3h-1.3zM65.9 445.6h1.3v1.3h-1.3zM64.4 445.3h1.3v1.3h-1.3zM66.9 453.4h1.3v1.3h-1.3zM64.8 444.6h1.3v1.3h-1.3zM70.5 446.7h1.3v1.3h-1.3zM60.7 447.1h1.3v1.3h-1.3zM65.5 450.2h1.3v1.3h-1.3z" fill="#5da83a"/>
<path d="M87.4 400.6h1.3v1.3h-1.3zM83.9 408.8h1.3v1.3h-1.3zM86.9 403.6h1.3v1.3h-1.3zM87.3 404.0h1.3v1.3h-1.3zM85.2 407.8h1.3v1.3h-1.3zM87.4 404.3h1.3v1.3h-1.3zM82.4 406.3h1.3v1.3h-1.3zM81.4 405.6h1.3v1.3h-1.3zM82.2 404.0h1.3v1.3h-1.3zM87.3 402.9h1.3v1.3h-1.3zM83.2 401.5h1.3v1.3h-1.3zM86.8 405.1h1.3v1.3h-1.3zM83.5 403.6h1.3v1.3h-1.3zM82.7 408.6h1.3v1.3h-1.3zM87.5 405.2h1.3v1.3h-1.3zM83.1 409.2h1.3v1.3h-1.3zM81.6 407.4h1.3v1.3h-1.3zM85.4 402.7h1.3v1.3h-1.3zM86.3 402.6h1.3v1.3h-1.3zM84.6 403.2h1.3v1.3h-1.3z" fill="#9485c6"/>
<path d="M67.1 418.6h1.3v1.3h-1.3zM64.8 420.7h1.3v1.3h-1.3zM60.2 422.6h1.3v1.3h-1.3zM62.5 419.5h1.3v1.3h-1.3zM61.4 418.0h1.3v1.3h-1.3zM64.3 424.3h1.3v1.3h-1.3z" fill="#66ade6"/>
<path d="M65.3 423.9h1.3v1.3h-1.3zM61.7 416.7h1.3v1.3h-1.3zM66.0 414.9h1.3v1.3h-1.3z" fill="#4b1a5f"/>
<path d="M86.3 396.5h1.3v1.3h-1.3zM84.7 391.0h1.3v1.3h-1.3zM79.2 390.1h1.3v1.3h-1.3zM72.5 400.0h1.3v1.3h-1.3zM69.6 391.6h1.3v1.3h-1.3zM72.3 393.5h1.3v1.3h-1.3zM87.2 388.2h1.3v1.3h-1.3zM81.9 387.6h1.3v1.3h-1.3zM76.3 388.4h1.3v1.3h-1.3zM86.5 394.9h1.3v1.3h-1.3zM87.8 393.7h1.3v1.3h-1.3zM75.0 401.0h1.3v1.3h-1.3zM82.7 391.1h1.3v1.3h-1.3zM74.1 398.3h1.3v1.3h-1.3zM87.0 393.6h1.3v1.3h-1.3zM80.9 389.6h1.3v1.3h-1.3zM81.8 393.5h1.3v1.3h-1.3zM73.8 394.8h1.3v1.3h-1.3zM83.3 398.4h1.3v1.3h-1.3zM82.3 399.7h1.3v1.3h-1.3zM73.9 402.3h1.3v1.3h-1.3zM73.9 401.5h1.3v1.3h-1.3zM80.8 398.7h1.3v1.3h-1.3zM80.1 396.0h1.3v1.3h-1.3zM73.1 394.2h1.3v1.3h-1.3zM80.2 404.6h1.3v1.3h-1.3zM86.1 394.5h1.3v1.3h-1.3zM86.8 396.2h1.3v1.3h-1.3zM86.0 395.1h1.3v1.3h-1.3zM73.0 399.7h1.3v1.3h-1.3zM88.0 388.0h1.3v1.3h-1.3zM78.4 403.6h1.3v1.3h-1.3zM85.5 389.3h1.3v1.3h-1.3zM72.4 392.6h1.3v1.3h-1.3zM72.5 391.7h1.3v1.3h-1.3zM75.7 398.8h1.3v1.3h-1.3zM73.7 404.1h1.3v1.3h-1.3zM82.4 400.4h1.3v1.3h-1.3zM80.7 393.8h1.3v1.3h-1.3zM77.1 390.1h1.3v1.3h-1.3zM80.3 398.2h1.3v1.3h-1.3zM70.4 389.5h1.3v1.3h-1.3zM85.9 395.0h1.3v1.3h-1.3zM70.8 392.8h1.3v1.3h-1.3zM75.7 404.5h1.3v1.3h-1.3zM87.5 398.6h1.3v1.3h-1.3zM86.2 397.0h1.3v1.3h-1.3zM69.5 391.6h1.3v1.3h-1.3zM70.3 401.5h1.3v1.3h-1.3zM72.9 397.6h1.3v1.3h-1.3zM82.3 388.7h1.3v1.3h-1.3zM78.6 397.2h1.3v1.3h-1.3zM79.0 396.8h1.3v1.3h-1.3zM81.3 389.0h1.3v1.3h-1.3zM89.1 394.8h1.3v1.3h-1.3zM71.0 399.3h1.3v1.3h-1.3zM81.7 400.3h1.3v1.3h-1.3zM82.2 394.3h1.3v1.3h-1.3zM68.0 393.4h1.3v1.3h-1.3zM86.2 389.1h1.3v1.3h-1.3zM79.0 401.6h1.3v1.3h-1.3zM79.3 401.5h1.3v1.3h-1.3zM75.4 400.2h1.3v1.3h-1.3zM76.0 391.2h1.3v1.3h-1.3zM84.1 389.4h1.3v1.3h-1.3zM86.0 396.5h1.3v1.3h-1.3zM77.1 398.3h1.3v1.3h-1.3zM84.1 391.2h1.3v1.3h-1.3zM78.5 395.3h1.3v1.3h-1.3zM73.2 395.2h1.3v1.3h-1.3zM68.6 396.2h1.3v1.3h-1.3zM70.8 390.6h1.3v1.3h-1.3zM79.8 396.0h1.3v1.3h-1.3zM84.7 401.3h1.3v1.3h-1.3zM69.5 398.8h1.3v1.3h-1.3zM83.3 392.0h1.3v1.3h-1.3zM83.7 403.6h1.3v1.3h-1.3zM82.2 388.0h1.3v1.3h-1.3zM81.1 395.4h1.3v1.3h-1.3zM76.7 395.3h1.3v1.3h-1.3zM76.2 399.5h1.3v1.3h-1.3zM75.6 392.0h1.3v1.3h-1.3zM77.0 402.0h1.3v1.3h-1.3zM84.8 394.5h1.3v1.3h-1.3zM76.9 395.1h1.3v1.3h-1.3zM76.7 401.1h1.3v1.3h-1.3zM70.1 391.3h1.3v1.3h-1.3zM77.0 390.4h1.3v1.3h-1.3zM75.9 392.9h1.3v1.3h-1.3zM80.9 392.7h1.3v1.3h-1.3zM74.6 395.2h1.3v1.3h-1.3zM83.0 392.7h1.3v1.3h-1.3zM85.9 392.4h1.3v1.3h-1.3zM73.1 401.2h1.3v1.3h-1.3zM75.8 403.7h1.3v1.3h-1.3zM80.7 391.4h1.3v1.3h-1.3zM77.0 390.7h1.3v1.3h-1.3zM70.7 395.2h1.3v1.3h-1.3zM74.6 388.8h1.3v1.3h-1.3zM88.6 394.3h1.3v1.3h-1.3zM72.0 401.2h1.3v1.3h-1.3zM72.4 401.9h1.3v1.3h-1.3zM82.7 395.5h1.3v1.3h-1.3zM83.2 388.9h1.3v1.3h-1.3zM86.4 389.3h1.3v1.3h-1.3zM77.3 402.9h1.3v1.3h-1.3zM75.1 390.9h1.3v1.3h-1.3zM69.1 398.2h1.3v1.3h-1.3zM77.2 402.1h1.3v1.3h-1.3zM88.5 392.6h1.3v1.3h-1.3zM75.3 397.4h1.3v1.3h-1.3zM82.8 395.0h1.3v1.3h-1.3zM75.4 401.8h1.3v1.3h-1.3zM83.4 389.0h1.3v1.3h-1.3zM76.8 393.0h1.3v1.3h-1.3zM82.7 391.7h1.3v1.3h-1.3zM78.1 396.4h1.3v1.3h-1.3zM80.9 391.6h1.3v1.3h-1.3zM86.4 399.0h1.3v1.3h-1.3zM84.2 401.5h1.3v1.3h-1.3zM80.4 395.3h1.3v1.3h-1.3zM77.2 400.7h1.3v1.3h-1.3zM89.1 395.8h1.3v1.3h-1.3zM69.7 397.7h1.3v1.3h-1.3zM73.1 388.9h1.3v1.3h-1.3zM74.5 401.4h1.3v1.3h-1.3zM74.8 395.9h1.3v1.3h-1.3zM85.0 398.5h1.3v1.3h-1.3zM70.7 389.4h1.3v1.3h-1.3zM75.8 399.9h1.3v1.3h-1.3zM77.2 404.0h1.3v1.3h-1.3zM69.0 389.2h1.3v1.3h-1.3zM77.3 395.8h1.3v1.3h-1.3zM71.3 395.6h1.3v1.3h-1.3zM81.2 396.9h1.3v1.3h-1.3zM72.3 402.1h1.3v1.3h-1.3zM81.5 393.5h1.3v1.3h-1.3zM78.7 388.0h1.3v1.3h-1.3zM73.9 389.7h1.3v1.3h-1.3zM88.1 399.6h1.3v1.3h-1.3zM83.9 403.5h1.3v1.3h-1.3zM86.2 395.1h1.3v1.3h-1.3zM88.1 399.8h1.3v1.3h-1.3z" fill="#e19ac4"/>
<path d="M70.3 445.9h1.3v1.3h-1.3zM66.4 430.4h1.3v1.3h-1.3zM51.9 437.7h1.3v1.3h-1.3zM55.9 435.9h1.3v1.3h-1.3zM60.3 445.4h1.3v1.3h-1.3zM55.3 432.2h1.3v1.3h-1.3zM61.1 432.5h1.3v1.3h-1.3zM55.7 432.4h1.3v1.3h-1.3zM68.1 431.0h1.3v1.3h-1.3zM51.9 449.7h1.3v1.3h-1.3zM55.0 439.8h1.3v1.3h-1.3zM57.5 443.2h1.3v1.3h-1.3zM61.9 444.7h1.3v1.3h-1.3zM50.3 438.4h1.3v1.3h-1.3zM59.7 447.6h1.3v1.3h-1.3zM65.6 440.8h1.3v1.3h-1.3zM52.2 449.5h1.3v1.3h-1.3zM52.8 430.2h1.3v1.3h-1.3zM69.2 440.7h1.3v1.3h-1.3zM59.6 442.1h1.3v1.3h-1.3zM59.5 428.4h1.3v1.3h-1.3zM66.6 440.4h1.3v1.3h-1.3zM63.6 441.4h1.3v1.3h-1.3zM67.8 431.4h1.3v1.3h-1.3zM72.3 440.4h1.3v1.3h-1.3zM57.9 446.8h1.3v1.3h-1.3zM50.3 436.3h1.3v1.3h-1.3zM51.5 433.9h1.3v1.3h-1.3zM51.3 441.0h1.3v1.3h-1.3zM69.1 430.2h1.3v1.3h-1.3zM61.8 428.2h1.3v1.3h-1.3zM58.4 430.5h1.3v1.3h-1.3zM63.0 437.7h1.3v1.3h-1.3zM72.0 435.9h1.3v1.3h-1.3zM68.8 442.4h1.3v1.3h-1.3zM52.2 437.8h1.3v1.3h-1.3zM59.7 441.0h1.3v1.3h-1.3zM58.2 439.4h1.3v1.3h-1.3zM52.0 449.3h1.3v1.3h-1.3zM49.8 432.2h1.3v1.3h-1.3zM62.8 443.3h1.3v1.3h-1.3zM50.6 429.1h1.3v1.3h-1.3zM55.5 438.3h1.3v1.3h-1.3zM54.1 446.7h1.3v1.3h-1.3zM57.1 439.5h1.3v1.3h-1.3zM61.0 435.2h1.3v1.3h-1.3zM66.9 435.4h1.3v1.3h-1.3zM70.9 436.3h1.3v1.3h-1.3zM60.1 442.6h1.3v1.3h-1.3zM51.6 449.6h1.3v1.3h-1.3zM49.1 430.9h1.3v1.3h-1.3zM57.2 447.3h1.3v1.3h-1.3zM60.3 431.9h1.3v1.3h-1.3zM59.2 425.6h1.3v1.3h-1.3zM63.6 433.8h1.3v1.3h-1.3zM73.0 439.7h1.3v1.3h-1.3zM68.5 446.4h1.3v1.3h-1.3zM48.6 434.2h1.3v1.3h-1.3zM71.0 430.8h1.3v1.3h-1.3zM56.8 434.8h1.3v1.3h-1.3zM69.5 436.7h1.3v1.3h-1.3zM52.0 442.8h1.3v1.3h-1.3zM50.1 435.0h1.3v1.3h-1.3zM73.5 443.9h1.3v1.3h-1.3zM49.5 443.0h1.3v1.3h-1.3zM50.2 439.1h1.3v1.3h-1.3zM69.9 445.1h1.3v1.3h-1.3zM64.2 445.7h1.3v1.3h-1.3zM65.6 440.6h1.3v1.3h-1.3zM62.2 442.3h1.3v1.3h-1.3zM59.9 448.6h1.3v1.3h-1.3zM55.1 441.0h1.3v1.3h-1.3zM68.4 428.9h1.3v1.3h-1.3zM56.6 445.9h1.3v1.3h-1.3zM63.0 434.1h1.3v1.3h-1.3zM53.4 433.4h1.3v1.3h-1.3zM50.6 435.1h1.3v1.3h-1.3z" fill="#27447f"/>
<path d="M81.5 399.0h1.3v1.3h-1.3zM83.8 394.8h1.3v1.3h-1.3zM84.7 400.2h1.3v1.3h-1.3zM81.2 393.8h1.3v1.3h-1.3z" fill="#66ade6"/>
<path d="M84.4 398.9h1.3v1.3h-1.3zM81.6 398.8h1.3v1.3h-1.3zM80.0 397.7h1.3v1.3h-1.3zM86.0 398.7h1.3v1.3h-1.3z" fill="#66ade6"/>
<path d="M87.2 397.8h1.3v1.3h-1.3zM87.8 394.3h1.3v1.3h-1.3zM86.4 393.4h1.3v1.3h-1.3zM88.3 395.9h1.3v1.3h-1.3z" fill="#66ade6"/>
<path d="M71.5 409.1h1.3v1.3h-1.3zM68.5 404.1h1.3v1.3h-1.3zM69.5 400.9h1.3v1.3h-1.3zM68.0 399.9h1.3v1.3h-1.3zM71.4 397.9h1.3v1.3h-1.3zM65.6 402.6h1.3v1.3h-1.3zM71.4 399.8h1.3v1.3h-1.3zM69.6 400.4h1.3v1.3h-1.3zM69.8 400.9h1.3v1.3h-1.3zM64.1 409.6h1.3v1.3h-1.3zM67.3 399.0h1.3v1.3h-1.3zM72.5 398.4h1.3v1.3h-1.3zM64.9 410.6h1.3v1.3h-1.3zM68.0 407.8h1.3v1.3h-1.3zM74.7 403.1h1.3v1.3h-1.3zM69.4 405.1h1.3v1.3h-1.3zM68.9 408.8h1.3v1.3h-1.3zM74.7 406.2h1.3v1.3h-1.3zM67.1 398.5h1.3v1.3h-1.3zM74.2 411.6h1.3v1.3h-1.3zM75.0 403.9h1.3v1.3h-1.3zM73.5 409.9h1.3v1.3h-1.3zM68.7 410.9h1.3v1.3h-1.3zM76.1 408.0h1.3v1.3h-1.3zM65.3 407.2h1.3v1.3h-1.3zM73.4 406.3h1.3v1.3h-1.3zM65.0 401.5h1.3v1.3h-1.3zM72.1 409.3h1.3v1.3h-1.3zM72.4 404.8h1.3v1.3h-1.3zM73.4 403.9h1.3v1.3h-1.3zM71.5 405.3h1.3v1.3h-1.3zM63.5 404.2h1.3v1.3h-1.3zM62.5 404.1h1.3v1.3h-1.3zM67.9 402.9h1.3v1.3h-1.3zM71.6 401.1h1.3v1.3h-1.3zM64.8 410.9h1.3v1.3h-1.3zM69.8 410.9h1.3v1.3h-1.3z" fill="#66ade6"/>
<path d="M64.3 414.9h1.3v1.3h-1.3zM62.8 421.3h1.3v1.3h-1.3zM62.8 413.0h1.3v1.3h-1.3z" fill="#4b1a5f"/>
<path d="M72.8 444.0h1.3v1.3h-1.3zM67.0 444.5h1.3v1.3h-1.3zM69.5 441.1h1.3v1.3h-1.3zM57.8 455.8h1.3v1.3h-1.3zM73.3 447.0h1.3v1.3h-1.3zM61.8 443.2h1.3v1.3h-1.3zM54.0 453.4h1.3v1.3h-1.3zM67.2 449.8h1.3v1.3h-1.3zM56.6 454.4h1.3v1.3h-1.3zM55.4 444.0h1.3v1.3h-1.3zM68.6 455.6h1.3v1.3h-1.3zM65.7 452.8h1.3v1.3h-1.3zM53.6 445.5h1.3v1.3h-1.3zM70.8 438.1h1.3v1.3h-1.3zM70.9 455.6h1.3v1.3h-1.3zM62.2 447.5h1.3v1.3h-1.3zM55.4 447.1h1.3v1.3h-1.3zM57.4 449.5h1.3v1.3h-1.3zM55.3 454.1h1.3v1.3h-1.3zM62.6 445.8h1.3v1.3h-1.3zM69.4 449.5h1.3v1.3h-1.3zM61.3 447.8h1.3v1.3h-1.3zM68.3 448.5h1.3v1.3h-1.3zM65.0 445.1h1.3v1.3h-1.3zM62.1 457.8h1.3v1.3h-1.3zM63.6 441.0h1.3v1.3h-1.3zM66.2 452.1h1.3v1.3h-1.3zM62.5 440.7h1.3v1.3h-1.3zM56.7 453.7h1.3v1.3h-1.3zM69.9 445.9h1.3v1.3h-1.3zM71.2 454.4h1.3v1.3h-1.3zM60.6 444.0h1.3v1.3h-1.3zM60.0 445.7h1.3v1.3h-1.3zM53.8 453.4h1.3v1.3h-1.3zM68.3 440.9h1.3v1.3h-1.3zM58.8 439.9h1.3v1.3h-1.3zM60.1 443.9h1.3v1.3h-1.3zM54.7 443.9h1.3v1.3h-1.3zM71.5 454.0h1.3v1.3h-1.3zM72.1 446.4h1.3v1.3h-1.3zM59.2 444.4h1.3v1.3h-1.3zM66.2 447.2h1.3v1.3h-1.3zM70.9 441.9h1.3v1.3h-1.3zM67.8 454.9h1.3v1.3h-1.3zM60.0 457.1h1.3v1.3h-1.3zM69.2 442.2h1.3v1.3h-1.3zM56.6 455.7h1.3v1.3h-1.3zM56.3 444.4h1.3v1.3h-1.3zM61.9 446.2h1.3v1.3h-1.3zM71.9 445.6h1.3v1.3h-1.3zM63.8 440.6h1.3v1.3h-1.3zM71.1 447.2h1.3v1.3h-1.3zM56.8 443.0h1.3v1.3h-1.3zM68.5 453.7h1.3v1.3h-1.3zM60.7 445.5h1.3v1.3h-1.3zM60.7 445.4h1.3v1.3h-1.3zM56.1 440.6h1.3v1.3h-1.3zM69.7 438.7h1.3v1.3h-1.3zM61.5 435.8h1.3v1.3h-1.3zM63.4 456.0h1.3v1.3h-1.3zM73.4 446.3h1.3v1.3h-1.3zM71.3 448.5h1.3v1.3h-1.3zM68.4 438.6h1.3v1.3h-1.3zM68.2 442.7h1.3v1.3h-1.3zM64.3 457.2h1.3v1.3h-1.3zM66.0 451.9h1.3v1.3h-1.3zM64.0 456.7h1.3v1.3h-1.3z" fill="#5da83a"/>
<path d="M76.2 399.3h1.3v1.3h-1.3zM86.3 386.8h1.3v1.3h-1.3zM69.8 391.3h1.3v1.3h-1.3zM76.5 396.0h1.3v1.3h-1.3zM81.9 398.3h1.3v1.3h-1.3zM73.3 400.8h1.3v1.3h-1.3zM84.5 399.0h1.3v1.3h-1.3zM73.7 397.8h1.3v1.3h-1.3zM68.1 392.7h1.3v1.3h-1.3zM81.2 392.5h1.3v1.3h-1.3zM83.4 390.7h1.3v1.3h-1.3zM79.5 402.0h1.3v1.3h-1.3zM77.4 402.8h1.3v1.3h-1.3zM79.5 394.1h1.3v1.3h-1.3zM80.8 399.3h1.3v1.3h-1.3zM77.1 403.9h1.3v1.3h-1.3zM82.8 400.5h1.3v1.3h-1.3zM73.4 389.8h1.3v1.3h-1.3zM78.6 389.9h1.3v1.3h-1.3zM78.2 392.5h1.3v1.3h-1.3zM76.0 402.8h1.3v1.3h-1.3zM87.9 391.1h1.3v1.3h-1.3zM77.2 404.8h1.3v1.3h-1.3zM69.9 400.9h1.3v1.3h-1.3zM87.5 401.0h1.3v1.3h-1.3zM82.4 388.2h1.3v1.3h-1.3zM86.3 392.1h1.3v1.3h-1.3zM83.2 387.2h1.3v1.3h-1.3zM82.1 391.0h1.3v1.3h-1.3zM75.0 389.5h1.3v1.3h-1.3zM83.6 388.5h1.3v1.3h-1.3zM87.4 388.5h1.3v1.3h-1.3zM77.2 390.8h1.3v1.3h-1.3zM73.3 401.2h1.3v1.3h-1.3zM81.4 404.0h1.3v1.3h-1.3zM71.7 401.0h1.3v1.3h-1.3zM79.2 406.1h1.3v1.3h-1.3zM71.1 393.1h1.3v1.3h-1.3zM83.2 398.2h1.3v1.3h-1.3zM75.0 391.3h1.3v1.3h-1.3zM73.3 392.1h1.3v1.3h-1.3zM69.1 392.4h1.3v1.3h-1.3zM79.0 402.3h1.3v1.3h-1.3zM75.8 402.8h1.3v1.3h-1.3zM76.3 395.7h1.3v1.3h-1.3zM82.9 403.2h1.3v1.3h-1.3zM84.8 397.5h1.3v1.3h-1.3zM73.8 400.7h1.3v1.3h-1.3zM70.8 393.4h1.3v1.3h-1.3zM80.7 400.9h1.3v1.3h-1.3zM77.9 400.9h1.3v1.3h-1.3zM71.6 400.0h1.3v1.3h-1.3zM74.1 394.7h1.3v1.3h-1.3zM75.5 399.8h1.3v1.3h-1.3zM80.8 391.1h1.3v1.3h-1.3zM83.5 404.0h1.3v1.3h-1.3zM85.7 396.2h1.3v1.3h-1.3zM74.6 402.3h1.3v1.3h-1.3zM87.8 401.6h1.3v1.3h-1.3zM80.6 387.6h1.3v1.3h-1.3zM74.1 403.3h1.3v1.3h-1.3zM72.6 391.0h1.3v1.3h-1.3zM76.1 405.5h1.3v1.3h-1.3zM76.8 403.3h1.3v1.3h-1.3zM77.5 399.8h1.3v1.3h-1.3zM78.8 401.3h1.3v1.3h-1.3zM69.3 396.7h1.3v1.3h-1.3zM83.8 398.0h1.3v1.3h-1.3zM80.9 391.8h1.3v1.3h-1.3zM84.2 403.8h1.3v1.3h-1.3zM87.5 400.9h1.3v1.3h-1.3zM78.0 406.1h1.3v1.3h-1.3zM85.6 391.8h1.3v1.3h-1.3zM78.5 405.8h1.3v1.3h-1.3zM83.5 389.8h1.3v1.3h-1.3zM83.2 393.9h1.3v1.3h-1.3zM83.2 387.0h1.3v1.3h-1.3zM75.3 393.5h1.3v1.3h-1.3zM85.6 399.8h1.3v1.3h-1.3zM86.3 390.4h1.3v1.3h-1.3zM71.3 400.1h1.3v1.3h-1.3zM81.9 388.0h1.3v1.3h-1.3zM82.3 392.1h1.3v1.3h-1.3zM77.0 402.9h1.3v1.3h-1.3zM70.9 397.7h1.3v1.3h-1.3zM86.1 400.6h1.3v1.3h-1.3zM84.7 399.5h1.3v1.3h-1.3zM73.5 402.6h1.3v1.3h-1.3zM86.6 387.5h1.3v1.3h-1.3zM82.8 393.0h1.3v1.3h-1.3zM80.8 390.6h1.3v1.3h-1.3zM69.0 391.4h1.3v1.3h-1.3zM87.7 394.3h1.3v1.3h-1.3zM72.3 393.7h1.3v1.3h-1.3zM87.6 387.5h1.3v1.3h-1.3zM75.5 402.6h1.3v1.3h-1.3zM86.4 389.9h1.3v1.3h-1.3zM78.6 402.1h1.3v1.3h-1.3zM84.5 386.3h1.3v1.3h-1.3zM76.2 400.2h1.3v1.3h-1.3zM84.0 396.2h1.3v1.3h-1.3zM85.4 400.7h1.3v1.3h-1.3zM70.5 397.5h1.3v1.3h-1.3zM72.8 400.1h1.3v1.3h-1.3zM70.2 392.9h1.3v1.3h-1.3zM80.5 389.7h1.3v1.3h-1.3zM72.4 402.0h1.3v1.3h-1.3zM75.1 399.3h1.3v1.3h-1.3zM81.3 402.7h1.3v1.3h-1.3zM84.6 399.4h1.3v1.3h-1.3zM75.9 395.2h1.3v1.3h-1.3zM71.3 397.5h1.3v1.3h-1.3zM72.2 400.4h1.3v1.3h-1.3zM82.7 392.7h1.3v1.3h-1.3zM76.6 392.7h1.3v1.3h-1.3zM74.1 405.0h1.3v1.3h-1.3zM77.5 394.8h1.3v1.3h-1.3zM76.9 403.0h1.3v1.3h-1.3zM80.3 405.4h1.3v1.3h-1.3zM71.2 390.2h1.3v1.3h-1.3zM70.7 396.3h1.3v1.3h-1.3zM76.9 393.7h1.3v1.3h-1.3zM77.4 387.5h1.3v1.3h-1.3zM71.7 391.4h1.3v1.3h-1.3zM84.7 393.0h1.3v1.3h-1.3zM83.5 386.3h1.3v1.3h-1.3zM75.3 398.3h1.3v1.3h-1.3zM84.9 391.6h1.3v1.3h-1.3zM80.8 387.6h1.3v1.3h-1.3zM88.4 392.6h1.3v1.3h-1.3zM75.6 391.9h1.3v1.3h-1.3zM80.0 399.1h1.3v1.3h-1.3zM83.2 392.2h1.3v1.3h-1.3zM86.9 390.2h1.3v1.3h-1.3zM79.9 404.8h1.3v1.3h-1.3zM80.3 389.1h1.3v1.3h-1.3zM71.4 394.0h1.3v1.3h-1.3zM74.0 398.5h1.3v1.3h-1.3zM73.2 402.2h1.3v1.3h-1.3zM85.6 386.9h1.3v1.3h-1.3zM77.3 388.3h1.3v1.3h-1.3zM82.6 401.0h1.3v1.3h-1.3zM80.7 405.4h1.3v1.3h-1.3zM84.9 391.7h1.3v1.3h-1.3z" fill="#e19ac4"/>
<path d="M83.3 391.7h1.3v1.3h-1.3zM78.7 398.6h1.3v1.3h-1.3zM76.0 396.3h1.3v1.3h-1.3zM77.0 397.1h1.3v1.3h-1.3zM81.4 392.7h1.3v1.3h-1.3zM76.8 391.2h1.3v1.3h-1.3zM85.6 396.2h1.3v1.3h-1.3z" fill="#4b1a5f"/>
<path d="M72.7 437.9h1.3v1.3h-1.3zM76.5 441.9h1.3v1.3h-1.3zM78.1 439.2h1.3v1.3h-1.3zM89.4 440.7h1.3v1.3h-1.3zM80.7 439.9h1.3v1.3h-1.3zM83.7 442.0h1.3v1.3h-1.3zM84.6 445.3h1.3v1.3h-1.3zM88.3 436.3h1.3v1.3h-1.3zM87.2 446.2h1.3v1.3h-1.3zM75.8 435.4h1.3v1.3h-1.3zM74.3 447.5h1.3v1.3h-1.3zM69.7 444.8h1.3v1.3h-1.3zM87.5 438.2h1.3v1.3h-1.3zM75.7 449.3h1.3v1.3h-1.3zM70.4 439.8h1.3v1.3h-1.3zM84.5 440.2h1.3v1.3h-1.3zM75.3 445.2h1.3v1.3h-1.3zM85.8 441.4h1.3v1.3h-1.3zM86.7 441.8h1.3v1.3h-1.3zM82.8 436.6h1.3v1.3h-1.3zM74.0 444.6h1.3v1.3h-1.3zM85.6 436.7h1.3v1.3h-1.3zM72.8 447.1h1.3v1.3h-1.3zM72.1 442.6h1.3v1.3h-1.3zM82.2 449.3h1.3v1.3h-1.3zM79.4 436.4h1.3v1.3h-1.3zM73.2 445.9h1.3v1.3h-1.3zM90.3 446.4h1.3v1.3h-1.3zM71.5 441.4h1.3v1.3h-1.3zM72.1 446.8h1.3v1.3h-1.3zM83.9 444.7h1.3v1.3h-1.3zM82.8 450.0h1.3v1.3h-1.3zM88.2 449.0h1.3v1.3h-1.3zM85.6 445.3h1.3v1.3h-1.3zM79.5 449.1h1.3v1.3h-1.3zM84.8 438.9h1.3v1.3h-1.3zM69.9 446.5h1.3v1.3h-1.3zM87.7 447.6h1.3v1.3h-1.3zM80.1 449.7h1.3v1.3h-1.3zM85.3 442.8h1.3v1.3h-1.3zM91.8 443.2h1.3v1.3h-1.3zM88.0 436.3h1.3v1.3h-1.3zM71.3 441.1h1.3v1.3h-1.3zM73.6 445.0h1.3v1.3h-1.3zM85.3 448.9h1.3v1.3h-1.3zM81.9 440.0h1.3v1.3h-1.3zM74.7 438.9h1.3v1.3h-1.3zM73.6 441.5h1.3v1.3h-1.3zM84.4 448.3h1.3v1.3h-1.3zM82.7 445.3h1.3v1.3h-1.3z" fill="#2f5e46"/>
<path d="M65.2 405.4h1.3v1.3h-1.3zM65.2 408.9h1.3v1.3h-1.3zM68.3 393.6h1.3v1.3h-1.3zM65.9 396.8h1.3v1.3h-1.3zM63.5 397.7h1.3v1.3h-1.3zM68.2 398.2h1.3v1.3h-1.3zM59.8 410.2h1.3v1.3h-1.3zM60.9 403.8h1.3v1.3h-1.3zM69.1 391.8h1.3v1.3h-1.3zM61.8 394.9h1.3v1.3h-1.3zM61.0 410.6h1.3v1.3h-1.3zM67.2 391.9h1.3v1.3h-1.3zM65.1 397.7h1.3v1.3h-1.3zM61.8 410.0h1.3v1.3h-1.3zM60.7 403.1h1.3v1.3h-1.3zM64.4 395.0h1.3v1.3h-1.3zM64.0 408.4h1.3v1.3h-1.3zM64.8 407.8h1.3v1.3h-1.3zM68.0 398.3h1.3v1.3h-1.3zM63.7 395.1h1.3v1.3h-1.3zM63.5 409.2h1.3v1.3h-1.3zM60.1 402.0h1.3v1.3h-1.3zM67.9 399.2h1.3v1.3h-1.3zM63.0 405.0h1.3v1.3h-1.3zM63.6 401.3h1.3v1.3h-1.3zM68.5 396.0h1.3v1.3h-1.3zM61.2 398.7h1.3v1.3h-1.3zM61.1 407.7h1.3v1.3h-1.3zM62.7 399.9h1.3v1.3h-1.3zM68.0 399.3h1.3v1.3h-1.3zM68.1 392.9h1.3v1.3h-1.3zM58.2 405.9h1.3v1.3h-1.3zM68.8 391.2h1.3v1.3h-1.3zM64.2 407.5h1.3v1.3h-1.3zM61.0 395.8h1.3v1.3h-1.3zM62.3 406.6h1.3v1.3h-1.3zM64.0 408.1h1.3v1.3h-1.3zM64.5 392.8h1.3v1.3h-1.3zM62.0 397.1h1.3v1.3h-1.3zM63.7 399.0h1.3v1.3h-1.3z" fill="#4b1a5f"/>
<path d="M74.1 402.7h1.3v1.3h-1.3zM72.4 405.3h1.3v1.3h-1.3zM66.6 402.0h1.3v1.3h-1.3zM71.4 409.1h1.3v1.3h-1.3zM73.4 403.4h1.3v1.3h-1.3z" fill="#4b1a5f"/>
<path d="M82.7 386.9h1.3v1.3h-1.3zM85.4 388.5h1.3v1.3h-1.3zM73.7 388.0h1.3v1.3h-1.3zM85.5 388.2h1.3v1.3h-1.3zM83.8 389.3h1.3v1.3h-1.3zM82.3 388.7h1.3v1.3h-1.3zM76.7 387.6h1.3v1.3h-1.3zM78.3 387.0h1.3v1.3h-1.3zM79.3 386.6h1.3v1.3h-1.3zM84.4 389.4h1.3v1.3h-1.3zM83.3 388.3h1.3v1.3h-1.3zM83.4 388.4h1.3v1.3h-1.3zM77.0 388.2h1.3v1.3h-1.3zM76.6 390.2h1.3v1.3h-1.3zM73.2 388.2h1.3v1.3h-1.3z" fill="#4b1a5f"/>
<path d="M88.5 401.7h1.3v1.3h-1.3zM85.8 406.9h1.3v1.3h-1.3zM81.8 401.7h1.3v1.3h-1.3zM85.9 402.4h1.3v1.3h-1.3zM85.7 407.2h1.3v1.3h-1.3zM84.4 405.5h1.3v1.3h-1.3zM82.0 408.8h1.3v1.3h-1.3zM83.5 401.9h1.3v1.3h-1.3zM87.5 404.7h1.3v1.3h-1.3zM84.2 406.1h1.3v1.3h-1.3zM87.9 406.8h1.3v1.3h-1.3zM83.5 408.8h1.3v1.3h-1.3zM84.0 406.0h1.3v1.3h-1.3zM85.1 402.9h1.3v1.3h-1.3zM87.2 402.0h1.3v1.3h-1.3zM83.7 408.9h1.3v1.3h-1.3zM86.9 404.3h1.3v1.3h-1.3zM86.6 408.8h1.3v1.3h-1.3zM83.0 406.9h1.3v1.3h-1.3zM86.1 402.5h1.3v1.3h-1.3z" fill="#9485c6"/>
<path d="M67.2 448.0h1.3v1.3h-1.3zM64.0 447.1h1.3v1.3h-1.3zM65.4 451.0h1.3v1.3h-1.3zM64.8 453.3h1.3v1.3h-1.3zM64.2 447.5h1.3v1.3h-1.3zM61.8 442.5h1.3v1.3h-1.3zM60.2 451.8h1.3v1.3h-1.3zM60.6 451.2h1.3v1.3h-1.3zM58.1 445.1h1.3v1.3h-1.3zM66.2 447.4h1.3v1.3h-1.3zM70.6 448.3h1.3v1.3h-1.3zM68.6 453.3h1.3v1.3h-1.3zM69.1 450.8h1.3v1.3h-1.3zM62.6 442.5h1.3v1.3h-1.3zM66.0 446.1h1.3v1.3h-1.3zM63.0 453.7h1.3v1.3h-1.3zM65.5 443.8h1.3v1.3h-1.3zM61.4 442.5h1.3v1.3h-1.3zM69.8 452.9h1.3v1.3h-1.3zM61.6 454.3h1.3v1.3h-1.3z" fill="#5da83a"/>
<path d="M62.3 419.0h1.3v1.3h-1.3zM61.5 417.8h1.3v1.3h-1.3zM61.5 422.7h1.3v1.3h-1.3z" fill="#27447f"/>
<path d="M75.1 396.6h1.3v1.3h-1.3zM76.9 389.0h1.3v1.3h-1.3zM78.7 389.5h1.3v1.3h-1.3zM85.9 390.2h1.3v1.3h-1.3zM73.1 393.5h1.3v1.3h-1.3zM71.4 391.9h1.3v1.3h-1.3zM77.5 393.8h1.3v1.3h-1.3zM71.9 392.7h1.3v1.3h-1.3z" fill="#4b1a5f"/>
<path d="M58.0 399.9h1.3v1.3h-1.3zM64.5 396.1h1.3v1.3h-1.3zM62.5 403.9h1.3v1.3h-1.3zM66.1 401.8h1.3v1.3h-1.3zM67.9 396.7h1.3v1.3h-1.3zM62.4 406.3h1.3v1.3h-1.3zM68.6 397.3h1.3v1.3h-1.3zM68.4 396.1h1.3v1.3h-1.3zM59.4 409.7h1.3v1.3h-1.3zM67.7 392.6h1.3v1.3h-1.3zM64.3 392.2h1.3v1.3h-1.3zM63.5 408.1h1.3v1.3h-1.3zM65.0 401.4h1.3v1.3h-1.3zM65.1 408.1h1.3v1.3h-1.3zM64.3 408.1h1.3v1.3h-1.3zM64.1 402.1h1.3v1.3h-1.3zM60.4 407.0h1.3v1.3h-1.3zM66.0 402.0h1.3v1.3h-1.3zM66.6 393.1h1.3v1.3h-1.3zM67.1 397.4h1.3v1.3h-1.3zM64.7 393.6h1.3v1.3h-1.3zM62.3 406.5h1.3v1.3h-1.3zM59.1 403.2h1.3v1.3h-1.3zM66.2 391.3h1.3v1.3h-1.3zM62.6 407.5h1.3v1.3h-1.3zM58.8 398.0h1.3v1.3h-1.3zM69.1 392.4h1.3v1.3h-1.3zM58.5 399.7h1.3v1.3h-1.3zM58.4 405.2h1.3v1.3h-1.3zM66.9 397.7h1.3v1.3h-1.3zM65.4 394.0h1.3v1.3h-1.3zM64.5 393.3h1.3v1.3h-1.3zM63.7 395.1h1.3v1.3h-1.3zM66.2 401.0h1.3v1.3h-1.3zM65.2 395.5h1.3v1.3h-1.3zM67.3 393.5h1.3v1.3h-1.3zM60.4 400.4h1.3v1.3h-1.3zM65.7 395.2h1.3v1.3h-1.3zM64.3 399.7h1.3v1.3h-1.3zM60.6 407.0h1.3v1.3h-1.3z" fill="#4b1a5f"/>
<path d="M62.6 412.6h1.3v1.3h-1.3zM62.8 418.0h1.3v1.3h-1.3zM61.4 414.1h1.3v1.3h-1.3zM66.4 423.5h1.3v1.3h-1.3zM61.0 425.3h1.3v1.3h-1.3z" fill="#66ade6"/>
<path d="M58.1 444.6h1.3v1.3h-1.3zM63.6 448.6h1.3v1.3h-1.3zM69.3 446.4h1.3v1.3h-1.3zM64.0 445.6h1.3v1.3h-1.3zM69.2 447.4h1.3v1.3h-1.3zM69.3 447.7h1.3v1.3h-1.3zM69.0 454.1h1.3v1.3h-1.3zM63.2 454.0h1.3v1.3h-1.3zM63.0 447.9h1.3v1.3h-1.3zM70.0 449.8h1.3v1.3h-1.3zM59.4 443.4h1.3v1.3h-1.3zM60.7 451.0h1.3v1.3h-1.3zM68.3 447.4h1.3v1.3h-1.3zM68.6 450.6h1.3v1.3h-1.3zM68.2 451.1h1.3v1.3h-1.3zM68.5 447.1h1.3v1.3h-1.3zM67.5 443.0h1.3v1.3h-1.3zM67.0 454.0h1.3v1.3h-1.3zM61.0 449.8h1.3v1.3h-1.3zM67.2 447.6h1.3v1.3h-1.3z" fill="#5da83a"/>
<path d="M59.4 419.9h1.3v1.3h-1.3zM67.4 420.7h1.3v1.3h-1.3zM60.5 425.0h1.3v1.3h-1.3zM65.6 413.3h1.3v1.3h-1.3zM60.8 425.6h1.3v1.3h-1.3z" fill="#66ade6"/>
<path d="M55.5 433.8h1.3v1.3h-1.3zM54.8 438.1h1.3v1.3h-1.3zM56.8 430.0h1.3v1.3h-1.3zM54.7 439.6h1.3v1.3h-1.3zM62.8 439.9h1.3v1.3h-1.3zM52.0 433.9h1.3v1.3h-1.3zM58.9 434.5h1.3v1.3h-1.3zM57.5 439.3h1.3v1.3h-1.3zM58.6 437.6h1.3v1.3h-1.3zM62.4 436.8h1.3v1.3h-1.3zM57.0 427.9h1.3v1.3h-1.3zM52.4 433.4h1.3v1.3h-1.3zM59.4 437.0h1.3v1.3h-1.3zM60.3 435.8h1.3v1.3h-1.3zM61.3 432.0h1.3v1.3h-1.3zM64.1 437.7h1.3v1.3h-1.3zM54.1 435.8h1.3v1.3h-1.3zM56.1 433.6h1.3v1.3h-1.3zM55.9 435.1h1.3v1.3h-1.3zM59.0 440.2h1.3v1.3h-1.3zM63.4 438.2h1.3v1.3h-1.3zM60.8 428.7h1.3v1.3h-1.3zM62.2 432.5h1.3v1.3h-1.3zM57.2 440.6h1.3v1.3h-1.3zM53.2 431.2h1.3v1.3h-1.3zM54.0 437.3h1.3v1.3h-1.3zM52.7 437.9h1.3v1.3h-1.3z" fill="#27447f"/>
<path d="M75.1 401.9h1.3v1.3h-1.3zM72.1 400.0h1.3v1.3h-1.3zM67.9 391.6h1.3v1.3h-1.3zM80.5 386.5h1.3v1.3h-1.3zM71.2 389.4h1.3v1.3h-1.3zM75.6 390.5h1.3v1.3h-1.3zM76.2 389.7h1.3v1.3h-1.3zM73.6 396.7h1.3v1.3h-1.3zM75.4 391.2h1.3v1.3h-1.3zM73.6 393.0h1.3v1.3h-1.3zM82.0 396.2h1.3v1.3h-1.3zM79.8 402.4h1.3v1.3h-1.3zM78.8 390.0h1.3v1.3h-1.3zM68.4 396.8h1.3v1.3h-1.3zM79.5 394.7h1.3v1.3h-1.3zM68.7 391.1h1.3v1.3h-1.3zM79.9 387.5h1.3v1.3h-1.3zM73.6 402.4h1.3v1.3h-1.3zM74.2 403.9h1.3v1.3h-1.3zM74.0 402.4h1.3v1.3h-1.3zM73.9 402.0h1.3v1.3h-1.3zM81.7 396.8h1.3v1.3h-1.3zM83.1 398.3h1.3v1.3h-1.3zM86.7 391.4h1.3v1.3h-1.3zM74.7 404.5h1.3v1.3h-1.3zM84.8 401.3h1.3v1.3h-1.3zM74.7 393.7h1.3v1.3h-1.3zM74.2 401.0h1.3v1.3h-1.3zM81.2 389.5h1.3v1.3h-1.3zM78.1 390.0h1.3v1.3h-1.3zM76.1 400.6h1.3v1.3h-1.3zM83.7 392.8h1.3v1.3h-1.3zM84.5 400.7h1.3v1.3h-1.3zM77.8 396.2h1.3v1.3h-1.3zM86.5 401.9h1.3v1.3h-1.3zM70.0 394.0h1.3v1.3h-1.3zM86.6 393.7h1.3v1.3h-1.3zM70.1 392.2h1.3v1.3h-1.3zM86.5 387.3h1.3v1.3h-1.3zM84.9 396.5h1.3v1.3h-1.3zM81.4 397.1h1.3v1.3h-1.3zM82.1 395.5h1.3v1.3h-1.3zM85.4 394.3h1.3v1.3h-1.3zM77.5 392.5h1.3v1.3h-1.3zM74.4 398.7h1.3v1.3h-1.3zM78.9 393.7h1.3v1.3h-1.3zM75.4 399.9h1.3v1.3h-1.3zM81.7 402.1h1.3v1.3h-1.3zM74.4 397.2h1.3v1.3h-1.3zM80.1 386.4h1.3v1.3h-1.3zM77.1 389.9h1.3v1.3h-1.3zM74.4 392.8h1.3v1.3h-1.3zM81.1 388.5h1.3v1.3h-1.3zM76.6 397.6h1.3v1.3h-1.3zM87.7 389.2h1.3v1.3h-1.3zM70.7 401.1h1.3v1.3h-1.3zM76.5 390.4h1.3v1.3h-1.3zM85.6 396.3h1.3v1.3h-1.3zM70.1 396.9h1.3v1.3h-1.3zM78.7 396.2h1.3v1.3h-1.3zM74.4 404.2h1.3v1.3h-1.3zM70.0 390.5h1.3v1.3h-1.3zM70.2 394.5h1.3v1.3h-1.3zM82.1 392.3h1.3v1.3h-1.3zM70.0 389.0h1.3v1.3h-1.3zM76.0 394.0h1.3v1.3h-1.3zM78.6 401.1h1.3v1.3h-1.3zM69.9 394.4h1.3v1.3h-1.3zM84.5 400.4h1.3v1.3h-1.3zM88.3 399.8h1.3v1.3h-1.3zM88.5 390.9h1.3v1.3h-1.3zM81.4 397.9h1.3v1.3h-1.3zM75.3 395.8h1.3v1.3h-1.3zM83.9 397.8h1.3v1.3h-1.3zM79.4 400.8h1.3v1.3h-1.3zM76.1 402.1h1.3v1.3h-1.3zM85.3 394.9h1.3v1.3h-1.3zM79.0 394.1h1.3v1.3h-1.3zM86.0 401.9h1.3v1.3h-1.3zM83.2 393.1h1.3v1.3h-1.3zM75.2 395.5h1.3v1.3h-1.3zM75.6 401.4h1.3v1.3h-1.3zM71.5 395.4h1.3v1.3h-1.3zM76.9 392.5h1.3v1.3h-1.3zM77.6 404.3h1.3v1.3h-1.3zM81.3 388.5h1.3v1.3h-1.3zM78.6 396.0h1.3v1.3h-1.3zM70.0 395.0h1.3v1.3h-1.3zM81.4 395.1h1.3v1.3h-1.3zM78.6 392.0h1.3v1.3h-1.3zM80.1 393.7h1.3v1.3h-1.3zM84.0 403.8h1.3v1.3h-1.3zM88.3 392.8h1.3v1.3h-1.3zM70.3 391.7h1.3v1.3h-1.3zM82.7 400.3h1.3v1.3h-1.3zM79.6 395.7h1.3v1.3h-1.3zM78.7 395.7h1.3v1.3h-1.3zM81.3 400.2h1.3v1.3h-1.3zM82.9 388.6h1.3v1.3h-1.3zM83.3 388.5h1.3v1.3h-1.3zM76.9 399.1h1.3v1.3h-1.3zM76.7 399.5h1.3v1.3h-1.3zM79.7 392.8h1.3v1.3h-1.3zM69.8 391.6h1.3v1.3h-1.3zM81.0 386.3h1.3v1.3h-1.3zM74.2 388.3h1.3v1.3h-1.3zM73.8 396.6h1.3v1.3h-1.3zM82.9 386.6h1.3v1.3h-1.3zM89.1 394.0h1.3v1.3h-1.3zM72.2 392.4h1.3v1.3h-1.3zM76.0 401.1h1.3v1.3h-1.3zM77.8 395.4h1.3v1.3h-1.3zM84.2 393.7h1.3v1.3h-1.3zM82.9 401.3h1.3v1.3h-1.3zM81.4 398.6h1.3v1.3h-1.3zM72.9 389.2h1.3v1.3h-1.3zM71.4 402.0h1.3v1.3h-1.3zM80.2 400.0h1.3v1.3h-1.3zM74.4 402.8h1.3v1.3h-1.3zM74.6 400.1h1.3v1.3h-1.3zM82.3 404.5h1.3v1.3h-1.3zM77.3 390.8h1.3v1.3h-1.3zM81.8 399.4h1.3v1.3h-1.3zM83.5 392.1h1.3v1.3h-1.3zM80.0 392.6h1.3v1.3h-1.3zM81.9 388.5h1.3v1.3h-1.3zM79.6 403.9h1.3v1.3h-1.3zM73.5 401.7h1.3v1.3h-1.3zM80.9 400.0h1.3v1.3h-1.3zM72.7 391.5h1.3v1.3h-1.3zM84.7 397.7h1.3v1.3h-1.3zM82.1 394.4h1.3v1.3h-1.3zM70.6 394.6h1.3v1.3h-1.3zM68.1 394.2h1.3v1.3h-1.3zM86.6 391.6h1.3v1.3h-1.3zM85.2 402.4h1.3v1.3h-1.3zM74.2 393.7h1.3v1.3h-1.3zM87.9 392.3h1.3v1.3h-1.3zM74.4 390.0h1.3v1.3h-1.3zM70.8 401.9h1.3v1.3h-1.3zM87.3 394.1h1.3v1.3h-1.3zM75.5 398.7h1.3v1.3h-1.3zM73.7 398.1h1.3v1.3h-1.3z" fill="#e19ac4"/>
<path d="M56.9 435.2h1.3v1.3h-1.3zM51.6 432.4h1.3v1.3h-1.3zM63.5 436.8h1.3v1.3h-1.3zM61.0 430.9h1.3v1.3h-1.3zM55.6 437.4h1.3v1.3h-1.3zM62.5 432.1h1.3v1.3h-1.3zM61.2 434.4h1.3v1.3h-1.3zM61.1 429.4h1.3v1.3h-1.3zM58.8 437.5h1.3v1.3h-1.3zM62.5 438.4h1.3v1.3h-1.3zM60.6 437.0h1.3v1.3h-1.3zM55.9 433.4h1.3v1.3h-1.3zM61.1 438.1h1.3v1.3h-1.3zM58.0 428.4h1.3v1.3h-1.3zM57.6 434.6h1.3v1.3h-1.3zM58.2 436.8h1.3v1.3h-1.3zM59.8 437.5h1.3v1.3h-1.3zM54.8 434.8h1.3v1.3h-1.3zM56.3 433.1h1.3v1.3h-1.3zM58.6 438.6h1.3v1.3h-1.3zM61.5 437.1h1.3v1.3h-1.3zM55.0 437.6h1.3v1.3h-1.3zM57.9 429.7h1.3v1.3h-1.3zM60.3 435.4h1.3v1.3h-1.3zM58.9 431.3h1.3v1.3h-1.3zM65.1 431.0h1.3v1.3h-1.3zM62.4 430.4h1.3v1.3h-1.3z" fill="#27447f"/>
<path d="M63.0 419.4h1.3v1.3h-1.3zM63.3 420.1h1.3v1.3h-1.3z" fill="#e19ac4"/>
<path d="M88.2 397.7h1.3v1.3h-1.3zM86.5 393.5h1.3v1.3h-1.3zM86.8 394.7h1.3v1.3h-1.3z" fill="#66ade6"/>
<path d="M64.9 421.2h1.3v1.3h-1.3zM62.0 422.1h1.3v1.3h-1.3z" fill="#e19ac4"/>
<path d="M82.3 388.9h1.3v1.3h-1.3zM85.3 387.1h1.3v1.3h-1.3zM76.6 386.8h1.3v1.3h-1.3zM73.2 389.7h1.3v1.3h-1.3zM81.2 387.7h1.3v1.3h-1.3zM81.7 386.1h1.3v1.3h-1.3zM75.8 389.5h1.3v1.3h-1.3zM83.3 389.4h1.3v1.3h-1.3zM87.2 387.5h1.3v1.3h-1.3zM72.6 388.3h1.3v1.3h-1.3zM81.6 388.6h1.3v1.3h-1.3zM77.9 389.0h1.3v1.3h-1.3zM83.5 385.9h1.3v1.3h-1.3zM83.0 386.2h1.3v1.3h-1.3zM79.9 386.1h1.3v1.3h-1.3z" fill="#4b1a5f"/>
<path d="M60.8 419.9h1.3v1.3h-1.3zM66.2 416.8h1.3v1.3h-1.3zM61.3 416.5h1.3v1.3h-1.3z" fill="#4b1a5f"/>
<path d="M69.4 458.7h1.3v1.3h-1.3zM57.5 444.4h1.3v1.3h-1.3zM58.4 443.3h1.3v1.3h-1.3zM60.3 453.3h1.3v1.3h-1.3zM73.5 445.1h1.3v1.3h-1.3zM57.7 439.2h1.3v1.3h-1.3zM67.1 441.2h1.3v1.3h-1.3zM61.0 443.2h1.3v1.3h-1.3zM59.7 450.6h1.3v1.3h-1.3zM64.5 456.0h1.3v1.3h-1.3zM64.8 439.8h1.3v1.3h-1.3zM64.3 442.4h1.3v1.3h-1.3zM56.8 444.5h1.3v1.3h-1.3zM73.0 450.8h1.3v1.3h-1.3zM68.7 445.8h1.3v1.3h-1.3zM58.0 444.4h1.3v1.3h-1.3zM61.7 439.9h1.3v1.3h-1.3zM67.3 441.3h1.3v1.3h-1.3zM54.8 440.3h1.3v1.3h-1.3zM57.8 445.1h1.3v1.3h-1.3zM71.5 453.5h1.3v1.3h-1.3zM68.5 442.7h1.3v1.3h-1.3zM54.4 444.3h1.3v1.3h-1.3zM56.9 442.5h1.3v1.3h-1.3zM56.6 447.9h1.3v1.3h-1.3zM73.9 444.2h1.3v1.3h-1.3zM56.8 444.2h1.3v1.3h-1.3zM66.4 456.0h1.3v1.3h-1.3zM66.2 437.8h1.3v1.3h-1.3zM56.5 441.9h1.3v1.3h-1.3zM57.8 445.6h1.3v1.3h-1.3zM67.9 453.7h1.3v1.3h-1.3zM68.9 439.1h1.3v1.3h-1.3zM56.8 438.4h1.3v1.3h-1.3zM54.9 451.6h1.3v1.3h-1.3zM63.9 454.2h1.3v1.3h-1.3zM67.0 447.4h1.3v1.3h-1.3zM73.5 448.9h1.3v1.3h-1.3zM63.9 453.0h1.3v1.3h-1.3zM70.3 451.8h1.3v1.3h-1.3zM71.0 445.7h1.3v1.3h-1.3zM59.7 447.4h1.3v1.3h-1.3zM64.1 455.2h1.3v1.3h-1.3zM69.3 444.5h1.3v1.3h-1.3zM67.8 437.2h1.3v1.3h-1.3zM63.8 449.4h1.3v1.3h-1.3zM64.7 438.2h1.3v1.3h-1.3zM59.4 437.3h1.3v1.3h-1.3zM64.0 452.2h1.3v1.3h-1.3zM57.0 455.9h1.3v1.3h-1.3zM72.6 451.3h1.3v1.3h-1.3zM68.6 438.5h1.3v1.3h-1.3zM66.3 443.2h1.3v1.3h-1.3zM68.5 454.2h1.3v1.3h-1.3zM65.0 456.9h1.3v1.3h-1.3zM70.2 452.5h1.3v1.3h-1.3zM69.5 455.4h1.3v1.3h-1.3zM58.5 454.4h1.3v1.3h-1.3zM71.6 452.8h1.3v1.3h-1.3zM64.6 453.9h1.3v1.3h-1.3zM67.9 455.4h1.3v1.3h-1.3zM65.2 442.7h1.3v1.3h-1.3zM57.5 453.9h1.3v1.3h-1.3zM52.3 446.5h1.3v1.3h-1.3zM65.4 452.3h1.3v1.3h-1.3zM69.7 444.9h1.3v1.3h-1.3z" fill="#5da83a"/>
<path d="M76.3 404.4h1.3v1.3h-1.3zM76.2 408.9h1.3v1.3h-1.3zM71.1 403.4h1.3v1.3h-1.3zM71.4 401.0h1.3v1.3h-1.3zM72.4 408.2h1.3v1.3h-1.3zM68.0 408.3h1.3v1.3h-1.3zM71.6 401.2h1.3v1.3h-1.3zM71.0 402.8h1.3v1.3h-1.3zM68.4 399.9h1.3v1.3h-1.3zM77.0 409.1h1.3v1.3h-1.3zM69.4 408.9h1.3v1.3h-1.3zM65.3 409.0h1.3v1.3h-1.3zM67.3 400.8h1.3v1.3h-1.3zM71.9 404.7h1.3v1.3h-1.3zM72.4 405.0h1.3v1.3h-1.3zM69.7 401.4h1.3v1.3h-1.3zM70.8 407.8h1.3v1.3h-1.3zM71.4 405.1h1.3v1.3h-1.3zM68.1 402.6h1.3v1.3h-1.3zM62.9 408.9h1.3v1.3h-1.3zM68.3 397.9h1.3v1.3h-1.3zM71.7 404.3h1.3v1.3h-1.3zM73.9 403.1h1.3v1.3h-1.3zM64.6 410.4h1.3v1.3h-1.3zM70.1 398.1h1.3v1.3h-1.3zM77.3 408.5h1.3v1.3h-1.3zM73.7 408.3h1.3v1.3h-1.3zM63.6 411.9h1.3v1.3h-1.3zM68.9 402.4h1.3v1.3h-1.3zM67.4 397.5h1.3v1.3h-1.3zM70.3 406.6h1.3v1.3h-1.3zM63.1 405.7h1.3v1.3h-1.3zM72.7 407.8h1.3v1.3h-1.3zM76.5 406.6h1.3v1.3h-1.3zM75.6 407.6h1.3v1.3h-1.3zM74.9 406.6h1.3v1.3h-1.3z" fill="#66ade6"/>
<path d="M58.0 447.4h1.3v1.3h-1.3zM62.1 456.2h1.3v1.3h-1.3zM69.2 458.1h1.3v1.3h-1.3zM61.7 455.8h1.3v1.3h-1.3zM55.5 456.5h1.3v1.3h-1.3zM56.7 441.5h1.3v1.3h-1.3zM60.7 458.9h1.3v1.3h-1.3zM57.6 439.6h1.3v1.3h-1.3zM58.3 447.8h1.3v1.3h-1.3zM57.7 449.3h1.3v1.3h-1.3zM72.6 440.8h1.3v1.3h-1.3zM71.3 447.9h1.3v1.3h-1.3zM55.5 451.8h1.3v1.3h-1.3zM63.0 453.1h1.3v1.3h-1.3zM69.5 452.6h1.3v1.3h-1.3zM61.4 453.6h1.3v1.3h-1.3zM54.7 450.1h1.3v1.3h-1.3zM73.6 444.8h1.3v1.3h-1.3zM58.4 450.4h1.3v1.3h-1.3zM57.6 447.2h1.3v1.3h-1.3zM61.4 446.3h1.3v1.3h-1.3zM65.7 437.9h1.3v1.3h-1.3zM54.4 447.7h1.3v1.3h-1.3zM60.7 451.3h1.3v1.3h-1.3zM60.6 437.1h1.3v1.3h-1.3zM59.1 456.4h1.3v1.3h-1.3zM68.1 442.2h1.3v1.3h-1.3zM59.5 447.1h1.3v1.3h-1.3zM61.4 441.3h1.3v1.3h-1.3zM54.6 453.9h1.3v1.3h-1.3zM61.6 455.2h1.3v1.3h-1.3zM63.3 446.9h1.3v1.3h-1.3zM64.2 439.0h1.3v1.3h-1.3zM66.8 445.9h1.3v1.3h-1.3zM61.5 453.8h1.3v1.3h-1.3zM67.9 457.9h1.3v1.3h-1.3zM67.6 451.4h1.3v1.3h-1.3zM64.1 458.3h1.3v1.3h-1.3zM65.7 458.2h1.3v1.3h-1.3zM54.3 441.8h1.3v1.3h-1.3zM55.0 454.5h1.3v1.3h-1.3zM66.9 448.5h1.3v1.3h-1.3zM55.3 439.9h1.3v1.3h-1.3zM66.1 453.8h1.3v1.3h-1.3zM69.3 443.5h1.3v1.3h-1.3zM54.6 449.7h1.3v1.3h-1.3zM53.3 451.4h1.3v1.3h-1.3zM71.1 439.5h1.3v1.3h-1.3zM56.4 444.1h1.3v1.3h-1.3zM54.9 443.3h1.3v1.3h-1.3zM71.2 437.6h1.3v1.3h-1.3zM60.2 448.9h1.3v1.3h-1.3zM55.2 456.2h1.3v1.3h-1.3zM58.5 453.5h1.3v1.3h-1.3zM61.4 458.8h1.3v1.3h-1.3zM57.9 450.8h1.3v1.3h-1.3zM54.6 440.0h1.3v1.3h-1.3zM69.8 457.7h1.3v1.3h-1.3zM64.1 438.1h1.3v1.3h-1.3zM72.6 441.9h1.3v1.3h-1.3zM72.7 447.7h1.3v1.3h-1.3zM58.7 453.7h1.3v1.3h-1.3zM54.7 452.5h1.3v1.3h-1.3zM61.4 452.2h1.3v1.3h-1.3zM57.0 443.3h1.3v1.3h-1.3zM60.6 456.1h1.3v1.3h-1.3zM65.4 436.9h1.3v1.3h-1.3z" fill="#5da83a"/>
<g filter="url(#blur2)"><path d="M131.48 389.35C133.46 387.06 136.16 385.96 138.8 384.83C141.43 383.71 144.68 383 147.28 382.58C149.89 382.16 152.58 381.9 154.41 382.31C156.24 382.72 157.49 383.41 158.29 385.04C159.09 386.68 159.08 389.34 159.2 392.13C159.32 394.92 159.26 398.96 159.01 401.8C158.76 404.63 158.56 407.19 157.71 409.11C156.85 411.04 155.64 412.24 153.89 413.34C152.13 414.43 149.18 414.75 147.18 415.68C145.17 416.61 142.84 417.24 141.83 418.9C140.82 420.57 139.9 423.19 141.12 425.67C142.33 428.16 146.32 432.29 149.13 433.8C151.95 435.32 155.78 433.6 158.03 434.75C160.28 435.9 161.8 438.55 162.63 440.71C163.46 442.87 163.29 445.56 163.02 447.72C162.75 449.88 162.44 452.18 161.02 453.65C159.6 455.13 157.01 455.96 154.51 456.56C152.01 457.16 148.04 456.29 146.02 457.26C144 458.22 144.25 461.22 142.38 462.34C140.51 463.47 137.77 463.8 134.81 464.01C131.86 464.22 127.2 464.31 124.68 463.62C122.15 462.93 120.87 461.84 119.64 459.86C118.41 457.87 117.64 454.99 117.28 451.73C116.92 448.46 117.07 443.57 117.48 440.29C117.89 437 118.43 434.32 119.73 432.01C121.03 429.69 124.16 428.7 125.29 426.39C126.42 424.07 126.35 421.16 126.5 418.1C126.65 415.05 126.13 411.31 126.2 408.05C126.27 404.79 126.05 401.65 126.93 398.54C127.81 395.42 129.5 391.63 131.48 389.35Z" fill="#ebebee" stroke="#c0c0c6" stroke-width="4.6" stroke-linejoin="round"/></g>
<path d="M120.2 434.9h1.3v1.3h-1.3zM122.4 441.6h1.3v1.3h-1.3zM142.4 435.1h1.3v1.3h-1.3zM129.0 433.9h1.3v1.3h-1.3zM142.6 445.4h1.3v1.3h-1.3zM126.7 449.6h1.3v1.3h-1.3zM119.8 442.1h1.3v1.3h-1.3zM130.2 428.6h1.3v1.3h-1.3zM120.9 447.1h1.3v1.3h-1.3zM130.0 443.2h1.3v1.3h-1.3zM120.8 451.9h1.3v1.3h-1.3zM121.8 434.3h1.3v1.3h-1.3zM127.1 433.8h1.3v1.3h-1.3zM116.9 448.1h1.3v1.3h-1.3zM134.9 451.6h1.3v1.3h-1.3zM123.6 445.3h1.3v1.3h-1.3zM130.7 446.4h1.3v1.3h-1.3zM142.1 441.7h1.3v1.3h-1.3zM141.3 441.9h1.3v1.3h-1.3zM137.4 428.4h1.3v1.3h-1.3zM127.7 444.0h1.3v1.3h-1.3zM118.9 450.0h1.3v1.3h-1.3zM123.0 438.5h1.3v1.3h-1.3zM132.7 428.3h1.3v1.3h-1.3zM135.5 441.6h1.3v1.3h-1.3zM125.5 441.9h1.3v1.3h-1.3zM117.6 447.3h1.3v1.3h-1.3zM129.6 453.1h1.3v1.3h-1.3zM135.5 435.6h1.3v1.3h-1.3zM130.8 438.8h1.3v1.3h-1.3zM139.1 439.3h1.3v1.3h-1.3zM126.2 444.2h1.3v1.3h-1.3zM133.6 441.4h1.3v1.3h-1.3zM131.0 444.6h1.3v1.3h-1.3zM118.7 446.8h1.3v1.3h-1.3zM135.7 441.8h1.3v1.3h-1.3zM124.9 441.8h1.3v1.3h-1.3zM131.7 431.9h1.3v1.3h-1.3zM139.3 434.0h1.3v1.3h-1.3zM131.7 449.2h1.3v1.3h-1.3zM129.6 454.9h1.3v1.3h-1.3zM121.6 453.0h1.3v1.3h-1.3zM138.6 446.0h1.3v1.3h-1.3zM123.1 428.4h1.3v1.3h-1.3zM139.5 448.1h1.3v1.3h-1.3zM129.5 439.4h1.3v1.3h-1.3zM127.8 437.1h1.3v1.3h-1.3zM141.7 440.1h1.3v1.3h-1.3zM134.1 443.7h1.3v1.3h-1.3zM127.3 430.5h1.3v1.3h-1.3zM122.7 450.8h1.3v1.3h-1.3zM120.8 451.8h1.3v1.3h-1.3zM133.9 437.0h1.3v1.3h-1.3zM124.6 432.0h1.3v1.3h-1.3zM127.5 445.3h1.3v1.3h-1.3zM124.0 438.0h1.3v1.3h-1.3zM119.0 449.4h1.3v1.3h-1.3zM121.3 451.0h1.3v1.3h-1.3zM131.7 442.4h1.3v1.3h-1.3zM117.2 447.4h1.3v1.3h-1.3zM118.1 443.5h1.3v1.3h-1.3zM126.1 442.3h1.3v1.3h-1.3zM126.2 453.5h1.3v1.3h-1.3zM120.9 451.7h1.3v1.3h-1.3zM131.2 431.9h1.3v1.3h-1.3zM129.7 435.5h1.3v1.3h-1.3zM121.7 445.8h1.3v1.3h-1.3zM141.7 445.9h1.3v1.3h-1.3zM131.2 430.9h1.3v1.3h-1.3zM139.0 435.1h1.3v1.3h-1.3zM132.3 445.5h1.3v1.3h-1.3zM122.7 438.3h1.3v1.3h-1.3zM122.6 435.0h1.3v1.3h-1.3zM134.5 431.0h1.3v1.3h-1.3zM135.3 435.9h1.3v1.3h-1.3zM124.8 440.7h1.3v1.3h-1.3zM128.1 431.9h1.3v1.3h-1.3zM135.1 440.4h1.3v1.3h-1.3zM134.2 450.5h1.3v1.3h-1.3zM138.3 436.3h1.3v1.3h-1.3zM122.3 454.9h1.3v1.3h-1.3zM136.8 447.6h1.3v1.3h-1.3zM143.5 443.3h1.3v1.3h-1.3zM122.1 431.7h1.3v1.3h-1.3zM125.8 430.6h1.3v1.3h-1.3zM118.8 444.7h1.3v1.3h-1.3zM125.1 453.1h1.3v1.3h-1.3zM132.9 448.3h1.3v1.3h-1.3zM139.1 437.9h1.3v1.3h-1.3zM137.6 433.5h1.3v1.3h-1.3zM137.8 443.5h1.3v1.3h-1.3zM131.3 440.2h1.3v1.3h-1.3zM131.1 446.1h1.3v1.3h-1.3zM132.6 428.1h1.3v1.3h-1.3zM117.1 443.0h1.3v1.3h-1.3zM118.6 445.5h1.3v1.3h-1.3zM124.2 450.5h1.3v1.3h-1.3zM118.7 447.4h1.3v1.3h-1.3zM128.9 444.2h1.3v1.3h-1.3zM143.1 445.8h1.3v1.3h-1.3zM143.0 440.6h1.3v1.3h-1.3zM130.7 434.7h1.3v1.3h-1.3zM129.1 439.3h1.3v1.3h-1.3zM134.4 430.8h1.3v1.3h-1.3zM141.4 435.0h1.3v1.3h-1.3zM136.6 435.9h1.3v1.3h-1.3zM134.5 435.7h1.3v1.3h-1.3zM121.2 446.3h1.3v1.3h-1.3zM130.3 438.3h1.3v1.3h-1.3zM134.7 451.3h1.3v1.3h-1.3zM125.3 439.1h1.3v1.3h-1.3zM120.6 439.6h1.3v1.3h-1.3zM124.0 451.4h1.3v1.3h-1.3zM129.0 450.4h1.3v1.3h-1.3zM142.6 445.9h1.3v1.3h-1.3zM135.7 438.2h1.3v1.3h-1.3zM132.7 445.4h1.3v1.3h-1.3zM130.1 445.7h1.3v1.3h-1.3zM140.6 439.3h1.3v1.3h-1.3zM139.3 436.6h1.3v1.3h-1.3zM131.4 442.5h1.3v1.3h-1.3zM117.8 438.5h1.3v1.3h-1.3zM141.0 434.7h1.3v1.3h-1.3zM126.5 445.7h1.3v1.3h-1.3zM134.5 433.8h1.3v1.3h-1.3zM142.3 438.3h1.3v1.3h-1.3zM124.5 445.6h1.3v1.3h-1.3zM122.6 449.1h1.3v1.3h-1.3zM121.8 443.4h1.3v1.3h-1.3zM136.4 434.1h1.3v1.3h-1.3zM121.2 448.6h1.3v1.3h-1.3zM123.9 449.2h1.3v1.3h-1.3zM136.0 441.1h1.3v1.3h-1.3zM131.9 438.5h1.3v1.3h-1.3zM140.6 446.3h1.3v1.3h-1.3zM141.9 446.5h1.3v1.3h-1.3zM116.8 447.0h1.3v1.3h-1.3zM122.1 447.3h1.3v1.3h-1.3zM118.8 435.6h1.3v1.3h-1.3zM125.7 440.9h1.3v1.3h-1.3zM133.1 439.6h1.3v1.3h-1.3zM139.5 445.5h1.3v1.3h-1.3zM138.0 436.8h1.3v1.3h-1.3zM127.0 428.7h1.3v1.3h-1.3zM122.8 435.2h1.3v1.3h-1.3zM127.0 430.0h1.3v1.3h-1.3zM128.5 446.9h1.3v1.3h-1.3zM132.6 442.0h1.3v1.3h-1.3zM121.8 440.2h1.3v1.3h-1.3zM137.7 439.5h1.3v1.3h-1.3zM121.2 445.2h1.3v1.3h-1.3zM140.9 445.7h1.3v1.3h-1.3zM124.2 432.3h1.3v1.3h-1.3zM126.1 439.0h1.3v1.3h-1.3zM123.3 450.8h1.3v1.3h-1.3zM142.5 444.4h1.3v1.3h-1.3zM127.0 445.5h1.3v1.3h-1.3zM138.7 434.7h1.3v1.3h-1.3zM130.7 449.9h1.3v1.3h-1.3zM124.7 433.3h1.3v1.3h-1.3zM122.7 445.0h1.3v1.3h-1.3zM143.5 444.0h1.3v1.3h-1.3zM124.8 431.3h1.3v1.3h-1.3zM128.4 436.4h1.3v1.3h-1.3zM124.2 451.7h1.3v1.3h-1.3zM118.3 434.1h1.3v1.3h-1.3zM136.1 443.0h1.3v1.3h-1.3zM126.3 430.8h1.3v1.3h-1.3zM141.7 438.7h1.3v1.3h-1.3zM118.4 432.4h1.3v1.3h-1.3zM136.8 431.0h1.3v1.3h-1.3zM135.4 438.4h1.3v1.3h-1.3zM134.9 433.8h1.3v1.3h-1.3zM128.9 438.5h1.3v1.3h-1.3zM126.4 444.6h1.3v1.3h-1.3zM125.9 446.2h1.3v1.3h-1.3zM120.4 431.5h1.3v1.3h-1.3zM120.5 433.1h1.3v1.3h-1.3zM127.8 446.1h1.3v1.3h-1.3zM140.8 442.2h1.3v1.3h-1.3zM130.9 435.9h1.3v1.3h-1.3zM125.1 449.5h1.3v1.3h-1.3zM130.6 430.5h1.3v1.3h-1.3zM119.8 441.6h1.3v1.3h-1.3zM132.1 447.7h1.3v1.3h-1.3zM126.9 453.3h1.3v1.3h-1.3z" fill="#27447f"/>
<path d="M152.6 391.8h1.3v1.3h-1.3zM152.5 390.3h1.3v1.3h-1.3zM143.4 390.2h1.3v1.3h-1.3zM152.1 390.3h1.3v1.3h-1.3zM154.6 389.4h1.3v1.3h-1.3zM143.5 389.7h1.3v1.3h-1.3zM146.1 389.8h1.3v1.3h-1.3zM149.0 390.7h1.3v1.3h-1.3zM153.9 390.5h1.3v1.3h-1.3zM150.9 391.6h1.3v1.3h-1.3zM154.0 391.8h1.3v1.3h-1.3zM145.3 390.6h1.3v1.3h-1.3zM152.5 388.8h1.3v1.3h-1.3z" fill="#4b1a5f"/>
<path d="M148.7 390.9h1.3v1.3h-1.3zM154.4 391.7h1.3v1.3h-1.3zM143.5 389.5h1.3v1.3h-1.3zM150.7 392.1h1.3v1.3h-1.3zM151.1 390.7h1.3v1.3h-1.3zM143.2 393.7h1.3v1.3h-1.3zM152.9 390.4h1.3v1.3h-1.3zM146.5 388.8h1.3v1.3h-1.3zM149.8 389.7h1.3v1.3h-1.3zM151.2 388.2h1.3v1.3h-1.3zM146.7 392.8h1.3v1.3h-1.3zM149.2 390.8h1.3v1.3h-1.3zM151.3 392.6h1.3v1.3h-1.3z" fill="#4b1a5f"/>
<path d="M139.9 395.9h1.3v1.3h-1.3zM142.1 394.6h1.3v1.3h-1.3zM153.4 408.4h1.3v1.3h-1.3zM146.1 400.0h1.3v1.3h-1.3zM149.5 393.8h1.3v1.3h-1.3zM148.8 394.8h1.3v1.3h-1.3zM148.0 398.4h1.3v1.3h-1.3zM155.6 406.4h1.3v1.3h-1.3zM157.3 394.1h1.3v1.3h-1.3zM154.8 401.5h1.3v1.3h-1.3zM143.3 403.4h1.3v1.3h-1.3zM152.9 397.9h1.3v1.3h-1.3zM155.9 401.0h1.3v1.3h-1.3zM155.2 389.0h1.3v1.3h-1.3zM150.2 395.1h1.3v1.3h-1.3zM152.2 397.5h1.3v1.3h-1.3zM150.9 396.8h1.3v1.3h-1.3zM149.4 400.6h1.3v1.3h-1.3zM155.8 406.2h1.3v1.3h-1.3zM156.2 389.5h1.3v1.3h-1.3zM145.3 406.6h1.3v1.3h-1.3z" fill="#e19ac4"/>
<path d="M136.1 426.8h1.3v1.3h-1.3zM133.0 421.6h1.3v1.3h-1.3zM135.6 425.2h1.3v1.3h-1.3zM129.8 426.1h1.3v1.3h-1.3zM132.3 419.9h1.3v1.3h-1.3z" fill="#27447f"/>
<path d="M150.3 440.1h1.3v1.3h-1.3zM143.1 445.6h1.3v1.3h-1.3zM152.5 451.2h1.3v1.3h-1.3zM156.2 437.5h1.3v1.3h-1.3zM157.4 437.5h1.3v1.3h-1.3zM144.8 440.5h1.3v1.3h-1.3zM148.0 451.1h1.3v1.3h-1.3zM152.5 446.3h1.3v1.3h-1.3zM149.1 452.9h1.3v1.3h-1.3zM145.6 451.1h1.3v1.3h-1.3zM160.7 439.0h1.3v1.3h-1.3zM155.0 444.5h1.3v1.3h-1.3zM143.6 447.6h1.3v1.3h-1.3zM146.4 444.6h1.3v1.3h-1.3zM157.7 440.7h1.3v1.3h-1.3zM151.2 447.1h1.3v1.3h-1.3zM160.7 447.5h1.3v1.3h-1.3zM149.7 451.3h1.3v1.3h-1.3zM146.1 446.8h1.3v1.3h-1.3zM153.2 441.0h1.3v1.3h-1.3zM156.0 451.3h1.3v1.3h-1.3zM143.4 446.6h1.3v1.3h-1.3zM156.8 446.4h1.3v1.3h-1.3zM151.0 448.4h1.3v1.3h-1.3zM142.8 441.8h1.3v1.3h-1.3zM149.5 448.0h1.3v1.3h-1.3zM155.9 441.2h1.3v1.3h-1.3zM149.1 452.0h1.3v1.3h-1.3zM159.2 448.6h1.3v1.3h-1.3zM160.4 445.5h1.3v1.3h-1.3zM154.5 439.6h1.3v1.3h-1.3zM161.2 446.6h1.3v1.3h-1.3zM156.3 452.6h1.3v1.3h-1.3zM147.2 446.5h1.3v1.3h-1.3zM155.9 443.1h1.3v1.3h-1.3zM156.4 437.9h1.3v1.3h-1.3zM158.7 440.1h1.3v1.3h-1.3zM158.7 445.9h1.3v1.3h-1.3zM145.0 442.3h1.3v1.3h-1.3zM152.4 446.6h1.3v1.3h-1.3zM157.4 439.0h1.3v1.3h-1.3zM150.5 437.9h1.3v1.3h-1.3zM149.2 445.7h1.3v1.3h-1.3zM156.2 441.7h1.3v1.3h-1.3zM153.2 452.4h1.3v1.3h-1.3zM152.3 443.6h1.3v1.3h-1.3zM147.2 446.6h1.3v1.3h-1.3zM153.7 447.7h1.3v1.3h-1.3zM147.5 439.1h1.3v1.3h-1.3zM157.5 437.7h1.3v1.3h-1.3zM145.2 444.7h1.3v1.3h-1.3zM151.5 443.8h1.3v1.3h-1.3zM145.8 450.6h1.3v1.3h-1.3zM156.4 438.7h1.3v1.3h-1.3zM157.0 447.5h1.3v1.3h-1.3zM155.7 438.6h1.3v1.3h-1.3zM156.2 446.3h1.3v1.3h-1.3zM146.6 449.1h1.3v1.3h-1.3zM155.8 443.3h1.3v1.3h-1.3zM158.7 447.4h1.3v1.3h-1.3zM152.4 446.3h1.3v1.3h-1.3zM150.4 452.7h1.3v1.3h-1.3zM156.2 441.3h1.3v1.3h-1.3zM150.5 447.6h1.3v1.3h-1.3zM144.2 442.8h1.3v1.3h-1.3zM146.4 447.8h1.3v1.3h-1.3zM153.6 446.7h1.3v1.3h-1.3zM161.1 446.0h1.3v1.3h-1.3zM143.3 443.1h1.3v1.3h-1.3zM149.0 437.8h1.3v1.3h-1.3zM157.9 447.8h1.3v1.3h-1.3zM158.0 446.0h1.3v1.3h-1.3zM146.3 448.5h1.3v1.3h-1.3zM157.4 440.6h1.3v1.3h-1.3zM145.9 450.3h1.3v1.3h-1.3zM157.5 440.7h1.3v1.3h-1.3zM145.2 440.9h1.3v1.3h-1.3zM143.4 442.8h1.3v1.3h-1.3zM143.4 450.4h1.3v1.3h-1.3zM142.9 440.7h1.3v1.3h-1.3zM155.1 441.1h1.3v1.3h-1.3zM158.1 442.6h1.3v1.3h-1.3zM159.1 442.2h1.3v1.3h-1.3zM149.1 442.3h1.3v1.3h-1.3zM147.7 444.2h1.3v1.3h-1.3zM152.6 445.8h1.3v1.3h-1.3zM154.6 446.0h1.3v1.3h-1.3zM156.6 452.1h1.3v1.3h-1.3zM143.5 442.2h1.3v1.3h-1.3zM145.8 439.3h1.3v1.3h-1.3zM150.7 440.7h1.3v1.3h-1.3zM149.4 449.0h1.3v1.3h-1.3zM146.9 438.8h1.3v1.3h-1.3zM150.3 449.5h1.3v1.3h-1.3zM161.3 443.5h1.3v1.3h-1.3zM142.8 442.4h1.3v1.3h-1.3zM144.1 450.4h1.3v1.3h-1.3zM146.7 442.7h1.3v1.3h-1.3zM150.0 449.4h1.3v1.3h-1.3zM156.2 441.7h1.3v1.3h-1.3zM155.6 444.1h1.3v1.3h-1.3zM149.4 451.4h1.3v1.3h-1.3zM157.2 449.1h1.3v1.3h-1.3zM147.4 443.3h1.3v1.3h-1.3zM151.9 437.3h1.3v1.3h-1.3zM155.9 451.2h1.3v1.3h-1.3zM146.4 450.0h1.3v1.3h-1.3zM161.2 447.7h1.3v1.3h-1.3zM145.5 449.9h1.3v1.3h-1.3zM145.6 447.7h1.3v1.3h-1.3z" fill="#2f5e46"/>
<path d="M152.7 390.6h1.3v1.3h-1.3zM144.9 397.5h1.3v1.3h-1.3zM150.6 394.5h1.3v1.3h-1.3zM154.3 395.5h1.3v1.3h-1.3zM137.9 407.5h1.3v1.3h-1.3zM139.3 407.2h1.3v1.3h-1.3zM149.0 393.7h1.3v1.3h-1.3zM142.2 405.9h1.3v1.3h-1.3zM151.2 392.8h1.3v1.3h-1.3zM133.7 411.8h1.3v1.3h-1.3zM152.7 397.3h1.3v1.3h-1.3zM144.5 397.4h1.3v1.3h-1.3zM154.6 392.5h1.3v1.3h-1.3zM141.2 405.4h1.3v1.3h-1.3zM132.5 409.3h1.3v1.3h-1.3zM149.1 401.4h1.3v1.3h-1.3zM140.7 400.2h1.3v1.3h-1.3zM133.8 407.8h1.3v1.3h-1.3zM137.2 411.5h1.3v1.3h-1.3zM153.9 391.6h1.3v1.3h-1.3zM153.6 391.6h1.3v1.3h-1.3zM136.6 404.1h1.3v1.3h-1.3zM135.4 412.5h1.3v1.3h-1.3zM139.8 402.2h1.3v1.3h-1.3zM141.5 404.0h1.3v1.3h-1.3zM154.0 391.5h1.3v1.3h-1.3zM149.7 399.5h1.3v1.3h-1.3zM145.4 401.9h1.3v1.3h-1.3zM142.1 404.4h1.3v1.3h-1.3zM138.6 402.4h1.3v1.3h-1.3zM135.2 412.3h1.3v1.3h-1.3zM147.4 398.2h1.3v1.3h-1.3zM155.2 394.4h1.3v1.3h-1.3zM152.6 395.0h1.3v1.3h-1.3zM146.7 394.6h1.3v1.3h-1.3zM146.8 403.2h1.3v1.3h-1.3zM140.9 403.8h1.3v1.3h-1.3zM136.6 405.0h1.3v1.3h-1.3zM140.1 405.7h1.3v1.3h-1.3zM146.8 394.6h1.3v1.3h-1.3zM149.5 394.0h1.3v1.3h-1.3zM139.0 410.9h1.3v1.3h-1.3zM137.5 411.8h1.3v1.3h-1.3z" fill="#66ade6"/>
<path d="M136.0 408.2h1.3v1.3h-1.3zM145.7 402.4h1.3v1.3h-1.3zM147.9 394.4h1.3v1.3h-1.3zM155.0 395.3h1.3v1.3h-1.3zM145.9 399.6h1.3v1.3h-1.3zM156.0 391.9h1.3v1.3h-1.3zM136.7 411.8h1.3v1.3h-1.3zM136.1 411.4h1.3v1.3h-1.3zM152.0 396.9h1.3v1.3h-1.3zM147.9 398.2h1.3v1.3h-1.3zM148.3 401.0h1.3v1.3h-1.3zM141.2 399.6h1.3v1.3h-1.3zM135.9 404.8h1.3v1.3h-1.3zM136.0 409.3h1.3v1.3h-1.3zM141.2 400.2h1.3v1.3h-1.3zM150.8 397.8h1.3v1.3h-1.3zM138.6 406.2h1.3v1.3h-1.3zM140.4 401.3h1.3v1.3h-1.3zM149.0 392.4h1.3v1.3h-1.3zM133.4 408.7h1.3v1.3h-1.3zM149.1 396.7h1.3v1.3h-1.3zM138.3 404.7h1.3v1.3h-1.3zM137.2 410.5h1.3v1.3h-1.3zM139.9 405.1h1.3v1.3h-1.3zM153.3 395.8h1.3v1.3h-1.3zM153.1 393.6h1.3v1.3h-1.3zM149.4 397.7h1.3v1.3h-1.3zM152.0 397.2h1.3v1.3h-1.3zM151.5 396.8h1.3v1.3h-1.3zM152.6 391.0h1.3v1.3h-1.3zM149.9 398.4h1.3v1.3h-1.3zM136.2 411.8h1.3v1.3h-1.3zM149.3 397.0h1.3v1.3h-1.3zM148.4 396.3h1.3v1.3h-1.3zM143.0 401.8h1.3v1.3h-1.3zM136.9 405.6h1.3v1.3h-1.3zM141.8 407.6h1.3v1.3h-1.3zM140.8 405.3h1.3v1.3h-1.3zM141.3 402.2h1.3v1.3h-1.3zM147.5 398.2h1.3v1.3h-1.3zM148.8 400.0h1.3v1.3h-1.3zM146.9 402.5h1.3v1.3h-1.3zM143.9 404.0h1.3v1.3h-1.3z" fill="#66ade6"/>
<path d="M153.0 398.0h1.3v1.3h-1.3zM157.2 402.9h1.3v1.3h-1.3zM150.7 399.6h1.3v1.3h-1.3zM152.5 402.2h1.3v1.3h-1.3zM154.5 404.1h1.3v1.3h-1.3zM150.9 399.5h1.3v1.3h-1.3zM151.2 404.9h1.3v1.3h-1.3zM150.4 406.9h1.3v1.3h-1.3zM153.5 399.1h1.3v1.3h-1.3zM154.7 404.2h1.3v1.3h-1.3zM153.4 406.5h1.3v1.3h-1.3zM150.9 407.5h1.3v1.3h-1.3z" fill="#9485c6"/>
<path d="M134.9 412.2h1.3v1.3h-1.3zM132.0 409.5h1.3v1.3h-1.3zM129.9 413.7h1.3v1.3h-1.3zM132.8 411.9h1.3v1.3h-1.3z" fill="#4b1a5f"/>
<path d="M138.5 393.2h1.3v1.3h-1.3zM134.2 409.1h1.3v1.3h-1.3zM137.8 401.1h1.3v1.3h-1.3zM141.3 395.0h1.3v1.3h-1.3zM137.4 390.9h1.3v1.3h-1.3zM138.1 407.1h1.3v1.3h-1.3zM130.5 402.3h1.3v1.3h-1.3zM131.5 410.2h1.3v1.3h-1.3zM125.4 405.1h1.3v1.3h-1.3zM126.6 411.2h1.3v1.3h-1.3zM138.7 397.7h1.3v1.3h-1.3zM133.7 397.3h1.3v1.3h-1.3zM129.5 404.3h1.3v1.3h-1.3zM136.8 402.6h1.3v1.3h-1.3zM130.3 401.5h1.3v1.3h-1.3zM128.2 415.1h1.3v1.3h-1.3zM128.3 409.3h1.3v1.3h-1.3zM127.4 406.2h1.3v1.3h-1.3zM129.4 399.2h1.3v1.3h-1.3zM131.5 410.7h1.3v1.3h-1.3zM140.0 398.6h1.3v1.3h-1.3zM129.7 405.9h1.3v1.3h-1.3zM128.6 401.0h1.3v1.3h-1.3zM136.7 400.1h1.3v1.3h-1.3zM137.0 397.1h1.3v1.3h-1.3zM132.5 398.2h1.3v1.3h-1.3zM127.8 408.8h1.3v1.3h-1.3zM132.2 407.4h1.3v1.3h-1.3zM134.1 397.7h1.3v1.3h-1.3zM129.5 397.9h1.3v1.3h-1.3zM126.3 405.5h1.3v1.3h-1.3zM130.9 398.2h1.3v1.3h-1.3z" fill="#4b1a5f"/>
<path d="M128.7 427.1h1.3v1.3h-1.3zM132.9 420.5h1.3v1.3h-1.3zM132.1 424.8h1.3v1.3h-1.3zM128.0 423.4h1.3v1.3h-1.3zM133.7 426.0h1.3v1.3h-1.3zM134.0 420.8h1.3v1.3h-1.3z" fill="#27447f"/>
<path d="M155.5 452.8h1.3v1.3h-1.3zM146.3 445.0h1.3v1.3h-1.3zM148.7 439.0h1.3v1.3h-1.3zM147.2 441.0h1.3v1.3h-1.3zM147.4 439.8h1.3v1.3h-1.3zM157.8 440.1h1.3v1.3h-1.3zM149.2 437.8h1.3v1.3h-1.3zM149.2 439.5h1.3v1.3h-1.3zM153.8 437.1h1.3v1.3h-1.3zM155.6 452.7h1.3v1.3h-1.3zM146.0 446.0h1.3v1.3h-1.3zM154.1 437.3h1.3v1.3h-1.3zM161.1 445.0h1.3v1.3h-1.3zM143.1 445.8h1.3v1.3h-1.3zM155.3 444.6h1.3v1.3h-1.3zM146.9 446.0h1.3v1.3h-1.3zM152.2 451.2h1.3v1.3h-1.3zM153.4 444.9h1.3v1.3h-1.3zM152.8 449.6h1.3v1.3h-1.3zM161.1 447.3h1.3v1.3h-1.3zM158.1 442.9h1.3v1.3h-1.3zM153.1 449.8h1.3v1.3h-1.3zM155.7 447.3h1.3v1.3h-1.3zM155.8 450.3h1.3v1.3h-1.3zM157.3 443.5h1.3v1.3h-1.3zM144.8 441.5h1.3v1.3h-1.3zM157.0 447.8h1.3v1.3h-1.3zM156.8 441.6h1.3v1.3h-1.3zM160.2 445.8h1.3v1.3h-1.3zM156.3 446.8h1.3v1.3h-1.3zM151.1 449.6h1.3v1.3h-1.3zM152.9 440.0h1.3v1.3h-1.3zM158.6 440.5h1.3v1.3h-1.3zM158.7 445.0h1.3v1.3h-1.3zM152.5 440.2h1.3v1.3h-1.3zM149.0 444.1h1.3v1.3h-1.3zM154.8 447.5h1.3v1.3h-1.3zM154.4 447.8h1.3v1.3h-1.3zM149.5 452.6h1.3v1.3h-1.3zM151.6 447.2h1.3v1.3h-1.3zM159.5 449.4h1.3v1.3h-1.3zM160.1 439.8h1.3v1.3h-1.3zM158.7 438.1h1.3v1.3h-1.3zM150.6 440.3h1.3v1.3h-1.3zM147.0 440.8h1.3v1.3h-1.3zM145.6 442.3h1.3v1.3h-1.3zM156.6 439.1h1.3v1.3h-1.3zM156.2 446.6h1.3v1.3h-1.3zM158.9 443.2h1.3v1.3h-1.3zM155.5 437.3h1.3v1.3h-1.3zM148.4 444.6h1.3v1.3h-1.3zM147.6 442.8h1.3v1.3h-1.3zM158.7 451.1h1.3v1.3h-1.3zM153.4 438.4h1.3v1.3h-1.3zM149.1 443.5h1.3v1.3h-1.3zM145.5 441.8h1.3v1.3h-1.3zM150.7 451.2h1.3v1.3h-1.3zM143.3 450.1h1.3v1.3h-1.3zM148.2 452.2h1.3v1.3h-1.3zM156.9 446.9h1.3v1.3h-1.3zM161.5 444.2h1.3v1.3h-1.3zM159.4 441.8h1.3v1.3h-1.3zM146.1 440.2h1.3v1.3h-1.3zM150.0 452.5h1.3v1.3h-1.3zM159.5 442.3h1.3v1.3h-1.3zM158.1 449.6h1.3v1.3h-1.3zM147.7 449.6h1.3v1.3h-1.3zM150.5 442.0h1.3v1.3h-1.3zM152.9 447.0h1.3v1.3h-1.3zM156.6 449.5h1.3v1.3h-1.3zM146.6 442.2h1.3v1.3h-1.3zM155.4 447.0h1.3v1.3h-1.3zM147.2 444.0h1.3v1.3h-1.3zM159.0 449.8h1.3v1.3h-1.3zM144.6 440.0h1.3v1.3h-1.3zM161.0 445.2h1.3v1.3h-1.3zM153.2 445.4h1.3v1.3h-1.3zM148.4 446.8h1.3v1.3h-1.3zM155.7 450.5h1.3v1.3h-1.3zM150.7 441.5h1.3v1.3h-1.3zM151.5 438.5h1.3v1.3h-1.3zM159.0 450.5h1.3v1.3h-1.3zM145.8 448.9h1.3v1.3h-1.3zM154.2 439.3h1.3v1.3h-1.3zM148.3 440.4h1.3v1.3h-1.3zM143.3 448.1h1.3v1.3h-1.3zM145.0 440.7h1.3v1.3h-1.3zM146.0 449.5h1.3v1.3h-1.3zM153.1 451.9h1.3v1.3h-1.3zM148.9 449.7h1.3v1.3h-1.3zM155.7 442.6h1.3v1.3h-1.3zM156.5 447.3h1.3v1.3h-1.3zM148.3 446.2h1.3v1.3h-1.3zM146.2 448.6h1.3v1.3h-1.3zM152.0 448.6h1.3v1.3h-1.3zM150.5 443.5h1.3v1.3h-1.3zM154.5 441.3h1.3v1.3h-1.3zM149.3 438.5h1.3v1.3h-1.3zM159.7 438.9h1.3v1.3h-1.3zM145.3 444.9h1.3v1.3h-1.3zM152.7 450.4h1.3v1.3h-1.3zM160.8 442.1h1.3v1.3h-1.3zM153.2 441.4h1.3v1.3h-1.3zM146.3 448.5h1.3v1.3h-1.3zM158.7 450.9h1.3v1.3h-1.3zM149.5 438.6h1.3v1.3h-1.3zM150.7 440.0h1.3v1.3h-1.3zM156.5 441.8h1.3v1.3h-1.3zM149.5 444.2h1.3v1.3h-1.3zM150.3 443.3h1.3v1.3h-1.3z" fill="#2f5e46"/>
<path d="M150.0 409.1h1.3v1.3h-1.3zM152.9 411.5h1.3v1.3h-1.3zM149.4 408.7h1.3v1.3h-1.3zM156.6 401.0h1.3v1.3h-1.3zM154.7 405.5h1.3v1.3h-1.3zM151.1 404.9h1.3v1.3h-1.3zM150.9 403.0h1.3v1.3h-1.3zM151.5 408.1h1.3v1.3h-1.3zM155.1 406.6h1.3v1.3h-1.3zM155.8 402.2h1.3v1.3h-1.3zM154.4 407.8h1.3v1.3h-1.3zM151.6 398.5h1.3v1.3h-1.3zM155.6 407.4h1.3v1.3h-1.3z" fill="#9485c6"/>
<path d="M156.8 409.0h1.3v1.3h-1.3zM156.0 406.4h1.3v1.3h-1.3zM154.7 406.9h1.3v1.3h-1.3zM157.3 401.4h1.3v1.3h-1.3zM149.7 398.1h1.3v1.3h-1.3zM156.4 407.8h1.3v1.3h-1.3zM152.5 401.0h1.3v1.3h-1.3zM153.1 409.8h1.3v1.3h-1.3zM156.8 408.8h1.3v1.3h-1.3zM152.3 398.5h1.3v1.3h-1.3zM153.2 398.9h1.3v1.3h-1.3zM156.7 401.2h1.3v1.3h-1.3zM152.7 399.6h1.3v1.3h-1.3z" fill="#9485c6"/>
<path d="M139.0 395.3h1.3v1.3h-1.3zM138.4 396.1h1.3v1.3h-1.3zM138.3 397.2h1.3v1.3h-1.3zM135.9 397.8h1.3v1.3h-1.3zM137.7 397.0h1.3v1.3h-1.3zM141.0 396.2h1.3v1.3h-1.3zM134.9 399.5h1.3v1.3h-1.3z" fill="#4b1a5f"/>
<path d="M139.0 459.4h1.3v1.3h-1.3zM136.6 455.6h1.3v1.3h-1.3zM137.1 444.6h1.3v1.3h-1.3zM142.1 445.5h1.3v1.3h-1.3zM138.7 448.9h1.3v1.3h-1.3zM135.6 460.0h1.3v1.3h-1.3zM137.6 444.4h1.3v1.3h-1.3zM136.5 459.7h1.3v1.3h-1.3zM124.6 447.5h1.3v1.3h-1.3zM125.1 451.8h1.3v1.3h-1.3zM130.8 449.2h1.3v1.3h-1.3zM126.6 456.3h1.3v1.3h-1.3zM135.9 448.9h1.3v1.3h-1.3zM130.6 444.9h1.3v1.3h-1.3zM132.8 443.6h1.3v1.3h-1.3zM125.0 447.8h1.3v1.3h-1.3zM131.0 447.8h1.3v1.3h-1.3zM140.0 456.8h1.3v1.3h-1.3zM141.4 454.2h1.3v1.3h-1.3zM141.0 457.6h1.3v1.3h-1.3zM139.7 443.8h1.3v1.3h-1.3zM124.3 451.8h1.3v1.3h-1.3zM137.2 446.7h1.3v1.3h-1.3zM129.9 443.1h1.3v1.3h-1.3zM141.8 450.9h1.3v1.3h-1.3zM136.9 455.6h1.3v1.3h-1.3zM138.2 454.0h1.3v1.3h-1.3zM139.1 444.0h1.3v1.3h-1.3zM126.7 448.1h1.3v1.3h-1.3zM130.5 456.8h1.3v1.3h-1.3zM127.9 455.7h1.3v1.3h-1.3zM143.6 450.2h1.3v1.3h-1.3zM138.3 446.9h1.3v1.3h-1.3zM130.3 454.1h1.3v1.3h-1.3zM126.3 451.7h1.3v1.3h-1.3zM133.2 456.3h1.3v1.3h-1.3zM126.2 445.1h1.3v1.3h-1.3zM126.9 456.0h1.3v1.3h-1.3zM128.8 442.3h1.3v1.3h-1.3zM138.6 447.0h1.3v1.3h-1.3zM129.2 452.8h1.3v1.3h-1.3zM135.1 458.1h1.3v1.3h-1.3zM140.6 457.6h1.3v1.3h-1.3zM141.1 455.8h1.3v1.3h-1.3zM140.4 452.5h1.3v1.3h-1.3zM139.4 445.6h1.3v1.3h-1.3zM136.9 459.6h1.3v1.3h-1.3zM134.2 455.6h1.3v1.3h-1.3zM124.3 449.4h1.3v1.3h-1.3zM141.5 453.5h1.3v1.3h-1.3zM133.7 452.7h1.3v1.3h-1.3zM137.6 444.0h1.3v1.3h-1.3zM137.3 457.8h1.3v1.3h-1.3zM125.5 447.0h1.3v1.3h-1.3zM127.4 443.0h1.3v1.3h-1.3zM131.6 446.3h1.3v1.3h-1.3zM126.9 456.7h1.3v1.3h-1.3zM139.2 453.3h1.3v1.3h-1.3zM138.1 449.0h1.3v1.3h-1.3zM141.7 457.5h1.3v1.3h-1.3zM141.0 450.3h1.3v1.3h-1.3zM134.1 441.9h1.3v1.3h-1.3zM134.4 453.9h1.3v1.3h-1.3zM142.6 455.1h1.3v1.3h-1.3zM128.6 456.8h1.3v1.3h-1.3zM127.8 447.3h1.3v1.3h-1.3zM135.1 454.0h1.3v1.3h-1.3zM134.7 447.9h1.3v1.3h-1.3zM141.2 445.6h1.3v1.3h-1.3zM127.1 450.5h1.3v1.3h-1.3zM127.2 451.5h1.3v1.3h-1.3zM124.8 447.8h1.3v1.3h-1.3zM133.0 455.1h1.3v1.3h-1.3zM128.9 454.7h1.3v1.3h-1.3zM125.8 447.7h1.3v1.3h-1.3zM128.2 448.8h1.3v1.3h-1.3zM133.8 457.6h1.3v1.3h-1.3zM138.3 456.0h1.3v1.3h-1.3zM140.5 456.5h1.3v1.3h-1.3zM128.6 455.1h1.3v1.3h-1.3zM130.5 442.0h1.3v1.3h-1.3zM130.7 449.8h1.3v1.3h-1.3zM135.1 442.6h1.3v1.3h-1.3zM125.7 443.9h1.3v1.3h-1.3zM132.9 455.3h1.3v1.3h-1.3zM131.7 444.6h1.3v1.3h-1.3zM136.1 454.3h1.3v1.3h-1.3zM138.1 448.8h1.3v1.3h-1.3zM139.8 459.5h1.3v1.3h-1.3zM126.9 445.3h1.3v1.3h-1.3zM140.5 454.7h1.3v1.3h-1.3zM126.6 442.8h1.3v1.3h-1.3zM140.1 455.3h1.3v1.3h-1.3zM127.4 454.3h1.3v1.3h-1.3zM124.1 450.2h1.3v1.3h-1.3zM130.8 444.9h1.3v1.3h-1.3zM134.2 446.6h1.3v1.3h-1.3zM143.3 449.2h1.3v1.3h-1.3zM141.0 445.2h1.3v1.3h-1.3zM138.9 449.3h1.3v1.3h-1.3zM124.1 448.1h1.3v1.3h-1.3zM128.8 453.2h1.3v1.3h-1.3zM132.5 444.4h1.3v1.3h-1.3zM136.2 447.7h1.3v1.3h-1.3zM127.5 453.1h1.3v1.3h-1.3zM136.3 457.7h1.3v1.3h-1.3zM141.8 445.2h1.3v1.3h-1.3zM132.4 451.5h1.3v1.3h-1.3zM136.9 444.5h1.3v1.3h-1.3zM140.3 445.3h1.3v1.3h-1.3zM137.0 453.2h1.3v1.3h-1.3zM141.9 452.4h1.3v1.3h-1.3zM136.3 456.9h1.3v1.3h-1.3zM138.9 446.1h1.3v1.3h-1.3zM138.4 459.3h1.3v1.3h-1.3zM126.8 444.4h1.3v1.3h-1.3zM139.8 452.9h1.3v1.3h-1.3zM131.1 458.3h1.3v1.3h-1.3zM134.6 460.0h1.3v1.3h-1.3zM135.9 453.4h1.3v1.3h-1.3zM138.5 454.5h1.3v1.3h-1.3zM142.0 443.5h1.3v1.3h-1.3zM127.2 457.3h1.3v1.3h-1.3zM137.9 451.9h1.3v1.3h-1.3zM142.2 453.4h1.3v1.3h-1.3zM137.3 459.2h1.3v1.3h-1.3zM138.1 444.4h1.3v1.3h-1.3zM135.9 452.4h1.3v1.3h-1.3zM134.4 449.9h1.3v1.3h-1.3zM128.7 443.8h1.3v1.3h-1.3zM140.3 451.2h1.3v1.3h-1.3zM128.2 444.2h1.3v1.3h-1.3zM139.3 457.6h1.3v1.3h-1.3zM129.8 452.9h1.3v1.3h-1.3z" fill="#5da83a"/>
<path d="M131.9 441.0h1.3v1.3h-1.3zM132.5 434.1h1.3v1.3h-1.3zM134.0 436.2h1.3v1.3h-1.3zM130.3 450.4h1.3v1.3h-1.3zM129.0 428.8h1.3v1.3h-1.3zM127.8 434.2h1.3v1.3h-1.3zM137.1 431.6h1.3v1.3h-1.3zM129.8 444.6h1.3v1.3h-1.3zM120.9 435.4h1.3v1.3h-1.3zM121.3 436.6h1.3v1.3h-1.3zM127.1 446.4h1.3v1.3h-1.3zM124.9 444.9h1.3v1.3h-1.3zM138.0 445.0h1.3v1.3h-1.3zM125.7 434.1h1.3v1.3h-1.3zM118.6 432.4h1.3v1.3h-1.3zM131.9 444.8h1.3v1.3h-1.3zM138.9 434.0h1.3v1.3h-1.3zM128.6 430.4h1.3v1.3h-1.3zM127.2 428.6h1.3v1.3h-1.3zM124.5 428.4h1.3v1.3h-1.3zM130.7 444.0h1.3v1.3h-1.3zM142.0 438.9h1.3v1.3h-1.3zM137.5 443.3h1.3v1.3h-1.3zM141.2 446.9h1.3v1.3h-1.3zM128.5 439.2h1.3v1.3h-1.3zM131.4 427.6h1.3v1.3h-1.3zM123.5 447.6h1.3v1.3h-1.3zM129.0 444.1h1.3v1.3h-1.3zM136.2 427.6h1.3v1.3h-1.3zM123.0 439.7h1.3v1.3h-1.3zM119.7 451.9h1.3v1.3h-1.3zM121.5 440.5h1.3v1.3h-1.3zM119.6 432.9h1.3v1.3h-1.3zM118.6 445.7h1.3v1.3h-1.3zM122.6 448.0h1.3v1.3h-1.3zM120.2 439.6h1.3v1.3h-1.3zM130.8 427.1h1.3v1.3h-1.3zM135.8 434.7h1.3v1.3h-1.3zM131.5 428.4h1.3v1.3h-1.3zM143.2 444.6h1.3v1.3h-1.3zM133.3 431.0h1.3v1.3h-1.3zM125.9 435.5h1.3v1.3h-1.3zM123.8 432.0h1.3v1.3h-1.3zM142.8 442.9h1.3v1.3h-1.3zM141.5 433.6h1.3v1.3h-1.3zM130.4 437.0h1.3v1.3h-1.3zM123.9 436.8h1.3v1.3h-1.3zM130.9 435.2h1.3v1.3h-1.3zM123.5 430.1h1.3v1.3h-1.3zM136.9 441.7h1.3v1.3h-1.3zM131.9 433.7h1.3v1.3h-1.3zM128.2 446.1h1.3v1.3h-1.3zM133.6 436.5h1.3v1.3h-1.3zM122.7 445.3h1.3v1.3h-1.3zM126.0 449.3h1.3v1.3h-1.3zM127.6 435.5h1.3v1.3h-1.3zM134.7 445.2h1.3v1.3h-1.3zM118.8 436.1h1.3v1.3h-1.3zM119.1 441.9h1.3v1.3h-1.3zM122.5 432.9h1.3v1.3h-1.3zM129.2 429.1h1.3v1.3h-1.3zM139.5 446.4h1.3v1.3h-1.3zM139.1 445.7h1.3v1.3h-1.3zM126.4 430.5h1.3v1.3h-1.3zM126.7 429.9h1.3v1.3h-1.3zM142.6 435.2h1.3v1.3h-1.3zM133.0 434.4h1.3v1.3h-1.3zM124.2 436.4h1.3v1.3h-1.3zM125.1 438.7h1.3v1.3h-1.3zM142.2 434.2h1.3v1.3h-1.3zM126.1 441.0h1.3v1.3h-1.3zM127.8 442.8h1.3v1.3h-1.3zM118.4 445.0h1.3v1.3h-1.3zM122.8 435.9h1.3v1.3h-1.3zM140.7 447.2h1.3v1.3h-1.3zM119.3 453.2h1.3v1.3h-1.3zM129.6 436.4h1.3v1.3h-1.3zM135.6 450.7h1.3v1.3h-1.3zM137.6 433.3h1.3v1.3h-1.3zM119.2 451.5h1.3v1.3h-1.3zM133.0 438.5h1.3v1.3h-1.3zM120.9 439.6h1.3v1.3h-1.3zM140.9 436.0h1.3v1.3h-1.3zM139.1 443.9h1.3v1.3h-1.3zM129.8 436.2h1.3v1.3h-1.3zM119.7 432.8h1.3v1.3h-1.3zM119.5 434.3h1.3v1.3h-1.3zM122.0 448.6h1.3v1.3h-1.3zM140.9 448.7h1.3v1.3h-1.3zM123.6 452.3h1.3v1.3h-1.3zM138.9 440.5h1.3v1.3h-1.3zM121.3 445.6h1.3v1.3h-1.3zM121.7 453.5h1.3v1.3h-1.3zM128.4 454.5h1.3v1.3h-1.3zM129.4 429.3h1.3v1.3h-1.3zM132.8 427.2h1.3v1.3h-1.3zM129.1 439.3h1.3v1.3h-1.3zM135.1 445.7h1.3v1.3h-1.3zM122.7 432.7h1.3v1.3h-1.3zM122.5 446.0h1.3v1.3h-1.3zM127.9 430.2h1.3v1.3h-1.3zM128.3 427.2h1.3v1.3h-1.3zM132.2 436.3h1.3v1.3h-1.3zM117.5 450.8h1.3v1.3h-1.3zM136.8 439.6h1.3v1.3h-1.3zM128.5 430.0h1.3v1.3h-1.3zM127.0 451.6h1.3v1.3h-1.3zM136.1 433.2h1.3v1.3h-1.3zM117.7 441.4h1.3v1.3h-1.3zM122.1 439.5h1.3v1.3h-1.3zM127.2 443.0h1.3v1.3h-1.3zM125.6 430.4h1.3v1.3h-1.3zM142.8 434.9h1.3v1.3h-1.3zM138.5 438.0h1.3v1.3h-1.3zM125.4 430.1h1.3v1.3h-1.3zM126.4 442.7h1.3v1.3h-1.3zM132.2 441.9h1.3v1.3h-1.3zM127.8 435.7h1.3v1.3h-1.3zM135.4 446.7h1.3v1.3h-1.3zM124.8 453.3h1.3v1.3h-1.3zM136.0 432.8h1.3v1.3h-1.3zM126.0 437.9h1.3v1.3h-1.3zM116.6 448.0h1.3v1.3h-1.3zM121.0 454.4h1.3v1.3h-1.3zM129.4 443.7h1.3v1.3h-1.3zM117.1 448.5h1.3v1.3h-1.3zM128.0 434.3h1.3v1.3h-1.3zM131.2 435.5h1.3v1.3h-1.3zM140.5 447.9h1.3v1.3h-1.3zM137.2 438.8h1.3v1.3h-1.3zM131.8 427.3h1.3v1.3h-1.3zM118.2 448.2h1.3v1.3h-1.3zM135.4 435.0h1.3v1.3h-1.3zM141.0 446.3h1.3v1.3h-1.3zM132.8 442.2h1.3v1.3h-1.3zM118.8 438.9h1.3v1.3h-1.3zM128.9 451.4h1.3v1.3h-1.3zM136.4 434.6h1.3v1.3h-1.3zM134.7 432.0h1.3v1.3h-1.3zM131.0 452.5h1.3v1.3h-1.3zM131.7 441.6h1.3v1.3h-1.3zM123.1 447.1h1.3v1.3h-1.3zM120.0 433.5h1.3v1.3h-1.3zM118.7 437.1h1.3v1.3h-1.3zM133.1 445.1h1.3v1.3h-1.3zM135.2 434.1h1.3v1.3h-1.3zM139.0 432.6h1.3v1.3h-1.3zM130.4 438.1h1.3v1.3h-1.3zM138.1 443.0h1.3v1.3h-1.3zM130.6 437.6h1.3v1.3h-1.3zM129.6 431.9h1.3v1.3h-1.3zM119.9 449.1h1.3v1.3h-1.3zM122.4 453.1h1.3v1.3h-1.3zM120.8 445.7h1.3v1.3h-1.3zM133.9 440.2h1.3v1.3h-1.3zM117.7 449.7h1.3v1.3h-1.3zM125.4 437.3h1.3v1.3h-1.3zM132.8 426.8h1.3v1.3h-1.3zM133.0 447.7h1.3v1.3h-1.3zM131.1 451.6h1.3v1.3h-1.3zM119.5 444.8h1.3v1.3h-1.3zM123.1 455.3h1.3v1.3h-1.3zM123.8 433.2h1.3v1.3h-1.3zM124.2 448.8h1.3v1.3h-1.3zM129.0 435.2h1.3v1.3h-1.3zM138.9 431.6h1.3v1.3h-1.3zM134.9 448.7h1.3v1.3h-1.3zM134.0 444.2h1.3v1.3h-1.3zM129.5 443.9h1.3v1.3h-1.3zM125.0 437.2h1.3v1.3h-1.3zM132.9 437.6h1.3v1.3h-1.3zM127.3 445.6h1.3v1.3h-1.3zM135.8 436.8h1.3v1.3h-1.3zM122.6 449.7h1.3v1.3h-1.3zM117.1 446.1h1.3v1.3h-1.3zM135.6 434.1h1.3v1.3h-1.3zM138.1 431.9h1.3v1.3h-1.3zM125.0 450.9h1.3v1.3h-1.3zM126.0 428.1h1.3v1.3h-1.3zM142.9 439.2h1.3v1.3h-1.3zM124.7 445.1h1.3v1.3h-1.3zM127.4 440.9h1.3v1.3h-1.3zM139.4 440.6h1.3v1.3h-1.3zM124.1 454.2h1.3v1.3h-1.3zM124.6 441.9h1.3v1.3h-1.3zM130.8 438.4h1.3v1.3h-1.3zM120.2 443.0h1.3v1.3h-1.3z" fill="#27447f"/>
<path d="M146.6 390.6h1.3v1.3h-1.3zM147.8 388.6h1.3v1.3h-1.3zM154.2 389.7h1.3v1.3h-1.3zM148.6 392.3h1.3v1.3h-1.3zM142.8 392.3h1.3v1.3h-1.3zM145.4 392.2h1.3v1.3h-1.3zM152.5 390.2h1.3v1.3h-1.3zM153.1 390.7h1.3v1.3h-1.3zM151.7 391.8h1.3v1.3h-1.3zM148.2 392.2h1.3v1.3h-1.3zM153.9 388.6h1.3v1.3h-1.3zM147.3 389.8h1.3v1.3h-1.3zM150.7 392.1h1.3v1.3h-1.3zM145.7 388.5h1.3v1.3h-1.3z" fill="#4b1a5f"/>
<path d="M134.2 398.3h1.3v1.3h-1.3zM137.2 400.6h1.3v1.3h-1.3zM134.6 398.8h1.3v1.3h-1.3zM135.1 398.6h1.3v1.3h-1.3zM140.3 395.9h1.3v1.3h-1.3zM139.6 396.8h1.3v1.3h-1.3z" fill="#4b1a5f"/>
<path d="M143.1 452.2h1.3v1.3h-1.3zM133.9 442.3h1.3v1.3h-1.3zM139.1 455.3h1.3v1.3h-1.3zM130.7 455.4h1.3v1.3h-1.3zM124.4 452.5h1.3v1.3h-1.3zM130.2 454.1h1.3v1.3h-1.3zM131.5 445.0h1.3v1.3h-1.3zM130.7 455.7h1.3v1.3h-1.3zM132.7 453.1h1.3v1.3h-1.3zM142.1 450.9h1.3v1.3h-1.3zM131.5 450.0h1.3v1.3h-1.3zM139.7 448.6h1.3v1.3h-1.3zM140.7 452.0h1.3v1.3h-1.3zM138.1 454.3h1.3v1.3h-1.3zM141.4 445.0h1.3v1.3h-1.3zM138.0 450.1h1.3v1.3h-1.3zM132.7 455.6h1.3v1.3h-1.3zM132.2 456.1h1.3v1.3h-1.3zM136.1 453.6h1.3v1.3h-1.3zM129.1 442.7h1.3v1.3h-1.3zM129.0 445.4h1.3v1.3h-1.3zM140.3 446.8h1.3v1.3h-1.3zM140.6 450.4h1.3v1.3h-1.3zM139.4 450.0h1.3v1.3h-1.3zM134.9 444.0h1.3v1.3h-1.3zM126.8 453.1h1.3v1.3h-1.3zM127.2 450.5h1.3v1.3h-1.3zM136.6 451.5h1.3v1.3h-1.3zM130.7 457.0h1.3v1.3h-1.3zM132.7 454.6h1.3v1.3h-1.3zM137.6 452.1h1.3v1.3h-1.3zM134.8 443.1h1.3v1.3h-1.3zM132.9 449.9h1.3v1.3h-1.3zM126.5 450.9h1.3v1.3h-1.3zM141.2 452.7h1.3v1.3h-1.3zM130.3 447.8h1.3v1.3h-1.3zM139.0 453.0h1.3v1.3h-1.3zM127.8 449.9h1.3v1.3h-1.3zM136.1 442.9h1.3v1.3h-1.3zM136.0 443.3h1.3v1.3h-1.3zM135.2 451.6h1.3v1.3h-1.3zM135.1 444.0h1.3v1.3h-1.3zM142.9 453.9h1.3v1.3h-1.3zM129.4 452.7h1.3v1.3h-1.3zM132.9 449.9h1.3v1.3h-1.3zM129.9 453.2h1.3v1.3h-1.3zM129.6 456.6h1.3v1.3h-1.3zM131.7 443.1h1.3v1.3h-1.3zM137.5 450.0h1.3v1.3h-1.3zM127.6 442.6h1.3v1.3h-1.3zM129.9 451.7h1.3v1.3h-1.3zM136.0 450.8h1.3v1.3h-1.3zM131.5 442.4h1.3v1.3h-1.3zM138.4 445.4h1.3v1.3h-1.3zM133.3 445.0h1.3v1.3h-1.3zM138.8 447.1h1.3v1.3h-1.3zM136.9 448.9h1.3v1.3h-1.3zM140.4 457.6h1.3v1.3h-1.3zM128.3 447.6h1.3v1.3h-1.3zM135.4 452.2h1.3v1.3h-1.3zM137.6 459.7h1.3v1.3h-1.3zM130.7 445.1h1.3v1.3h-1.3zM132.0 452.9h1.3v1.3h-1.3zM135.6 456.8h1.3v1.3h-1.3zM130.2 454.4h1.3v1.3h-1.3zM124.3 450.6h1.3v1.3h-1.3zM134.9 454.8h1.3v1.3h-1.3zM126.6 454.1h1.3v1.3h-1.3zM141.6 445.3h1.3v1.3h-1.3zM140.1 458.2h1.3v1.3h-1.3zM140.9 458.6h1.3v1.3h-1.3zM132.2 443.8h1.3v1.3h-1.3zM129.8 456.3h1.3v1.3h-1.3zM133.0 449.5h1.3v1.3h-1.3zM141.4 447.8h1.3v1.3h-1.3zM140.7 455.6h1.3v1.3h-1.3zM141.0 453.9h1.3v1.3h-1.3zM134.6 442.0h1.3v1.3h-1.3zM135.9 458.3h1.3v1.3h-1.3zM137.4 458.8h1.3v1.3h-1.3zM131.5 457.5h1.3v1.3h-1.3zM133.8 457.8h1.3v1.3h-1.3zM142.0 447.2h1.3v1.3h-1.3zM137.1 454.5h1.3v1.3h-1.3zM127.6 454.3h1.3v1.3h-1.3zM137.8 443.8h1.3v1.3h-1.3zM139.8 459.3h1.3v1.3h-1.3zM135.9 448.4h1.3v1.3h-1.3zM135.3 456.6h1.3v1.3h-1.3zM127.0 457.6h1.3v1.3h-1.3zM125.4 452.5h1.3v1.3h-1.3zM133.9 454.8h1.3v1.3h-1.3zM133.4 441.5h1.3v1.3h-1.3zM125.5 454.5h1.3v1.3h-1.3zM137.4 445.2h1.3v1.3h-1.3zM136.6 457.1h1.3v1.3h-1.3zM131.6 452.7h1.3v1.3h-1.3zM128.9 456.9h1.3v1.3h-1.3zM131.1 446.9h1.3v1.3h-1.3zM143.8 451.0h1.3v1.3h-1.3zM129.2 447.7h1.3v1.3h-1.3zM132.2 447.5h1.3v1.3h-1.3zM143.9 451.1h1.3v1.3h-1.3zM130.5 450.4h1.3v1.3h-1.3zM141.4 455.2h1.3v1.3h-1.3zM141.3 444.9h1.3v1.3h-1.3zM132.8 442.6h1.3v1.3h-1.3zM140.8 454.0h1.3v1.3h-1.3zM132.4 445.7h1.3v1.3h-1.3zM128.0 457.1h1.3v1.3h-1.3zM138.8 451.5h1.3v1.3h-1.3zM139.7 452.4h1.3v1.3h-1.3zM135.0 458.4h1.3v1.3h-1.3zM130.4 451.7h1.3v1.3h-1.3zM129.5 443.2h1.3v1.3h-1.3zM136.6 444.3h1.3v1.3h-1.3zM132.9 457.3h1.3v1.3h-1.3zM131.5 457.2h1.3v1.3h-1.3zM135.5 442.8h1.3v1.3h-1.3zM143.3 450.5h1.3v1.3h-1.3zM139.8 446.5h1.3v1.3h-1.3zM129.0 447.8h1.3v1.3h-1.3zM131.3 442.0h1.3v1.3h-1.3zM125.7 449.3h1.3v1.3h-1.3zM130.0 444.7h1.3v1.3h-1.3zM130.8 454.9h1.3v1.3h-1.3zM124.5 449.9h1.3v1.3h-1.3zM133.0 460.1h1.3v1.3h-1.3zM133.5 451.5h1.3v1.3h-1.3zM138.0 453.2h1.3v1.3h-1.3zM137.2 451.3h1.3v1.3h-1.3zM138.2 444.1h1.3v1.3h-1.3zM129.2 445.4h1.3v1.3h-1.3z" fill="#5da83a"/>
<path d="M143.2 399.5h1.3v1.3h-1.3zM144.5 404.2h1.3v1.3h-1.3zM149.0 401.4h1.3v1.3h-1.3zM140.4 400.3h1.3v1.3h-1.3zM146.9 393.8h1.3v1.3h-1.3zM141.2 398.7h1.3v1.3h-1.3zM148.8 399.9h1.3v1.3h-1.3zM149.0 398.2h1.3v1.3h-1.3zM148.0 397.6h1.3v1.3h-1.3zM155.6 393.7h1.3v1.3h-1.3zM142.7 405.5h1.3v1.3h-1.3zM137.3 411.3h1.3v1.3h-1.3zM148.1 394.3h1.3v1.3h-1.3zM147.8 401.1h1.3v1.3h-1.3zM142.3 400.7h1.3v1.3h-1.3zM133.5 410.1h1.3v1.3h-1.3zM145.6 399.4h1.3v1.3h-1.3zM148.3 401.9h1.3v1.3h-1.3zM141.0 402.0h1.3v1.3h-1.3zM142.5 397.8h1.3v1.3h-1.3zM144.9 402.7h1.3v1.3h-1.3zM148.7 393.9h1.3v1.3h-1.3zM146.0 395.5h1.3v1.3h-1.3zM150.3 397.7h1.3v1.3h-1.3zM149.0 399.5h1.3v1.3h-1.3zM153.3 393.1h1.3v1.3h-1.3zM146.9 400.4h1.3v1.3h-1.3zM146.1 401.3h1.3v1.3h-1.3zM152.9 394.4h1.3v1.3h-1.3zM147.4 401.0h1.3v1.3h-1.3zM137.7 407.4h1.3v1.3h-1.3zM144.4 405.9h1.3v1.3h-1.3zM153.1 392.7h1.3v1.3h-1.3zM148.8 395.3h1.3v1.3h-1.3zM142.7 406.1h1.3v1.3h-1.3zM145.0 404.0h1.3v1.3h-1.3zM145.4 405.2h1.3v1.3h-1.3zM142.3 407.9h1.3v1.3h-1.3zM153.2 395.0h1.3v1.3h-1.3zM150.4 391.9h1.3v1.3h-1.3zM140.9 402.8h1.3v1.3h-1.3zM154.3 396.4h1.3v1.3h-1.3zM142.4 402.7h1.3v1.3h-1.3zM138.8 410.3h1.3v1.3h-1.3z" fill="#66ade6"/>
<path d="M137.3 398.1h1.3v1.3h-1.3zM136.6 401.1h1.3v1.3h-1.3zM140.3 396.3h1.3v1.3h-1.3zM136.2 397.7h1.3v1.3h-1.3zM140.8 396.9h1.3v1.3h-1.3zM137.1 397.3h1.3v1.3h-1.3zM137.1 397.4h1.3v1.3h-1.3z" fill="#4b1a5f"/>
<path d="M129.4 403.6h1.3v1.3h-1.3zM134.4 394.2h1.3v1.3h-1.3zM136.2 406.3h1.3v1.3h-1.3zM128.3 410.2h1.3v1.3h-1.3zM127.4 413.9h1.3v1.3h-1.3zM134.3 407.6h1.3v1.3h-1.3zM139.0 396.4h1.3v1.3h-1.3zM128.7 408.2h1.3v1.3h-1.3zM133.5 394.6h1.3v1.3h-1.3zM135.5 409.4h1.3v1.3h-1.3zM136.1 398.3h1.3v1.3h-1.3zM128.4 408.4h1.3v1.3h-1.3zM135.1 402.2h1.3v1.3h-1.3zM131.4 396.2h1.3v1.3h-1.3zM139.7 391.4h1.3v1.3h-1.3zM140.2 392.9h1.3v1.3h-1.3zM140.3 393.5h1.3v1.3h-1.3zM127.6 409.0h1.3v1.3h-1.3zM132.0 403.9h1.3v1.3h-1.3zM132.5 411.7h1.3v1.3h-1.3zM132.1 396.2h1.3v1.3h-1.3zM137.8 402.1h1.3v1.3h-1.3zM138.9 396.8h1.3v1.3h-1.3zM128.3 414.8h1.3v1.3h-1.3zM131.9 398.2h1.3v1.3h-1.3zM130.8 411.5h1.3v1.3h-1.3zM127.7 412.6h1.3v1.3h-1.3zM127.2 411.8h1.3v1.3h-1.3zM133.4 414.5h1.3v1.3h-1.3zM130.6 413.8h1.3v1.3h-1.3zM133.2 411.8h1.3v1.3h-1.3z" fill="#4b1a5f"/>
<path d="M129.6 459.1h1.3v1.3h-1.3zM142.2 450.3h1.3v1.3h-1.3zM125.0 448.8h1.3v1.3h-1.3zM130.9 453.4h1.3v1.3h-1.3zM126.9 455.8h1.3v1.3h-1.3zM133.3 452.9h1.3v1.3h-1.3zM141.7 449.0h1.3v1.3h-1.3zM135.8 445.2h1.3v1.3h-1.3zM137.2 454.5h1.3v1.3h-1.3zM129.3 447.0h1.3v1.3h-1.3zM141.0 453.2h1.3v1.3h-1.3zM141.1 449.8h1.3v1.3h-1.3zM141.6 447.8h1.3v1.3h-1.3zM140.5 451.6h1.3v1.3h-1.3zM142.5 452.4h1.3v1.3h-1.3zM124.3 451.8h1.3v1.3h-1.3zM141.7 445.5h1.3v1.3h-1.3zM126.8 447.1h1.3v1.3h-1.3zM135.7 449.5h1.3v1.3h-1.3zM138.8 450.4h1.3v1.3h-1.3zM138.0 454.5h1.3v1.3h-1.3zM131.6 455.3h1.3v1.3h-1.3zM142.7 446.5h1.3v1.3h-1.3zM124.4 447.4h1.3v1.3h-1.3zM130.4 449.7h1.3v1.3h-1.3zM136.9 450.1h1.3v1.3h-1.3zM141.9 450.9h1.3v1.3h-1.3zM139.5 457.5h1.3v1.3h-1.3zM132.3 450.9h1.3v1.3h-1.3zM138.8 457.3h1.3v1.3h-1.3zM133.5 458.2h1.3v1.3h-1.3zM125.1 450.5h1.3v1.3h-1.3zM141.2 446.2h1.3v1.3h-1.3zM137.2 448.0h1.3v1.3h-1.3zM139.9 450.0h1.3v1.3h-1.3zM139.1 442.9h1.3v1.3h-1.3zM140.2 444.9h1.3v1.3h-1.3zM138.7 456.2h1.3v1.3h-1.3zM136.5 447.9h1.3v1.3h-1.3zM136.5 458.9h1.3v1.3h-1.3zM139.2 453.5h1.3v1.3h-1.3zM140.6 449.1h1.3v1.3h-1.3zM133.4 450.4h1.3v1.3h-1.3zM124.3 450.8h1.3v1.3h-1.3zM135.2 448.4h1.3v1.3h-1.3zM128.5 457.4h1.3v1.3h-1.3zM142.3 447.1h1.3v1.3h-1.3zM136.4 445.2h1.3v1.3h-1.3zM127.5 444.4h1.3v1.3h-1.3zM125.7 454.3h1.3v1.3h-1.3zM132.4 443.7h1.3v1.3h-1.3zM141.5 455.1h1.3v1.3h-1.3zM124.5 449.2h1.3v1.3h-1.3zM123.9 450.7h1.3v1.3h-1.3zM127.2 452.7h1.3v1.3h-1.3zM132.3 453.9h1.3v1.3h-1.3zM132.3 448.6h1.3v1.3h-1.3zM129.3 447.3h1.3v1.3h-1.3zM127.0 442.9h1.3v1.3h-1.3zM133.0 441.8h1.3v1.3h-1.3zM133.4 456.6h1.3v1.3h-1.3zM133.0 458.7h1.3v1.3h-1.3zM131.4 457.2h1.3v1.3h-1.3zM132.9 450.9h1.3v1.3h-1.3zM132.6 457.1h1.3v1.3h-1.3zM137.6 459.5h1.3v1.3h-1.3zM126.1 452.3h1.3v1.3h-1.3zM127.8 453.5h1.3v1.3h-1.3zM141.8 452.9h1.3v1.3h-1.3zM130.1 443.7h1.3v1.3h-1.3zM139.9 456.8h1.3v1.3h-1.3zM126.4 444.2h1.3v1.3h-1.3zM128.9 450.4h1.3v1.3h-1.3zM128.8 448.4h1.3v1.3h-1.3zM129.1 447.3h1.3v1.3h-1.3zM134.6 443.4h1.3v1.3h-1.3zM138.6 449.6h1.3v1.3h-1.3zM142.9 446.2h1.3v1.3h-1.3zM137.6 454.4h1.3v1.3h-1.3zM130.7 450.1h1.3v1.3h-1.3zM132.8 444.5h1.3v1.3h-1.3zM131.8 459.2h1.3v1.3h-1.3zM136.7 449.9h1.3v1.3h-1.3zM131.2 456.1h1.3v1.3h-1.3zM139.4 458.3h1.3v1.3h-1.3zM126.1 452.9h1.3v1.3h-1.3zM125.5 453.6h1.3v1.3h-1.3zM138.5 454.3h1.3v1.3h-1.3zM129.3 454.5h1.3v1.3h-1.3zM137.4 455.1h1.3v1.3h-1.3zM136.3 447.5h1.3v1.3h-1.3zM129.5 442.6h1.3v1.3h-1.3zM133.8 449.4h1.3v1.3h-1.3zM139.8 452.6h1.3v1.3h-1.3zM133.1 444.9h1.3v1.3h-1.3zM140.7 454.1h1.3v1.3h-1.3zM134.4 447.1h1.3v1.3h-1.3zM126.0 453.4h1.3v1.3h-1.3zM124.6 451.3h1.3v1.3h-1.3zM133.5 458.1h1.3v1.3h-1.3zM125.8 455.6h1.3v1.3h-1.3zM127.1 450.5h1.3v1.3h-1.3zM139.8 447.0h1.3v1.3h-1.3zM130.3 451.1h1.3v1.3h-1.3zM140.8 447.7h1.3v1.3h-1.3zM142.4 455.5h1.3v1.3h-1.3zM134.6 453.6h1.3v1.3h-1.3zM129.5 446.5h1.3v1.3h-1.3zM141.0 457.3h1.3v1.3h-1.3zM142.1 446.0h1.3v1.3h-1.3zM140.6 459.2h1.3v1.3h-1.3zM131.2 455.9h1.3v1.3h-1.3zM127.5 447.5h1.3v1.3h-1.3zM140.6 447.8h1.3v1.3h-1.3zM138.5 448.5h1.3v1.3h-1.3zM128.6 442.6h1.3v1.3h-1.3zM132.6 455.2h1.3v1.3h-1.3zM127.2 447.5h1.3v1.3h-1.3zM132.1 459.4h1.3v1.3h-1.3zM124.0 449.1h1.3v1.3h-1.3zM141.8 454.3h1.3v1.3h-1.3zM136.3 446.6h1.3v1.3h-1.3zM137.7 452.2h1.3v1.3h-1.3zM141.0 447.1h1.3v1.3h-1.3zM135.6 452.9h1.3v1.3h-1.3zM128.3 448.0h1.3v1.3h-1.3zM134.6 449.3h1.3v1.3h-1.3zM137.1 449.9h1.3v1.3h-1.3zM130.2 450.4h1.3v1.3h-1.3zM128.6 454.2h1.3v1.3h-1.3zM137.9 453.6h1.3v1.3h-1.3zM137.0 453.8h1.3v1.3h-1.3zM141.6 456.6h1.3v1.3h-1.3z" fill="#5da83a"/>
<path d="M131.6 417.8h1.3v1.3h-1.3zM133.3 412.8h1.3v1.3h-1.3zM128.1 414.8h1.3v1.3h-1.3zM136.4 413.3h1.3v1.3h-1.3zM128.5 423.1h1.3v1.3h-1.3zM133.8 420.0h1.3v1.3h-1.3zM127.8 411.7h1.3v1.3h-1.3zM130.5 423.0h1.3v1.3h-1.3zM134.9 425.8h1.3v1.3h-1.3zM130.8 422.0h1.3v1.3h-1.3zM134.1 418.1h1.3v1.3h-1.3z" fill="#66ade6"/>
<path d="M135.7 417.2h1.3v1.3h-1.3zM132.0 411.2h1.3v1.3h-1.3zM131.0 411.5h1.3v1.3h-1.3zM135.9 410.2h1.3v1.3h-1.3z" fill="#4b1a5f"/>
<path d="M136.6 418.1h1.3v1.3h-1.3zM132.0 420.9h1.3v1.3h-1.3zM135.8 411.7h1.3v1.3h-1.3zM130.3 426.3h1.3v1.3h-1.3zM129.8 413.0h1.3v1.3h-1.3zM135.5 419.4h1.3v1.3h-1.3zM132.5 411.4h1.3v1.3h-1.3zM138.3 415.0h1.3v1.3h-1.3zM131.7 420.7h1.3v1.3h-1.3zM133.4 412.7h1.3v1.3h-1.3zM130.9 414.5h1.3v1.3h-1.3z" fill="#66ade6"/>
<path d="M133.1 420.7h1.3v1.3h-1.3zM132.8 425.7h1.3v1.3h-1.3zM135.3 426.1h1.3v1.3h-1.3zM128.5 424.2h1.3v1.3h-1.3zM133.6 421.5h1.3v1.3h-1.3z" fill="#27447f"/>
<path d="M150.0 404.9h1.3v1.3h-1.3zM141.5 393.6h1.3v1.3h-1.3zM151.9 399.2h1.3v1.3h-1.3zM150.8 401.5h1.3v1.3h-1.3zM157.9 400.5h1.3v1.3h-1.3zM146.1 393.6h1.3v1.3h-1.3zM148.6 407.9h1.3v1.3h-1.3zM147.4 397.5h1.3v1.3h-1.3zM157.5 401.6h1.3v1.3h-1.3zM152.6 402.6h1.3v1.3h-1.3zM143.8 405.4h1.3v1.3h-1.3zM147.7 389.0h1.3v1.3h-1.3zM145.8 392.9h1.3v1.3h-1.3zM150.5 395.6h1.3v1.3h-1.3zM154.2 400.7h1.3v1.3h-1.3zM147.7 402.1h1.3v1.3h-1.3zM148.0 389.1h1.3v1.3h-1.3zM155.3 400.9h1.3v1.3h-1.3zM157.4 399.9h1.3v1.3h-1.3zM152.4 395.7h1.3v1.3h-1.3zM157.2 391.4h1.3v1.3h-1.3zM146.7 389.2h1.3v1.3h-1.3z" fill="#e19ac4"/>
<path d="M136.6 422.9h1.3v1.3h-1.3zM134.0 414.5h1.3v1.3h-1.3zM137.8 422.0h1.3v1.3h-1.3zM131.5 426.3h1.3v1.3h-1.3zM138.3 423.6h1.3v1.3h-1.3zM137.3 420.3h1.3v1.3h-1.3zM134.8 421.8h1.3v1.3h-1.3zM134.2 420.3h1.3v1.3h-1.3zM130.1 414.0h1.3v1.3h-1.3zM137.7 415.6h1.3v1.3h-1.3z" fill="#66ade6"/>
<path d="M157.2 447.5h1.3v1.3h-1.3zM150.7 450.9h1.3v1.3h-1.3zM154.3 451.0h1.3v1.3h-1.3zM151.4 448.7h1.3v1.3h-1.3zM151.5 451.1h1.3v1.3h-1.3zM160.2 438.9h1.3v1.3h-1.3zM155.0 440.0h1.3v1.3h-1.3zM146.1 443.2h1.3v1.3h-1.3zM153.2 442.6h1.3v1.3h-1.3zM150.0 453.0h1.3v1.3h-1.3zM148.2 447.6h1.3v1.3h-1.3zM142.7 442.6h1.3v1.3h-1.3zM144.3 446.2h1.3v1.3h-1.3zM155.6 449.9h1.3v1.3h-1.3zM157.1 445.1h1.3v1.3h-1.3zM154.1 438.1h1.3v1.3h-1.3zM142.7 443.7h1.3v1.3h-1.3zM155.9 445.2h1.3v1.3h-1.3zM149.6 439.4h1.3v1.3h-1.3zM151.1 443.2h1.3v1.3h-1.3zM148.2 445.0h1.3v1.3h-1.3zM150.5 444.5h1.3v1.3h-1.3zM149.0 453.0h1.3v1.3h-1.3zM146.1 440.1h1.3v1.3h-1.3zM148.0 440.2h1.3v1.3h-1.3zM143.3 446.3h1.3v1.3h-1.3zM153.1 442.2h1.3v1.3h-1.3zM150.4 448.5h1.3v1.3h-1.3zM158.9 447.2h1.3v1.3h-1.3zM149.1 449.0h1.3v1.3h-1.3zM148.8 440.2h1.3v1.3h-1.3zM149.8 444.0h1.3v1.3h-1.3zM157.0 442.9h1.3v1.3h-1.3zM160.5 447.8h1.3v1.3h-1.3zM157.9 450.2h1.3v1.3h-1.3zM149.5 451.7h1.3v1.3h-1.3zM152.5 445.3h1.3v1.3h-1.3zM144.7 447.0h1.3v1.3h-1.3zM148.2 444.8h1.3v1.3h-1.3zM146.4 444.9h1.3v1.3h-1.3zM159.4 439.0h1.3v1.3h-1.3zM157.6 451.0h1.3v1.3h-1.3zM146.9 448.8h1.3v1.3h-1.3zM147.3 443.1h1.3v1.3h-1.3zM153.8 443.8h1.3v1.3h-1.3zM157.4 439.3h1.3v1.3h-1.3zM157.9 447.3h1.3v1.3h-1.3zM147.4 438.9h1.3v1.3h-1.3zM154.1 440.0h1.3v1.3h-1.3zM159.1 444.1h1.3v1.3h-1.3zM154.2 443.3h1.3v1.3h-1.3zM154.4 438.8h1.3v1.3h-1.3zM151.3 442.1h1.3v1.3h-1.3zM155.9 439.9h1.3v1.3h-1.3zM153.9 440.7h1.3v1.3h-1.3zM153.4 440.6h1.3v1.3h-1.3zM152.2 446.7h1.3v1.3h-1.3zM152.7 444.9h1.3v1.3h-1.3zM158.9 445.3h1.3v1.3h-1.3zM150.1 448.7h1.3v1.3h-1.3zM145.4 444.9h1.3v1.3h-1.3zM156.0 447.7h1.3v1.3h-1.3zM154.0 447.6h1.3v1.3h-1.3zM149.5 452.7h1.3v1.3h-1.3zM149.4 449.6h1.3v1.3h-1.3zM146.0 449.6h1.3v1.3h-1.3zM156.3 441.6h1.3v1.3h-1.3zM152.4 448.5h1.3v1.3h-1.3zM157.9 451.7h1.3v1.3h-1.3zM145.4 444.4h1.3v1.3h-1.3zM160.9 447.9h1.3v1.3h-1.3zM146.1 445.3h1.3v1.3h-1.3zM153.9 441.3h1.3v1.3h-1.3zM156.7 438.5h1.3v1.3h-1.3zM156.6 452.0h1.3v1.3h-1.3zM158.9 443.1h1.3v1.3h-1.3zM157.3 443.1h1.3v1.3h-1.3zM143.5 445.1h1.3v1.3h-1.3zM161.1 444.9h1.3v1.3h-1.3zM157.4 440.9h1.3v1.3h-1.3zM151.6 441.3h1.3v1.3h-1.3zM153.9 452.5h1.3v1.3h-1.3zM151.0 451.5h1.3v1.3h-1.3zM148.7 438.8h1.3v1.3h-1.3zM160.8 446.2h1.3v1.3h-1.3zM153.9 452.8h1.3v1.3h-1.3zM144.5 440.1h1.3v1.3h-1.3zM161.4 444.1h1.3v1.3h-1.3zM158.8 441.9h1.3v1.3h-1.3zM143.2 442.2h1.3v1.3h-1.3zM148.9 438.7h1.3v1.3h-1.3zM154.2 441.6h1.3v1.3h-1.3zM156.3 441.9h1.3v1.3h-1.3zM149.8 443.2h1.3v1.3h-1.3zM150.8 441.4h1.3v1.3h-1.3zM145.0 447.2h1.3v1.3h-1.3zM145.7 448.3h1.3v1.3h-1.3zM150.7 445.9h1.3v1.3h-1.3zM158.2 444.7h1.3v1.3h-1.3zM151.9 445.6h1.3v1.3h-1.3zM155.6 437.2h1.3v1.3h-1.3zM161.2 442.8h1.3v1.3h-1.3zM160.8 446.0h1.3v1.3h-1.3zM145.8 442.9h1.3v1.3h-1.3zM159.0 446.2h1.3v1.3h-1.3zM150.5 450.5h1.3v1.3h-1.3zM151.4 440.8h1.3v1.3h-1.3zM151.5 441.4h1.3v1.3h-1.3zM155.3 441.2h1.3v1.3h-1.3zM147.7 443.2h1.3v1.3h-1.3z" fill="#2f5e46"/>
<path d="M130.0 411.4h1.3v1.3h-1.3zM132.1 410.3h1.3v1.3h-1.3zM130.1 416.5h1.3v1.3h-1.3zM129.7 409.8h1.3v1.3h-1.3z" fill="#4b1a5f"/>
<path d="M124.6 451.4h1.3v1.3h-1.3zM140.5 430.9h1.3v1.3h-1.3zM128.6 435.6h1.3v1.3h-1.3zM126.4 440.9h1.3v1.3h-1.3zM139.7 434.8h1.3v1.3h-1.3zM127.7 429.8h1.3v1.3h-1.3zM127.2 443.3h1.3v1.3h-1.3zM117.8 443.4h1.3v1.3h-1.3zM130.8 443.6h1.3v1.3h-1.3zM127.3 450.8h1.3v1.3h-1.3zM123.6 439.0h1.3v1.3h-1.3zM125.3 453.2h1.3v1.3h-1.3zM130.8 428.0h1.3v1.3h-1.3zM142.6 440.3h1.3v1.3h-1.3zM131.3 427.0h1.3v1.3h-1.3zM140.9 444.2h1.3v1.3h-1.3zM129.0 437.7h1.3v1.3h-1.3zM126.4 442.7h1.3v1.3h-1.3zM122.8 432.2h1.3v1.3h-1.3zM117.1 444.8h1.3v1.3h-1.3zM126.8 440.4h1.3v1.3h-1.3zM119.3 445.6h1.3v1.3h-1.3zM142.7 436.5h1.3v1.3h-1.3zM122.1 435.9h1.3v1.3h-1.3zM125.6 437.2h1.3v1.3h-1.3zM134.7 441.9h1.3v1.3h-1.3zM136.3 430.2h1.3v1.3h-1.3zM126.2 431.9h1.3v1.3h-1.3zM134.4 440.0h1.3v1.3h-1.3zM125.9 447.0h1.3v1.3h-1.3zM137.9 439.7h1.3v1.3h-1.3zM120.9 440.3h1.3v1.3h-1.3zM119.6 452.3h1.3v1.3h-1.3zM122.1 433.7h1.3v1.3h-1.3zM128.3 432.9h1.3v1.3h-1.3zM125.2 437.2h1.3v1.3h-1.3zM124.0 450.7h1.3v1.3h-1.3zM131.4 442.3h1.3v1.3h-1.3zM116.9 441.5h1.3v1.3h-1.3zM131.9 437.3h1.3v1.3h-1.3zM140.0 429.4h1.3v1.3h-1.3zM135.6 439.2h1.3v1.3h-1.3zM125.4 451.0h1.3v1.3h-1.3zM123.7 453.5h1.3v1.3h-1.3zM124.5 441.0h1.3v1.3h-1.3zM137.0 440.1h1.3v1.3h-1.3zM136.6 436.6h1.3v1.3h-1.3zM123.2 436.1h1.3v1.3h-1.3zM121.7 451.4h1.3v1.3h-1.3zM131.8 447.4h1.3v1.3h-1.3zM140.6 442.1h1.3v1.3h-1.3zM131.5 446.0h1.3v1.3h-1.3zM122.7 436.8h1.3v1.3h-1.3zM140.5 431.7h1.3v1.3h-1.3zM125.1 433.5h1.3v1.3h-1.3zM131.7 442.1h1.3v1.3h-1.3zM132.1 436.4h1.3v1.3h-1.3zM140.1 447.2h1.3v1.3h-1.3zM125.3 435.6h1.3v1.3h-1.3zM136.3 438.5h1.3v1.3h-1.3zM123.5 447.7h1.3v1.3h-1.3zM137.4 449.4h1.3v1.3h-1.3zM136.5 429.2h1.3v1.3h-1.3zM135.5 445.5h1.3v1.3h-1.3zM125.2 451.0h1.3v1.3h-1.3zM134.1 433.2h1.3v1.3h-1.3zM135.5 437.8h1.3v1.3h-1.3zM131.9 429.9h1.3v1.3h-1.3zM119.3 449.9h1.3v1.3h-1.3zM122.3 437.0h1.3v1.3h-1.3zM118.7 433.8h1.3v1.3h-1.3zM132.1 439.2h1.3v1.3h-1.3zM142.2 439.9h1.3v1.3h-1.3zM132.4 434.4h1.3v1.3h-1.3zM122.1 440.5h1.3v1.3h-1.3zM136.0 442.4h1.3v1.3h-1.3zM137.3 450.5h1.3v1.3h-1.3zM143.1 442.4h1.3v1.3h-1.3zM139.2 449.3h1.3v1.3h-1.3zM132.2 431.0h1.3v1.3h-1.3zM139.4 444.8h1.3v1.3h-1.3zM129.2 438.6h1.3v1.3h-1.3zM124.5 448.4h1.3v1.3h-1.3zM121.0 443.2h1.3v1.3h-1.3zM121.3 450.9h1.3v1.3h-1.3zM121.4 434.8h1.3v1.3h-1.3zM134.5 434.1h1.3v1.3h-1.3zM139.5 440.6h1.3v1.3h-1.3zM127.6 436.7h1.3v1.3h-1.3zM128.2 433.7h1.3v1.3h-1.3zM119.3 438.4h1.3v1.3h-1.3zM129.3 431.8h1.3v1.3h-1.3zM132.9 441.5h1.3v1.3h-1.3zM126.4 434.2h1.3v1.3h-1.3zM124.0 449.4h1.3v1.3h-1.3zM138.8 444.6h1.3v1.3h-1.3zM133.6 427.9h1.3v1.3h-1.3zM132.3 431.9h1.3v1.3h-1.3zM125.1 434.8h1.3v1.3h-1.3zM136.6 433.5h1.3v1.3h-1.3zM136.0 452.0h1.3v1.3h-1.3zM124.1 428.4h1.3v1.3h-1.3zM137.1 450.6h1.3v1.3h-1.3zM125.3 440.3h1.3v1.3h-1.3zM138.4 444.8h1.3v1.3h-1.3zM127.2 453.5h1.3v1.3h-1.3zM118.3 436.8h1.3v1.3h-1.3zM141.4 432.8h1.3v1.3h-1.3zM125.0 447.8h1.3v1.3h-1.3zM138.9 441.4h1.3v1.3h-1.3zM131.7 430.5h1.3v1.3h-1.3zM125.8 446.2h1.3v1.3h-1.3zM133.7 451.9h1.3v1.3h-1.3zM127.5 454.6h1.3v1.3h-1.3zM122.1 451.2h1.3v1.3h-1.3zM127.6 442.3h1.3v1.3h-1.3zM124.0 430.8h1.3v1.3h-1.3zM122.9 430.0h1.3v1.3h-1.3zM126.5 442.7h1.3v1.3h-1.3zM120.4 439.8h1.3v1.3h-1.3zM133.1 429.4h1.3v1.3h-1.3zM143.2 435.3h1.3v1.3h-1.3zM127.3 437.2h1.3v1.3h-1.3zM123.5 433.3h1.3v1.3h-1.3zM139.0 446.3h1.3v1.3h-1.3zM131.8 444.4h1.3v1.3h-1.3zM140.8 440.6h1.3v1.3h-1.3zM122.3 441.6h1.3v1.3h-1.3zM136.6 437.1h1.3v1.3h-1.3zM123.7 441.8h1.3v1.3h-1.3zM126.9 431.6h1.3v1.3h-1.3zM126.7 442.4h1.3v1.3h-1.3zM132.8 453.5h1.3v1.3h-1.3zM140.4 433.9h1.3v1.3h-1.3zM138.8 428.3h1.3v1.3h-1.3zM143.6 440.9h1.3v1.3h-1.3zM124.4 455.3h1.3v1.3h-1.3zM134.9 449.9h1.3v1.3h-1.3zM122.6 437.9h1.3v1.3h-1.3zM134.2 446.3h1.3v1.3h-1.3zM138.9 448.1h1.3v1.3h-1.3zM127.4 448.6h1.3v1.3h-1.3zM125.6 441.0h1.3v1.3h-1.3zM131.2 442.0h1.3v1.3h-1.3zM135.3 440.3h1.3v1.3h-1.3zM129.1 435.2h1.3v1.3h-1.3zM122.8 432.8h1.3v1.3h-1.3zM137.0 449.6h1.3v1.3h-1.3zM121.9 441.2h1.3v1.3h-1.3zM142.1 438.7h1.3v1.3h-1.3zM133.1 434.8h1.3v1.3h-1.3zM135.3 431.2h1.3v1.3h-1.3zM137.5 438.3h1.3v1.3h-1.3zM129.3 436.6h1.3v1.3h-1.3zM127.6 442.4h1.3v1.3h-1.3zM118.5 441.3h1.3v1.3h-1.3zM123.9 432.6h1.3v1.3h-1.3zM131.6 443.5h1.3v1.3h-1.3zM140.3 430.7h1.3v1.3h-1.3zM137.5 442.2h1.3v1.3h-1.3zM132.0 429.3h1.3v1.3h-1.3zM119.9 438.7h1.3v1.3h-1.3zM123.1 448.6h1.3v1.3h-1.3zM121.7 438.5h1.3v1.3h-1.3zM127.7 436.4h1.3v1.3h-1.3zM126.7 433.7h1.3v1.3h-1.3zM134.9 445.1h1.3v1.3h-1.3zM139.7 437.3h1.3v1.3h-1.3zM139.0 442.6h1.3v1.3h-1.3zM122.7 436.4h1.3v1.3h-1.3zM136.9 433.3h1.3v1.3h-1.3zM141.8 444.4h1.3v1.3h-1.3zM120.4 449.1h1.3v1.3h-1.3zM139.8 445.9h1.3v1.3h-1.3zM120.4 438.0h1.3v1.3h-1.3zM128.7 439.4h1.3v1.3h-1.3zM131.9 437.5h1.3v1.3h-1.3zM134.5 440.6h1.3v1.3h-1.3zM118.6 433.2h1.3v1.3h-1.3zM125.3 445.1h1.3v1.3h-1.3zM128.8 447.9h1.3v1.3h-1.3zM124.9 446.7h1.3v1.3h-1.3zM123.3 435.0h1.3v1.3h-1.3zM131.0 433.4h1.3v1.3h-1.3zM130.0 435.5h1.3v1.3h-1.3zM128.6 446.8h1.3v1.3h-1.3zM134.7 447.1h1.3v1.3h-1.3z" fill="#27447f"/>
<path d="M143.1 392.3h1.3v1.3h-1.3zM143.7 404.7h1.3v1.3h-1.3zM146.9 393.2h1.3v1.3h-1.3zM145.7 394.7h1.3v1.3h-1.3zM149.3 388.6h1.3v1.3h-1.3zM152.6 394.1h1.3v1.3h-1.3zM147.8 404.4h1.3v1.3h-1.3zM140.3 394.9h1.3v1.3h-1.3zM145.8 404.5h1.3v1.3h-1.3zM153.0 399.9h1.3v1.3h-1.3zM146.9 402.2h1.3v1.3h-1.3zM147.9 407.3h1.3v1.3h-1.3zM147.7 395.3h1.3v1.3h-1.3zM150.8 389.5h1.3v1.3h-1.3zM149.9 409.5h1.3v1.3h-1.3zM158.0 398.4h1.3v1.3h-1.3zM145.7 404.7h1.3v1.3h-1.3zM150.3 401.4h1.3v1.3h-1.3zM149.3 390.9h1.3v1.3h-1.3zM152.1 400.1h1.3v1.3h-1.3zM142.7 398.6h1.3v1.3h-1.3zM144.4 394.3h1.3v1.3h-1.3z" fill="#e19ac4"/>
<path d="M127.0 410.6h1.3v1.3h-1.3zM140.0 395.7h1.3v1.3h-1.3zM133.9 414.4h1.3v1.3h-1.3zM127.9 400.9h1.3v1.3h-1.3zM134.4 407.2h1.3v1.3h-1.3zM131.3 403.9h1.3v1.3h-1.3zM139.8 396.9h1.3v1.3h-1.3zM138.0 403.7h1.3v1.3h-1.3zM132.1 410.8h1.3v1.3h-1.3zM137.6 396.7h1.3v1.3h-1.3zM139.1 392.0h1.3v1.3h-1.3zM127.8 405.0h1.3v1.3h-1.3zM128.6 415.2h1.3v1.3h-1.3zM137.1 398.6h1.3v1.3h-1.3zM131.7 408.1h1.3v1.3h-1.3zM134.8 396.5h1.3v1.3h-1.3zM131.8 405.3h1.3v1.3h-1.3zM129.2 400.6h1.3v1.3h-1.3zM133.9 398.2h1.3v1.3h-1.3zM132.1 395.2h1.3v1.3h-1.3zM132.4 410.1h1.3v1.3h-1.3zM138.5 399.4h1.3v1.3h-1.3zM126.6 406.3h1.3v1.3h-1.3zM133.8 400.5h1.3v1.3h-1.3zM134.1 409.3h1.3v1.3h-1.3zM129.5 401.3h1.3v1.3h-1.3zM131.4 409.1h1.3v1.3h-1.3zM132.1 407.9h1.3v1.3h-1.3zM128.6 400.9h1.3v1.3h-1.3zM128.1 412.8h1.3v1.3h-1.3zM130.6 409.2h1.3v1.3h-1.3zM140.5 401.1h1.3v1.3h-1.3z" fill="#4b1a5f"/>
<path d="M21.5 467.7 V485 H40.3" fill="none" stroke="#222" stroke-width="0.95"/>
<path d="M21.5 463.7 L19.1 469.1 L23.9 469.1 Z" fill="#222"/>
<path d="M44.3 485 L38.9 482.6 L38.9 487.4 Z" fill="#222"/>
<circle cx="196.5" cy="384.2" r="3.4" fill="#4b1a5f"/>
<text x="203.2" y="386.2" font-size="5.6" fill="#3a3a3a" textLength="71.6" lengthAdjust="spacingAndGlyphs">CD39+CD70+Ki67+EBNA2+</text>
<circle cx="196.5" cy="397.7" r="3.4" fill="#e19ac4"/>
<text x="203.2" y="399.7" font-size="5.6" fill="#3a3a3a" textLength="77" lengthAdjust="spacingAndGlyphs">CD39+CD70+Ki67lowEBNA2+</text>
<circle cx="196.5" cy="411" r="3.4" fill="#9485c6"/>
<text x="203.2" y="413" font-size="5.6" fill="#3a3a3a" textLength="83.7" lengthAdjust="spacingAndGlyphs">CD39+CD70+Ki67−EBNA2Low/−</text>
<circle cx="196.5" cy="423.4" r="3.4" fill="#66ade6"/>
<text x="203.2" y="425.4" font-size="5.6" fill="#3a3a3a" textLength="81.3" lengthAdjust="spacingAndGlyphs">CD39+CD70lowKi67lowEBNA2+</text>
<circle cx="196.5" cy="436.2" r="3.4" fill="#27447f"/>
<text x="203.2" y="438.2" font-size="5.6" fill="#3a3a3a" textLength="71.6" lengthAdjust="spacingAndGlyphs">CD39−CD70−Ki67+EBNA2+</text>
<circle cx="196.5" cy="448.9" r="3.4" fill="#5da83a"/>
<text x="203.2" y="450.9" font-size="5.6" fill="#3a3a3a" textLength="69.7" lengthAdjust="spacingAndGlyphs">CD39−CD70−Ki67-EBNA2+</text>
<circle cx="196.5" cy="461.5" r="3.4" fill="#2f5e46"/>
<text x="203.2" y="463.5" font-size="5.6" fill="#3a3a3a" textLength="82.3" lengthAdjust="spacingAndGlyphs">CD39−CD70−Ki67−EBNA2low/−</text>
<text x="7.2" y="515" font-size="12" font-weight="bold" fill="#111" class="pl">G</text>
<rect x="59.8" y="527.3" width="79.5" height="83.1" fill="#1e1e1e"/>
<rect x="60.95" y="528.45" width="14.56" height="10.6" fill="#fafafa"/>
<rect x="61.6" y="529.1" width="13.76" height="9.8" fill="#d9d9d9"/>
<rect x="76.61" y="528.45" width="14.56" height="10.6" fill="#fafafa"/>
<rect x="77.26" y="529.1" width="13.76" height="9.8" fill="#ffffff"/>
<rect x="92.27" y="528.45" width="14.56" height="10.6" fill="#fafafa"/>
<rect x="92.92" y="529.1" width="13.76" height="9.8" fill="#ffffff"/>
<rect x="107.93" y="528.45" width="14.56" height="10.6" fill="#fafafa"/>
<rect x="108.58" y="529.1" width="13.76" height="9.8" fill="#f3f3f3"/>
<rect x="123.59" y="528.45" width="14.56" height="10.6" fill="#fafafa"/>
<rect x="124.24" y="529.1" width="13.76" height="9.8" fill="#dcdcdc"/>
<rect x="60.95" y="540.15" width="14.56" height="10.6" fill="#fafafa"/>
<rect x="61.6" y="540.8" width="13.76" height="9.8" fill="#ececec"/>
<rect x="76.61" y="540.15" width="14.56" height="10.6" fill="#fafafa"/>
<rect x="77.26" y="540.8" width="13.76" height="9.8" fill="#ffffff"/>
<rect x="92.27" y="540.15" width="14.56" height="10.6" fill="#fafafa"/>
<rect x="92.92" y="540.8" width="13.76" height="9.8" fill="#ffffff"/>
<rect x="107.93" y="540.15" width="14.56" height="10.6" fill="#fafafa"/>
<rect x="108.58" y="540.8" width="13.76" height="9.8" fill="#f2f2f2"/>
<rect x="123.59" y="540.15" width="14.56" height="10.6" fill="#fafafa"/>
<rect x="124.24" y="540.8" width="13.76" height="9.8" fill="#303030"/>
<rect x="60.95" y="551.85" width="14.56" height="10.6" fill="#fafafa"/>
<rect x="61.6" y="552.5" width="13.76" height="9.8" fill="#858585"/>
<rect x="76.61" y="551.85" width="14.56" height="10.6" fill="#fafafa"/>
<rect x="77.26" y="552.5" width="13.76" height="9.8" fill="#fbfcfb"/>
<rect x="92.27" y="551.85" width="14.56" height="10.6" fill="#fafafa"/>
<rect x="92.92" y="552.5" width="13.76" height="9.8" fill="#ffffff"/>
<rect x="107.93" y="551.85" width="14.56" height="10.6" fill="#fafafa"/>
<rect x="108.58" y="552.5" width="13.76" height="9.8" fill="#f2f2f2"/>
<rect x="123.59" y="551.85" width="14.56" height="10.6" fill="#fafafa"/>
<rect x="124.24" y="552.5" width="13.76" height="9.8" fill="#2a2a2a"/>
<rect x="60.95" y="563.55" width="14.56" height="10.6" fill="#fafafa"/>
<rect x="61.6" y="564.2" width="13.76" height="9.8" fill="#dddddd"/>
<rect x="76.61" y="563.55" width="14.56" height="10.6" fill="#fafafa"/>
<rect x="77.26" y="564.2" width="13.76" height="9.8" fill="#7a7a7a"/>
<rect x="92.27" y="563.55" width="14.56" height="10.6" fill="#fafafa"/>
<rect x="92.92" y="564.2" width="13.76" height="9.8" fill="#737373"/>
<rect x="107.93" y="563.55" width="14.56" height="10.6" fill="#fafafa"/>
<rect x="108.58" y="564.2" width="13.76" height="9.8" fill="#f3f3f3"/>
<rect x="123.59" y="563.55" width="14.56" height="10.6" fill="#fafafa"/>
<rect x="124.24" y="564.2" width="13.76" height="9.8" fill="#f0f0f0"/>
<rect x="60.95" y="575.25" width="14.56" height="10.6" fill="#fafafa"/>
<rect x="61.6" y="575.9" width="13.76" height="9.8" fill="#c2c2c2"/>
<rect x="76.61" y="575.25" width="14.56" height="10.6" fill="#fafafa"/>
<rect x="77.26" y="575.9" width="13.76" height="9.8" fill="#5a5a5a"/>
<rect x="92.27" y="575.25" width="14.56" height="10.6" fill="#fafafa"/>
<rect x="92.92" y="575.9" width="13.76" height="9.8" fill="#303030"/>
<rect x="107.93" y="575.25" width="14.56" height="10.6" fill="#fafafa"/>
<rect x="108.58" y="575.9" width="13.76" height="9.8" fill="#fafafa"/>
<rect x="123.59" y="575.25" width="14.56" height="10.6" fill="#fafafa"/>
<rect x="124.24" y="575.9" width="13.76" height="9.8" fill="#333333"/>
<rect x="60.95" y="586.95" width="14.56" height="10.6" fill="#fafafa"/>
<rect x="61.6" y="587.6" width="13.76" height="9.8" fill="#c6c6c6"/>
<rect x="76.61" y="586.95" width="14.56" height="10.6" fill="#fafafa"/>
<rect x="77.26" y="587.6" width="13.76" height="9.8" fill="#5e5e5e"/>
<rect x="92.27" y="586.95" width="14.56" height="10.6" fill="#fafafa"/>
<rect x="92.92" y="587.6" width="13.76" height="9.8" fill="#b8b8b8"/>
<rect x="107.93" y="586.95" width="14.56" height="10.6" fill="#fafafa"/>
<rect x="108.58" y="587.6" width="13.76" height="9.8" fill="#f9f9f9"/>
<rect x="123.59" y="586.95" width="14.56" height="10.6" fill="#fafafa"/>
<rect x="124.24" y="587.6" width="13.76" height="9.8" fill="#2d2d2d"/>
<rect x="60.95" y="598.65" width="14.56" height="10.6" fill="#fafafa"/>
<rect x="61.6" y="599.3" width="13.76" height="9.8" fill="#767676"/>
<rect x="76.61" y="598.65" width="14.56" height="10.6" fill="#fafafa"/>
<rect x="77.26" y="599.3" width="13.76" height="9.8" fill="#444444"/>
<rect x="92.27" y="598.65" width="14.56" height="10.6" fill="#fafafa"/>
<rect x="92.92" y="599.3" width="13.76" height="9.8" fill="#a5a5a5"/>
<rect x="107.93" y="598.65" width="14.56" height="10.6" fill="#fafafa"/>
<rect x="108.58" y="599.3" width="13.76" height="9.8" fill="#ffffff"/>
<rect x="123.59" y="598.65" width="14.56" height="10.6" fill="#fafafa"/>
<rect x="124.24" y="599.3" width="13.76" height="9.8" fill="#1a1a14"/>
<path d="M34.7 533.75L60.4 533.75M44.1 545.45L60.4 545.45M44.1 557.15L60.4 557.15M44.1 545.45L44.1 557.15M34.7 551.3L44.1 551.3M34.7 533.75L34.7 551.3M19.3 542.4L34.7 542.4M28.4 568.85L60.4 568.85M43.5 580.55L60.4 580.55M48.4 592.25L60.4 592.25M48.4 603.95L60.4 603.95M48.4 592.25L48.4 603.95M43.5 598.3L48.4 598.3M43.5 580.55L43.5 598.3M28.4 589.4L43.5 589.4M28.4 568.85L28.4 589.4M19.3 579.1L28.4 579.1M19.3 542.4L19.3 579.1" stroke="#2a2a2a" stroke-width="0.95" fill="none" stroke-linecap="square"/>
<text x="142.1" y="535.75" font-size="5.6" fill="#3a3a3a" textLength="81.7" lengthAdjust="spacingAndGlyphs">CD39−CD70−Ki67−EBNA2low/−</text>
<text x="142.1" y="547.45" font-size="5.6" fill="#3a3a3a" textLength="69.4" lengthAdjust="spacingAndGlyphs">CD39−CD70−Ki67-EBNA2+</text>
<text x="142.1" y="559.15" font-size="5.6" fill="#3a3a3a" textLength="71.4" lengthAdjust="spacingAndGlyphs">CD39−CD70−Ki67+EBNA2+</text>
<text x="142.1" y="570.85" font-size="5.6" fill="#3a3a3a" textLength="83.3" lengthAdjust="spacingAndGlyphs">CD39+CD70+Ki67−EBNA2Low/−</text>
<text x="142.1" y="582.55" font-size="5.6" fill="#3a3a3a" textLength="81" lengthAdjust="spacingAndGlyphs">CD39+CD70lowKi67lowEBNA2+</text>
<text x="142.1" y="594.25" font-size="5.6" fill="#3a3a3a" textLength="76" lengthAdjust="spacingAndGlyphs">CD39+CD70+Ki67lowEBNA2+</text>
<text x="142.1" y="605.95" font-size="5.6" fill="#3a3a3a" textLength="70.8" lengthAdjust="spacingAndGlyphs">CD39+CD70+Ki67+EBNA2+</text>
<g transform="translate(70.13 612.8) rotate(-90)">
<text x="0" y="0" font-size="5.3" text-anchor="end" fill="#333" textLength="10.9" lengthAdjust="spacingAndGlyphs">Ki67</text>
</g>
<g transform="translate(85.79 612.8) rotate(-90)">
<text x="0" y="0" font-size="5.3" text-anchor="end" fill="#333" textLength="13.8" lengthAdjust="spacingAndGlyphs">CD39</text>
</g>
<g transform="translate(101.45 612.8) rotate(-90)">
<text x="0" y="0" font-size="5.3" text-anchor="end" fill="#333" textLength="13.8" lengthAdjust="spacingAndGlyphs">CD70</text>
</g>
<g transform="translate(117.11 612.8) rotate(-90)">
<text x="0" y="0" font-size="5.3" text-anchor="end" fill="#333" textLength="13.8" lengthAdjust="spacingAndGlyphs">CD73</text>
</g>
<g transform="translate(132.77 612.8) rotate(-90)">
<text x="0" y="0" font-size="5.3" text-anchor="end" fill="#333" textLength="17.8" lengthAdjust="spacingAndGlyphs">EBNA2</text>
</g>
<defs><linearGradient id="cbar" x1="0" y1="0" x2="0" y2="1"><stop offset="0" stop-color="#141414"/><stop offset="0.18" stop-color="#3a3a3a"/><stop offset="0.5" stop-color="#7c7c7c"/><stop offset="0.78" stop-color="#d0d0d0"/><stop offset="1" stop-color="#fdfdfd"/></linearGradient></defs>
<rect x="236.9" y="521.2" width="7.7" height="111.1" fill="url(#cbar)"/>
<text x="247.7" y="526.5" font-size="5.3" fill="#333">0.7</text>
<text x="247.7" y="544.62" font-size="5.3" fill="#333">0.6</text>
<text x="247.7" y="562.74" font-size="5.3" fill="#333">0.5</text>
<text x="247.7" y="580.86" font-size="5.3" fill="#333">0.4</text>
<text x="247.7" y="598.98" font-size="5.3" fill="#333">0.3</text>
<text x="247.7" y="617.1" font-size="5.3" fill="#333">0.2</text>
<text x="247.7" y="635.22" font-size="5.3" fill="#333">0.1</text>
<text x="271.5" y="515" font-size="12" font-weight="bold" fill="#111" class="pl">H</text>
<line x1="310.2" y1="524.2" x2="310.2" y2="624.4" stroke="#222" stroke-width="1.1"/>
<line x1="308" y1="623.8" x2="310.2" y2="623.8" stroke="#222" stroke-width="0.9"/>
<text x="304.4" y="625.5" font-size="5.3" text-anchor="end" fill="#333">0</text>
<line x1="308" y1="604.38" x2="310.2" y2="604.38" stroke="#222" stroke-width="0.9"/>
<text x="304.4" y="606.08" font-size="5.3" text-anchor="end" fill="#333">20</text>
<line x1="308" y1="584.95" x2="310.2" y2="584.95" stroke="#222" stroke-width="0.9"/>
<text x="304.4" y="586.65" font-size="5.3" text-anchor="end" fill="#333">40</text>
<line x1="308" y1="565.53" x2="310.2" y2="565.53" stroke="#222" stroke-width="0.9"/>
<text x="304.4" y="567.23" font-size="5.3" text-anchor="end" fill="#333">60</text>
<line x1="308" y1="546.1" x2="310.2" y2="546.1" stroke="#222" stroke-width="0.9"/>
<text x="304.4" y="547.8" font-size="5.3" text-anchor="end" fill="#333">80</text>
<line x1="308" y1="526.68" x2="310.2" y2="526.68" stroke="#222" stroke-width="0.9"/>
<text x="304.4" y="528.38" font-size="5.3" text-anchor="end" fill="#333">100</text>
<rect x="325.8" y="621" width="27.2" height="2.3" fill="#2e5e46"/>
<rect x="325.8" y="615.9" width="27.2" height="5.1" fill="#5ea83c"/>
<rect x="325.8" y="610.4" width="27.2" height="5.5" fill="#26447e"/>
<rect x="325.8" y="596.2" width="27.2" height="14.2" fill="#62a8e0"/>
<rect x="325.8" y="588.3" width="27.2" height="7.9" fill="#9082c0"/>
<rect x="325.8" y="546.8" width="27.2" height="41.5" fill="#dc9cc0"/>
<rect x="325.8" y="530.2" width="27.2" height="16.6" fill="#4f1f5e"/>
<rect x="369.3" y="600.2" width="27.6" height="23.1" fill="#2f6149"/>
<rect x="369.3" y="577.8" width="27.6" height="22.4" fill="#69a843"/>
<rect x="369.3" y="540.5" width="27.6" height="37.3" fill="#2d4c82"/>
<rect x="369.3" y="535.6" width="27.6" height="4.9" fill="#66ade6"/>
<rect x="369.3" y="534.6" width="27.6" height="1" fill="#9485c6"/>
<rect x="369.3" y="532.2" width="27.6" height="2.4" fill="#e19ac4"/>
<rect x="369.3" y="528.8" width="27.6" height="3.4" fill="#4b1a5f"/>
<line x1="339.4" y1="528" x2="339.4" y2="530.2" stroke="#222" stroke-width="1"/>
<line x1="332.3" y1="528" x2="346.7" y2="528" stroke="#555" stroke-width="1.1"/>
<line x1="339.4" y1="537.8" x2="339.4" y2="546.8" stroke="#111" stroke-width="1.1"/>
<line x1="332.3" y1="537.8" x2="346.7" y2="537.8" stroke="#111" stroke-width="1.1"/>
<line x1="339.4" y1="583.8" x2="339.4" y2="588.3" stroke="#111" stroke-width="1.1"/>
<line x1="332.3" y1="583.8" x2="346.5" y2="583.8" stroke="#111" stroke-width="1.1"/>
<line x1="339.4" y1="593.5" x2="339.4" y2="596.2" stroke="#111" stroke-width="1.1"/>
<line x1="332.3" y1="593.5" x2="346.5" y2="593.5" stroke="#111" stroke-width="1.1"/>
<line x1="339.4" y1="601.4" x2="339.4" y2="627" stroke="#111" stroke-width="1.1"/>
<line x1="332.3" y1="601.4" x2="346.5" y2="601.4" stroke="#111" stroke-width="1.1"/>
<line x1="332.3" y1="608.5" x2="346.5" y2="608.5" stroke="#111" stroke-width="1.1"/>
<line x1="332.3" y1="613.3" x2="346.5" y2="613.3" stroke="#111" stroke-width="1.1"/>
<line x1="383.2" y1="520.8" x2="383.2" y2="540" stroke="#333" stroke-width="1.1"/>
<line x1="376" y1="520.8" x2="390" y2="520.8" stroke="#555" stroke-width="1.1"/>
<line x1="376" y1="528.5" x2="390" y2="528.5" stroke="#1a1a1a" stroke-width="1.1"/>
<line x1="376" y1="533.2" x2="390" y2="533.2" stroke="#1a1a1a" stroke-width="1.1"/>
<line x1="376" y1="535.8" x2="390" y2="535.8" stroke="#1a1a1a" stroke-width="1.1"/>
<line x1="376" y1="576.1" x2="390" y2="576.1" stroke="#111" stroke-width="1.1"/>
<line x1="383.2" y1="576.1" x2="383.2" y2="577.8" stroke="#111" stroke-width="1"/>
<line x1="376" y1="598.3" x2="390" y2="598.3" stroke="#111" stroke-width="1.1"/>
<line x1="383.2" y1="598.3" x2="383.2" y2="600.2" stroke="#111" stroke-width="1"/>
<line x1="309.7" y1="623.8" x2="412.5" y2="623.8" stroke="#222" stroke-width="1.1"/>
<line x1="383.2" y1="623.8" x2="383.2" y2="626.2" stroke="#222" stroke-width="0.9"/>
<text x="339.4" y="635.2" font-size="5.4" text-anchor="middle" fill="#333">EBV +</text>
<text x="339.4" y="641.5" font-size="5.4" text-anchor="middle" fill="#333" textLength="29.5" lengthAdjust="spacingAndGlyphs">α-CD27 blo.</text>
<text x="383.2" y="635.2" font-size="5.4" text-anchor="middle" fill="#333">EBV +</text>
<text x="383.2" y="641.5" font-size="5.4" text-anchor="middle" fill="#333" textLength="28" lengthAdjust="spacingAndGlyphs">IsoCtrl. blo.</text>
<rect x="0" y="0" width="520" height="1" fill="#000"/>
<rect x="0" y="0" width="1.1" height="650" fill="#000"/>
<rect x="518.6" y="0" width="1.4" height="650" fill="#000"/>
<rect x="0" y="648.4" width="520" height="1.6" fill="#000"/>
</svg></body></html>
